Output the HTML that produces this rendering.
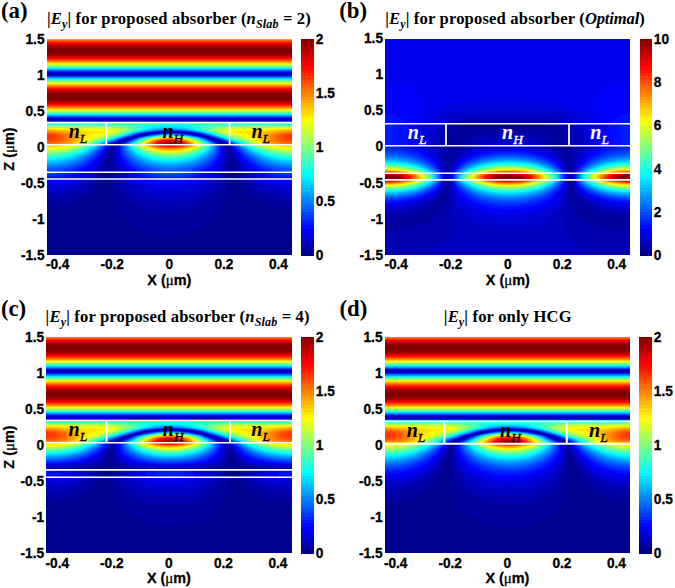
<!DOCTYPE html>
<html><head><meta charset="utf-8"><title>Ey field maps</title><style>

html,body{margin:0;padding:0;background:#fff}
body{width:675px;height:588px;position:relative;overflow:hidden;font-family:"Liberation Sans",sans-serif;color:#000}
.hm{position:absolute;overflow:hidden}
.hm i{display:block;height:1px;width:100%;background:linear-gradient(90deg,var(--g))}
.cb{position:absolute}
.ov{position:absolute;left:0;top:0;pointer-events:none}
.tk{position:absolute;font:bold 13.7px/16px "Liberation Sans",sans-serif;white-space:nowrap;-webkit-text-stroke:0.3px #000;transform:scaleY(1.04)}
.zr{width:40px;text-align:right}
.xc{width:40px;text-align:center}
.cl{text-align:left}
.ax{position:absolute;font:bold 14.4px/16px "Liberation Sans",sans-serif;white-space:nowrap;-webkit-text-stroke:0.3px #000}
.zl{width:80px;text-align:center;transform:rotate(-90deg);transform-origin:50% 50%}
.mu{font-family:"Liberation Serif",serif;font-weight:normal;font-size:15px}
.pl{position:absolute;font:bold 22.8px/24px "Liberation Serif",serif;white-space:nowrap}
.tt{position:absolute;font:bold 16.6px/18px "Liberation Serif",serif;white-space:nowrap;letter-spacing:0.16px}
.tt sub{font-size:12px;vertical-align:baseline;position:relative;top:3.5px}
.nl{position:absolute;width:60px;text-align:center;font:italic bold 20px/24px "Liberation Serif",serif;white-space:nowrap}
.nl sub{font-size:13.5px;font-weight:normal;-webkit-text-stroke:0.35px currentColor;vertical-align:baseline;position:relative;top:5px}

</style></head><body>
<div class="hm" style="left:47px;top:39px;width:245px;height:216px"><i style="--g:#ff9500,#ff9500"></i><i style="--g:#ff6600,#ff6600"></i><i style="--g:#ff3b00,#ff3b00"></i><i style="--g:#ff1400,#ff1400"></i><i style="--g:#f00000,#f00000"></i><i style="--g:#d20000,#d20000"></i><i style="--g:#b70000,#b70000"></i><i style="--g:#a10000,#a10000"></i><i style="--g:#900000,#900000"></i><i style="--g:#830000,#830000"></i><i style="--g:#800000,#800000;height:4px"></i><i style="--g:#8a0000,#8a0000"></i><i style="--g:#9a0000,#9a0000"></i><i style="--g:#ae0000,#ae0000"></i><i style="--g:#c70000,#c70000"></i><i style="--g:#e40000,#e40000"></i><i style="--g:#ff0600,#ff0600"></i><i style="--g:#ff2b00,#ff2b00"></i><i style="--g:#ff5500,#ff5500"></i><i style="--g:#ff8200,#ff8200"></i><i style="--g:#ffb200,#ffb200"></i><i style="--g:#ffe600,#ffe600"></i><i style="--g:#e1ff1e,#e1ff1e"></i><i style="--g:#a7ff58,#a7ff58"></i><i style="--g:#6bff94,#6bff94"></i><i style="--g:#2dffd2,#2dffd2"></i><i style="--g:#00ebff,#00ebff"></i><i style="--g:#00a9ff,#00a9ff"></i><i style="--g:#0066ff,#0066ff"></i><i style="--g:#0021ff,#0021ff"></i><i style="--g:#0000df,#0000df"></i><i style="--g:#00008f,#00008f"></i><i style="--g:#0000bf,#0000bf"></i><i style="--g:#0000ff,#0000ff"></i><i style="--g:#004aff,#004aff"></i><i style="--g:#008eff,#008eff"></i><i style="--g:#00d1ff,#00d1ff"></i><i style="--g:#13ffec,#13ffec"></i><i style="--g:#52ffad,#52ffad"></i><i style="--g:#8fff70,#8fff70"></i><i style="--g:#caff35,#caff35"></i><i style="--g:#fffc00,#fffc00"></i><i style="--g:#ffc700,#ffc700"></i><i style="--g:#ff9500,#ff9500"></i><i style="--g:#ff6600,#ff6600"></i><i style="--g:#ff3b00,#ff3b00"></i><i style="--g:#ff1400,#ff1400"></i><i style="--g:#f00000,#f00000"></i><i style="--g:#d20000,#d20000"></i><i style="--g:#b70000,#b70000"></i><i style="--g:#a10000,#a10000"></i><i style="--g:#900000,#900000"></i><i style="--g:#830000,#830000"></i><i style="--g:#800000,#800000;height:4px"></i><i style="--g:#8a0000,#8a0000"></i><i style="--g:#9a0000,#9a0000"></i><i style="--g:#ae0000,#ae0000"></i><i style="--g:#c70000,#c70000"></i><i style="--g:#e40000,#e40000"></i><i style="--g:#ff0600,#ff0600"></i><i style="--g:#ff2b00,#ff2b00"></i><i style="--g:#ff5500,#ff5500"></i><i style="--g:#ff8200,#ff8200"></i><i style="--g:#ffb200,#ffb200"></i><i style="--g:#ffe600,#ffe600"></i><i style="--g:#e1ff1e,#e1ff1e"></i><i style="--g:#a7ff58,#a7ff58"></i><i style="--g:#6bff94,#6bff94"></i><i style="--g:#2dffd2,#2dffd2"></i><i style="--g:#00ebff,#00ebff"></i><i style="--g:#00a9ff,#00a9ff"></i><i style="--g:#0066ff,#0066ff"></i><i style="--g:#0021ff,#0021ff"></i><i style="--g:#0000df,#0000df"></i><i style="--g:#00008f,#00008f"></i><i style="--g:#0000bf,#0000bf"></i><i style="--g:#0000ff,#0000ff"></i><i style="--g:#004aff,#004aff"></i><i style="--g:#00ecff,#00f0ff 57px,#00deff 106px,#00dbff 133px,#00f0ff 188px,#00edff 235px,#00ecff"></i><i style="--g:#29ffd6,#34ffcb 71px,#24ffdb 93px,#09fff6 119px,#0ffff0 136px,#31ffce 168px,#32ffcd 202px,#29ffd6"></i><i style="--g:#62ff9d,#65ff9a 37px,#68ff97 59px,#53ffac 75px,#19ffe6 103px,#0afff5 120px,#12ffed 138px,#33ffcc 157px,#61ff9e 180px,#6aff95 196px,#61ff9e 233px,#62ff9d"></i><i style="--g:#9cff63,#92ff6d 34px,#97ff68 56px,#84ff7b 68px,#4cffb3 84px,#14ffeb 100px,#00feff 111px,#00f6ff 126px,#02fffd 138px,#22ffdd 151px,#80ff7f 177px,#95ff6a 188px,#97ff68 203px,#93ff6c 224px,#9cff63"></i><i style="--g:#d4ff2b,#c7ff38 18px,#bcff43 35px,#beff41 56px,#acff53 66px,#7fff80 77px,#0dfff2 99px,#00fbff 103px,#00deff 114px,#00d6ff 125px,#00e5ff 136px,#03fffc 145px,#47ffb8 159px,#95ff6a 174px,#b5ff4a 184px,#c0ff3f 195px,#beff41 219px,#d4ff2b"></i><i style="--g:#fff700,#fcff03 13px,#dfff20 33px,#d9ff26 58px,#c4ff3b 67px,#9bff64 76px,#2fffd0 92px,#00ffff 99px,#00cbff 109px,#00b1ff 118px,#00aeff 126px,#00c2ff 135px,#00ebff 144px,#00fdff 147px,#5effa1 161px,#a9ff56 173px,#ccff33 182px,#dcff23 192px,#e1ff1e 216px,#fffd00 237px,#fff700"></i><i style="--g:#ffcd00,#ffd700 11px,#feff01 30px,#f2ff0d 44px,#e9ff16 60px,#d1ff2e 69px,#a0ff5f 78px,#4affb5 89px,#04fffb 97px,#00e2ff 101px,#00a4ff 110px,#0087ff 117px,#007fff 124px,#008cff 131px,#00b4ff 139px,#01fffe 149px,#88ff77 165px,#c1ff3e 174px,#e3ff1c 183px,#f0ff0f 194px,#f9ff06 213px,#fffc00 219px,#ffd000 240px,#ffcd00"></i><i style="--g:#ffaa00,#ffb500 10px,#fff000 33px,#fffa00 48px,#fbff04 59px,#e3ff1c 67px,#bbff44 74px,#78ff87 82px,#05fffa 93px,#00eeff 95px,#008bff 105px,#0058ff 112px,#003eff 118px,#0037ff 124px,#0043ff 130px,#0068ff 137px,#00acff 145px,#00ffff 153px,#87ff78 166px,#c6ff39 174px,#edff12 182px,#ffff00 190px,#fff200 212px,#ffd100 226px,#ffae00 240px,#ffaa00"></i><i style="--g:#ff8c00,#ff9600 9px,#ffdb00 31px,#ffe700 42px,#ffef00 56px,#ffff00 62px,#d8ff27 69px,#9bff64 76px,#3dffc2 84px,#08fff7 88px,#00faff 89px,#0060ff 101px,#0018ff 108px,#0010ff 109px,#0000ff 110px,#0000ff 112px,#0000ef 113px,#0000ef 115px,#0000df 116px,#0000df 119px,#0000cf 120px,#0000cf 126px,#0000df 127px,#0000df 131px,#0000ef 132px,#0000ef 134px,#0000ff 135px,#0000ff 136px,#0010ff 137px,#0010ff 138px,#007fff 148px,#03fffc 158px,#81ff7e 168px,#c6ff39 175px,#f4ff0b 182px,#fffd00 185px,#ffeb00 193px,#ffe100 212px,#ffc600 223px,#ff9500 238px,#ff8c00"></i><i style="--g:#ff6f00,#ff7900 8px,#ffac00 21px,#ffd300 32px,#ffe000 43px,#ffe800 55px,#ffff00 62px,#d8ff27 68px,#9cff63 74px,#3effc1 81px,#01fffe 85px,#0025ff 99px,#0010ff 100px,#0010ff 101px,#0000ff 102px,#0000cf 105px,#0000cf 106px,#0000af 108px,#0000af 109px,#00009f 110px,#00009f 111px,#00008f 112px,#00008f 115px,#00009f 116px,#00009f 120px,#0000af 121px,#0000af 126px,#00009f 127px,#00009f 130px,#00008f 131px,#00008f 135px,#00009f 136px,#00009f 137px,#0000bf 139px,#0000bf 140px,#0000ef 143px,#0000ef 144px,#0000ff 145px,#00daff 159px,#00faff 161px,#1affe5 163px,#7eff81 170px,#c2ff3d 176px,#f2ff0d 182px,#fffc00 185px,#ffe700 192px,#ffd800 212px,#ffba00 222px,#ff7a00 238px,#ff6f00"></i><i style="--g:#ff5400,#ff5d00 7px,#ff8200 16px,#ffc600 30px,#ffe100 40px,#fff700 55px,#fdff02 58px,#dcff23 64px,#a5ff5a 70px,#58ffa7 76px,#09fff6 81px,#00f7ff 82px,#001bff 94px,#0010ff 95px,#0000ef 96px,#00008f 102px,#00008f 103px,#0000bf 106px,#0000bf 107px,#0000ef 110px,#0000ef 111px,#0000ff 112px,#0010ff 113px,#0010ff 115px,#001eff 116px,#0032ff 121px,#0031ff 126px,#001aff 131px,#0010ff 132px,#0010ff 133px,#0000ff 134px,#0000ff 135px,#0000df 137px,#0000df 138px,#00008f 143px,#00008f 144px,#0000ff 151px,#00f0ff 164px,#03fffc 165px,#6fff90 172px,#b6ff49 178px,#e6ff19 184px,#ffff00 189px,#ffeb00 198px,#ffd700 211px,#ffb200 221px,#ff6800 236px,#ff5600 243px,#ff5400"></i><i style="--g:#ff4100,#ff4a00 7px,#ff7100 16px,#ffc400 31px,#ffe600 41px,#feff01 52px,#e0ff1f 59px,#b5ff4a 65px,#73ff8c 71px,#19ffe6 77px,#08fff7 78px,#00f6ff 79px,#005bff 87px,#001dff 90px,#0010ff 91px,#0000ef 92px,#0000cf 94px,#0000af 95px,#00008f 97px,#00008f 98px,#0000af 99px,#0000ff 104px,#0032ff 107px,#0071ff 112px,#009bff 117px,#00adff 122px,#00a7ff 127px,#0088ff 132px,#0053ff 137px,#0000ff 143px,#0000ef 144px,#0000cf 145px,#00008f 149px,#0000cf 153px,#0000ef 154px,#0000ff 155px,#0010ff 156px,#003eff 158px,#00ddff 166px,#01fffe 168px,#60ff9f 174px,#a7ff58 180px,#d8ff27 186px,#f9ff06 193px,#fff900 197px,#ffd200 212px,#ff9c00 223px,#ff5600 236px,#ff4200 243px,#ff4100"></i><i style="--g:#ff3200,#ff3c00 7px,#ff5f00 15px,#ffce00 34px,#fffe00 46px,#dbff24 55px,#abff54 62px,#6cff93 68px,#17ffe8 74px,#06fff9 75px,#00f4ff 76px,#0082ff 82px,#002dff 86px,#0010ff 87px,#0000ff 88px,#0000ef 89px,#0000cf 90px,#0000bf 91px,#00009f 92px,#00008f 93px,#00008f 94px,#0000af 95px,#0000cf 97px,#0000ef 98px,#0000ff 99px,#0010ff 100px,#002bff 101px,#0097ff 107px,#00dcff 112px,#00fbff 115px,#11ffee 118px,#1fffe0 122px,#1cffe3 126px,#00feff 131px,#00c8ff 136px,#007cff 141px,#001fff 146px,#0010ff 147px,#0000ef 148px,#0000cf 150px,#0000af 151px,#00008f 153px,#0000af 155px,#0000cf 156px,#0000df 157px,#0000ff 158px,#0024ff 160px,#00b6ff 167px,#00ffff 171px,#5bffa4 177px,#9eff61 183px,#cdff32 189px,#f8ff07 198px,#fffb00 201px,#ffc600 214px,#ff4d00 235px,#ff3600 242px,#ff3200"></i><i style="--g:#ff3000,#ff3a00 7px,#ff5c00 15px,#ffd900 36px,#fffe00 44px,#cbff34 54px,#92ff6d 61px,#4cffb3 67px,#00feff 72px,#008cff 78px,#001fff 83px,#0010ff 84px,#0000ef 85px,#0000df 86px,#0000bf 87px,#0000af 88px,#00008f 89px,#00008f 90px,#0000af 91px,#0000bf 92px,#0000df 93px,#0000ef 94px,#0010ff 95px,#00a9ff 102px,#00f5ff 106px,#07fff8 107px,#50ffaf 112px,#78ff87 116px,#90ff6f 120px,#95ff6a 124px,#88ff77 128px,#6aff95 132px,#2dffd2 137px,#00fcff 140px,#009dff 145px,#002fff 150px,#0010ff 151px,#0000ff 152px,#0000ef 153px,#0000cf 154px,#0000bf 155px,#00009f 156px,#00008f 157px,#0000af 159px,#0000cf 160px,#0000df 161px,#0000ff 162px,#0010ff 163px,#002dff 164px,#00c0ff 171px,#00f7ff 174px,#09fff6 175px,#54ffab 180px,#98ff67 186px,#cfff30 193px,#feff01 202px,#ffba00 216px,#ff4f00 234px,#ff3600 241px,#ff3000"></i><i style="--g:#ff3000,#ff3a00 7px,#ff5c00 15px,#ffdf00 37px,#fffe00 43px,#d0ff2f 51px,#9eff61 57px,#57ffa8 63px,#09fff6 68px,#00f6ff 69px,#007dff 75px,#0021ff 79px,#0010ff 80px,#0000ef 81px,#0000cf 82px,#0000bf 83px,#00009f 84px,#00008f 85px,#00009f 86px,#0000bf 87px,#0000cf 88px,#0000ef 89px,#0000ff 90px,#0020ff 91px,#00ccff 98px,#00faff 100px,#25ffda 102px,#83ff7c 107px,#cbff34 112px,#f3ff0c 116px,#fffe00 118px,#fff000 122px,#fff300 126px,#fdff02 129px,#dbff24 133px,#99ff66 138px,#41ffbe 143px,#03fffc 146px,#00beff 149px,#0010ff 156px,#0000ef 157px,#0000df 158px,#0000bf 159px,#0000af 160px,#00008f 161px,#0000af 163px,#0000cf 164px,#0000df 165px,#0000ff 166px,#0010ff 167px,#0030ff 168px,#00b4ff 174px,#02fffd 178px,#51ffae 183px,#9aff65 189px,#d5ff2a 196px,#feff01 203px,#ffa200 220px,#ff4f00 234px,#ff3600 241px,#ff3000"></i><i style="--g:#ff3100,#ff3a00 7px,#ff5b00 15px,#fcff03 42px,#b9ff46 51px,#7cff83 57px,#29ffd6 63px,#08fff7 65px,#00f6ff 66px,#0094ff 71px,#0022ff 76px,#0010ff 77px,#0000ef 78px,#0000cf 79px,#0000bf 80px,#00009f 81px,#00008f 82px,#00009f 83px,#0000bf 84px,#0000cf 85px,#0000ef 86px,#0010ff 87px,#00f8ff 96px,#12ffed 97px,#98ff67 103px,#f3ff0c 108px,#fffb00 109px,#ffc700 113px,#ffa300 117px,#ff9000 121px,#ff8f00 125px,#ffa000 129px,#ffc300 133px,#fff500 137px,#f9ff06 138px,#a0ff5f 143px,#33ffcc 148px,#03fffc 150px,#009cff 154px,#0032ff 158px,#0010ff 159px,#0000ff 160px,#0000bf 162px,#0000af 163px,#00008f 164px,#0000af 166px,#0000cf 167px,#0000df 168px,#0000ff 169px,#008bff 175px,#00eeff 180px,#01fffe 181px,#50ffaf 186px,#99ff66 192px,#d7ff28 199px,#fffe00 205px,#ff5800 232px,#ff3800 240px,#ff3100"></i><i style="--g:#ff3700,#ff3f00 7px,#ff5d00 15px,#ffa600 27px,#fffe00 39px,#b0ff4f 48px,#62ff9d 55px,#00fcff 62px,#0090ff 68px,#0010ff 74px,#0000ef 75px,#0000df 76px,#0000bf 77px,#0000af 78px,#00008f 79px,#00008f 80px,#0000cf 82px,#0000df 83px,#0000ff 84px,#00eeff 93px,#09fff6 94px,#b5ff4a 101px,#f5ff0a 104px,#fff500 105px,#ff9e00 110px,#ff6a00 114px,#ff4800 118px,#ff3800 122px,#ff3c00 126px,#ff5300 130px,#ff7d00 134px,#ffb700 138px,#fdff02 142px,#90ff6f 147px,#14ffeb 152px,#00f9ff 153px,#0023ff 161px,#0010ff 162px,#0000ef 163px,#0000cf 164px,#0000bf 165px,#00009f 166px,#00008f 167px,#00009f 168px,#0000bf 169px,#0000cf 170px,#0000ef 171px,#0000ff 172px,#001dff 173px,#009cff 179px,#00f6ff 184px,#07fff8 185px,#5dffa2 191px,#acff53 198px,#fdff02 207px,#ff8100 225px,#ff4d00 235px,#ff3800 243px,#ff3700"></i><i style="--g:#ff4200,#ff4b00 8px,#ff6c00 17px,#ffa200 26px,#fff500 36px,#fffe00 37px,#a1ff5e 46px,#3affc5 54px,#00feff 58px,#0086ff 65px,#0010ff 71px,#0000ff 72px,#0000df 73px,#0000cf 74px,#0000af 75px,#00008f 77px,#00009f 78px,#0000bf 79px,#0000cf 80px,#0000ef 81px,#0000ff 82px,#0039ff 84px,#00f1ff 91px,#0dfff2 92px,#d7ff28 100px,#efff10 101px,#fff900 102px,#ff9100 107px,#ff3f00 112px,#ff1100 116px,#ff0100 118px,#f00000 122px,#f40000 126px,#fe0000 128px,#ff1700 131px,#ff4800 135px,#ff9c00 140px,#fff000 144px,#f8ff07 145px,#4bffb4 152px,#00fcff 155px,#0010ff 164px,#0000ef 165px,#0000df 166px,#0000bf 167px,#0000af 168px,#00008f 169px,#00008f 170px,#0000af 171px,#0000bf 172px,#0000df 173px,#0000ff 175px,#001bff 176px,#00a3ff 183px,#00f7ff 188px,#08fff7 189px,#78ff87 197px,#deff21 206px,#fcff03 209px,#ff9e00 221px,#ff6900 230px,#ff4900 239px,#ff4200"></i><i style="--g:#ff4f00,#ff5800 9px,#ff7800 18px,#ffa900 26px,#fcff03 36px,#91ff6e 45px,#00fdff 55px,#0072ff 63px,#0010ff 68px,#0000ff 69px,#0000df 70px,#0000bf 72px,#00009f 73px,#00008f 74px,#00008f 75px,#0000af 76px,#0000bf 77px,#0000df 78px,#0000ef 79px,#0010ff 80px,#0056ff 83px,#00efff 89px,#0afff5 90px,#ecff13 99px,#fffb00 100px,#ff7900 106px,#ff2300 111px,#ff0700 113px,#fa0000 114px,#d50000 118px,#c50000 122px,#c90000 126px,#e20000 130px,#ff0200 133px,#ff3c00 137px,#ff9900 142px,#fff100 146px,#f5ff0a 147px,#14ffeb 156px,#00f9ff 157px,#002fff 165px,#0010ff 166px,#0000ff 167px,#0000df 168px,#0000cf 169px,#0000af 170px,#00008f 172px,#0000af 174px,#0000cf 175px,#0000ef 177px,#0010ff 178px,#001dff 179px,#00b3ff 187px,#00f6ff 191px,#08fff7 192px,#8bff74 201px,#f7ff08 210px,#fffc00 211px,#ffb300 219px,#ff7f00 227px,#ff5c00 236px,#ff4f00"></i><i style="--g:#ff6100,#ff6b00 10px,#ff8900 19px,#ffbb00 27px,#fffa00 34px,#eeff11 36px,#89ff76 44px,#0dfff2 52px,#00fbff 53px,#0058ff 62px,#001dff 65px,#0010ff 66px,#0000ef 67px,#0000cf 69px,#0000af 70px,#00008f 72px,#0000af 74px,#0000cf 75px,#0000df 76px,#0000ff 77px,#0010ff 78px,#00ebff 87px,#05fffa 88px,#faff05 98px,#ffd700 100px,#ff5a00 106px,#ff0800 111px,#f90000 112px,#cc0000 116px,#b30000 120px,#ad0000 124px,#bb0000 128px,#dc0000 132px,#ff0200 135px,#ff5300 140px,#ffce00 146px,#fffb00 148px,#d4ff2b 150px,#0ffff0 158px,#00f5ff 159px,#0000ff 169px,#0000ef 170px,#0000cf 171px,#0000bf 172px,#00009f 173px,#00008f 174px,#00008f 175px,#0000af 176px,#0000cf 178px,#0000ef 179px,#0000ff 180px,#0010ff 181px,#003dff 183px,#00e3ff 192px,#00f5ff 193px,#07fff8 194px,#83ff7c 202px,#eaff15 210px,#fffe00 212px,#ffbe00 219px,#ff8b00 227px,#ff6b00 236px,#ff6100"></i><i style="--g:#ff7900,#ff8300 11px,#ff9c00 19px,#ffc300 26px,#feff01 33px,#acff53 40px,#45ffba 47px,#02fffd 51px,#007fff 58px,#001cff 63px,#0000ff 64px,#0000df 66px,#0000bf 67px,#00008f 70px,#0000af 72px,#0000cf 73px,#0000df 74px,#0000ff 75px,#0010ff 76px,#00feff 86px,#eeff11 96px,#fffa00 97px,#ff7900 103px,#ff1e00 108px,#ff0000 110px,#cc0000 114px,#ab0000 118px,#9b0000 122px,#9f0000 126px,#b60000 130px,#df0000 134px,#f90000 136px,#ff0800 137px,#ff5e00 142px,#ffda00 148px,#fff100 149px,#f7ff08 150px,#09fff6 160px,#00f0ff 161px,#0000ff 171px,#0000ef 172px,#0000cf 173px,#0000af 175px,#00008f 176px,#00008f 177px,#0000af 178px,#0000cf 180px,#0000ef 181px,#0000ff 182px,#0010ff 183px,#0050ff 186px,#00faff 195px,#1dffe2 197px,#99ff66 205px,#f0ff0f 212px,#fffa00 214px,#ffbf00 221px,#ff9900 228px,#ff8000 237px,#ff7900"></i><i style="--g:#ff9700,#ffa000 12px,#ffb700 20px,#ffde00 27px,#fffe00 31px,#c0ff3f 37px,#5fffa0 44px,#0cfff3 49px,#00f9ff 50px,#004cff 59px,#0010ff 62px,#0000ff 63px,#0000df 64px,#0000bf 66px,#00009f 67px,#00008f 68px,#0000bf 71px,#0000df 72px,#0000ef 73px,#0010ff 74px,#0039ff 76px,#00f4ff 84px,#0dfff2 85px,#f4ff0b 95px,#fff400 96px,#ff6400 103px,#ff0e00 108px,#fe0000 109px,#c00000 114px,#a10000 118px,#920000 122px,#960000 126px,#ab0000 130px,#de0000 135px,#f80000 137px,#ff0800 138px,#ff5c00 143px,#fdff02 151px,#00fdff 162px,#002bff 171px,#0010ff 172px,#0000ff 173px,#0000df 174px,#0000bf 176px,#00009f 177px,#00008f 178px,#0000bf 181px,#0000df 182px,#0000ff 184px,#0030ff 186px,#00e0ff 195px,#05fffa 197px,#77ff88 204px,#d3ff2c 211px,#fcff03 215px,#ffc700 223px,#ffa700 231px,#ff9800 242px,#ff9700"></i><i style="--g:#ffba00,#ffc300 11px,#ffdf00 20px,#feff01 26px,#c2ff3d 33px,#70ff8f 40px,#08fff7 47px,#00f6ff 48px,#0066ff 56px,#002bff 59px,#0010ff 60px,#0000ff 61px,#0000df 63px,#0000bf 64px,#00008f 67px,#0000af 69px,#0000cf 70px,#0000ef 72px,#0010ff 73px,#03fffc 84px,#f0ff0f 95px,#fffa00 96px,#ff7700 103px,#ff1d00 109px,#ff0400 111px,#e50000 114px,#c40000 119px,#bc0000 124px,#cc0000 129px,#f40000 134px,#ff0000 135px,#ff4100 140px,#ffa500 146px,#fff200 150px,#f8ff07 151px,#0bfff4 162px,#00f4ff 163px,#002cff 172px,#0010ff 173px,#0000ff 174px,#0000ef 175px,#0000cf 176px,#0000af 178px,#00008f 179px,#00008f 180px,#00009f 181px,#0000bf 182px,#0000df 184px,#0000ff 185px,#00deff 197px,#01fffe 199px,#6bff94 206px,#beff41 213px,#fbff04 220px,#fff000 223px,#ffcd00 231px,#ffbc00 241px,#ffba00"></i><i style="--g:#ffd100,#ffdb00 10px,#fff800 19px,#f6ff09 22px,#c5ff3a 29px,#80ff7f 36px,#26ffd9 43px,#09fff6 45px,#00f9ff 46px,#0074ff 54px,#0018ff 59px,#0000ff 60px,#0000cf 63px,#0000af 64px,#00008f 66px,#00008f 67px,#0000af 68px,#0000df 71px,#0000ff 72px,#0026ff 74px,#00f6ff 84px,#0cfff3 85px,#d1ff2e 95px,#f5ff0a 97px,#fff700 98px,#ff8800 105px,#ff4000 111px,#ff1700 116px,#ff0300 121px,#ff0400 126px,#ff1b00 131px,#ff4600 136px,#ff9100 142px,#fdff02 149px,#51ffae 158px,#00ffff 162px,#0019ff 173px,#0000ff 174px,#0000df 176px,#0000bf 177px,#00008f 180px,#0000cf 184px,#0000ef 185px,#0000ff 186px,#00c3ff 197px,#03fffc 201px,#63ff9c 208px,#afff50 215px,#e7ff18 222px,#ffff00 226px,#ffde00 235px,#ffd100"></i><i style="--g:#ffeb00,#fff300 9px,#fdff02 14px,#d8ff27 22px,#9dff62 30px,#55ffaa 37px,#09fff6 43px,#00faff 44px,#006fff 53px,#0019ff 58px,#0000ff 59px,#0000af 64px,#00008f 65px,#00008f 66px,#0000bf 69px,#0000df 70px,#0000ff 72px,#0010ff 73px,#00d7ff 83px,#00fdff 85px,#c4ff3b 96px,#f4ff0b 99px,#fffb00 100px,#ffaa00 106px,#ff6d00 112px,#ff4c00 117px,#ff3e00 122px,#ff4300 127px,#ff5b00 132px,#ff8f00 138px,#ffd800 144px,#fff500 146px,#faff05 147px,#75ff8a 155px,#06fff9 161px,#00deff 163px,#001bff 173px,#0000ff 174px,#0000bf 178px,#00009f 179px,#00008f 180px,#00008f 181px,#0000af 183px,#0000cf 184px,#0000ff 187px,#00aaff 197px,#00f5ff 202px,#04fffb 203px,#67ff98 211px,#aaff55 218px,#e1ff1e 226px,#ffff00 233px,#ffec00 242px,#ffeb00"></i><i style="--g:#f9ff06,#f0ff0f 9px,#d1ff2e 18px,#a0ff5f 26px,#59ffa6 34px,#09fff6 41px,#00fbff 42px,#007bff 51px,#001aff 57px,#0000ff 59px,#0000df 60px,#00008f 65px,#00008f 66px,#0000af 68px,#0000cf 69px,#0000ff 72px,#01fffe 86px,#96ff69 95px,#f9ff06 102px,#ffec00 104px,#ffaf00 110px,#ff8600 116px,#ff7600 121px,#ff7700 126px,#ff8f00 132px,#ffbd00 138px,#feff01 144px,#9dff62 151px,#08fff7 160px,#00f6ff 161px,#001bff 173px,#0010ff 174px,#0000ef 175px,#00008f 181px,#0000ff 188px,#0075ff 195px,#00f6ff 204px,#04fffb 205px,#5fffa0 213px,#a4ff5b 221px,#d3ff2c 229px,#f1ff0e 238px,#f9ff06"></i><i style="--g:#dfff20,#d5ff2a 9px,#b5ff4a 18px,#83ff7c 26px,#3effc1 34px,#08fff7 39px,#00fbff 40px,#0085ff 49px,#0000ff 58px,#0000af 63px,#00008f 64px,#00008f 65px,#0000ff 72px,#00f0ff 86px,#01fffe 87px,#89ff76 96px,#e1ff1e 103px,#fffe00 106px,#ffcd00 112px,#ffaf00 118px,#ffa700 124px,#ffb500 130px,#ffd800 136px,#fffa00 140px,#f0ff0f 142px,#9cff63 149px,#18ffe7 158px,#08fff7 159px,#00f6ff 160px,#001aff 173px,#0010ff 174px,#0000ef 175px,#00008f 181px,#00008f 182px,#0000ff 189px,#0044ff 193px,#00c4ff 202px,#03fffc 207px,#57ffa8 215px,#96ff69 223px,#c1ff3e 231px,#daff25 240px,#dfff20"></i><i style="--g:#c5ff3a,#bbff44 9px,#9aff65 18px,#69ff96 26px,#1affe5 35px,#06fff9 37px,#00efff 39px,#0080ff 48px,#0000ff 57px,#00008f 64px,#00008f 65px,#0000ff 72px,#00e0ff 86px,#00feff 88px,#86ff79 98px,#d1ff2e 105px,#faff05 110px,#fff700 112px,#ffdc00 118px,#ffd500 124px,#ffe100 130px,#fdff02 136px,#c2ff3d 143px,#66ff99 151px,#05fffa 158px,#00e6ff 160px,#0018ff 173px,#0000ff 174px,#00008f 181px,#00008f 182px,#0000ff 189px,#0000ff 190px,#0034ff 193px,#00bbff 203px,#01fffe 209px,#56ffa9 218px,#8dff72 226px,#b4ff4b 235px,#c4ff3b 244px,#c5ff3a"></i><i style="--g:#abff54,#a1ff5e 9px,#80ff7f 18px,#48ffb7 27px,#03fffc 35px,#00ceff 40px,#0054ff 50px,#0000ff 56px,#0000bf 60px,#0000bf 61px,#00008f 64px,#00008f 65px,#0000ff 72px,#00deff 87px,#00faff 89px,#15ffea 91px,#80ff7f 100px,#bfff40 107px,#ebff14 114px,#ffff00 121px,#faff05 128px,#ddff22 135px,#aaff55 142px,#58ffa7 150px,#00ffff 157px,#0043ff 170px,#0025ff 172px,#0000ff 174px,#0000cf 177px,#0000cf 178px,#00008f 182px,#00008f 183px,#0000ff 190px,#0010ff 191px,#0010ff 192px,#0026ff 193px,#00a7ff 203px,#00feff 211px,#54ffab 221px,#87ff78 230px,#a4ff5b 239px,#abff54"></i><i style="--g:#91ff6e,#87ff78 9px,#67ff98 18px,#30ffcf 27px,#00feff 33px,#0099ff 43px,#001eff 53px,#0000ff 55px,#0000ef 56px,#0000ef 57px,#00008f 63px,#00008f 64px,#00009f 65px,#00009f 66px,#0000ff 72px,#00dbff 88px,#01fffe 91px,#64ff9b 100px,#a5ff5a 108px,#caff35 115px,#d9ff26 122px,#d2ff2d 129px,#b4ff4b 136px,#82ff7d 143px,#34ffcb 151px,#06fff9 155px,#00f9ff 156px,#0059ff 168px,#0000ff 174px,#0000cf 177px,#0000cf 178px,#00008f 182px,#00008f 183px,#0000bf 186px,#0000bf 187px,#0000ff 191px,#0010ff 192px,#00b6ff 206px,#00fbff 213px,#16ffe9 216px,#55ffaa 225px,#7eff81 234px,#90ff6f 243px,#91ff6e"></i><i style="--g:#78ff87,#6eff91 9px,#4fffb0 18px,#19ffe6 27px,#03fffc 30px,#00ceff 36px,#0066ff 46px,#0010ff 53px,#0000ff 54px,#0000ff 55px,#0000bf 59px,#0000bf 60px,#00008f 63px,#00008f 64px,#0000af 66px,#0000af 67px,#0000ff 72px,#0010ff 73px,#0010ff 74px,#0024ff 75px,#00caff 88px,#00f8ff 92px,#04fffb 93px,#5bffa4 102px,#92ff6d 110px,#aeff51 117px,#b6ff49 124px,#a9ff56 131px,#88ff77 138px,#4dffb2 146px,#00fdff 154px,#0078ff 165px,#0000ff 174px,#0000cf 177px,#0000cf 178px,#00008f 182px,#00008f 184px,#0000df 189px,#0000df 190px,#0000ff 192px,#001aff 194px,#0099ff 205px,#00f7ff 215px,#00ffff 216px,#3dffc2 225px,#65ff9a 234px,#77ff88 243px,#78ff87"></i><i style="--g:#60ff9f,#56ffa9 9px,#37ffc8 18px,#00fcff 28px,#00a9ff 38px,#0037ff 49px,#0010ff 52px,#0010ff 53px,#0000ff 54px,#0000cf 57px,#0000cf 58px,#00009f 61px,#00009f 62px,#00008f 63px,#00008f 64px,#0000af 66px,#0000af 67px,#0000ef 71px,#0000ef 72px,#0000ff 73px,#0037ff 77px,#00d0ff 90px,#00f9ff 94px,#0dfff2 96px,#56ffa9 105px,#81ff7e 113px,#93ff6c 120px,#92ff6d 127px,#7fff80 134px,#52ffad 142px,#00fdff 152px,#0086ff 163px,#0023ff 171px,#0010ff 172px,#0010ff 173px,#0000ff 174px,#0000cf 177px,#0000cf 178px,#00008f 182px,#00008f 184px,#0000bf 187px,#0000bf 188px,#0000ef 191px,#0000ef 192px,#0000ff 193px,#001bff 195px,#0092ff 206px,#00eaff 216px,#01fffe 219px,#36ffc9 228px,#55ffaa 237px,#60ff9f"></i><i style="--g:#48ffb7,#3fffc0 9px,#21ffde 18px,#02fffd 24px,#00caff 32px,#0069ff 43px,#0020ff 50px,#0010ff 51px,#0010ff 52px,#0000ff 53px,#0000df 55px,#0000df 56px,#0000bf 58px,#0000bf 59px,#00008f 62px,#00008f 64px,#0000af 66px,#0000af 67px,#0000ef 71px,#0000ef 72px,#0000ff 73px,#0010ff 74px,#00c0ff 90px,#01fffe 97px,#42ffbd 106px,#67ff98 114px,#76ff89 122px,#6eff91 130px,#50ffaf 138px,#15ffea 147px,#00fbff 150px,#009aff 160px,#0010ff 172px,#0000ff 173px,#0000ff 174px,#0000cf 177px,#0000cf 178px,#00009f 181px,#00009f 182px,#00008f 183px,#00008f 184px,#00009f 185px,#00009f 186px,#0000cf 189px,#0000cf 190px,#0000ff 193px,#0000ff 194px,#001bff 196px,#0094ff 208px,#00e5ff 218px,#00ffff 222px,#30ffcf 232px,#45ffba 241px,#48ffb7"></i><i style="--g:#32ffcd,#29ffd6 9px,#0cfff3 18px,#00fdff 21px,#00c0ff 31px,#0064ff 42px,#0020ff 49px,#0010ff 50px,#0010ff 51px,#0000ff 52px,#0000ef 53px,#0000ef 54px,#0000cf 56px,#0000cf 57px,#0000af 59px,#0000af 60px,#00008f 62px,#00008f 64px,#0000af 66px,#0000af 67px,#0000df 70px,#0000df 71px,#0000ff 73px,#0000ff 74px,#0029ff 77px,#00b0ff 90px,#00fbff 99px,#24ffdb 105px,#49ffb6 113px,#59ffa6 121px,#55ffaa 129px,#3bffc4 137px,#07fff8 146px,#00feff 147px,#00aaff 157px,#0023ff 170px,#0010ff 171px,#0010ff 172px,#0000ff 173px,#0000ef 174px,#0000ef 175px,#0000bf 178px,#0000bf 179px,#00009f 181px,#00009f 182px,#00008f 183px,#00008f 184px,#00009f 185px,#00009f 186px,#0000bf 188px,#0000bf 189px,#0000df 191px,#0000df 192px,#0000ff 194px,#0000ff 195px,#001cff 197px,#008dff 209px,#00d8ff 219px,#01fffe 226px,#23ffdc 235px,#31ffce 244px,#32ffcd"></i><i style="--g:#1cffe3,#13ffec 9px,#00feff 16px,#00ceff 26px,#0081ff 37px,#001fff 48px,#0010ff 49px,#0010ff 50px,#0000ff 51px,#0000ef 52px,#0000ef 53px,#0000df 54px,#0000df 55px,#0000bf 57px,#0000bf 58px,#00009f 60px,#00009f 61px,#00008f 62px,#00008f 64px,#0000af 66px,#0000af 67px,#0000df 70px,#0000df 71px,#0000ff 73px,#0000ff 74px,#0010ff 75px,#00a9ff 91px,#00f5ff 101px,#02fffd 103px,#2cffd3 112px,#3effc1 120px,#3cffc3 128px,#22ffdd 137px,#00fdff 144px,#00b5ff 154px,#0045ff 166px,#0010ff 171px,#0000ff 172px,#0000ff 173px,#0000df 175px,#0000df 176px,#0000bf 178px,#0000bf 179px,#00009f 181px,#00009f 182px,#00008f 183px,#00008f 185px,#0000af 187px,#0000af 188px,#0000cf 190px,#0000cf 191px,#0000ef 193px,#0000ef 194px,#0000ff 195px,#0000ff 196px,#001cff 198px,#0086ff 210px,#00d2ff 221px,#00fdff 230px,#19ffe6 241px,#1cffe3"></i><i style="--g:#07fff8,#00fcff 10px,#00dbff 20px,#00a4ff 30px,#0053ff 41px,#001fff 47px,#0010ff 48px,#0010ff 49px,#0000ff 50px,#0000ff 51px,#0000df 53px,#0000df 54px,#0000cf 55px,#0000cf 56px,#0000af 58px,#0000af 59px,#00008f 61px,#00008f 63px,#00009f 64px,#00009f 65px,#0000af 66px,#0000af 67px,#0000cf 69px,#0000cf 70px,#0000ef 72px,#0000ef 73px,#0000ff 74px,#0010ff 75px,#0010ff 76px,#0079ff 87px,#00ceff 98px,#00fcff 106px,#21ffde 117px,#26ffd9 126px,#13ffec 135px,#00feff 140px,#00c3ff 150px,#006bff 161px,#0020ff 169px,#0010ff 170px,#0010ff 171px,#0000ff 172px,#0000ff 173px,#0000df 175px,#0000df 176px,#0000bf 178px,#0000bf 179px,#00009f 181px,#00009f 182px,#00008f 183px,#00008f 185px,#00009f 186px,#00009f 187px,#0000bf 189px,#0000bf 190px,#0000df 192px,#0000df 193px,#0000ef 194px,#0000ef 195px,#0000ff 196px,#0010ff 197px,#0010ff 198px,#0068ff 208px,#00b4ff 219px,#00e5ff 229px,#00ffff 238px,#07fff8"></i><i style="--g:#00f2ff,#00e8ff 10px,#00c8ff 20px,#008eff 31px,#0037ff 43px,#001eff 46px,#0010ff 47px,#0010ff 48px,#0000ff 49px,#0000ff 50px,#0000ef 51px,#0000ef 52px,#0000cf 54px,#0000cf 55px,#0000bf 56px,#0000bf 57px,#00009f 59px,#00009f 60px,#00008f 61px,#00008f 63px,#00009f 64px,#00009f 65px,#0000af 66px,#0000af 67px,#0000cf 69px,#0000cf 70px,#0000df 71px,#0000df 72px,#0000ff 74px,#0000ff 75px,#0010ff 76px,#0010ff 77px,#0028ff 79px,#0094ff 92px,#00d4ff 102px,#00fbff 111px,#0cfff3 118px,#0efff1 127px,#00fcff 135px,#00d1ff 145px,#0088ff 156px,#0010ff 170px,#0000ff 171px,#0000ff 172px,#0000ef 173px,#0000ef 174px,#0000cf 176px,#0000cf 177px,#0000bf 178px,#0000bf 179px,#00009f 181px,#00009f 182px,#00008f 183px,#00008f 185px,#00009f 186px,#00009f 187px,#0000af 188px,#0000af 189px,#0000cf 191px,#0000cf 192px,#0000df 193px,#0000df 194px,#0000ef 195px,#0000ef 196px,#0000ff 197px,#0010ff 198px,#0010ff 199px,#0062ff 209px,#00a9ff 220px,#00d6ff 230px,#00eeff 240px,#00f2ff"></i><i style="--g:#00dfff,#00d5ff 10px,#00b7ff 20px,#007fff 31px,#0024ff 44px,#0010ff 46px,#0010ff 47px,#0000ff 48px,#0000ff 49px,#0000ef 50px,#0000ef 51px,#0000df 52px,#0000df 53px,#0000bf 55px,#0000bf 56px,#0000af 57px,#0000af 58px,#00009f 59px,#00009f 60px,#00008f 61px,#00008f 63px,#00009f 64px,#00009f 65px,#0000af 66px,#0000af 67px,#0000bf 68px,#0000bf 69px,#0000df 71px,#0000df 72px,#0000ef 73px,#0000ef 74px,#0000ff 75px,#0000ff 76px,#0010ff 77px,#0010ff 78px,#0020ff 79px,#0086ff 92px,#00c7ff 103px,#00ecff 113px,#00f9ff 122px,#00f2ff 131px,#00d2ff 141px,#009cff 151px,#0045ff 163px,#0010ff 169px,#0010ff 170px,#0000ff 171px,#0000ff 172px,#0000df 174px,#0000df 175px,#0000cf 176px,#0000cf 177px,#0000bf 178px,#0000bf 179px,#00009f 181px,#00009f 182px,#00008f 183px,#00008f 186px,#0000af 188px,#0000af 189px,#0000bf 190px,#0000bf 191px,#0000cf 192px,#0000cf 193px,#0000df 194px,#0000df 195px,#0000ff 197px,#0000ff 198px,#0010ff 199px,#0010ff 200px,#0063ff 211px,#00a3ff 222px,#00cdff 233px,#00deff 243px,#00dfff"></i><i style="--g:#00cdff,#00c4ff 10px,#00a3ff 21px,#006cff 32px,#001bff 44px,#0010ff 45px,#0010ff 46px,#0000ff 47px,#0000ff 48px,#0000ef 49px,#0000ef 50px,#0000df 51px,#0000df 52px,#0000cf 53px,#0000cf 54px,#0000bf 55px,#0000bf 56px,#0000af 57px,#0000af 58px,#00009f 59px,#00009f 60px,#00008f 61px,#00008f 63px,#00009f 64px,#00009f 65px,#0000af 66px,#0000af 67px,#0000bf 68px,#0000bf 69px,#0000cf 70px,#0000cf 71px,#0000df 72px,#0000df 73px,#0000ff 75px,#0000ff 76px,#0010ff 77px,#0010ff 78px,#0072ff 91px,#00b1ff 102px,#00d6ff 112px,#00e5ff 122px,#00dcff 132px,#00bcff 142px,#0082ff 153px,#0024ff 166px,#0010ff 168px,#0010ff 169px,#0000ff 170px,#0000ff 171px,#0000ef 172px,#0000ef 173px,#0000df 174px,#0000df 175px,#0000cf 176px,#0000cf 177px,#0000af 179px,#0000af 180px,#00009f 181px,#00009f 182px,#00008f 183px,#00008f 186px,#00009f 187px,#00009f 188px,#0000af 189px,#0000af 190px,#0000cf 192px,#0000cf 193px,#0000df 194px,#0000df 195px,#0000ef 196px,#0000ef 197px,#0000ff 198px,#0000ff 199px,#0010ff 200px,#0010ff 201px,#0069ff 214px,#00a1ff 225px,#00c3ff 236px,#00cdff"></i><i style="--g:#00bbff,#00b1ff 11px,#008fff 22px,#0053ff 34px,#0010ff 44px,#0010ff 45px,#0000ff 46px,#0000ff 47px,#0000ef 48px,#0000ef 49px,#0000df 50px,#0000df 51px,#0000cf 52px,#0000cf 53px,#0000bf 54px,#0000bf 55px,#0000af 56px,#0000af 57px,#00009f 58px,#00009f 59px,#00008f 60px,#00008f 63px,#00009f 64px,#00009f 65px,#0000af 66px,#0000af 67px,#0000bf 68px,#0000bf 69px,#0000cf 70px,#0000cf 71px,#0000df 72px,#0000df 73px,#0000ef 74px,#0000ef 75px,#0000ff 76px,#0000ff 77px,#0010ff 78px,#0010ff 79px,#0059ff 89px,#009dff 101px,#00c4ff 112px,#00d2ff 122px,#00c9ff 132px,#00acff 142px,#0075ff 153px,#001dff 166px,#0010ff 167px,#0010ff 168px,#0000ff 169px,#0000ff 170px,#0000ef 171px,#0000ef 172px,#0000df 173px,#0000df 174px,#0000cf 175px,#0000cf 176px,#0000bf 177px,#0000bf 178px,#0000af 179px,#0000af 180px,#00009f 181px,#00009f 182px,#00008f 183px,#00008f 186px,#00009f 187px,#00009f 188px,#0000af 189px,#0000af 190px,#0000bf 191px,#0000bf 192px,#0000cf 193px,#0000cf 194px,#0000df 195px,#0000df 196px,#0000ef 197px,#0000ef 198px,#0000ff 199px,#0000ff 200px,#0010ff 201px,#0010ff 203px,#001dff 204px,#006dff 217px,#009dff 228px,#00b7ff 239px,#00bbff"></i><i style="--g:#00abff,#00a1ff 11px,#0081ff 22px,#0048ff 34px,#001dff 41px,#0010ff 42px,#0010ff 44px,#0000ff 45px,#0000ff 46px,#0000ef 47px,#0000ef 48px,#0000df 49px,#0000df 51px,#0000cf 52px,#0000cf 53px,#0000bf 54px,#0000bf 55px,#0000af 56px,#0000af 57px,#00009f 58px,#00009f 59px,#00008f 60px,#00008f 63px,#00009f 64px,#00009f 65px,#0000af 66px,#0000af 67px,#0000bf 68px,#0000bf 69px,#0000cf 70px,#0000cf 71px,#0000df 72px,#0000df 74px,#0000ef 75px,#0000ef 76px,#0000ff 77px,#0000ff 78px,#0010ff 79px,#0010ff 80px,#0048ff 88px,#008aff 100px,#00b1ff 111px,#00c0ff 121px,#00baff 131px,#009cff 142px,#0063ff 154px,#001dff 165px,#0010ff 166px,#0010ff 167px,#0000ff 168px,#0000ff 170px,#0000ef 171px,#0000ef 172px,#0000df 173px,#0000df 174px,#0000cf 175px,#0000cf 176px,#0000bf 177px,#0000bf 178px,#0000af 179px,#0000af 180px,#00009f 181px,#00009f 182px,#00008f 183px,#00008f 186px,#00009f 187px,#00009f 188px,#0000af 189px,#0000af 191px,#0000bf 192px,#0000bf 193px,#0000cf 194px,#0000cf 195px,#0000df 196px,#0000df 197px,#0000ef 198px,#0000ef 199px,#0000ff 200px,#0000ff 202px,#0010ff 203px,#0010ff 204px,#0021ff 206px,#006aff 219px,#0096ff 231px,#00a9ff 242px,#00abff"></i><i style="--g:#009bff,#0091ff 11px,#006fff 23px,#0032ff 36px,#001bff 40px,#0010ff 41px,#0010ff 43px,#0000ff 44px,#0000ff 45px,#0000ef 46px,#0000ef 47px,#0000df 48px,#0000df 50px,#0000cf 51px,#0000cf 52px,#0000bf 53px,#0000bf 54px,#0000af 55px,#0000af 57px,#00009f 58px,#00009f 59px,#00008f 60px,#00008f 63px,#00009f 64px,#00009f 65px,#0000af 66px,#0000af 68px,#0000bf 69px,#0000bf 70px,#0000cf 71px,#0000cf 72px,#0000df 73px,#0000df 74px,#0000ef 75px,#0000ef 77px,#0000ff 78px,#0000ff 79px,#0010ff 80px,#0010ff 81px,#0045ff 89px,#0080ff 101px,#00a3ff 112px,#00afff 123px,#00a4ff 134px,#0082ff 145px,#0041ff 158px,#001cff 164px,#0010ff 165px,#0010ff 167px,#0000ff 168px,#0000ff 169px,#0000ef 170px,#0000ef 171px,#0000df 172px,#0000df 173px,#0000cf 174px,#0000cf 176px,#0000bf 177px,#0000bf 178px,#0000af 179px,#0000af 180px,#00009f 181px,#00009f 182px,#00008f 183px,#00008f 187px,#00009f 188px,#00009f 189px,#0000af 190px,#0000af 191px,#0000bf 192px,#0000bf 193px,#0000cf 194px,#0000cf 196px,#0000df 197px,#0000df 198px,#0000ef 199px,#0000ef 200px,#0000ff 201px,#0000ff 203px,#0010ff 204px,#0010ff 205px,#004aff 215px,#007cff 227px,#0095ff 238px,#009bff"></i><i style="--g:#008cff,#0083ff 11px,#0062ff 23px,#0028ff 36px,#001dff 38px,#0010ff 39px,#0010ff 41px,#0000ff 42px,#0000ff 44px,#0000ef 45px,#0000ef 46px,#0000df 47px,#0000df 49px,#0000cf 50px,#0000cf 51px,#0000bf 52px,#0000bf 54px,#0000af 55px,#0000af 56px,#00009f 57px,#00009f 59px,#00008f 60px,#00008f 63px,#00009f 64px,#00009f 65px,#0000af 66px,#0000af 68px,#0000bf 69px,#0000bf 70px,#0000cf 71px,#0000cf 72px,#0000df 73px,#0000df 75px,#0000ef 76px,#0000ef 77px,#0000ff 78px,#0000ff 80px,#0010ff 81px,#0010ff 82px,#004bff 92px,#007eff 104px,#0099ff 115px,#009fff 126px,#008eff 137px,#0065ff 149px,#001bff 163px,#0010ff 164px,#0010ff 166px,#0000ff 167px,#0000ff 168px,#0000ef 169px,#0000ef 171px,#0000df 172px,#0000df 173px,#0000cf 174px,#0000cf 175px,#0000bf 176px,#0000bf 178px,#0000af 179px,#0000af 180px,#00009f 181px,#00009f 182px,#00008f 183px,#00008f 187px,#00009f 188px,#00009f 189px,#0000af 190px,#0000af 192px,#0000bf 193px,#0000bf 194px,#0000cf 195px,#0000cf 196px,#0000df 197px,#0000df 199px,#0000ef 200px,#0000ef 201px,#0000ff 202px,#0000ff 204px,#0010ff 205px,#0010ff 207px,#0021ff 209px,#005dff 222px,#0080ff 234px,#008cff"></i><i style="--g:#007eff,#0073ff 12px,#0053ff 24px,#001aff 37px,#0010ff 38px,#0010ff 40px,#0000ff 41px,#0000ff 43px,#0000ef 44px,#0000ef 45px,#0000df 46px,#0000df 48px,#0000cf 49px,#0000cf 51px,#0000bf 52px,#0000bf 53px,#0000af 54px,#0000af 56px,#00009f 57px,#00009f 58px,#00008f 59px,#00008f 63px,#00009f 64px,#00009f 66px,#0000af 67px,#0000af 68px,#0000bf 69px,#0000bf 71px,#0000cf 72px,#0000cf 73px,#0000df 74px,#0000df 76px,#0000ef 77px,#0000ef 78px,#0000ff 79px,#0000ff 81px,#0010ff 82px,#0010ff 84px,#001dff 85px,#0060ff 99px,#0084ff 111px,#0090ff 122px,#0088ff 133px,#0069ff 145px,#002fff 158px,#0019ff 162px,#0010ff 163px,#0010ff 165px,#0000ff 166px,#0000ff 167px,#0000ef 168px,#0000ef 170px,#0000df 171px,#0000df 172px,#0000cf 173px,#0000cf 175px,#0000bf 176px,#0000bf 177px,#0000af 178px,#0000af 180px,#00009f 181px,#00009f 182px,#00008f 183px,#00008f 187px,#00009f 188px,#00009f 190px,#0000af 191px,#0000af 192px,#0000bf 193px,#0000bf 195px,#0000cf 196px,#0000cf 197px,#0000df 198px,#0000df 200px,#0000ef 201px,#0000ef 203px,#0000ff 204px,#0000ff 206px,#0010ff 207px,#0010ff 209px,#001dff 210px,#0055ff 223px,#0074ff 235px,#007eff"></i><i style="--g:#0070ff,#0066ff 12px,#0044ff 25px,#001bff 35px,#0010ff 36px,#0010ff 38px,#0000ff 39px,#0000ff 41px,#0000ef 42px,#0000ef 44px,#0000df 45px,#0000df 47px,#0000cf 48px,#0000cf 50px,#0000bf 51px,#0000bf 53px,#0000af 54px,#0000af 55px,#00009f 56px,#00009f 58px,#00008f 59px,#00008f 63px,#00009f 64px,#00009f 66px,#0000af 67px,#0000af 68px,#0000bf 69px,#0000bf 71px,#0000cf 72px,#0000cf 74px,#0000df 75px,#0000df 76px,#0000ef 77px,#0000ef 79px,#0000ff 80px,#0000ff 82px,#0010ff 83px,#0010ff 85px,#0020ff 87px,#005bff 101px,#007aff 113px,#0082ff 125px,#0073ff 137px,#004aff 150px,#001cff 160px,#0010ff 161px,#0010ff 163px,#0000ff 164px,#0000ff 166px,#0000ef 167px,#0000ef 169px,#0000df 170px,#0000df 172px,#0000cf 173px,#0000cf 174px,#0000bf 175px,#0000bf 177px,#0000af 178px,#0000af 180px,#00009f 181px,#00009f 182px,#00008f 183px,#00008f 187px,#00009f 188px,#00009f 190px,#0000af 191px,#0000af 193px,#0000bf 194px,#0000bf 195px,#0000cf 196px,#0000cf 198px,#0000df 199px,#0000df 201px,#0000ef 202px,#0000ef 204px,#0000ff 205px,#0000ff 207px,#0010ff 208px,#0010ff 210px,#0022ff 213px,#0053ff 226px,#006bff 238px,#0070ff"></i><i style="--g:#0063ff,#005aff 12px,#0039ff 25px,#001bff 33px,#0010ff 34px,#0010ff 37px,#0000ff 38px,#0000ff 40px,#0000ef 41px,#0000ef 43px,#0000df 44px,#0000df 46px,#0000cf 47px,#0000cf 49px,#0000bf 50px,#0000bf 52px,#0000af 53px,#0000af 55px,#00009f 56px,#00009f 58px,#00008f 59px,#00008f 63px,#00009f 64px,#00009f 66px,#0000af 67px,#0000af 69px,#0000bf 70px,#0000bf 71px,#0000cf 72px,#0000cf 74px,#0000df 75px,#0000df 77px,#0000ef 78px,#0000ef 80px,#0000ff 81px,#0000ff 83px,#0010ff 84px,#0010ff 86px,#002fff 92px,#005cff 105px,#0072ff 117px,#0073ff 129px,#005dff 141px,#002cff 155px,#001aff 159px,#0010ff 160px,#0010ff 162px,#0000ff 163px,#0000ff 165px,#0000ef 166px,#0000ef 168px,#0000df 169px,#0000df 171px,#0000cf 172px,#0000cf 174px,#0000bf 175px,#0000bf 177px,#0000af 178px,#0000af 180px,#00009f 181px,#00009f 182px,#00008f 183px,#00008f 188px,#00009f 189px,#00009f 190px,#0000af 191px,#0000af 193px,#0000bf 194px,#0000bf 196px,#0000cf 197px,#0000cf 199px,#0000df 200px,#0000df 202px,#0000ef 203px,#0000ef 205px,#0000ff 206px,#0000ff 209px,#0010ff 210px,#0010ff 212px,#001dff 214px,#004dff 228px,#0062ff 241px,#0063ff"></i><i style="--g:#0057ff,#004cff 13px,#0029ff 27px,#001aff 31px,#0010ff 32px,#0010ff 35px,#0000ff 36px,#0000ff 39px,#0000ef 40px,#0000ef 42px,#0000df 43px,#0000df 45px,#0000cf 46px,#0000cf 48px,#0000bf 49px,#0000bf 51px,#0000af 52px,#0000af 54px,#00009f 55px,#00009f 57px,#00008f 58px,#00008f 63px,#00009f 64px,#00009f 66px,#0000af 67px,#0000af 69px,#0000bf 70px,#0000bf 72px,#0000cf 73px,#0000cf 75px,#0000df 76px,#0000df 78px,#0000ef 79px,#0000ef 81px,#0000ff 82px,#0000ff 85px,#0010ff 86px,#0010ff 88px,#001eff 90px,#004fff 104px,#0066ff 117px,#0066ff 129px,#0050ff 142px,#0020ff 156px,#001bff 157px,#0010ff 158px,#0010ff 161px,#0000ff 162px,#0000ff 164px,#0000ef 165px,#0000ef 167px,#0000df 168px,#0000df 170px,#0000cf 171px,#0000cf 173px,#0000bf 174px,#0000bf 176px,#0000af 177px,#0000af 179px,#00009f 180px,#00009f 182px,#00008f 183px,#00008f 188px,#00009f 189px,#00009f 191px,#0000af 192px,#0000af 194px,#0000bf 195px,#0000bf 197px,#0000cf 198px,#0000cf 200px,#0000df 201px,#0000df 203px,#0000ef 204px,#0000ef 207px,#0000ff 208px,#0000ff 210px,#0010ff 211px,#0010ff 214px,#001cff 216px,#0046ff 230px,#0057ff 243px,#0057ff"></i><i style="--g:#004bff,#0041ff 13px,#001fff 27px,#0019ff 29px,#0010ff 30px,#0010ff 33px,#0000ff 34px,#0000ff 37px,#0000ef 38px,#0000ef 41px,#0000df 42px,#0000df 44px,#0000cf 45px,#0000cf 48px,#0000bf 49px,#0000bf 51px,#0000af 52px,#0000af 54px,#00009f 55px,#00009f 57px,#00008f 58px,#00008f 63px,#00009f 64px,#00009f 66px,#0000af 67px,#0000af 69px,#0000bf 70px,#0000bf 72px,#0000cf 73px,#0000cf 76px,#0000df 77px,#0000df 79px,#0000ef 80px,#0000ef 82px,#0000ff 83px,#0000ff 86px,#0010ff 87px,#0010ff 90px,#001aff 91px,#0047ff 105px,#005bff 118px,#0059ff 131px,#0040ff 144px,#0018ff 156px,#0010ff 157px,#0010ff 159px,#0000ff 160px,#0000ff 163px,#0000ef 164px,#0000ef 166px,#0000df 167px,#0000df 170px,#0000cf 171px,#0000cf 173px,#0000bf 174px,#0000bf 176px,#0000af 177px,#0000af 179px,#00009f 180px,#00009f 182px,#00008f 183px,#00008f 188px,#00009f 189px,#00009f 191px,#0000af 192px,#0000af 195px,#0000bf 196px,#0000bf 198px,#0000cf 199px,#0000cf 201px,#0000df 202px,#0000df 205px,#0000ef 206px,#0000ef 208px,#0000ff 209px,#0000ff 212px,#0010ff 213px,#0010ff 217px,#001bff 218px,#003fff 232px,#004bff"></i><i style="--g:#0041ff,#0035ff 14px,#001aff 26px,#0010ff 27px,#0010ff 31px,#0000ff 32px,#0000ff 35px,#0000ef 36px,#0000ef 39px,#0000df 40px,#0000df 43px,#0000cf 44px,#0000cf 47px,#0000bf 48px,#0000bf 50px,#0000af 51px,#0000af 53px,#00009f 54px,#00009f 57px,#00008f 58px,#00008f 63px,#00009f 64px,#00009f 66px,#0000af 67px,#0000af 70px,#0000bf 71px,#0000bf 73px,#0000cf 74px,#0000cf 76px,#0000df 77px,#0000df 80px,#0000ef 81px,#0000ef 84px,#0000ff 85px,#0000ff 88px,#0010ff 89px,#0010ff 92px,#001aff 93px,#0043ff 108px,#0052ff 121px,#004bff 134px,#002cff 148px,#0018ff 154px,#0010ff 155px,#0010ff 158px,#0000ff 159px,#0000ff 162px,#0000ef 163px,#0000ef 165px,#0000df 166px,#0000df 169px,#0000cf 170px,#0000cf 172px,#0000bf 173px,#0000bf 176px,#0000af 177px,#0000af 179px,#00009f 180px,#00009f 182px,#00008f 183px,#00008f 189px,#00009f 190px,#00009f 192px,#0000af 193px,#0000af 195px,#0000bf 196px,#0000bf 199px,#0000cf 200px,#0000cf 202px,#0000df 203px,#0000df 206px,#0000ef 207px,#0000ef 210px,#0000ff 211px,#0000ff 214px,#0010ff 215px,#0010ff 219px,#001bff 221px,#0039ff 235px,#0040ff"></i><i style="--g:#0048ff,#003eff 13px,#001dff 27px,#0019ff 28px,#0010ff 29px,#0010ff 32px,#0000ff 33px,#0000ff 37px,#0000ef 38px,#0000ef 40px,#0000df 41px,#0000df 44px,#0000cf 45px,#0000cf 47px,#0000bf 48px,#0000bf 51px,#0000af 52px,#0000af 54px,#00009f 55px,#00009f 57px,#00008f 58px,#00008f 63px,#00009f 64px,#00009f 66px,#0000af 67px,#0000af 69px,#0000bf 70px,#0000bf 73px,#0000cf 74px,#0000cf 76px,#0000df 77px,#0000df 79px,#0000ef 80px,#0000ef 83px,#0000ff 84px,#0000ff 86px,#0010ff 87px,#0010ff 90px,#001cff 92px,#0046ff 106px,#0059ff 119px,#0055ff 132px,#0038ff 146px,#001aff 155px,#0010ff 156px,#0010ff 159px,#0000ff 160px,#0000ff 163px,#0000ef 164px,#0000ef 166px,#0000df 167px,#0000df 170px,#0000cf 171px,#0000cf 173px,#0000bf 174px,#0000bf 176px,#0000af 177px,#0000af 179px,#00009f 180px,#00009f 182px,#00008f 183px,#00008f 189px,#00009f 190px,#00009f 192px,#0000af 193px,#0000af 195px,#0000bf 196px,#0000bf 198px,#0000cf 199px,#0000cf 202px,#0000df 203px,#0000df 205px,#0000ef 206px,#0000ef 209px,#0000ff 210px,#0000ff 213px,#0010ff 214px,#0010ff 217px,#001bff 219px,#003eff 233px,#0048ff"></i><i style="--g:#003eff,#0033ff 14px,#001aff 25px,#0010ff 26px,#0010ff 30px,#0000ff 31px,#0000ff 35px,#0000ef 36px,#0000ef 39px,#0000df 40px,#0000df 43px,#0000cf 44px,#0000cf 46px,#0000bf 47px,#0000bf 50px,#0000af 51px,#0000af 53px,#00009f 54px,#00009f 57px,#00008f 58px,#00008f 63px,#00009f 64px,#00009f 66px,#0000af 67px,#0000af 70px,#0000bf 71px,#0000bf 73px,#0000cf 74px,#0000cf 77px,#0000df 78px,#0000df 80px,#0000ef 81px,#0000ef 84px,#0000ff 85px,#0000ff 88px,#0010ff 89px,#0010ff 92px,#001cff 94px,#0042ff 109px,#004fff 122px,#0046ff 135px,#0026ff 149px,#001aff 153px,#0010ff 154px,#0010ff 157px,#0000ff 158px,#0000ff 161px,#0000ef 162px,#0000ef 165px,#0000df 166px,#0000df 169px,#0000cf 170px,#0000cf 172px,#0000bf 173px,#0000bf 176px,#0000af 177px,#0000af 179px,#00009f 180px,#00009f 182px,#00008f 183px,#00008f 189px,#00009f 190px,#00009f 192px,#0000af 193px,#0000af 196px,#0000bf 197px,#0000bf 199px,#0000cf 200px,#0000cf 203px,#0000df 204px,#0000df 207px,#0000ef 208px,#0000ef 211px,#0000ff 212px,#0000ff 215px,#0010ff 216px,#0010ff 220px,#0019ff 221px,#0036ff 235px,#003dff"></i><i style="--g:#0033ff,#0029ff 14px,#0019ff 22px,#0010ff 23px,#0010ff 28px,#0000ff 29px,#0000ff 33px,#0000ef 34px,#0000ef 37px,#0000df 38px,#0000df 41px,#0000cf 42px,#0000cf 45px,#0000bf 46px,#0000bf 49px,#0000af 50px,#0000af 53px,#00009f 54px,#00009f 56px,#00008f 57px,#00008f 63px,#00009f 64px,#00009f 67px,#0000af 68px,#0000af 70px,#0000bf 71px,#0000bf 74px,#0000cf 75px,#0000cf 77px,#0000df 78px,#0000df 81px,#0000ef 82px,#0000ef 85px,#0000ff 86px,#0000ff 90px,#0010ff 91px,#0010ff 95px,#001aff 96px,#003cff 111px,#0044ff 125px,#0036ff 139px,#0019ff 151px,#0010ff 152px,#0010ff 156px,#0000ff 157px,#0000ff 160px,#0000ef 161px,#0000ef 164px,#0000df 165px,#0000df 168px,#0000cf 169px,#0000cf 172px,#0000bf 173px,#0000bf 175px,#0000af 176px,#0000af 179px,#00009f 180px,#00009f 182px,#00008f 183px,#00008f 189px,#00009f 190px,#00009f 193px,#0000af 194px,#0000af 196px,#0000bf 197px,#0000bf 200px,#0000cf 201px,#0000cf 204px,#0000df 205px,#0000df 208px,#0000ef 209px,#0000ef 213px,#0000ff 214px,#0000ff 217px,#0010ff 218px,#0010ff 223px,#001bff 225px,#0031ff 239px,#0033ff"></i><i style="--g:#002aff,#0020ff 14px,#0019ff 18px,#0010ff 19px,#0010ff 25px,#0000ff 26px,#0000ff 31px,#0000ef 32px,#0000ef 36px,#0000df 37px,#0000df 40px,#0000cf 41px,#0000cf 44px,#0000bf 45px,#0000bf 48px,#0000af 49px,#0000af 52px,#00009f 53px,#00009f 56px,#00008f 57px,#00008f 63px,#00009f 64px,#00009f 67px,#0000af 68px,#0000af 71px,#0000bf 72px,#0000bf 74px,#0000cf 75px,#0000cf 78px,#0000df 79px,#0000df 83px,#0000ef 84px,#0000ef 87px,#0000ff 88px,#0000ff 92px,#0010ff 93px,#0010ff 97px,#001bff 99px,#0036ff 114px,#003aff 128px,#0025ff 143px,#001aff 148px,#0010ff 149px,#0010ff 154px,#0000ff 155px,#0000ff 158px,#0000ef 159px,#0000ef 163px,#0000df 164px,#0000df 167px,#0000cf 168px,#0000cf 171px,#0000bf 172px,#0000bf 175px,#0000af 176px,#0000af 178px,#00009f 179px,#00009f 182px,#00008f 183px,#00008f 189px,#00009f 190px,#00009f 193px,#0000af 194px,#0000af 197px,#0000bf 198px,#0000bf 201px,#0000cf 202px,#0000cf 205px,#0000df 206px,#0000df 210px,#0000ef 211px,#0000ef 215px,#0000ff 216px,#0000ff 220px,#0010ff 221px,#0010ff 227px,#0018ff 228px,#0029ff 243px,#0029ff"></i><i style="--g:#0020ff,#0018ff 13px,#0010ff 14px,#0010ff 22px,#0000ff 23px,#0000ff 28px,#0000ef 29px,#0000ef 34px,#0000df 35px,#0000df 39px,#0000cf 40px,#0000cf 43px,#0000bf 44px,#0000bf 48px,#0000af 49px,#0000af 52px,#00009f 53px,#00009f 56px,#00008f 57px,#00008f 63px,#00009f 64px,#00009f 67px,#0000af 68px,#0000af 71px,#0000bf 72px,#0000bf 75px,#0000cf 76px,#0000cf 79px,#0000df 80px,#0000df 84px,#0000ef 85px,#0000ef 89px,#0000ff 90px,#0000ff 94px,#0010ff 95px,#0010ff 100px,#0018ff 101px,#002fff 116px,#002fff 131px,#0019ff 145px,#0010ff 146px,#0010ff 151px,#0000ff 152px,#0000ff 157px,#0000ef 158px,#0000ef 162px,#0000df 163px,#0000df 166px,#0000cf 167px,#0000cf 170px,#0000bf 171px,#0000bf 174px,#0000af 175px,#0000af 178px,#00009f 179px,#00009f 182px,#00008f 183px,#00008f 190px,#00009f 191px,#00009f 194px,#0000af 195px,#0000af 198px,#0000bf 199px,#0000bf 202px,#0000cf 203px,#0000cf 207px,#0000df 208px,#0000df 211px,#0000ef 212px,#0000ef 217px,#0000ff 218px,#0000ff 223px,#0010ff 224px,#0010ff 233px,#0019ff 234px,#0020ff"></i><i style="--g:#0010ff,#0010ff 18px,#0000ff 19px,#0000ff 26px,#0000ef 27px,#0000ef 32px,#0000df 33px,#0000df 37px,#0000cf 38px,#0000cf 42px,#0000bf 43px,#0000bf 47px,#0000af 48px,#0000af 51px,#00009f 52px,#00009f 55px,#00008f 56px,#00008f 63px,#00009f 64px,#00009f 68px,#0000af 69px,#0000af 72px,#0000bf 73px,#0000bf 76px,#0000cf 77px,#0000cf 80px,#0000df 81px,#0000df 85px,#0000ef 86px,#0000ef 91px,#0000ff 92px,#0000ff 97px,#0010ff 98px,#0010ff 104px,#0019ff 105px,#0029ff 120px,#0022ff 135px,#001aff 141px,#0010ff 142px,#0010ff 149px,#0000ff 150px,#0000ff 155px,#0000ef 156px,#0000ef 160px,#0000df 161px,#0000df 165px,#0000cf 166px,#0000cf 169px,#0000bf 170px,#0000bf 174px,#0000af 175px,#0000af 178px,#00009f 179px,#00009f 182px,#00008f 183px,#00008f 190px,#00009f 191px,#00009f 194px,#0000af 195px,#0000af 199px,#0000bf 200px,#0000bf 203px,#0000cf 204px,#0000cf 208px,#0000df 209px,#0000df 213px,#0000ef 214px,#0000ef 220px,#0000ff 221px,#0000ff 227px,#0010ff 228px,#0010ff"></i><i style="--g:#0010ff,#0010ff 13px,#0000ff 14px,#0000ff 23px,#0000ef 24px,#0000ef 30px,#0000df 31px,#0000df 36px,#0000cf 37px,#0000cf 41px,#0000bf 42px,#0000bf 46px,#0000af 47px,#0000af 50px,#00009f 51px,#00009f 55px,#00008f 56px,#00008f 63px,#00009f 64px,#00009f 68px,#0000af 69px,#0000af 72px,#0000bf 73px,#0000bf 77px,#0000cf 78px,#0000cf 82px,#0000df 83px,#0000df 87px,#0000ef 88px,#0000ef 93px,#0000ff 94px,#0000ff 99px,#0010ff 100px,#0010ff 109px,#0019ff 110px,#0021ff 125px,#0018ff 137px,#0010ff 138px,#0010ff 146px,#0000ff 147px,#0000ff 153px,#0000ef 154px,#0000ef 159px,#0000df 160px,#0000df 164px,#0000cf 165px,#0000cf 169px,#0000bf 170px,#0000bf 173px,#0000af 174px,#0000af 178px,#00009f 179px,#00009f 182px,#00008f 183px,#00008f 191px,#00009f 192px,#00009f 195px,#0000af 196px,#0000af 200px,#0000bf 201px,#0000bf 205px,#0000cf 206px,#0000cf 210px,#0000df 211px,#0000df 216px,#0000ef 217px,#0000ef 223px,#0000ff 224px,#0000ff 233px,#0010ff 234px,#0010ff"></i><i style="--g:#0000ff,#0000ff 19px,#0000ef 20px,#0000ef 27px,#0000df 28px,#0000df 34px,#0000cf 35px,#0000cf 39px,#0000bf 40px,#0000bf 45px,#0000af 46px,#0000af 50px,#00009f 51px,#00009f 54px,#00008f 55px,#00008f 64px,#00009f 65px,#00009f 68px,#0000af 69px,#0000af 73px,#0000bf 74px,#0000bf 78px,#0000cf 79px,#0000cf 83px,#0000df 84px,#0000df 89px,#0000ef 90px,#0000ef 95px,#0000ff 96px,#0000ff 103px,#0010ff 104px,#0010ff 117px,#0018ff 118px,#0018ff 128px,#0010ff 129px,#0010ff 143px,#0000ff 144px,#0000ff 150px,#0000ef 151px,#0000ef 157px,#0000df 158px,#0000df 163px,#0000cf 164px,#0000cf 168px,#0000bf 169px,#0000bf 173px,#0000af 174px,#0000af 177px,#00009f 178px,#00009f 182px,#00008f 183px,#00008f 191px,#00009f 192px,#00009f 196px,#0000af 197px,#0000af 201px,#0000bf 202px,#0000bf 206px,#0000cf 207px,#0000cf 212px,#0000df 213px,#0000df 218px,#0000ef 219px,#0000ef 226px,#0000ff 227px,#0000ff"></i><i style="--g:#0000ff,#0000ff 14px,#0000ef 15px,#0000ef 24px,#0000df 25px,#0000df 32px,#0000cf 33px,#0000cf 38px,#0000bf 39px,#0000bf 44px,#0000af 45px,#0000af 49px,#00009f 50px,#00009f 54px,#00008f 55px,#00008f 64px,#00009f 65px,#00009f 69px,#0000af 70px,#0000af 73px,#0000bf 74px,#0000bf 79px,#0000cf 80px,#0000cf 84px,#0000df 85px,#0000df 90px,#0000ef 91px,#0000ef 98px,#0000ff 99px,#0000ff 107px,#0010ff 108px,#0010ff 138px,#0000ff 139px,#0000ff 148px,#0000ef 149px,#0000ef 155px,#0000df 156px,#0000df 161px,#0000cf 162px,#0000cf 167px,#0000bf 168px,#0000bf 172px,#0000af 173px,#0000af 177px,#00009f 178px,#00009f 182px,#00008f 183px,#00008f 192px,#00009f 193px,#00009f 197px,#0000af 198px,#0000af 202px,#0000bf 203px,#0000bf 207px,#0000cf 208px,#0000cf 214px,#0000df 215px,#0000df 221px,#0000ef 222px,#0000ef 231px,#0000ff 232px,#0000ff"></i><i style="--g:#0000ff,#0000ff 5px,#0000ef 6px,#0000ef 21px,#0000df 22px,#0000df 30px,#0000cf 31px,#0000cf 36px,#0000bf 37px,#0000bf 43px,#0000af 44px,#0000af 48px,#00009f 49px,#00009f 53px,#00008f 54px,#00008f 64px,#00009f 65px,#00009f 69px,#0000af 70px,#0000af 74px,#0000bf 75px,#0000bf 80px,#0000cf 81px,#0000cf 86px,#0000df 87px,#0000df 92px,#0000ef 93px,#0000ef 101px,#0000ff 102px,#0000ff 114px,#0010ff 115px,#0010ff 131px,#0000ff 132px,#0000ff 145px,#0000ef 146px,#0000ef 153px,#0000df 154px,#0000df 160px,#0000cf 161px,#0000cf 166px,#0000bf 167px,#0000bf 171px,#0000af 172px,#0000af 177px,#00009f 178px,#00009f 182px,#00008f 183px,#00008f 192px,#00009f 193px,#00009f 197px,#0000af 198px,#0000af 203px,#0000bf 204px,#0000bf 209px,#0000cf 210px,#0000cf 216px,#0000df 217px,#0000df 224px,#0000ef 225px,#0000ef 240px,#0000ff 241px,#0000ff"></i><i style="--g:#0000ef,#0000ef 17px,#0000df 18px,#0000df 27px,#0000cf 28px,#0000cf 35px,#0000bf 36px,#0000bf 41px,#0000af 42px,#0000af 47px,#00009f 48px,#00009f 53px,#00008f 54px,#00008f 64px,#00009f 65px,#00009f 69px,#0000af 70px,#0000af 75px,#0000bf 76px,#0000bf 81px,#0000cf 82px,#0000cf 87px,#0000df 88px,#0000df 95px,#0000ef 96px,#0000ef 104px,#0000ff 105px,#0000ff 141px,#0000ef 142px,#0000ef 151px,#0000df 152px,#0000df 158px,#0000cf 159px,#0000cf 165px,#0000bf 166px,#0000bf 171px,#0000af 172px,#0000af 176px,#00009f 177px,#00009f 182px,#00008f 183px,#00008f 192px,#00009f 193px,#00009f 198px,#0000af 199px,#0000af 204px,#0000bf 205px,#0000bf 211px,#0000cf 212px,#0000cf 218px,#0000df 219px,#0000df 229px,#0000ef 230px,#0000ef"></i><i style="--g:#0000ef,#0000ef 11px,#0000df 12px,#0000df 24px,#0000cf 25px,#0000cf 33px,#0000bf 34px,#0000bf 40px,#0000af 41px,#0000af 46px,#00009f 47px,#00009f 52px,#00008f 53px,#00008f 64px,#00009f 65px,#00009f 70px,#0000af 71px,#0000af 76px,#0000bf 77px,#0000bf 82px,#0000cf 83px,#0000cf 89px,#0000df 90px,#0000df 97px,#0000ef 98px,#0000ef 109px,#0000ff 110px,#0000ff 136px,#0000ef 137px,#0000ef 148px,#0000df 149px,#0000df 156px,#0000cf 157px,#0000cf 163px,#0000bf 164px,#0000bf 170px,#0000af 171px,#0000af 176px,#00009f 177px,#00009f 181px,#00008f 182px,#00008f 193px,#00009f 194px,#00009f 199px,#0000af 200px,#0000af 205px,#0000bf 206px,#0000bf 213px,#0000cf 214px,#0000cf 221px,#0000df 222px,#0000df 235px,#0000ef 236px,#0000ef"></i><i style="--g:#0000df,#0000df 21px,#0000cf 22px,#0000cf 31px,#0000bf 32px,#0000bf 39px,#0000af 40px,#0000af 45px,#00009f 46px,#00009f 52px,#00008f 53px,#00008f 64px,#00009f 65px,#00009f 70px,#0000af 71px,#0000af 76px,#0000bf 77px,#0000bf 83px,#0000cf 84px,#0000cf 91px,#0000df 92px,#0000df 100px,#0000ef 101px,#0000ef 119px,#0000ff 120px,#0000ff 126px,#0000ef 127px,#0000ef 145px,#0000df 146px,#0000df 154px,#0000cf 155px,#0000cf 162px,#0000bf 163px,#0000bf 169px,#0000af 170px,#0000af 175px,#00009f 176px,#00009f 181px,#00008f 182px,#00008f 194px,#00009f 195px,#00009f 200px,#0000af 201px,#0000af 207px,#0000bf 208px,#0000bf 215px,#0000cf 216px,#0000cf 225px,#0000df 226px,#0000df"></i><i style="--g:#0000df,#0000df 17px,#0000cf 18px,#0000cf 28px,#0000bf 29px,#0000bf 37px,#0000af 38px,#0000af 44px,#00009f 45px,#00009f 51px,#00008f 52px,#00008f 64px,#00009f 65px,#00009f 71px,#0000af 72px,#0000af 77px,#0000bf 78px,#0000bf 85px,#0000cf 86px,#0000cf 93px,#0000df 94px,#0000df 104px,#0000ef 105px,#0000ef 141px,#0000df 142px,#0000df 152px,#0000cf 153px,#0000cf 161px,#0000bf 162px,#0000bf 168px,#0000af 169px,#0000af 175px,#00009f 176px,#00009f 181px,#00008f 182px,#00008f 194px,#00009f 195px,#00009f 201px,#0000af 202px,#0000af 208px,#0000bf 209px,#0000bf 217px,#0000cf 218px,#0000cf 229px,#0000df 230px,#0000df"></i><i style="--g:#0000df,#0000df 10px,#0000cf 11px,#0000cf 26px,#0000bf 27px,#0000bf 35px,#0000af 36px,#0000af 43px,#00009f 44px,#00009f 51px,#00008f 52px,#00008f 64px,#00009f 65px,#00009f 71px,#0000af 72px,#0000af 78px,#0000bf 79px,#0000bf 86px,#0000cf 87px,#0000cf 95px,#0000df 96px,#0000df 109px,#0000ef 110px,#0000ef 136px,#0000df 137px,#0000df 150px,#0000cf 151px,#0000cf 159px,#0000bf 160px,#0000bf 167px,#0000af 168px,#0000af 174px,#00009f 175px,#00009f 181px,#00008f 182px,#00008f 195px,#00009f 196px,#00009f 202px,#0000af 203px,#0000af 210px,#0000bf 211px,#0000bf 220px,#0000cf 221px,#0000cf 235px,#0000df 236px,#0000df"></i><i style="--g:#0000cf,#0000cf 23px,#0000bf 24px,#0000bf 34px,#0000af 35px,#0000af 42px,#00009f 43px,#00009f 50px,#00008f 51px,#00008f 64px,#00009f 65px,#00009f 72px,#0000af 73px,#0000af 79px,#0000bf 80px,#0000bf 88px,#0000cf 89px,#0000cf 98px,#0000df 99px,#0000df 118px,#0000ef 119px,#0000ef 128px,#0000df 129px,#0000df 147px,#0000cf 148px,#0000cf 158px,#0000bf 159px,#0000bf 166px,#0000af 167px,#0000af 174px,#00009f 175px,#00009f 181px,#00008f 182px,#00008f 195px,#00009f 196px,#00009f 203px,#0000af 204px,#0000af 212px,#0000bf 213px,#0000bf 223px,#0000cf 224px,#0000cf"></i><i style="--g:#0000cf,#0000cf 19px,#0000bf 20px,#0000bf 32px,#0000af 33px,#0000af 41px,#00009f 42px,#00009f 49px,#00008f 50px,#00008f 65px,#00009f 66px,#00009f 72px,#0000af 73px,#0000af 80px,#0000bf 81px,#0000bf 90px,#0000cf 91px,#0000cf 101px,#0000df 102px,#0000df 144px,#0000cf 145px,#0000cf 156px,#0000bf 157px,#0000bf 165px,#0000af 166px,#0000af 173px,#00009f 174px,#00009f 181px,#00008f 182px,#00008f 196px,#00009f 197px,#00009f 204px,#0000af 205px,#0000af 214px,#0000bf 215px,#0000bf 227px,#0000cf 228px,#0000cf"></i><i style="--g:#0000cf,#0000cf 14px,#0000bf 15px,#0000bf 29px,#0000af 30px,#0000af 40px,#00009f 41px,#00009f 49px,#00008f 50px,#00008f 65px,#00009f 66px,#00009f 73px,#0000af 74px,#0000af 82px,#0000bf 83px,#0000bf 92px,#0000cf 93px,#0000cf 105px,#0000df 106px,#0000df 140px,#0000cf 141px,#0000cf 154px,#0000bf 155px,#0000bf 164px,#0000af 165px,#0000af 173px,#00009f 174px,#00009f 181px,#00008f 182px,#00008f 197px,#00009f 198px,#00009f 206px,#0000af 207px,#0000af 216px,#0000bf 217px,#0000bf 232px,#0000cf 233px,#0000cf"></i><i style="--g:#0000cf,#0000cf 5px,#0000bf 6px,#0000bf 27px,#0000af 28px,#0000af 38px,#00009f 39px,#00009f 48px,#00008f 49px,#00008f 65px,#00009f 66px,#00009f 74px,#0000af 75px,#0000af 83px,#0000bf 84px,#0000bf 94px,#0000cf 95px,#0000cf 111px,#0000df 112px,#0000df 135px,#0000cf 136px,#0000cf 152px,#0000bf 153px,#0000bf 163px,#0000af 164px,#0000af 172px,#00009f 173px,#00009f 181px,#00008f 182px,#00008f 198px,#00009f 199px,#00009f 207px,#0000af 208px,#0000af 219px,#0000bf 220px,#0000bf 240px,#0000cf 241px,#0000cf"></i><i style="--g:#0000bf,#0000bf 24px,#0000af 25px,#0000af 37px,#00009f 38px,#00009f 47px,#00008f 48px,#00008f 65px,#00009f 66px,#00009f 74px,#0000af 75px,#0000af 84px,#0000bf 85px,#0000bf 96px,#0000cf 97px,#0000cf 149px,#0000bf 150px,#0000bf 161px,#0000af 162px,#0000af 171px,#00009f 172px,#00009f 180px,#00008f 181px,#00008f 199px,#00009f 200px,#00009f 209px,#0000af 210px,#0000af 222px,#0000bf 223px,#0000bf"></i><i style="--g:#0000bf,#0000bf 20px,#0000af 21px,#0000af 35px,#00009f 36px,#00009f 46px,#00008f 47px,#00008f 65px,#00009f 66px,#00009f 75px,#0000af 76px,#0000af 86px,#0000bf 87px,#0000bf 99px,#0000cf 100px,#0000cf 146px,#0000bf 147px,#0000bf 160px,#0000af 161px,#0000af 170px,#00009f 171px,#00009f 180px,#00008f 181px,#00008f 199px,#00009f 200px,#00009f 210px,#0000af 211px,#0000af 225px,#0000bf 226px,#0000bf"></i><i style="--g:#0000bf,#0000bf 16px,#0000af 17px,#0000af 33px,#00009f 34px,#00009f 45px,#00008f 46px,#00008f 65px,#00009f 66px,#00009f 76px,#0000af 77px,#0000af 87px,#0000bf 88px,#0000bf 103px,#0000cf 104px,#0000cf 143px,#0000bf 144px,#0000bf 158px,#0000af 159px,#0000af 170px,#00009f 171px,#00009f 180px,#00008f 181px,#00008f 200px,#00009f 201px,#00009f 212px,#0000af 213px,#0000af 230px,#0000bf 231px,#0000bf"></i><i style="--g:#0000bf,#0000bf 9px,#0000af 10px,#0000af 31px,#00009f 32px,#00009f 44px,#00008f 45px,#00008f 66px,#00009f 67px,#00009f 77px,#0000af 78px,#0000af 89px,#0000bf 90px,#0000bf 107px,#0000cf 108px,#0000cf 139px,#0000bf 140px,#0000bf 156px,#0000af 157px,#0000af 169px,#00009f 170px,#00009f 180px,#00008f 181px,#00008f 201px,#00009f 202px,#00009f 214px,#0000af 215px,#0000af 236px,#0000bf 237px,#0000bf"></i><i style="--g:#0000af,#0000af 29px,#00009f 30px,#00009f 43px,#00008f 44px,#00008f 66px,#00009f 67px,#00009f 77px,#0000af 78px,#0000af 91px,#0000bf 92px,#0000bf 113px,#0000cf 114px,#0000cf 132px,#0000bf 133px,#0000bf 155px,#0000af 156px,#0000af 168px,#00009f 169px,#00009f 180px,#00008f 181px,#00008f 203px,#00009f 204px,#00009f 217px,#0000af 218px,#0000af"></i><i style="--g:#0000af,#0000af 26px,#00009f 27px,#00009f 42px,#00008f 43px,#00008f 66px,#00009f 67px,#00009f 78px,#0000af 79px,#0000af 93px,#0000bf 94px,#0000bf 152px,#0000af 153px,#0000af 167px,#00009f 168px,#00009f 179px,#00008f 180px,#00008f 204px,#00009f 205px,#00009f 219px,#0000af 220px,#0000af"></i><i style="--g:#0000af,#0000af 23px,#00009f 24px,#00009f 40px,#00008f 41px,#00008f 66px,#00009f 67px,#00009f 79px,#0000af 80px,#0000af 95px,#0000bf 96px,#0000bf 150px,#0000af 151px,#0000af 166px,#00009f 167px,#00009f 179px,#00008f 180px,#00008f 205px,#00009f 206px,#00009f 222px,#0000af 223px,#0000af"></i><i style="--g:#0000af,#0000af 19px,#00009f 20px,#00009f 39px,#00008f 40px,#00008f 67px,#00009f 68px,#00009f 81px,#0000af 82px,#0000af 98px,#0000bf 99px,#0000bf 147px,#0000af 148px,#0000af 165px,#00009f 166px,#00009f 179px,#00008f 180px,#00008f 206px,#00009f 207px,#00009f 226px,#0000af 227px,#0000af"></i><i style="--g:#0000af,#0000af 15px,#00009f 16px,#00009f 38px,#00008f 39px,#00008f 67px,#00009f 68px,#00009f 82px,#0000af 83px,#0000af 101px,#0000bf 102px,#0000bf 144px,#0000af 145px,#0000af 164px,#00009f 165px,#00009f 179px,#00008f 180px,#00008f 208px,#00009f 209px,#00009f 231px,#0000af 232px,#0000af"></i><i style="--g:#0000af,#0000af 7px,#00009f 8px,#00009f 36px,#00008f 37px,#00008f 67px,#00009f 68px,#00009f 83px,#0000af 84px,#0000af 105px,#0000bf 106px,#0000bf 140px,#0000af 141px,#0000af 162px,#00009f 163px,#00009f 178px,#00008f 179px,#00008f 209px,#00009f 210px,#00009f 238px,#0000af 239px,#0000af"></i><i style="--g:#00009f,#00009f 34px,#00008f 35px,#00008f 67px,#00009f 68px,#00009f 84px,#0000af 85px,#0000af 111px,#0000bf 112px,#0000bf 135px,#0000af 136px,#0000af 161px,#00009f 162px,#00009f 178px,#00008f 179px,#00008f 211px,#00009f 212px,#00009f"></i><i style="--g:#00009f,#00009f 32px,#00008f 33px,#00008f 68px,#00009f 69px,#00009f 86px,#0000af 87px,#0000af 160px,#00009f 161px,#00009f 178px,#00008f 179px,#00008f 213px,#00009f 214px,#00009f"></i><i style="--g:#00009f,#00009f 30px,#00008f 31px,#00008f 68px,#00009f 69px,#00009f 87px,#0000af 88px,#0000af 158px,#00009f 159px,#00009f 177px,#00008f 178px,#00008f 215px,#00009f 216px,#00009f"></i><i style="--g:#00009f,#00009f 28px,#00008f 29px,#00008f 68px,#00009f 69px,#00009f 89px,#0000af 90px,#0000af 156px,#00009f 157px,#00009f 177px,#00008f 178px,#00008f 218px,#00009f 219px,#00009f"></i><i style="--g:#00009f,#00009f 25px,#00008f 26px,#00008f 69px,#00009f 70px,#00009f 91px,#0000af 92px,#0000af 154px,#00009f 155px,#00009f 177px,#00008f 178px,#00008f 221px,#00009f 222px,#00009f"></i><i style="--g:#00009f,#00009f 22px,#00008f 23px,#00008f 69px,#00009f 70px,#00009f 93px,#0000af 94px,#0000af 152px,#00009f 153px,#00009f 176px,#00008f 177px,#00008f 224px,#00009f 225px,#00009f"></i><i style="--g:#00009f,#00009f 18px,#00008f 19px,#00008f 70px,#00009f 71px,#00009f 96px,#0000af 97px,#0000af 150px,#00009f 151px,#00009f 176px,#00008f 177px,#00008f 228px,#00009f 229px,#00009f"></i><i style="--g:#00009f,#00009f 12px,#00008f 13px,#00008f 70px,#00009f 71px,#00009f 98px,#0000af 99px,#0000af 147px,#00009f 148px,#00009f 175px,#00008f 176px,#00008f 233px,#00009f 234px,#00009f"></i><i style="--g:#00008f,#00008f 71px,#00009f 72px,#00009f 102px,#0000af 103px,#0000af 144px,#00009f 145px,#00009f 175px,#00008f 176px,#00008f"></i><i style="--g:#00008f,#00008f 71px,#00009f 72px,#00009f 106px,#0000af 107px,#0000af 140px,#00009f 141px,#00009f 174px,#00008f 175px,#00008f"></i><i style="--g:#00008f,#00008f 72px,#00009f 73px,#00009f 111px,#0000af 112px,#0000af 134px,#00009f 135px,#00009f 174px,#00008f 175px,#00008f"></i><i style="--g:#00008f,#00008f 72px,#00009f 73px,#00009f 173px,#00008f 174px,#00008f"></i><i style="--g:#00008f,#00008f 73px,#00009f 74px,#00009f 172px,#00008f 173px,#00008f"></i><i style="--g:#00008f,#00008f 74px,#00009f 75px,#00009f 172px,#00008f 173px,#00008f"></i><i style="--g:#00008f,#00008f 74px,#00009f 75px,#00009f 171px,#00008f 172px,#00008f"></i><i style="--g:#00008f,#00008f 75px,#00009f 76px,#00009f 170px,#00008f 171px,#00008f"></i><i style="--g:#00008f,#00008f 76px,#00009f 77px,#00009f 170px,#00008f 171px,#00008f"></i><i style="--g:#00008f,#00008f 77px,#00009f 78px,#00009f 169px,#00008f 170px,#00008f"></i><i style="--g:#00008f,#00008f 78px,#00009f 79px,#00009f 168px,#00008f 169px,#00008f"></i><i style="--g:#00008f,#00008f 78px,#00009f 79px,#00009f 167px,#00008f 168px,#00008f"></i><i style="--g:#00008f,#00008f 80px,#00009f 81px,#00009f 166px,#00008f 167px,#00008f"></i><i style="--g:#00008f,#00008f 81px,#00009f 82px,#00009f 165px,#00008f 166px,#00008f"></i><i style="--g:#00008f,#00008f 82px,#00009f 83px,#00009f 164px,#00008f 165px,#00008f"></i><i style="--g:#00008f,#00008f 83px,#00009f 84px,#00009f 162px,#00008f 163px,#00008f"></i><i style="--g:#00008f,#00008f 84px,#00009f 85px,#00009f 161px,#00008f 162px,#00008f"></i><i style="--g:#00008f,#00008f 86px,#00009f 87px,#00009f 159px,#00008f 160px,#00008f"></i><i style="--g:#00008f,#00008f 88px,#00009f 89px,#00009f 158px,#00008f 159px,#00008f"></i><i style="--g:#00008f,#00008f 89px,#00009f 90px,#00009f 156px,#00008f 157px,#00008f"></i><i style="--g:#00008f,#00008f 91px,#00009f 92px,#00009f 154px,#00008f 155px,#00008f"></i><i style="--g:#00008f,#00008f 93px,#00009f 94px,#00009f 152px,#00008f 153px,#00008f"></i><i style="--g:#00008f,#00008f 96px,#00009f 97px,#00009f 150px,#00008f 151px,#00008f"></i><i style="--g:#00008f,#00008f 99px,#00009f 100px,#00009f 147px,#00008f 148px,#00008f"></i><i style="--g:#00008f,#00008f 102px,#00009f 103px,#00009f 143px,#00008f 144px,#00008f"></i><i style="--g:#00008f,#00008f 106px,#00009f 107px,#00009f 139px,#00008f 140px,#00008f"></i><i style="--g:#00008f,#00008f 112px,#00009f 113px,#00009f 133px,#00008f 134px,#00008f"></i><i style="--g:#00008f,#00008f;height:19px"></i></div>
<svg class="ov" width="675" height="588" viewBox="0 0 675 588"><g stroke="#fff" fill="none"><line x1="47" y1="122.65" x2="292" y2="122.65" stroke-width="1.60"/><line x1="47" y1="144.70" x2="292" y2="144.70" stroke-width="1.60"/><line x1="47" y1="172.30" x2="292" y2="172.30" stroke-width="1.60"/><line x1="47" y1="179.00" x2="292" y2="179.00" stroke-width="1.60"/><line x1="106.30" y1="122.65" x2="106.30" y2="144.70" stroke-width="1.80"/><line x1="229.60" y1="122.65" x2="229.60" y2="144.70" stroke-width="1.80"/></g><g stroke="#000" stroke-opacity="0.3" stroke-width="0.5" fill="none"><rect x="301.2" y="39.5" width="12.6" height="216.1"/><path d="M301.0 201.1h2M314.0 201.1h-2"/><path d="M301.0 147.2h2M314.0 147.2h-2"/><path d="M301.0 93.2h2M314.0 93.2h-2"/></g></svg>
<div class="cb" style="left:301px;top:39px;width:13px;height:217px;background:linear-gradient(0deg,#000087 0.000%,#000087 1.562%,#000097 1.562%,#000097 3.125%,#0000a7 3.125%,#0000a7 4.688%,#0000b7 4.688%,#0000b7 6.250%,#0000c7 6.250%,#0000c7 7.812%,#0000d7 7.812%,#0000d7 9.375%,#0000e7 9.375%,#0000e7 10.938%,#0000f7 10.938%,#0000f7 12.500%,#0008ff 12.500%,#0008ff 14.062%,#0018ff 14.062%,#0018ff 15.625%,#0028ff 15.625%,#0028ff 17.188%,#0038ff 17.188%,#0038ff 18.750%,#0048ff 18.750%,#0048ff 20.312%,#0058ff 20.312%,#0058ff 21.875%,#0068ff 21.875%,#0068ff 23.438%,#0078ff 23.438%,#0078ff 25.000%,#0087ff 25.000%,#0087ff 26.562%,#0097ff 26.562%,#0097ff 28.125%,#00a7ff 28.125%,#00a7ff 29.688%,#00b7ff 29.688%,#00b7ff 31.250%,#00c7ff 31.250%,#00c7ff 32.812%,#00d7ff 32.812%,#00d7ff 34.375%,#00e7ff 34.375%,#00e7ff 35.938%,#00f7ff 35.938%,#00f7ff 37.500%,#08fff7 37.500%,#08fff7 39.062%,#18ffe7 39.062%,#18ffe7 40.625%,#28ffd7 40.625%,#28ffd7 42.188%,#38ffc7 42.188%,#38ffc7 43.750%,#48ffb7 43.750%,#48ffb7 45.312%,#58ffa7 45.312%,#58ffa7 46.875%,#68ff97 46.875%,#68ff97 48.438%,#78ff87 48.438%,#78ff87 50.000%,#87ff78 50.000%,#87ff78 51.562%,#97ff68 51.562%,#97ff68 53.125%,#a7ff58 53.125%,#a7ff58 54.688%,#b7ff48 54.688%,#b7ff48 56.250%,#c7ff38 56.250%,#c7ff38 57.812%,#d7ff28 57.812%,#d7ff28 59.375%,#e7ff18 59.375%,#e7ff18 60.938%,#f7ff08 60.938%,#f7ff08 62.500%,#fff700 62.500%,#fff700 64.062%,#ffe700 64.062%,#ffe700 65.625%,#ffd700 65.625%,#ffd700 67.188%,#ffc700 67.188%,#ffc700 68.750%,#ffb700 68.750%,#ffb700 70.312%,#ffa700 70.312%,#ffa700 71.875%,#ff9700 71.875%,#ff9700 73.438%,#ff8700 73.438%,#ff8700 75.000%,#ff7800 75.000%,#ff7800 76.562%,#ff6800 76.562%,#ff6800 78.125%,#ff5800 78.125%,#ff5800 79.688%,#ff4800 79.688%,#ff4800 81.250%,#ff3800 81.250%,#ff3800 82.812%,#ff2800 82.812%,#ff2800 84.375%,#ff1800 84.375%,#ff1800 85.938%,#ff0800 85.938%,#ff0800 87.500%,#f70000 87.500%,#f70000 89.062%,#e70000 89.062%,#e70000 90.625%,#d70000 90.625%,#d70000 92.188%,#c70000 92.188%,#c70000 93.750%,#b70000 93.750%,#b70000 95.312%,#a70000 95.312%,#a70000 96.875%,#970000 96.875%,#970000 98.438%,#870000 98.438%,#870000 100.000%)"></div>
<div class="tk zr" style="left:4.5px;top:31.8px">1.5</div><div class="tk zr" style="left:4.5px;top:67.8px">1</div><div class="tk zr" style="left:4.5px;top:103.7px">0.5</div><div class="tk zr" style="left:4.5px;top:139.6px">0</div><div class="tk zr" style="left:4.5px;top:175.6px">-0.5</div><div class="tk zr" style="left:4.5px;top:211.5px">-1</div><div class="tk zr" style="left:4.5px;top:247.5px">-1.5</div><div class="tk xc" style="left:37.7px;top:257.3px">-0.4</div><div class="tk xc" style="left:92.2px;top:257.3px">-0.2</div><div class="tk xc" style="left:149.3px;top:257.3px">0</div><div class="tk xc" style="left:203.9px;top:257.3px">0.2</div><div class="tk xc" style="left:258.4px;top:257.3px">0.4</div><div class="tk cl" style="left:315.8px;top:32.2px">2</div><div class="tk cl" style="left:315.8px;top:86.1px">1.5</div><div class="tk cl" style="left:315.8px;top:140.1px">1</div><div class="tk cl" style="left:315.8px;top:194.0px">0.5</div><div class="tk cl" style="left:315.8px;top:247.9px">0</div><div class="ax" style="left:129.3px;top:271.9px;width:80px;text-align:center">X (<span class="mu">&mu;</span>m)</div><div class="ax zl" style="left:-31.2px;top:140.7px">Z (<span class="mu">&mu;</span>m)</div>
<div class="nl" style="left:48.0px;top:119.1px;color:#000">n<sub>L</sub></div><div class="nl" style="left:142.9px;top:119.1px;color:#000">n<sub>H</sub></div><div class="nl" style="left:230.8px;top:119.1px;color:#000">n<sub>L</sub></div>
<div class="pl" style="left:1.0px;top:-0.9px">(a)</div><div class="tt" style="left:46.9px;top:10.4px">|<i>E<sub>y</sub></i>| for proposed absorber (<i>n<sub>Slab</sub></i> = 2)</div>
<div class="hm" style="left:385px;top:39px;width:245px;height:216px"><i style="--g:#0000ef,#0000ef;height:44px"></i><i style="--g:#0000ff,#0000ff 7px,#0000ef 8px,#0000ef 239px,#0000ff 240px,#0000ff"></i><i style="--g:#0000ff,#0000ff 14px,#0000ef 15px,#0000ef 232px,#0000ff 233px,#0000ff"></i><i style="--g:#0000ff,#0000ff 18px,#0000ef 19px,#0000ef 228px,#0000ff 229px,#0000ff"></i><i style="--g:#0000ff,#0000ff 21px,#0000ef 22px,#0000ef 225px,#0000ff 226px,#0000ff"></i><i style="--g:#0000ff,#0000ff 23px,#0000ef 24px,#0000ef 223px,#0000ff 224px,#0000ff"></i><i style="--g:#0000ff,#0000ff 25px,#0000ef 26px,#0000ef 221px,#0000ff 222px,#0000ff"></i><i style="--g:#0000ff,#0000ff 26px,#0000ef 27px,#0000ef 220px,#0000ff 221px,#0000ff"></i><i style="--g:#0000ff,#0000ff 27px,#0000ef 28px,#0000ef 219px,#0000ff 220px,#0000ff"></i><i style="--g:#0000ff,#0000ff 28px,#0000ef 29px,#0000ef 218px,#0000ff 219px,#0000ff"></i><i style="--g:#0000ff,#0000ff 29px,#0000ef 30px,#0000ef 217px,#0000ff 218px,#0000ff"></i><i style="--g:#0000ff,#0000ff 30px,#0000ef 31px,#0000ef 216px,#0000ff 217px,#0000ff"></i><i style="--g:#0000ff,#0000ff 31px,#0000ef 32px,#0000ef 216px,#0000ff 217px,#0000ff"></i><i style="--g:#0000ff,#0000ff 31px,#0000ef 32px,#0000ef 215px,#0000ff 216px,#0000ff"></i><i style="--g:#0000ff,#0000ff 32px,#0000ef 33px,#0000ef 215px,#0000ff 216px,#0000ff"></i><i style="--g:#0000ff,#0000ff 32px,#0000ef 33px,#0000ef 214px,#0000ff 215px,#0000ff"></i><i style="--g:#0000ff,#0000ff 33px,#0000ef 34px,#0000ef 214px,#0000ff 215px,#0000ff"></i><i style="--g:#0000ff,#0000ff 33px,#0000ef 34px,#0000ef 93px,#0000df 94px,#0000df 153px,#0000ef 154px,#0000ef 213px,#0000ff 214px,#0000ff"></i><i style="--g:#0000ff,#0000ff 34px,#0000ef 35px,#0000ef 84px,#0000df 85px,#0000df 162px,#0000ef 163px,#0000ef 213px,#0000ff 214px,#0000ff"></i><i style="--g:#0000ff,#0000ff 34px,#0000ef 35px,#0000ef 78px,#0000df 79px,#0000df 168px,#0000ef 169px,#0000ef 212px,#0000ff 213px,#0000ff"></i><i style="--g:#0000ff,#0000ff 35px,#0000ef 36px,#0000ef 74px,#0000df 75px,#0000df 172px,#0000ef 173px,#0000ef 212px,#0000ff 213px,#0000ff"></i><i style="--g:#0000ff,#0000ff 35px,#0000ef 36px,#0000ef 71px,#0000df 72px,#0000df 176px,#0000ef 177px,#0000ef 211px,#0000ff 212px,#0000ff"></i><i style="--g:#0000ff,#0000ff 35px,#0000ef 36px,#0000ef 68px,#0000df 69px,#0000df 179px,#0000ef 180px,#0000ef 211px,#0000ff 212px,#0000ff"></i><i style="--g:#0000ff,#0000ff 35px,#0000ef 36px,#0000ef 65px,#0000df 66px,#0000df 182px,#0000ef 183px,#0000ef 211px,#0000ff 212px,#0000ff"></i><i style="--g:#0000ff,#0000ff 35px,#0000ef 36px,#0000ef 62px,#0000df 63px,#0000df 185px,#0000ef 186px,#0000ef 212px,#0000ff 213px,#0000ff"></i><i style="--g:#0000ff,#0000ff 34px,#0000ef 35px,#0000ef 59px,#0000df 60px,#0000df 188px,#0000ef 189px,#0000ef 212px,#0000ff 213px,#0000ff"></i><i style="--g:#0000ff,#0000ff 33px,#0000ef 34px,#0000ef 56px,#0000df 57px,#0000df 190px,#0000ef 191px,#0000ef 213px,#0000ff 214px,#0000ff"></i><i style="--g:#0000ff,#0000ff 33px,#0000ef 34px,#0000ef 53px,#0000df 54px,#0000df 92px,#0000cf 93px,#0000cf 154px,#0000df 155px,#0000df 193px,#0000ef 194px,#0000ef 214px,#0000ff 215px,#0000ff"></i><i style="--g:#0000ff,#0000ff 32px,#0000ef 33px,#0000ef 51px,#0000df 52px,#0000df 79px,#0000cf 80px,#0000cf 167px,#0000df 168px,#0000df 195px,#0000ef 196px,#0000ef 215px,#0000ff 216px,#0000ff"></i><i style="--g:#0000ff,#0000ff 31px,#0000ef 32px,#0000ef 49px,#0000df 50px,#0000df 72px,#0000cf 73px,#0000cf 175px,#0000df 176px,#0000df 197px,#0000ef 198px,#0000ef 215px,#0000ff 216px,#0000ff"></i><i style="--g:#0000ff,#0000ff 30px,#0000ef 31px,#0000ef 47px,#0000df 48px,#0000df 67px,#0000cf 68px,#0000cf 180px,#0000df 181px,#0000df 199px,#0000ef 200px,#0000ef 216px,#0000ff 217px,#0000ff"></i><i style="--g:#0010ff,#0010ff 5px,#0000ff 6px,#0000ff 30px,#0000ef 31px,#0000ef 45px,#0000df 46px,#0000df 63px,#0000cf 64px,#0000cf 184px,#0000df 185px,#0000df 201px,#0000ef 202px,#0000ef 216px,#0000ff 217px,#0000ff 242px,#0010ff 243px,#0010ff"></i><i style="--g:#0010ff,#0010ff 8px,#0000ff 9px,#0000ff 30px,#0000ef 31px,#0000ef 44px,#0000df 45px,#0000df 59px,#0000cf 60px,#0000cf 92px,#0000bf 93px,#0000bf 154px,#0000cf 155px,#0000cf 187px,#0000df 188px,#0000df 203px,#0000ef 204px,#0000ef 217px,#0000ff 218px,#0000ff 238px,#0010ff 239px,#0010ff"></i><i style="--g:#0010ff,#0010ff 10px,#0000ff 11px,#0000ff 29px,#0000ef 30px,#0000ef 43px,#0000df 44px,#0000df 57px,#0000cf 58px,#0000cf 79px,#0000bf 80px,#0000bf 168px,#0000cf 169px,#0000cf 190px,#0000df 191px,#0000df 204px,#0000ef 205px,#0000ef 217px,#0000ff 218px,#0000ff 236px,#0010ff 237px,#0010ff"></i><i style="--g:#0010ff,#0010ff 12px,#0000ff 13px,#0000ff 29px,#0000ef 30px,#0000ef 41px,#0000df 42px,#0000df 54px,#0000cf 55px,#0000cf 72px,#0000bf 73px,#0000bf 174px,#0000cf 175px,#0000cf 192px,#0000df 193px,#0000df 205px,#0000ef 206px,#0000ef 217px,#0000ff 218px,#0000ff 234px,#0010ff 235px,#0010ff"></i><i style="--g:#0010ff,#0010ff 14px,#0000ff 15px,#0000ff 29px,#0000ef 30px,#0000ef 41px,#0000df 42px,#0000df 52px,#0000cf 53px,#0000cf 67px,#0000bf 68px,#0000bf 179px,#0000cf 180px,#0000cf 194px,#0000df 195px,#0000df 206px,#0000ef 207px,#0000ef 217px,#0000ff 218px,#0000ff 232px,#0010ff 233px,#0010ff"></i><i style="--g:#0010ff,#0010ff 16px,#0000ff 17px,#0000ff 29px,#0000ef 30px,#0000ef 40px,#0000df 41px,#0000df 51px,#0000cf 52px,#0000cf 64px,#0000bf 65px,#0000bf 183px,#0000cf 184px,#0000cf 196px,#0000df 197px,#0000df 207px,#0000ef 208px,#0000ef 217px,#0000ff 218px,#0000ff 231px,#0010ff 232px,#0010ff"></i><i style="--g:#0010ff,#0010ff 17px,#0000ff 18px,#0000ff 29px,#0000ef 30px,#0000ef 39px,#0000df 40px,#0000df 49px,#0000cf 50px,#0000cf 61px,#0000bf 62px,#0000bf 82px,#0000af 83px,#0000af 164px,#0000bf 165px,#0000bf 186px,#0000cf 187px,#0000cf 197px,#0000df 198px,#0000df 207px,#0000ef 208px,#0000ef 217px,#0000ff 218px,#0000ff 229px,#0010ff 230px,#0010ff"></i><i style="--g:#0010ff,#0010ff 19px,#0000ff 20px,#0000ff 30px,#0000ef 31px,#0000ef 39px,#0000df 40px,#0000df 48px,#0000cf 49px,#0000cf 58px,#0000bf 59px,#0000bf 75px,#0000af 76px,#0000af 172px,#0000bf 173px,#0000bf 188px,#0000cf 189px,#0000cf 198px,#0000df 199px,#0000df 208px,#0000ef 209px,#0000ef 217px,#0000ff 218px,#0000ff 228px,#0010ff 229px,#0010ff"></i><i style="--g:#0010ff,#0010ff 20px,#0000ff 21px,#0000ff 30px,#0000ef 31px,#0000ef 39px,#0000df 40px,#0000df 47px,#0000cf 48px,#0000cf 57px,#0000bf 58px,#0000bf 70px,#0000af 71px,#0000af 176px,#0000bf 177px,#0000bf 190px,#0000cf 191px,#0000cf 199px,#0000df 200px,#0000df 208px,#0000ef 209px,#0000ef 216px,#0000ff 217px,#0000ff 226px,#0010ff 227px,#0010ff"></i><i style="--g:#001aff,#0018ff 8px,#0010ff 9px,#0010ff 22px,#0000ff 23px,#0000ff 31px,#0000ef 32px,#0000ef 38px,#0000df 39px,#0000df 46px,#0000cf 47px,#0000cf 55px,#0000bf 56px,#0000bf 67px,#0000af 68px,#0000af 180px,#0000bf 181px,#0000bf 191px,#0000cf 192px,#0000cf 200px,#0000df 201px,#0000df 208px,#0000ef 209px,#0000ef 216px,#0000ff 217px,#0000ff 225px,#0010ff 226px,#0010ff 239px,#0018ff 240px,#001aff"></i><i style="--g:#001eff,#0019ff 12px,#0010ff 13px,#0010ff 23px,#0000ff 24px,#0000ff 31px,#0000ef 32px,#0000ef 38px,#0000df 39px,#0000df 46px,#0000cf 47px,#0000cf 54px,#0000bf 55px,#0000bf 64px,#0000af 65px,#0000af 183px,#0000bf 184px,#0000bf 193px,#0000cf 194px,#0000cf 201px,#0000df 202px,#0000df 208px,#0000ef 209px,#0000ef 215px,#0000ff 216px,#0000ff 223px,#0010ff 224px,#0010ff 234px,#0018ff 235px,#001eff"></i><i style="--g:#001fff,#0018ff 13px,#0010ff 14px,#0010ff 23px,#0000ff 24px,#0000ff 31px,#0000ef 32px,#0000ef 38px,#0000df 39px,#0000df 45px,#0000cf 46px,#0000cf 53px,#0000bf 54px,#0000bf 63px,#0000af 64px,#0000af 85px,#00009f 86px,#00009f 162px,#0000af 163px,#0000af 184px,#0000bf 185px,#0000bf 193px,#0000cf 194px,#0000cf 201px,#0000df 202px,#0000df 208px,#0000ef 209px,#0000ef 215px,#0000ff 216px,#0000ff 223px,#0010ff 224px,#0010ff 233px,#0018ff 234px,#001fff"></i><i style="--g:#001fff,#0018ff 13px,#0010ff 14px,#0010ff 23px,#0000ff 24px,#0000ff 31px,#0000ef 32px,#0000ef 38px,#0000df 39px,#0000df 45px,#0000cf 46px,#0000cf 53px,#0000bf 54px,#0000bf 62px,#0000af 63px,#0000af 80px,#00009f 81px,#00009f 166px,#0000af 167px,#0000af 185px,#0000bf 186px,#0000bf 194px,#0000cf 195px,#0000cf 201px,#0000df 202px,#0000df 208px,#0000ef 209px,#0000ef 215px,#0000ff 216px,#0000ff 223px,#0010ff 224px,#0010ff 234px,#0019ff 235px,#001fff"></i><i style="--g:#001fff,#0018ff 13px,#0010ff 14px,#0010ff 23px,#0000ff 24px,#0000ff 31px,#0000ef 32px,#0000ef 38px,#0000df 39px,#0000df 45px,#0000cf 46px,#0000cf 52px,#0000bf 53px,#0000bf 61px,#0000af 62px,#0000af 77px,#00009f 78px,#00009f 169px,#0000af 170px,#0000af 185px,#0000bf 186px,#0000bf 194px,#0000cf 195px,#0000cf 202px,#0000df 203px,#0000df 208px,#0000ef 209px,#0000ef 215px,#0000ff 216px,#0000ff 223px,#0010ff 224px,#0010ff 234px,#0019ff 235px,#001eff"></i><i style="--g:#001eff,#0019ff 12px,#0010ff 13px,#0010ff 23px,#0000ff 24px,#0000ff 31px,#0000ef 32px,#0000ef 38px,#0000df 39px,#0000df 45px,#0000cf 46px,#0000cf 52px,#0000bf 53px,#0000bf 60px,#0000af 61px,#0000af 75px,#00009f 76px,#00009f 172px,#0000af 173px,#0000af 186px,#0000bf 187px,#0000bf 195px,#0000cf 196px,#0000cf 202px,#0000df 203px,#0000df 209px,#0000ef 210px,#0000ef 216px,#0000ff 217px,#0000ff 223px,#0010ff 224px,#0010ff 234px,#0018ff 235px,#001eff"></i><i style="--g:#001eff,#0019ff 12px,#0010ff 13px,#0010ff 23px,#0000ff 24px,#0000ff 31px,#0000ef 32px,#0000ef 38px,#0000df 39px,#0000df 44px,#0000cf 45px,#0000cf 51px,#0000bf 52px,#0000bf 60px,#0000af 61px,#0000af 73px,#00009f 74px,#00009f 174px,#0000af 175px,#0000af 187px,#0000bf 188px,#0000bf 195px,#0000cf 196px,#0000cf 202px,#0000df 203px,#0000df 209px,#0000ef 210px,#0000ef 216px,#0000ff 217px,#0000ff 224px,#0010ff 225px,#0010ff 234px,#0018ff 235px,#001eff"></i><i style="--g:#001eff,#0018ff 12px,#0010ff 13px,#0010ff 23px,#0000ff 24px,#0000ff 30px,#0000ef 31px,#0000ef 37px,#0000df 38px,#0000df 44px,#0000cf 45px,#0000cf 51px,#0000bf 52px,#0000bf 59px,#0000af 60px,#0000af 71px,#00009f 72px,#00009f 175px,#0000af 176px,#0000af 187px,#0000bf 188px,#0000bf 195px,#0000cf 196px,#0000cf 202px,#0000df 203px,#0000df 209px,#0000ef 210px,#0000ef 216px,#0000ff 217px,#0000ff 224px,#0010ff 225px,#0010ff 235px,#0019ff 236px,#001eff"></i><i style="--g:#001eff,#0018ff 12px,#0010ff 13px,#0010ff 23px,#0000ff 24px,#0000ff 30px,#0000ef 31px,#0000ef 37px,#0000df 38px,#0000df 44px,#0000cf 45px,#0000cf 51px,#0000bf 52px,#0000bf 58px,#0000af 59px,#0000af 70px,#00009f 71px,#00009f 177px,#0000af 178px,#0000af 188px,#0000bf 189px,#0000bf 196px,#0000cf 197px,#0000cf 203px,#0000df 204px,#0000df 209px,#0000ef 210px,#0000ef 216px,#0000ff 217px,#0000ff 224px,#0010ff 225px,#0010ff 235px,#0019ff 236px,#001eff"></i><i style="--g:#001dff,#0019ff 11px,#0010ff 12px,#0010ff 22px,#0000ff 23px,#0000ff 30px,#0000ef 31px,#0000ef 37px,#0000df 38px,#0000df 43px,#0000cf 44px,#0000cf 50px,#0000bf 51px,#0000bf 58px,#0000af 59px,#0000af 69px,#00009f 70px,#00009f 116px,#0000af 117px,#0000af 131px,#00009f 132px,#00009f 178px,#0000af 179px,#0000af 189px,#0000bf 190px,#0000bf 196px,#0000cf 197px,#0000cf 203px,#0000df 204px,#0000df 209px,#0000ef 210px,#0000ef 216px,#0000ff 217px,#0000ff 224px,#0010ff 225px,#0010ff 235px,#0018ff 236px,#001dff"></i><i style="--g:#001dff,#0019ff 11px,#0010ff 12px,#0010ff 22px,#0000ff 23px,#0000ff 30px,#0000ef 31px,#0000ef 37px,#0000df 38px,#0000df 43px,#0000cf 44px,#0000cf 50px,#0000bf 51px,#0000bf 57px,#0000af 58px,#0000af 67px,#00009f 68px,#00009f 100px,#0000af 101px,#0000af 146px,#00009f 147px,#00009f 179px,#0000af 180px,#0000af 189px,#0000bf 190px,#0000bf 197px,#0000cf 198px,#0000cf 203px,#0000df 204px,#0000df 210px,#0000ef 211px,#0000ef 216px,#0000ff 217px,#0000ff 224px,#0010ff 225px,#0010ff 235px,#0018ff 236px,#001dff"></i><i style="--g:#001dff,#0018ff 11px,#0010ff 12px,#0010ff 22px,#0000ff 23px,#0000ff 30px,#0000ef 31px,#0000ef 37px,#0000df 38px,#0000df 43px,#0000cf 44px,#0000cf 50px,#0000bf 51px,#0000bf 57px,#0000af 58px,#0000af 66px,#00009f 67px,#00009f 95px,#0000af 96px,#0000af 152px,#00009f 153px,#00009f 180px,#0000af 181px,#0000af 190px,#0000bf 191px,#0000bf 197px,#0000cf 198px,#0000cf 203px,#0000df 204px,#0000df 210px,#0000ef 211px,#0000ef 217px,#0000ff 218px,#0000ff 224px,#0010ff 225px,#0010ff 235px,#0018ff 236px,#001dff"></i><i style="--g:#001dff,#0018ff 11px,#0010ff 12px,#0010ff 22px,#0000ff 23px,#0000ff 30px,#0000ef 31px,#0000ef 36px,#0000df 37px,#0000df 43px,#0000cf 44px,#0000cf 49px,#0000bf 50px,#0000bf 56px,#0000af 57px,#0000af 66px,#00009f 67px,#00009f 91px,#0000af 92px,#0000af 155px,#00009f 156px,#00009f 181px,#0000af 182px,#0000af 190px,#0000bf 191px,#0000bf 197px,#0000cf 198px,#0000cf 204px,#0000df 205px,#0000df 210px,#0000ef 211px,#0000ef 217px,#0000ff 218px,#0000ff 224px,#0010ff 225px,#0010ff 236px,#0019ff 237px,#001dff"></i><i style="--g:#001dff,#0018ff 11px,#0010ff 12px,#0010ff 22px,#0000ff 23px,#0000ff 30px,#0000ef 31px,#0000ef 36px,#0000df 37px,#0000df 43px,#0000cf 44px,#0000cf 49px,#0000bf 50px,#0000bf 56px,#0000af 57px,#0000af 65px,#00009f 66px,#00009f 88px,#0000af 89px,#0000af 158px,#00009f 159px,#00009f 182px,#0000af 183px,#0000af 191px,#0000bf 192px,#0000bf 197px,#0000cf 198px,#0000cf 204px,#0000df 205px,#0000df 210px,#0000ef 211px,#0000ef 217px,#0000ff 218px,#0000ff 225px,#0010ff 226px,#0010ff 236px,#0019ff 237px,#001dff"></i><i style="--g:#001cff,#0019ff 10px,#0010ff 11px,#0010ff 22px,#0000ff 23px,#0000ff 29px,#0000ef 30px,#0000ef 36px,#0000df 37px,#0000df 42px,#0000cf 43px,#0000cf 49px,#0000bf 50px,#0000bf 55px,#0000af 56px,#0000af 64px,#00009f 65px,#00009f 86px,#0000af 87px,#0000af 160px,#00009f 161px,#00009f 182px,#0000af 183px,#0000af 191px,#0000bf 192px,#0000bf 198px,#0000cf 199px,#0000cf 204px,#0000df 205px,#0000df 210px,#0000ef 211px,#0000ef 217px,#0000ff 218px,#0000ff 225px,#0010ff 226px,#0010ff 236px,#0018ff 237px,#001cff"></i><i style="--g:#001cff,#0019ff 10px,#0010ff 11px,#0010ff 22px,#0000ff 23px,#0000ff 29px,#0000ef 30px,#0000ef 36px,#0000df 37px,#0000df 42px,#0000cf 43px,#0000cf 48px,#0000bf 49px,#0000bf 55px,#0000af 56px,#0000af 63px,#00009f 64px,#00009f 84px,#0000af 85px,#0000af 110px,#0000bf 111px,#0000bf 137px,#0000af 138px,#0000af 162px,#00009f 163px,#00009f 183px,#0000af 184px,#0000af 191px,#0000bf 192px,#0000bf 198px,#0000cf 199px,#0000cf 204px,#0000df 205px,#0000df 210px,#0000ef 211px,#0000ef 217px,#0000ff 218px,#0000ff 225px,#0010ff 226px,#0010ff 236px,#0018ff 237px,#001cff"></i><i style="--g:#001cff,#0019ff 10px,#0010ff 11px,#0010ff 22px,#0000ff 23px,#0000ff 29px,#0000ef 30px,#0000ef 36px,#0000df 37px,#0000df 42px,#0000cf 43px,#0000cf 48px,#0000bf 49px,#0000bf 55px,#0000af 56px,#0000af 63px,#00009f 64px,#00009f 83px,#0000af 84px,#0000af 102px,#0000bf 103px,#0000bf 144px,#0000af 145px,#0000af 163px,#00009f 164px,#00009f 184px,#0000af 185px,#0000af 192px,#0000bf 193px,#0000bf 198px,#0000cf 199px,#0000cf 204px,#0000df 205px,#0000df 211px,#0000ef 212px,#0000ef 217px,#0000ff 218px,#0000ff 225px,#0010ff 226px,#0010ff 236px,#0018ff 237px,#001cff"></i><i style="--g:#001cff,#0018ff 10px,#0010ff 11px,#0010ff 22px,#0000ff 23px,#0000ff 29px,#0000ef 30px,#0000ef 36px,#0000df 37px,#0000df 42px,#0000cf 43px,#0000cf 48px,#0000bf 49px,#0000bf 54px,#0000af 55px,#0000af 62px,#00009f 63px,#00009f 82px,#0000af 83px,#0000af 98px,#0000bf 99px,#0000bf 148px,#0000af 149px,#0000af 165px,#00009f 166px,#00009f 184px,#0000af 185px,#0000af 192px,#0000bf 193px,#0000bf 199px,#0000cf 200px,#0000cf 205px,#0000df 206px,#0000df 211px,#0000ef 212px,#0000ef 217px,#0000ff 218px,#0000ff 225px,#0010ff 226px,#0010ff 236px,#0018ff 237px,#001cff"></i><i style="--g:#001cff,#0019ff 10px,#0010ff 11px,#0010ff 22px,#0000ff 23px,#0000ff 29px,#0000ef 30px,#0000ef 36px,#0000df 37px,#0000df 42px,#0000cf 43px,#0000cf 48px,#0000bf 49px,#0000bf 54px,#0000af 55px,#0000af 61px,#00009f 62px,#00009f 81px,#0000af 82px,#0000af 95px,#0000bf 96px,#0000bf 151px,#0000af 152px,#0000af 166px,#00009f 167px,#00009f 185px,#0000af 186px,#0000af 192px,#0000bf 193px,#0000bf 199px,#0000cf 200px,#0000cf 205px,#0000df 206px,#0000df 211px,#0000ef 212px,#0000ef 217px,#0000ff 218px,#0000ff 225px,#0010ff 226px,#0010ff 236px,#0018ff 237px,#001cff"></i><i style="--g:#001cff,#0019ff 10px,#0010ff 11px,#0010ff 22px,#0000ff 23px,#0000ff 29px,#0000ef 30px,#0000ef 36px,#0000df 37px,#0000df 42px,#0000cf 43px,#0000cf 48px,#0000bf 49px,#0000bf 54px,#0000af 55px,#0000af 61px,#00009f 62px,#00009f 80px,#0000af 81px,#0000af 93px,#0000bf 94px,#0000bf 119px,#0000cf 120px,#0000cf 128px,#0000bf 129px,#0000bf 154px,#0000af 155px,#0000af 167px,#00009f 168px,#00009f 185px,#0000af 186px,#0000af 193px,#0000bf 194px,#0000bf 199px,#0000cf 200px,#0000cf 205px,#0000df 206px,#0000df 211px,#0000ef 212px,#0000ef 217px,#0000ff 218px,#0000ff 225px,#0010ff 226px,#0010ff 236px,#0018ff 237px,#001cff"></i><i style="--g:#001cff,#0019ff 10px,#0010ff 11px,#0010ff 22px,#0000ff 23px,#0000ff 29px,#0000ef 30px,#0000ef 36px,#0000df 37px,#0000df 42px,#0000cf 43px,#0000cf 47px,#0000bf 48px,#0000bf 53px,#0000af 54px,#0000af 61px,#00009f 62px,#00009f 79px,#0000af 80px,#0000af 91px,#0000bf 92px,#0000bf 109px,#0000cf 110px,#0000cf 138px,#0000bf 139px,#0000bf 156px,#0000af 157px,#0000af 168px,#00009f 169px,#00009f 186px,#0000af 187px,#0000af 193px,#0000bf 194px,#0000bf 199px,#0000cf 200px,#0000cf 205px,#0000df 206px,#0000df 211px,#0000ef 212px,#0000ef 217px,#0000ff 218px,#0000ff 225px,#0010ff 226px,#0010ff 236px,#0018ff 237px,#001cff"></i><i style="--g:#001dff,#0018ff 11px,#0010ff 12px,#0010ff 22px,#0000ff 23px,#0000ff 29px,#0000ef 30px,#0000ef 36px,#0000df 37px,#0000df 41px,#0000cf 42px,#0000cf 47px,#0000bf 48px,#0000bf 53px,#0000af 54px,#0000af 60px,#00009f 61px,#00009f 78px,#0000af 79px,#0000af 89px,#0000bf 90px,#0000bf 104px,#0000cf 105px,#0000cf 143px,#0000bf 144px,#0000bf 158px,#0000af 159px,#0000af 168px,#00009f 169px,#00009f 186px,#0000af 187px,#0000af 193px,#0000bf 194px,#0000bf 199px,#0000cf 200px,#0000cf 205px,#0000df 206px,#0000df 211px,#0000ef 212px,#0000ef 217px,#0000ff 218px,#0000ff 225px,#0010ff 226px,#0010ff 236px,#0018ff 237px,#001dff"></i><i style="--g:#001dff,#0018ff 11px,#0010ff 12px,#0010ff 22px,#0000ff 23px,#0000ff 29px,#0000ef 30px,#0000ef 36px,#0000df 37px,#0000df 41px,#0000cf 42px,#0000cf 47px,#0000bf 48px,#0000bf 53px,#0000af 54px,#0000af 60px,#00009f 61px,#00009f 77px,#0000af 78px,#0000af 87px,#0000bf 88px,#0000bf 100px,#0000cf 101px,#0000cf 146px,#0000bf 147px,#0000bf 159px,#0000af 160px,#0000af 169px,#00009f 170px,#00009f 187px,#0000af 188px,#0000af 193px,#0000bf 194px,#0000bf 199px,#0000cf 200px,#0000cf 205px,#0000df 206px,#0000df 211px,#0000ef 212px,#0000ef 217px,#0000ff 218px,#0000ff 225px,#0010ff 226px,#0010ff 236px,#0019ff 237px,#001dff"></i><i style="--g:#001dff,#0018ff 11px,#0010ff 12px,#0010ff 22px,#0000ff 23px,#0000ff 29px,#0000ef 30px,#0000ef 36px,#0000df 37px,#0000df 41px,#0000cf 42px,#0000cf 47px,#0000bf 48px,#0000bf 53px,#0000af 54px,#0000af 59px,#00009f 60px,#00009f 77px,#0000af 78px,#0000af 86px,#0000bf 87px,#0000bf 98px,#0000cf 99px,#0000cf 149px,#0000bf 150px,#0000bf 160px,#0000af 161px,#0000af 170px,#00009f 171px,#00009f 187px,#0000af 188px,#0000af 194px,#0000bf 195px,#0000bf 199px,#0000cf 200px,#0000cf 205px,#0000df 206px,#0000df 211px,#0000ef 212px,#0000ef 217px,#0000ff 218px,#0000ff 225px,#0010ff 226px,#0010ff 235px,#0018ff 236px,#001dff"></i><i style="--g:#0020ff,#0019ff 13px,#0010ff 14px,#0010ff 23px,#0000ff 24px,#0000ff 30px,#0000ef 31px,#0000ef 36px,#0000df 37px,#0000df 42px,#0000cf 43px,#0000cf 48px,#0000bf 49px,#0000bf 53px,#0000af 54px,#0000af 60px,#00009f 61px,#00009f 76px,#0000af 77px,#0000af 84px,#0000bf 85px,#0000bf 94px,#0000cf 95px,#0000cf 107px,#0000df 108px,#0000df 139px,#0000cf 140px,#0000cf 153px,#0000bf 154px,#0000bf 162px,#0000af 163px,#0000af 171px,#00009f 172px,#00009f 187px,#0000af 188px,#0000af 193px,#0000bf 194px,#0000bf 199px,#0000cf 200px,#0000cf 204px,#0000df 205px,#0000df 210px,#0000ef 211px,#0000ef 216px,#0000ff 217px,#0000ff 223px,#0010ff 224px,#0010ff 233px,#0019ff 234px,#0020ff"></i><i style="--g:#0024ff,#001bff 15px,#0019ff 16px,#0010ff 17px,#0010ff 25px,#0000ff 26px,#0000ff 32px,#0000ef 33px,#0000ef 38px,#0000df 39px,#0000df 43px,#0000cf 44px,#0000cf 48px,#0000bf 49px,#0000bf 54px,#0000af 55px,#0000af 60px,#00009f 61px,#00009f 75px,#0000af 76px,#0000af 83px,#0000bf 84px,#0000bf 90px,#0000cf 91px,#0000cf 100px,#0000df 101px,#0000df 123px,#0000ef 124px,#0000df 125px,#0000df 146px,#0000cf 147px,#0000cf 156px,#0000bf 157px,#0000bf 164px,#0000af 165px,#0000af 171px,#00009f 172px,#00009f 187px,#0000af 188px,#0000af 193px,#0000bf 194px,#0000bf 198px,#0000cf 199px,#0000cf 203px,#0000df 204px,#0000df 209px,#0000ef 210px,#0000ef 215px,#0000ff 216px,#0000ff 221px,#0010ff 222px,#0010ff 230px,#0019ff 231px,#0024ff"></i><i style="--g:#0029ff,#001fff 15px,#0019ff 19px,#0010ff 20px,#0010ff 27px,#0000ff 28px,#0000ff 33px,#0000ef 34px,#0000ef 39px,#0000df 40px,#0000df 44px,#0000cf 45px,#0000cf 49px,#0000bf 50px,#0000bf 54px,#0000af 55px,#0000af 60px,#00009f 61px,#00009f 74px,#0000af 75px,#0000af 81px,#0000bf 82px,#0000bf 88px,#0000cf 89px,#0000cf 96px,#0000df 97px,#0000df 106px,#0000ef 107px,#0000ef 140px,#0000df 141px,#0000df 151px,#0000cf 152px,#0000cf 159px,#0000bf 160px,#0000bf 165px,#0000af 166px,#0000af 172px,#00009f 173px,#00009f 187px,#0000af 188px,#0000af 192px,#0000bf 193px,#0000bf 197px,#0000cf 198px,#0000cf 202px,#0000df 203px,#0000df 208px,#0000ef 209px,#0000ef 213px,#0000ff 214px,#0000ff 219px,#0010ff 220px,#0010ff 227px,#0019ff 228px,#0028ff 243px,#0029ff"></i><i style="--g:#002fff,#0025ff 15px,#0019ff 22px,#0010ff 23px,#0010ff 29px,#0000ff 30px,#0000ff 35px,#0000ef 36px,#0000ef 40px,#0000df 41px,#0000df 45px,#0000cf 46px,#0000cf 50px,#0000bf 51px,#0000bf 54px,#0000af 55px,#0000af 60px,#00009f 61px,#00009f 73px,#0000af 74px,#0000af 79px,#0000bf 80px,#0000bf 85px,#0000cf 86px,#0000cf 92px,#0000df 93px,#0000df 100px,#0000ef 101px,#0000ef 113px,#0000ff 114px,#0000ff 134px,#0000ef 135px,#0000ef 146px,#0000df 147px,#0000df 154px,#0000cf 155px,#0000cf 161px,#0000bf 162px,#0000bf 167px,#0000af 168px,#0000af 173px,#00009f 174px,#00009f 187px,#0000af 188px,#0000af 192px,#0000bf 193px,#0000bf 197px,#0000cf 198px,#0000cf 202px,#0000df 203px,#0000df 206px,#0000ef 207px,#0000ef 212px,#0000ff 213px,#0000ff 217px,#0010ff 218px,#0010ff 224px,#0018ff 225px,#002dff 240px,#002fff"></i><i style="--g:#0036ff,#002cff 15px,#0019ff 25px,#0010ff 26px,#0010ff 31px,#0000ff 32px,#0000ff 36px,#0000ef 37px,#0000ef 41px,#0000df 42px,#0000df 46px,#0000cf 47px,#0000cf 50px,#0000bf 51px,#0000bf 55px,#0000af 56px,#0000af 60px,#00009f 61px,#00009f 73px,#0000af 74px,#0000af 78px,#0000bf 79px,#0000bf 83px,#0000cf 84px,#0000cf 89px,#0000df 90px,#0000df 96px,#0000ef 97px,#0000ef 104px,#0000ff 105px,#0000ff 142px,#0000ef 143px,#0000ef 151px,#0000df 152px,#0000df 157px,#0000cf 158px,#0000cf 163px,#0000bf 164px,#0000bf 168px,#0000af 169px,#0000af 174px,#00009f 175px,#00009f 187px,#0000af 188px,#0000af 192px,#0000bf 193px,#0000bf 196px,#0000cf 197px,#0000cf 201px,#0000df 202px,#0000df 205px,#0000ef 206px,#0000ef 210px,#0000ff 211px,#0000ff 216px,#0010ff 217px,#0010ff 222px,#001aff 223px,#0032ff 238px,#0036ff"></i><i style="--g:#003eff,#0035ff 14px,#001aff 27px,#0010ff 28px,#0010ff 33px,#0000ff 34px,#0000ff 38px,#0000ef 39px,#0000ef 42px,#0000df 43px,#0000df 47px,#0000cf 48px,#0000cf 51px,#0000bf 52px,#0000bf 55px,#0000af 56px,#0000af 60px,#00009f 61px,#00009f 72px,#0000af 73px,#0000af 77px,#0000bf 78px,#0000bf 82px,#0000cf 83px,#0000cf 87px,#0000df 88px,#0000df 92px,#0000ef 93px,#0000ef 99px,#0000ff 100px,#0000ff 108px,#0010ff 109px,#0010ff 139px,#0000ff 140px,#0000ff 147px,#0000ef 148px,#0000ef 154px,#0000df 155px,#0000df 160px,#0000cf 161px,#0000cf 165px,#0000bf 166px,#0000bf 170px,#0000af 171px,#0000af 175px,#00009f 176px,#00009f 187px,#0000af 188px,#0000af 191px,#0000bf 192px,#0000bf 196px,#0000cf 197px,#0000cf 200px,#0000df 201px,#0000df 204px,#0000ef 205px,#0000ef 209px,#0000ff 210px,#0000ff 214px,#0010ff 215px,#0010ff 219px,#0019ff 220px,#0037ff 235px,#003eff"></i><i style="--g:#0047ff,#003dff 14px,#001bff 29px,#0010ff 31px,#0010ff 35px,#0000ff 36px,#0000ff 39px,#0000ef 40px,#0000ef 43px,#0000df 44px,#0000df 47px,#0000cf 48px,#0000cf 51px,#0000bf 52px,#0000bf 55px,#0000af 56px,#0000af 60px,#00009f 61px,#00009f 71px,#0000af 72px,#0000af 76px,#0000bf 77px,#0000bf 80px,#0000cf 81px,#0000cf 85px,#0000df 86px,#0000df 90px,#0000ef 91px,#0000ef 95px,#0000ff 96px,#0000ff 102px,#0010ff 103px,#0010ff 111px,#0019ff 112px,#001fff 127px,#0019ff 135px,#0010ff 136px,#0010ff 145px,#0000ff 146px,#0000ff 151px,#0000ef 152px,#0000ef 157px,#0000df 158px,#0000df 162px,#0000cf 163px,#0000cf 166px,#0000bf 167px,#0000bf 171px,#0000af 172px,#0000af 175px,#00009f 176px,#00009f 187px,#0000af 188px,#0000af 191px,#0000bf 192px,#0000bf 195px,#0000cf 196px,#0000cf 199px,#0000df 200px,#0000df 203px,#0000ef 204px,#0000ef 207px,#0000ff 208px,#0000ff 212px,#0010ff 213px,#0010ff 217px,#001aff 218px,#003cff 233px,#0047ff"></i><i style="--g:#0051ff,#0047ff 14px,#0023ff 29px,#0019ff 32px,#0010ff 33px,#0010ff 36px,#0000ff 37px,#0000ff 40px,#0000ef 41px,#0000ef 44px,#0000df 45px,#0000df 48px,#0000cf 49px,#0000cf 52px,#0000bf 53px,#0000bf 56px,#0000af 57px,#0000af 60px,#00009f 61px,#00009f 70px,#0000af 71px,#0000af 75px,#0000bf 76px,#0000bf 79px,#0000cf 80px,#0000cf 83px,#0000df 84px,#0000df 87px,#0000ef 88px,#0000ef 92px,#0000ff 93px,#0000ff 97px,#0010ff 98px,#0010ff 104px,#001aff 105px,#002cff 119px,#0028ff 133px,#0019ff 143px,#0010ff 144px,#0010ff 149px,#0000ff 150px,#0000ff 155px,#0000ef 156px,#0000ef 159px,#0000df 160px,#0000df 164px,#0000cf 165px,#0000cf 168px,#0000bf 169px,#0000bf 172px,#0000af 173px,#0000af 176px,#00009f 177px,#00009f 187px,#0000af 188px,#0000af 191px,#0000bf 192px,#0000bf 195px,#0000cf 196px,#0000cf 198px,#0000df 199px,#0000df 202px,#0000ef 203px,#0000ef 206px,#0000ff 207px,#0000ff 210px,#0010ff 211px,#0010ff 215px,#001bff 216px,#0042ff 231px,#0051ff"></i><i style="--g:#005cff,#0053ff 13px,#0032ff 27px,#001aff 34px,#0010ff 35px,#0010ff 38px,#0000ff 39px,#0000ff 42px,#0000ef 43px,#0000ef 45px,#0000df 46px,#0000df 49px,#0000cf 50px,#0000cf 52px,#0000bf 53px,#0000bf 56px,#0000af 57px,#0000af 59px,#00009f 60px,#00009f 70px,#0000af 71px,#0000af 73px,#0000bf 74px,#0000bf 77px,#0000cf 78px,#0000cf 81px,#0000df 82px,#0000df 85px,#0000ef 86px,#0000ef 89px,#0000ff 90px,#0000ff 93px,#0010ff 94px,#0010ff 99px,#001aff 100px,#0036ff 114px,#003bff 128px,#0028ff 142px,#0010ff 150px,#0010ff 153px,#0000ff 154px,#0000ff 157px,#0000ef 158px,#0000ef 162px,#0000df 163px,#0000df 166px,#0000cf 167px,#0000cf 169px,#0000bf 170px,#0000bf 173px,#0000af 174px,#0000af 177px,#00009f 178px,#00009f 187px,#0000af 188px,#0000af 191px,#0000bf 192px,#0000bf 194px,#0000cf 195px,#0000cf 198px,#0000df 199px,#0000df 201px,#0000ef 202px,#0000ef 205px,#0000ff 206px,#0000ff 208px,#0010ff 209px,#0010ff 212px,#0020ff 215px,#004bff 230px,#005bff 243px,#005cff"></i><i style="--g:#0069ff,#005fff 13px,#003cff 27px,#001aff 36px,#0010ff 37px,#0010ff 40px,#0000ff 41px,#0000ff 43px,#0000ef 44px,#0000ef 46px,#0000df 47px,#0000df 50px,#0000cf 51px,#0000cf 53px,#0000bf 54px,#0000bf 56px,#0000af 57px,#0000af 59px,#00009f 60px,#00009f 69px,#0000af 70px,#0000af 72px,#0000bf 73px,#0000bf 76px,#0000cf 77px,#0000cf 79px,#0000df 80px,#0000df 83px,#0000ef 84px,#0000ef 86px,#0000ff 87px,#0000ff 90px,#0010ff 91px,#0010ff 95px,#001bff 96px,#003fff 110px,#004bff 123px,#0041ff 136px,#001fff 150px,#0018ff 152px,#0010ff 153px,#0010ff 156px,#0000ff 157px,#0000ff 160px,#0000ef 161px,#0000ef 164px,#0000df 165px,#0000df 167px,#0000cf 168px,#0000cf 171px,#0000bf 172px,#0000bf 174px,#0000af 175px,#0000af 177px,#00009f 178px,#00009f 187px,#0000af 188px,#0000af 190px,#0000bf 191px,#0000bf 194px,#0000cf 195px,#0000cf 197px,#0000df 198px,#0000df 200px,#0000ef 201px,#0000ef 203px,#0000ff 204px,#0000ff 207px,#0010ff 208px,#0010ff 211px,#001cff 212px,#004fff 227px,#0066ff 240px,#0069ff"></i><i style="--g:#0077ff,#006eff 12px,#004eff 25px,#0019ff 38px,#0010ff 39px,#0010ff 41px,#0000ff 42px,#0000ff 44px,#0000ef 45px,#0000ef 47px,#0000df 48px,#0000df 50px,#0000cf 51px,#0000cf 53px,#0000bf 54px,#0000bf 56px,#0000af 57px,#0000af 59px,#00009f 60px,#00009f 68px,#0000af 69px,#0000af 72px,#0000bf 73px,#0000bf 75px,#0000cf 76px,#0000cf 78px,#0000df 79px,#0000df 81px,#0000ef 82px,#0000ef 84px,#0000ff 85px,#0000ff 88px,#0010ff 89px,#0010ff 91px,#0020ff 94px,#004bff 108px,#005cff 121px,#0056ff 133px,#003aff 146px,#001aff 155px,#0010ff 156px,#0010ff 159px,#0000ff 160px,#0000ff 162px,#0000ef 163px,#0000ef 165px,#0000df 166px,#0000df 169px,#0000cf 170px,#0000cf 172px,#0000bf 173px,#0000bf 175px,#0000af 176px,#0000af 178px,#00009f 179px,#00009f 187px,#0000af 188px,#0000af 190px,#0000bf 191px,#0000bf 193px,#0000cf 194px,#0000cf 196px,#0000df 197px,#0000df 199px,#0000ef 200px,#0000ef 202px,#0000ff 203px,#0000ff 205px,#0010ff 206px,#0010ff 209px,#001cff 210px,#0053ff 224px,#0071ff 237px,#0077ff"></i><i style="--g:#0087ff,#007dff 12px,#005eff 24px,#0022ff 38px,#001dff 39px,#0010ff 40px,#0010ff 42px,#0000ff 43px,#0000ff 45px,#0000ef 46px,#0000ef 48px,#0000df 49px,#0000df 51px,#0000cf 52px,#0000cf 54px,#0000bf 55px,#0000bf 56px,#0000af 57px,#0000af 59px,#00009f 60px,#00009f 68px,#0000af 69px,#0000af 71px,#0000bf 72px,#0000bf 74px,#0000cf 75px,#0000cf 76px,#0000df 77px,#0000df 79px,#0000ef 80px,#0000ef 82px,#0000ff 83px,#0000ff 85px,#0010ff 86px,#0010ff 89px,#001cff 90px,#0051ff 104px,#006aff 116px,#006eff 128px,#005bff 140px,#002fff 153px,#0019ff 158px,#0010ff 159px,#0010ff 161px,#0000ff 162px,#0000ff 164px,#0000ef 165px,#0000ef 167px,#0000df 168px,#0000df 170px,#0000cf 171px,#0000cf 173px,#0000bf 174px,#0000bf 176px,#0000af 177px,#0000af 179px,#00009f 180px,#00009f 187px,#0000af 188px,#0000af 190px,#0000bf 191px,#0000bf 193px,#0000cf 194px,#0000cf 195px,#0000df 196px,#0000df 198px,#0000ef 199px,#0000ef 201px,#0000ff 202px,#0000ff 204px,#0010ff 205px,#0010ff 207px,#0020ff 209px,#005dff 223px,#007dff 235px,#0087ff"></i><i style="--g:#0098ff,#0090ff 11px,#0070ff 23px,#0036ff 36px,#001bff 41px,#0010ff 42px,#0010ff 44px,#0000ff 45px,#0000ff 46px,#0000ef 47px,#0000ef 49px,#0000df 50px,#0000df 52px,#0000cf 53px,#0000cf 54px,#0000bf 55px,#0000bf 57px,#0000af 58px,#0000af 59px,#00009f 60px,#00009f 67px,#0000af 68px,#0000af 70px,#0000bf 71px,#0000bf 73px,#0000cf 74px,#0000cf 75px,#0000df 76px,#0000df 78px,#0000ef 79px,#0000ef 80px,#0000ff 81px,#0000ff 83px,#0010ff 84px,#0010ff 86px,#001fff 88px,#0059ff 101px,#007aff 113px,#0083ff 124px,#0077ff 136px,#0053ff 148px,#001cff 160px,#0010ff 161px,#0010ff 163px,#0000ff 164px,#0000ff 166px,#0000ef 167px,#0000ef 169px,#0000df 170px,#0000df 171px,#0000cf 172px,#0000cf 174px,#0000bf 175px,#0000bf 176px,#0000af 177px,#0000af 179px,#00009f 180px,#00009f 187px,#0000af 188px,#0000af 190px,#0000bf 191px,#0000bf 192px,#0000cf 193px,#0000cf 195px,#0000df 196px,#0000df 197px,#0000ef 198px,#0000ef 200px,#0000ff 201px,#0000ff 203px,#0010ff 204px,#0010ff 205px,#003aff 212px,#0072ff 225px,#0091ff 237px,#0098ff"></i><i style="--g:#00acff,#00a3ff 11px,#0084ff 22px,#0048ff 35px,#0010ff 44px,#0010ff 45px,#0000ff 46px,#0000ff 47px,#0000ef 48px,#0000ef 50px,#0000df 51px,#0000df 52px,#0000cf 53px,#0000cf 55px,#0000bf 56px,#0000bf 57px,#0000af 58px,#0000af 59px,#00009f 60px,#00009f 67px,#0000af 68px,#0000af 69px,#0000bf 70px,#0000bf 72px,#0000cf 73px,#0000cf 74px,#0000df 75px,#0000df 76px,#0000ef 77px,#0000ef 79px,#0000ff 80px,#0000ff 81px,#0010ff 82px,#0010ff 84px,#0021ff 86px,#0063ff 99px,#008bff 111px,#0099ff 122px,#0091ff 133px,#0074ff 144px,#003aff 157px,#001eff 162px,#0010ff 163px,#0010ff 165px,#0000ff 166px,#0000ff 168px,#0000ef 169px,#0000ef 170px,#0000df 171px,#0000df 172px,#0000cf 173px,#0000cf 175px,#0000bf 176px,#0000bf 177px,#0000af 178px,#0000af 180px,#00009f 181px,#00009f 187px,#0000af 188px,#0000af 190px,#0000bf 191px,#0000bf 192px,#0000cf 193px,#0000cf 194px,#0000df 195px,#0000df 197px,#0000ef 198px,#0000ef 199px,#0000ff 200px,#0000ff 201px,#0010ff 202px,#0010ff 204px,#0022ff 206px,#006eff 220px,#0099ff 232px,#00abff 243px,#00acff"></i><i style="--g:#00c1ff,#00b8ff 11px,#0097ff 22px,#005bff 34px,#001bff 44px,#0010ff 45px,#0010ff 46px,#0000ff 47px,#0000ff 48px,#0000ef 49px,#0000ef 51px,#0000df 52px,#0000df 53px,#0000cf 54px,#0000cf 55px,#0000bf 56px,#0000bf 57px,#0000af 58px,#0000af 59px,#00009f 60px,#00009f 66px,#0000af 67px,#0000af 69px,#0000bf 70px,#0000bf 71px,#0000cf 72px,#0000cf 73px,#0000df 74px,#0000df 75px,#0000ef 76px,#0000ef 77px,#0000ff 78px,#0000ff 80px,#0010ff 81px,#0010ff 82px,#0022ff 84px,#006dff 97px,#0099ff 108px,#00afff 119px,#00adff 130px,#0094ff 141px,#0060ff 153px,#001eff 164px,#0010ff 165px,#0010ff 167px,#0000ff 168px,#0000ff 169px,#0000ef 170px,#0000ef 171px,#0000df 172px,#0000df 173px,#0000cf 174px,#0000cf 176px,#0000bf 177px,#0000bf 178px,#0000af 179px,#0000af 180px,#00009f 181px,#00009f 187px,#0000af 188px,#0000af 189px,#0000bf 190px,#0000bf 191px,#0000cf 192px,#0000cf 194px,#0000df 195px,#0000df 196px,#0000ef 197px,#0000ef 198px,#0000ff 199px,#0000ff 200px,#0010ff 201px,#0010ff 202px,#005fff 214px,#0099ff 226px,#00b9ff 237px,#00c1ff"></i><i style="--g:#00d9ff,#00d1ff 10px,#00b3ff 20px,#007dff 31px,#0026ff 44px,#001eff 45px,#0010ff 46px,#0010ff 47px,#0000ff 48px,#0000ff 49px,#0000ef 50px,#0000ef 51px,#0000df 52px,#0000df 53px,#0000cf 54px,#0000cf 55px,#0000bf 56px,#0000bf 57px,#0000af 58px,#0000af 59px,#00009f 60px,#00009f 66px,#0000af 67px,#0000af 68px,#0000bf 69px,#0000bf 70px,#0000cf 71px,#0000cf 72px,#0000df 73px,#0000df 74px,#0000ef 75px,#0000ef 76px,#0000ff 77px,#0000ff 78px,#0010ff 79px,#0010ff 80px,#0052ff 89px,#0095ff 101px,#00bdff 112px,#00cbff 122px,#00c4ff 132px,#00a8ff 142px,#0073ff 153px,#001dff 166px,#0010ff 167px,#0010ff 168px,#0000ff 169px,#0000ff 170px,#0000ef 171px,#0000ef 172px,#0000df 173px,#0000df 174px,#0000cf 175px,#0000cf 176px,#0000bf 177px,#0000bf 178px,#0000af 179px,#0000af 181px,#00009f 182px,#00009f 187px,#0000af 188px,#0000af 189px,#0000bf 190px,#0000bf 191px,#0000cf 192px,#0000cf 193px,#0000df 194px,#0000df 195px,#0000ef 196px,#0000ef 197px,#0000ff 198px,#0000ff 199px,#0010ff 200px,#0010ff 201px,#0039ff 206px,#008cff 219px,#00bdff 230px,#00d5ff 240px,#00d9ff"></i><i style="--g:#00f4ff,#00ebff 10px,#00cbff 20px,#0090ff 31px,#0031ff 44px,#0010ff 48px,#0000ff 49px,#0000ff 50px,#0000ef 51px,#0000ef 52px,#0000df 53px,#0000df 54px,#0000cf 55px,#0000cf 56px,#0000bf 57px,#0000bf 58px,#0000af 59px,#0000af 60px,#00009f 61px,#00009f 65px,#0000af 66px,#0000af 67px,#0000bf 68px,#0000bf 69px,#0000cf 70px,#0000cf 71px,#0000df 72px,#0000df 73px,#0000ef 74px,#0000ef 75px,#0000ff 76px,#0000ff 77px,#0010ff 78px,#0010ff 79px,#001fff 80px,#007fff 93px,#00bcff 104px,#00ddff 114px,#00e8ff 124px,#00dcff 134px,#00b9ff 144px,#007cff 155px,#001bff 168px,#0010ff 169px,#0010ff 170px,#0000ff 171px,#0000ff 172px,#0000df 174px,#0000df 175px,#0000cf 176px,#0000cf 177px,#0000bf 178px,#0000bf 179px,#0000af 180px,#0000af 181px,#00009f 182px,#00009f 187px,#0000af 188px,#0000af 189px,#0000bf 190px,#0000bf 191px,#0000df 193px,#0000df 194px,#0000ef 195px,#0000ef 196px,#0000ff 197px,#0000ff 198px,#0010ff 199px,#0010ff 200px,#0026ff 202px,#0087ff 215px,#00c5ff 226px,#00e7ff 236px,#00f4ff"></i><i style="--g:#12ffed,#0afff5 9px,#00fcff 14px,#00d0ff 24px,#0088ff 35px,#001aff 48px,#0010ff 49px,#0000ff 50px,#0000ff 51px,#0000ef 52px,#0000ef 53px,#0000cf 55px,#0000cf 56px,#0000bf 57px,#0000bf 58px,#0000af 59px,#0000af 60px,#00009f 61px,#00009f 65px,#0000af 66px,#0000af 67px,#0000bf 68px,#0000bf 69px,#0000df 71px,#0000df 72px,#0000ef 73px,#0000ef 74px,#0000ff 75px,#0010ff 76px,#0010ff 77px,#0069ff 87px,#00b6ff 98px,#00e8ff 108px,#01fffe 116px,#08fff7 125px,#00fcff 133px,#00d9ff 143px,#009fff 153px,#0042ff 165px,#001fff 169px,#0010ff 170px,#0010ff 171px,#0000ff 172px,#0000ff 173px,#0000df 175px,#0000df 176px,#0000cf 177px,#0000cf 178px,#0000bf 179px,#0000bf 180px,#00009f 182px,#00009f 187px,#0000af 188px,#0000af 189px,#0000cf 191px,#0000cf 192px,#0000df 193px,#0000df 194px,#0000ff 196px,#0000ff 197px,#0010ff 198px,#0010ff 199px,#001fff 200px,#008dff 213px,#00d4ff 224px,#00feff 234px,#11ffee 244px,#12ffed"></i><i style="--g:#32ffcd,#2affd5 9px,#0cfff3 18px,#00fcff 21px,#00bcff 31px,#0056ff 43px,#0010ff 50px,#0000ff 51px,#0000ff 52px,#0000df 54px,#0000df 55px,#0000cf 56px,#0000cf 57px,#0000af 59px,#0000af 60px,#00009f 61px,#00009f 65px,#0000bf 67px,#0000bf 68px,#0000cf 69px,#0000cf 70px,#0000ef 72px,#0000ef 73px,#0000ff 74px,#0010ff 75px,#0010ff 76px,#0029ff 78px,#0096ff 90px,#00deff 100px,#00ffff 106px,#20ffdf 115px,#2affd5 124px,#1effe1 133px,#00fcff 142px,#00c0ff 152px,#0066ff 163px,#0010ff 172px,#0000ff 173px,#0000ff 174px,#0000df 176px,#0000df 177px,#0000bf 179px,#0000bf 180px,#0000af 181px,#0000af 182px,#00009f 183px,#00009f 187px,#0000bf 189px,#0000bf 190px,#0000df 192px,#0000df 193px,#0000ff 195px,#0000ff 196px,#0010ff 197px,#0010ff 198px,#0021ff 199px,#0099ff 212px,#00e3ff 222px,#00ffff 227px,#24ffdb 236px,#32ffcd"></i><i style="--g:#56ffa9,#4dffb2 9px,#2cffd3 18px,#03fffc 25px,#00e5ff 29px,#0084ff 40px,#0010ff 51px,#0000ff 52px,#0000ff 53px,#0000cf 56px,#0000cf 57px,#0000af 59px,#0000af 60px,#00009f 61px,#00009f 65px,#0000cf 68px,#0000cf 69px,#0000ef 71px,#0000ef 72px,#0000ff 73px,#0010ff 74px,#0010ff 75px,#0022ff 76px,#009dff 88px,#00efff 98px,#00fdff 100px,#34ffcb 110px,#4cffb3 119px,#4dffb2 128px,#35ffca 137px,#07fff8 146px,#01fffe 147px,#00bbff 156px,#0047ff 168px,#0010ff 173px,#0000ff 174px,#0000ff 175px,#0000df 177px,#0000df 178px,#0000af 181px,#0000af 182px,#00009f 183px,#00009f 187px,#0000bf 189px,#0000bf 190px,#0000ef 193px,#0000ef 194px,#0000ff 195px,#0010ff 196px,#0010ff 197px,#0022ff 198px,#00a7ff 211px,#00f9ff 221px,#00ffff 222px,#34ffcb 231px,#50ffaf 240px,#56ffa9"></i><i style="--g:#7dff82,#76ff89 8px,#5affa5 16px,#23ffdc 25px,#04fffb 29px,#00e9ff 32px,#0079ff 43px,#0010ff 52px,#0000ff 53px,#0000ef 54px,#0000ef 55px,#0000bf 58px,#0000bf 59px,#00009f 61px,#00009f 64px,#0000af 65px,#0000af 66px,#0000df 69px,#0000df 70px,#0000ff 72px,#0010ff 73px,#00b6ff 88px,#00ffff 96px,#41ffbe 105px,#66ff99 113px,#77ff88 121px,#74ff8b 129px,#5cffa3 137px,#2affd5 146px,#04fffb 151px,#00e9ff 154px,#007aff 165px,#0010ff 174px,#0000ff 175px,#0000ff 176px,#0000bf 180px,#0000bf 181px,#00009f 183px,#00009f 186px,#0000af 187px,#0000af 188px,#0000df 191px,#0000df 192px,#0000ff 194px,#0010ff 195px,#0010ff 196px,#0022ff 197px,#00abff 209px,#01fffe 218px,#42ffbd 227px,#69ff96 235px,#7cff83 243px,#7dff82"></i><i style="--g:#a9ff56,#a1ff5e 8px,#82ff7d 16px,#4fffb0 24px,#00fdff 33px,#008dff 43px,#0010ff 53px,#0000ff 54px,#0000cf 57px,#0000cf 58px,#00009f 61px,#00009f 64px,#0000bf 66px,#0000bf 67px,#0000ff 71px,#0010ff 72px,#0033ff 75px,#00c6ff 87px,#00fbff 92px,#34ffcb 98px,#6fff90 106px,#95ff6a 114px,#a5ff5a 122px,#9eff61 130px,#81ff7e 138px,#4fffb0 146px,#00ffff 155px,#0091ff 165px,#0010ff 175px,#0000ff 176px,#0000ef 177px,#0000ef 178px,#00009f 183px,#00009f 186px,#0000af 187px,#0000af 188px,#0000ff 193px,#0000ff 194px,#002fff 197px,#00c3ff 209px,#00f9ff 214px,#0efff1 216px,#5bffa4 225px,#8aff75 233px,#a4ff5b 241px,#a9ff56"></i><i style="--g:#d9ff26,#d3ff2c 7px,#b9ff46 14px,#87ff78 22px,#3fffc0 30px,#00fcff 36px,#006eff 47px,#0026ff 52px,#0010ff 53px,#0010ff 54px,#0000ff 55px,#00009f 61px,#00009f 64px,#0000ff 70px,#0010ff 71px,#0010ff 72px,#0026ff 73px,#00caff 85px,#00fbff 89px,#34ffcb 94px,#7eff81 102px,#b3ff4c 110px,#ceff31 117px,#d7ff28 124px,#ccff33 131px,#aaff55 139px,#70ff8f 147px,#18ffe7 156px,#01fffe 158px,#008eff 167px,#0000ff 177px,#0000af 182px,#0000af 183px,#00008f 185px,#0000cf 189px,#0000cf 190px,#0000ff 193px,#0076ff 201px,#00f7ff 211px,#04fffb 212px,#62ff9d 221px,#a0ff5f 229px,#c9ff36 237px,#d8ff27 244px,#d9ff26"></i><i style="--g:#fff000,#fff700 7px,#faff05 11px,#d3ff2c 18px,#90ff6f 26px,#37ffc8 34px,#04fffb 38px,#00daff 41px,#0024ff 53px,#0000ff 55px,#00009f 61px,#00009f 64px,#0000ff 70px,#0045ff 74px,#00e8ff 85px,#04fffb 87px,#71ff8e 96px,#bcff43 104px,#ebff14 111px,#fffe00 116px,#fff200 123px,#fffa00 130px,#faff05 133px,#d5ff2a 140px,#94ff6b 148px,#3cffc3 156px,#00fbff 161px,#005bff 172px,#0000ff 178px,#00008f 185px,#0000ff 192px,#00d4ff 206px,#00fdff 209px,#77ff88 219px,#c1ff3e 227px,#efff10 234px,#fffe00 238px,#fff000"></i><i style="--g:#ffb500,#ffbd00 7px,#ffdb00 14px,#fffd00 19px,#caff35 25px,#6bff94 33px,#08fff7 40px,#00f8ff 41px,#0043ff 52px,#0000ff 56px,#0000cf 59px,#0000af 60px,#00009f 61px,#00009f 63px,#0000ff 69px,#00daff 82px,#00faff 84px,#19ffe6 86px,#86ff79 94px,#deff21 102px,#fffd00 106px,#ffd000 113px,#ffb900 120px,#ffb900 127px,#ffcf00 134px,#fcff03 142px,#b9ff46 149px,#57ffa8 157px,#01fffe 163px,#005dff 173px,#0029ff 176px,#0010ff 177px,#0000ff 178px,#00008f 185px,#0000ff 192px,#0019ff 193px,#00e2ff 205px,#02fffd 207px,#80ff7f 216px,#daff25 224px,#fdff02 228px,#ffcd00 236px,#ffb800 243px,#ffb600"></i><i style="--g:#ff7500,#ff7b00 6px,#ff9800 13px,#ffcd00 20px,#feff01 25px,#a6ff59 32px,#2bffd4 40px,#0afff5 42px,#00f8ff 43px,#001bff 55px,#0000ff 56px,#00009f 62px,#00009f 63px,#0000ef 68px,#0010ff 69px,#0030ff 71px,#00faff 82px,#1dffe2 84px,#99ff66 92px,#f4ff0b 99px,#fffe00 100px,#ffba00 107px,#ff8d00 114px,#ff7700 121px,#ff7800 127px,#ff9000 134px,#ffbf00 141px,#fffa00 147px,#edff12 149px,#82ff7d 157px,#02fffd 165px,#005eff 174px,#0000ff 179px,#0000ef 180px,#0000cf 181px,#00008f 185px,#0000bf 188px,#0000df 189px,#0000ff 191px,#0010ff 192px,#0097ff 199px,#03fffc 205px,#92ff6d 214px,#eeff11 221px,#faff05 222px,#ffee00 224px,#ffaf00 231px,#ff8600 238px,#ff7600 244px,#ff7500"></i><i style="--g:#ff2e00,#ff3400 6px,#ff4e00 12px,#ff7a00 18px,#ffc500 25px,#fffa00 29px,#e7ff18 31px,#64ff9b 39px,#07fff8 44px,#00f3ff 45px,#0028ff 55px,#0010ff 56px,#0000ff 57px,#0000ef 58px,#0000cf 59px,#00009f 62px,#00009f 63px,#0000cf 66px,#0000ef 67px,#0000ff 68px,#0010ff 69px,#002bff 70px,#00f6ff 80px,#0afff5 81px,#9aff65 89px,#f8ff07 95px,#fff800 96px,#ffa100 103px,#ff6100 110px,#ff3e00 116px,#ff2e00 122px,#ff3300 128px,#ff4b00 134px,#ff7600 140px,#ffbf00 147px,#fdff02 152px,#7fff80 160px,#00feff 167px,#001eff 178px,#0010ff 179px,#0000ef 180px,#0000cf 182px,#0000af 183px,#00008f 185px,#0000af 187px,#0000cf 188px,#0000ef 190px,#0010ff 191px,#0035ff 193px,#00ffff 203px,#a1ff5e 212px,#feff01 218px,#ffa700 225px,#ff6500 232px,#ff4000 238px,#ff2f00 244px,#ff2e00"></i><i style="--g:#e00000,#e70000 6px,#fd0000 11px,#ff2300 16px,#ff6100 22px,#ffc100 29px,#fcff03 33px,#68ff97 41px,#00ffff 46px,#001fff 56px,#0010ff 57px,#0000ef 58px,#0000df 59px,#0000bf 60px,#00009f 62px,#00009f 63px,#0000bf 65px,#0000df 66px,#0000ef 67px,#0010ff 68px,#0067ff 72px,#00edff 78px,#03fffc 79px,#a5ff5a 87px,#ffff00 92px,#ff9200 99px,#ff4800 105px,#ff1100 111px,#fc0000 114px,#e40000 120px,#e20000 126px,#f50000 132px,#ff0100 134px,#ff3000 140px,#ff7300 146px,#ffd700 153px,#fff800 155px,#f5ff0a 156px,#5fffa0 164px,#0cfff3 168px,#00f5ff 169px,#002cff 178px,#0010ff 179px,#0000ff 180px,#0000df 181px,#0000bf 183px,#00009f 184px,#00008f 185px,#00009f 186px,#0000bf 187px,#0000df 189px,#0000ff 190px,#0010ff 191px,#002dff 192px,#00f6ff 201px,#0dfff2 202px,#adff52 210px,#f6ff09 214px,#fff700 215px,#ff8c00 222px,#ff4300 228px,#ff0e00 234px,#ff0000 236px,#e50000 242px,#e00000"></i><i style="--g:#a30000,#aa0000 6px,#c80000 12px,#fd0000 18px,#ff2c00 22px,#ff8200 28px,#fffd00 35px,#87ff78 41px,#02fffd 47px,#0029ff 56px,#0010ff 57px,#0000ef 58px,#0000df 59px,#0000bf 60px,#00009f 62px,#00009f 63px,#0000af 64px,#0000cf 65px,#0000df 66px,#0000ff 67px,#0010ff 68px,#0046ff 70px,#00edff 77px,#05fffa 78px,#b5ff4a 86px,#f1ff0e 89px,#fffa00 90px,#ff8000 97px,#ff2a00 103px,#ff0700 106px,#fb0000 107px,#c80000 113px,#aa0000 119px,#a40000 125px,#b40000 131px,#db0000 137px,#ff0200 141px,#ff4d00 147px,#ffbc00 154px,#fff300 157px,#f8ff07 158px,#52ffad 166px,#0ffff0 169px,#00f7ff 170px,#001eff 179px,#0000ff 180px,#0000ef 181px,#0000cf 182px,#0000bf 183px,#00009f 184px,#00008f 185px,#00009f 186px,#0000bf 187px,#0000cf 188px,#0000ef 189px,#0000ff 190px,#001fff 191px,#00f8ff 200px,#10ffef 201px,#beff41 209px,#f9ff06 212px,#ffdf00 214px,#ff6900 221px,#ff1800 227px,#ff0200 229px,#c40000 236px,#a90000 242px,#a30000"></i><i style="--g:#800000,#800000 6px,#9f0000 12px,#d50000 18px,#f90000 21px,#ff0700 22px,#ff6100 28px,#ffe100 35px,#fff500 36px,#f4ff0b 37px,#42ffbd 45px,#13ffec 47px,#00f9ff 48px,#0030ff 56px,#0010ff 57px,#0000ff 58px,#0000df 59px,#0000cf 60px,#0000af 61px,#00009f 62px,#00009f 63px,#0000af 64px,#0000cf 65px,#0000df 66px,#0000ff 67px,#00fdff 77px,#cdff32 86px,#f7ff08 88px,#fff200 89px,#ff6f00 96px,#ff1200 102px,#ff0500 103px,#eb0000 105px,#ad0000 111px,#870000 117px,#800000 120px,#810000 129px,#a20000 135px,#da0000 141px,#ff0000 144px,#ff5800 150px,#ffd600 157px,#fffe00 159px,#66ff99 166px,#08fff7 170px,#00eeff 171px,#0025ff 179px,#0010ff 180px,#0000ef 181px,#0000cf 182px,#0000bf 183px,#00009f 184px,#00008f 185px,#00009f 186px,#0000df 188px,#0000ef 189px,#0010ff 190px,#00f0ff 199px,#09fff6 200px,#c1ff3e 208px,#fffd00 211px,#ff7900 218px,#ff1a00 224px,#fe0000 226px,#bb0000 232px,#8e0000 238px,#800000 242px,#800000"></i><i style="--g:#800000,#800000 11px,#b40000 17px,#ff0000 23px,#ff5f00 29px,#ffe600 36px,#fffb00 37px,#d8ff27 39px,#1cffe3 47px,#03fffc 48px,#009dff 52px,#0000ff 58px,#0000df 59px,#0000cf 60px,#0000af 61px,#00009f 62px,#00009f 63px,#0000af 64px,#0000ef 66px,#0000ff 67px,#006dff 71px,#00edff 76px,#07fff8 77px,#c5ff3a 85px,#f1ff0e 87px,#fff800 88px,#ff6e00 95px,#ff0c00 101px,#fc0000 102px,#b20000 108px,#860000 113px,#800000 114px,#800000 133px,#920000 136px,#d00000 142px,#f70000 145px,#ff0600 146px,#ff6700 152px,#ffef00 159px,#faff05 160px,#42ffbd 168px,#11ffee 170px,#00f7ff 171px,#0010ff 180px,#0000ef 181px,#0000df 182px,#00009f 184px,#00008f 185px,#00009f 186px,#0000df 188px,#0000ef 189px,#0010ff 190px,#00f8ff 199px,#12ffed 200px,#cfff30 208px,#fbff04 210px,#ffc500 213px,#ff4400 220px,#ff0500 224px,#e90000 226px,#a40000 232px,#830000 236px,#800000"></i><i style="--g:#800000,#820000 12px,#ba0000 18px,#fa0000 23px,#ff1800 25px,#ff7f00 31px,#fff700 37px,#f1ff0e 38px,#37ffc8 46px,#05fffa 48px,#00d2ff 50px,#0000ff 58px,#0000df 59px,#0000cf 60px,#0000af 61px,#00009f 62px,#00009f 63px,#0000af 64px,#0000ef 66px,#0000ff 67px,#0054ff 70px,#00efff 76px,#09fff6 77px,#c8ff37 85px,#f4ff0b 87px,#fff400 88px,#ff6a00 95px,#ff0700 101px,#f80000 102px,#ad0000 108px,#800000 113px,#800000 134px,#9f0000 138px,#e40000 144px,#ff0100 146px,#ff6300 152px,#fdff02 160px,#44ffbb 168px,#13ffec 170px,#00f9ff 171px,#0010ff 180px,#0000ef 181px,#0000df 182px,#00009f 184px,#00008f 185px,#00009f 186px,#0000df 188px,#0000ef 189px,#0010ff 190px,#00faff 199px,#2dffd2 201px,#e8ff17 209px,#feff01 210px,#ff7400 217px,#ff0f00 223px,#ff0000 224px,#b30000 230px,#850000 235px,#800000 237px,#800000"></i><i style="--g:#800000,#810000 10px,#b10000 16px,#f70000 22px,#ff0600 23px,#ff6500 29px,#ffea00 36px,#ffff00 37px,#4affb5 45px,#01fffe 48px,#0000ff 58px,#0000df 59px,#0000cf 60px,#0000af 61px,#00009f 62px,#00009f 63px,#0000af 64px,#0000ef 66px,#0000ff 67px,#00d1ff 75px,#04fffb 77px,#c1ff3e 85px,#fffc00 88px,#ff7400 95px,#ff1200 101px,#ff0400 102px,#cf0000 106px,#950000 112px,#800000 115px,#800000 132px,#a20000 137px,#e30000 143px,#fd0000 145px,#ff4a00 150px,#ffcb00 157px,#fff400 159px,#f5ff0a 160px,#3fffc0 168px,#0efff1 170px,#00f4ff 171px,#0010ff 180px,#0000ef 181px,#0000df 182px,#00009f 184px,#00008f 185px,#00009f 186px,#0000df 188px,#0000ef 189px,#0010ff 190px,#00f6ff 199px,#0ffff0 200px,#cbff34 208px,#f6ff09 210px,#fff300 211px,#ff6c00 218px,#ff0c00 224px,#fd0000 225px,#b50000 231px,#840000 237px,#800000 240px,#800000"></i><i style="--g:#870000,#8f0000 6px,#ad0000 12px,#e30000 18px,#fa0000 20px,#ff1400 22px,#ff6c00 28px,#ffeb00 35px,#ffff00 36px,#6aff95 43px,#0dfff2 47px,#00f4ff 48px,#002eff 56px,#0010ff 57px,#0000ff 58px,#0000df 59px,#0000cf 60px,#0000af 61px,#00009f 62px,#00009f 63px,#0000af 64px,#0000cf 65px,#0000df 66px,#0000ff 67px,#00f7ff 77px,#10ffef 78px,#c5ff3a 86px,#fffc00 89px,#ff7b00 96px,#ff1f00 102px,#ff0500 104px,#ec0000 106px,#b40000 112px,#920000 118px,#870000 124px,#940000 130px,#b80000 136px,#f30000 142px,#ff0000 143px,#ff5400 149px,#ffcd00 156px,#fff400 158px,#f6ff09 159px,#48ffb7 167px,#02fffd 170px,#0023ff 179px,#0010ff 180px,#0000ef 181px,#0000cf 182px,#0000bf 183px,#00009f 184px,#00008f 185px,#00009f 186px,#0000bf 187px,#0000cf 188px,#0000ef 189px,#0010ff 190px,#003dff 192px,#00eaff 199px,#03fffc 200px,#b9ff46 208px,#f7ff08 211px,#fff300 212px,#ff7300 219px,#ff1900 225px,#ff0000 227px,#c00000 233px,#980000 239px,#870000"></i><i style="--g:#b20000,#b90000 6px,#d60000 12px,#ff0100 17px,#ff4500 23px,#ff9d00 29px,#fff400 34px,#f8ff07 35px,#55ffaa 43px,#00fbff 47px,#0010ff 57px,#0000ef 58px,#0000df 59px,#0000bf 60px,#00009f 62px,#00009f 63px,#0000af 64px,#0000cf 65px,#0000df 66px,#0000ff 67px,#0010ff 68px,#00e8ff 77px,#00ffff 78px,#acff53 86px,#fbff04 90px,#ffcd00 93px,#ff5e00 100px,#ff1400 106px,#fe0000 108px,#cf0000 114px,#b60000 120px,#b30000 126px,#c70000 132px,#f10000 138px,#ff0500 140px,#ff4b00 146px,#ffa500 152px,#fffc00 157px,#b4ff4b 161px,#09fff6 169px,#00f1ff 170px,#001cff 179px,#0000ff 180px,#0000ef 181px,#0000cf 182px,#0000bf 183px,#00009f 184px,#00008f 185px,#00009f 186px,#0000bf 187px,#0000cf 188px,#0000ef 189px,#0000ff 190px,#0035ff 192px,#00f2ff 200px,#0afff5 201px,#b5ff4a 209px,#f0ff0f 212px,#fffb00 213px,#ff8400 220px,#ff3100 226px,#ff0500 230px,#f10000 232px,#c70000 238px,#b30000 244px,#b20000"></i><i style="--g:#ff0100,#ff0700 6px,#ff2200 12px,#ff5200 18px,#ff9400 24px,#fff700 31px,#f7ff08 32px,#6aff95 40px,#07fff8 45px,#00f2ff 46px,#001aff 56px,#0000ff 57px,#0000ef 58px,#0000cf 59px,#00009f 62px,#00009f 63px,#0000bf 65px,#0000df 66px,#0000ff 68px,#001eff 69px,#00f6ff 79px,#0bfff4 80px,#a5ff5a 88px,#faff05 93px,#ffe400 95px,#ff8500 102px,#ff4600 108px,#ff1b00 114px,#ff0400 120px,#ff0100 126px,#ff1400 132px,#ff3b00 138px,#ff7500 144px,#ffd000 151px,#fffd00 154px,#9aff65 160px,#00feff 168px,#0010ff 179px,#0000ff 180px,#0000df 181px,#0000cf 182px,#0000af 183px,#00008f 185px,#00009f 186px,#0000bf 187px,#0000df 189px,#0000ff 190px,#0010ff 191px,#00feff 202px,#acff53 211px,#fffd00 216px,#ff9900 223px,#ff5500 229px,#ff2500 235px,#ff0800 241px,#ff0100"></i><i style="--g:#ff4900,#ff4f00 6px,#ff6800 12px,#ff9c00 19px,#ffe800 26px,#fdff02 28px,#86ff79 36px,#0dfff2 43px,#00faff 44px,#0010ff 56px,#0000ff 57px,#0000df 58px,#00009f 62px,#00009f 63px,#0000cf 66px,#0000ef 67px,#0000ff 68px,#0010ff 69px,#00c6ff 78px,#00feff 81px,#9bff64 90px,#f3ff0c 96px,#fffe00 97px,#ffac00 104px,#ff7100 111px,#ff5300 117px,#ff4700 123px,#ff4e00 129px,#ff6800 135px,#ff9e00 142px,#ffec00 149px,#fff800 150px,#f8ff07 151px,#81ff7e 159px,#07fff8 166px,#00f3ff 167px,#001bff 178px,#0000ff 179px,#0000cf 182px,#0000af 183px,#00008f 185px,#0000af 187px,#0000cf 188px,#0000ff 191px,#002eff 193px,#00f2ff 203px,#06fff9 204px,#90ff6f 212px,#f7ff08 219px,#fffa00 220px,#ffa900 227px,#ff7000 234px,#ff5300 240px,#ff4900"></i><i style="--g:#ff8b00,#ff9300 7px,#ffb300 14px,#ffe900 21px,#fffd00 23px,#c9ff36 28px,#5dffa2 36px,#00fdff 42px,#003aff 53px,#0010ff 55px,#0000ff 56px,#0000cf 59px,#0000af 60px,#00009f 61px,#00009f 63px,#0000ef 68px,#0010ff 69px,#001bff 70px,#00f2ff 82px,#04fffb 83px,#8dff72 92px,#f1ff0e 100px,#fcff03 101px,#ffb500 110px,#ff9200 117px,#ff8700 124px,#ff9400 131px,#ffb900 138px,#fff400 145px,#fffe00 146px,#aeff51 153px,#3affc5 161px,#0afff5 164px,#00f9ff 165px,#0000ff 179px,#0000ef 180px,#0000cf 181px,#00008f 185px,#0000cf 189px,#0000ef 190px,#0000ff 191px,#0058ff 196px,#00f6ff 205px,#08fff7 206px,#90ff6f 215px,#e8ff17 222px,#fdff02 224px,#ffbc00 232px,#ff9800 239px,#ff8b00"></i><i style="--g:#ffc800,#ffcf00 7px,#ffed00 14px,#feff01 17px,#c4ff3b 24px,#6aff95 32px,#00fcff 40px,#004dff 51px,#001aff 54px,#0010ff 55px,#0000ef 56px,#00009f 61px,#00009f 63px,#0000ff 69px,#00d6ff 82px,#00f4ff 84px,#04fffb 85px,#7eff81 94px,#d4ff2b 102px,#fdff02 107px,#ffd400 115px,#ffc300 122px,#ffc900 129px,#ffe400 136px,#fffe00 140px,#ceff31 146px,#76ff89 154px,#0afff5 162px,#00faff 163px,#004aff 174px,#0029ff 176px,#0010ff 177px,#0000ff 178px,#00008f 185px,#0000ff 192px,#00a9ff 202px,#00f6ff 207px,#06fff9 208px,#7eff81 217px,#d3ff2c 225px,#fbff04 230px,#ffdf00 236px,#ffca00 243px,#ffc800"></i><i style="--g:#feff01,#f7ff08 7px,#dcff23 14px,#aeff51 21px,#64ff9b 29px,#05fffa 37px,#00eaff 39px,#004bff 50px,#0000ff 55px,#00009f 61px,#00009f 63px,#0000bf 65px,#0000bf 66px,#0000ff 70px,#0036ff 73px,#00d9ff 84px,#02fffd 87px,#6dff92 96px,#b6ff49 104px,#e4ff1b 111px,#ffff00 118px,#fff900 125px,#fdff02 130px,#e1ff1e 137px,#a9ff56 145px,#5bffa4 153px,#07fff8 160px,#00f9ff 161px,#005bff 172px,#0000ff 178px,#00009f 184px,#00009f 186px,#0000bf 188px,#0000bf 189px,#0000ff 193px,#0036ff 196px,#00d7ff 207px,#00ffff 210px,#6aff95 219px,#b3ff4c 227px,#dfff20 234px,#f8ff07 241px,#feff01"></i><i style="--g:#caff35,#c3ff3c 7px,#a6ff59 15px,#71ff8e 23px,#1effe1 32px,#00fcff 35px,#007fff 45px,#0000ff 54px,#0000bf 58px,#0000bf 59px,#00009f 61px,#00009f 63px,#0000af 64px,#0000af 65px,#0000ff 70px,#00bfff 84px,#00fcff 89px,#6cff93 100px,#a5ff5a 108px,#c9ff36 116px,#d4ff2b 123px,#ccff33 130px,#adff52 138px,#78ff87 146px,#23ffdc 155px,#01fffe 158px,#0090ff 167px,#0021ff 175px,#0000ff 177px,#0000df 179px,#0000df 180px,#00009f 184px,#00009f 187px,#0000ff 193px,#00d4ff 209px,#03fffc 213px,#5dffa2 222px,#98ff67 230px,#bdff42 238px,#caff35"></i><i style="--g:#9aff65,#92ff6d 8px,#74ff8b 16px,#41ffbe 24px,#05fffa 31px,#00f1ff 33px,#0082ff 43px,#0010ff 52px,#0000ff 53px,#0000ef 54px,#0000ef 55px,#00009f 60px,#00009f 63px,#0000af 64px,#0000af 65px,#0000ef 69px,#0000ef 70px,#0000ff 71px,#0046ff 76px,#00d5ff 88px,#00ffff 92px,#4fffb0 101px,#81ff7e 109px,#9fff60 117px,#a7ff58 125px,#98ff67 133px,#73ff8c 141px,#32ffcd 150px,#04fffb 155px,#00e4ff 158px,#0064ff 169px,#0024ff 174px,#0010ff 175px,#0010ff 176px,#0000ff 177px,#0000bf 181px,#0000bf 182px,#00009f 184px,#00009f 187px,#0000cf 190px,#0000cf 191px,#0000ff 194px,#0010ff 195px,#0025ff 197px,#00b7ff 209px,#01fffe 216px,#4dffb2 225px,#7bff84 233px,#95ff6a 241px,#9aff65"></i><i style="--g:#6dff92,#66ff99 8px,#4bffb4 16px,#15ffea 25px,#00fdff 28px,#00a1ff 38px,#0010ff 51px,#0000ff 52px,#0000ef 53px,#0000ef 54px,#0000bf 57px,#0000bf 58px,#00009f 60px,#00009f 63px,#0000af 64px,#0000af 65px,#0000df 68px,#0000df 69px,#0000ff 71px,#0010ff 72px,#0010ff 73px,#002dff 75px,#00b3ff 87px,#00fdff 95px,#46ffb9 105px,#6bff94 113px,#7cff83 121px,#79ff86 129px,#61ff9e 137px,#2fffd0 146px,#02fffd 152px,#00b7ff 160px,#0010ff 175px,#0000ff 176px,#0000ef 177px,#0000ef 178px,#0000bf 181px,#0000bf 182px,#00009f 184px,#00009f 187px,#0000af 188px,#0000af 189px,#0000df 192px,#0000df 193px,#0000ff 195px,#0010ff 196px,#0010ff 197px,#0023ff 198px,#00a7ff 210px,#00faff 219px,#0afff5 221px,#44ffbb 230px,#63ff9c 238px,#6dff92"></i><i style="--g:#45ffba,#3cffc3 9px,#1bffe4 18px,#00ffff 23px,#00b5ff 33px,#0043ff 45px,#0010ff 50px,#0000ff 51px,#0000ef 52px,#0000ef 53px,#0000cf 55px,#0000cf 56px,#0000af 58px,#0000af 59px,#00009f 60px,#00009f 63px,#0000af 64px,#0000af 65px,#0000cf 67px,#0000cf 68px,#0000ef 70px,#0000ef 71px,#0000ff 72px,#0010ff 73px,#0010ff 74px,#0022ff 75px,#00a7ff 88px,#00f8ff 98px,#00ffff 99px,#34ffcb 108px,#51ffae 117px,#57ffa8 126px,#45ffba 135px,#1cffe3 144px,#03fffc 148px,#00ddff 153px,#007bff 164px,#0010ff 174px,#0000ff 175px,#0000ff 176px,#0000df 178px,#0000df 179px,#0000af 182px,#0000af 183px,#00009f 184px,#00009f 188px,#0000bf 190px,#0000bf 191px,#0000ef 194px,#0000ef 195px,#0000ff 196px,#0010ff 197px,#0010ff 198px,#0034ff 201px,#00a9ff 213px,#00f6ff 223px,#03fffc 225px,#2fffd0 234px,#43ffbc 243px,#45ffba"></i><i style="--g:#1fffe0,#17ffe8 9px,#00fcff 17px,#00c6ff 27px,#0072ff 38px,#001fff 47px,#0010ff 48px,#0010ff 49px,#0000ff 50px,#0000ef 51px,#0000ef 52px,#0000df 53px,#0000df 54px,#0000bf 56px,#0000bf 57px,#00009f 59px,#00009f 63px,#0000af 64px,#0000af 65px,#0000bf 66px,#0000bf 67px,#0000df 69px,#0000df 70px,#0000ff 72px,#0000ff 73px,#0010ff 74px,#009bff 89px,#00e4ff 99px,#02fffd 104px,#26ffd9 113px,#35ffca 122px,#2effd1 131px,#12ffed 140px,#00feff 144px,#00bdff 154px,#0057ff 166px,#0010ff 173px,#0010ff 174px,#0000ff 175px,#0000ef 176px,#0000ef 177px,#0000cf 179px,#0000cf 180px,#0000af 182px,#0000af 183px,#00009f 184px,#00009f 188px,#0000af 189px,#0000af 190px,#0000cf 192px,#0000cf 193px,#0000ef 195px,#0000ef 196px,#0000ff 197px,#0000ff 198px,#001bff 200px,#0090ff 213px,#00d6ff 223px,#00ffff 231px,#1affe5 240px,#1fffe0"></i><i style="--g:#00fbff,#00f4ff 9px,#00d4ff 19px,#009eff 29px,#0044ff 41px,#0010ff 47px,#0000ff 48px,#0000ff 49px,#0000ef 50px,#0000ef 51px,#0000df 52px,#0000df 53px,#0000bf 55px,#0000bf 56px,#0000af 57px,#0000af 58px,#00009f 59px,#00009f 63px,#0000af 64px,#0000af 65px,#0000bf 66px,#0000bf 67px,#0000cf 68px,#0000cf 69px,#0000ef 71px,#0000ef 72px,#0000ff 73px,#0000ff 74px,#0010ff 75px,#0088ff 89px,#00d1ff 100px,#00feff 110px,#15ffea 120px,#13ffec 129px,#00fcff 138px,#00ceff 148px,#0083ff 159px,#001dff 171px,#0010ff 172px,#0010ff 173px,#0000ff 174px,#0000ef 175px,#0000ef 176px,#0000df 177px,#0000df 178px,#0000cf 179px,#0000cf 180px,#0000af 182px,#0000af 183px,#00009f 184px,#00009f 189px,#0000bf 191px,#0000bf 192px,#0000cf 193px,#0000cf 194px,#0000df 195px,#0000df 196px,#0000ff 198px,#0000ff 199px,#0010ff 200px,#0010ff 201px,#0027ff 203px,#0087ff 215px,#00c9ff 226px,#00eeff 236px,#00fbff"></i><i style="--g:#00dbff,#00d2ff 10px,#00b3ff 20px,#0079ff 31px,#001bff 44px,#0010ff 45px,#0010ff 46px,#0000ff 47px,#0000ff 48px,#0000ef 49px,#0000ef 50px,#0000df 51px,#0000df 52px,#0000bf 54px,#0000bf 55px,#0000af 56px,#0000af 57px,#00009f 58px,#00009f 63px,#0000af 64px,#0000af 65px,#0000bf 66px,#0000bf 67px,#0000cf 68px,#0000cf 69px,#0000df 70px,#0000df 71px,#0000ef 72px,#0000ef 73px,#0000ff 74px,#0010ff 75px,#0010ff 76px,#0076ff 89px,#00baff 100px,#00e3ff 110px,#00f7ff 120px,#00f4ff 130px,#00dbff 140px,#00a6ff 151px,#0055ff 163px,#001dff 170px,#0010ff 171px,#0010ff 172px,#0000ff 173px,#0000ff 174px,#0000ef 175px,#0000ef 176px,#0000df 177px,#0000df 178px,#0000bf 180px,#0000bf 181px,#0000af 182px,#0000af 183px,#00009f 184px,#00009f 189px,#0000af 190px,#0000af 191px,#0000bf 192px,#0000bf 193px,#0000cf 194px,#0000cf 195px,#0000df 196px,#0000df 197px,#0000ef 198px,#0000ef 199px,#0000ff 200px,#0000ff 201px,#0010ff 202px,#0070ff 215px,#00adff 226px,#00cfff 236px,#00dbff"></i><i style="--g:#00bdff,#00b5ff 10px,#0094ff 21px,#005dff 32px,#001cff 42px,#0010ff 43px,#0010ff 44px,#0000ff 45px,#0000ff 46px,#0000ef 47px,#0000ef 48px,#0000df 49px,#0000df 50px,#0000cf 51px,#0000cf 53px,#0000bf 54px,#0000bf 55px,#0000af 56px,#0000af 57px,#00009f 58px,#00009f 63px,#0000af 64px,#0000af 65px,#0000bf 66px,#0000bf 67px,#0000cf 68px,#0000cf 69px,#0000df 70px,#0000df 71px,#0000ef 72px,#0000ef 73px,#0000ff 74px,#0000ff 75px,#0010ff 76px,#0010ff 77px,#006dff 90px,#00aeff 102px,#00d3ff 113px,#00dfff 123px,#00d6ff 133px,#00b4ff 144px,#0076ff 156px,#001cff 169px,#0010ff 170px,#0010ff 171px,#0000ff 172px,#0000ff 173px,#0000ef 174px,#0000ef 175px,#0000df 176px,#0000df 177px,#0000cf 178px,#0000cf 179px,#0000bf 180px,#0000bf 181px,#0000af 182px,#0000af 183px,#00009f 184px,#00009f 190px,#0000af 191px,#0000af 192px,#0000bf 193px,#0000bf 194px,#0000cf 195px,#0000cf 196px,#0000df 197px,#0000df 198px,#0000ef 199px,#0000ef 200px,#0000ff 201px,#0000ff 202px,#0010ff 203px,#0010ff 204px,#005bff 215px,#0093ff 226px,#00b5ff 237px,#00bdff"></i><i style="--g:#00a2ff,#0099ff 11px,#0079ff 22px,#003fff 34px,#001aff 40px,#0010ff 41px,#0010ff 42px,#0000ff 43px,#0000ff 45px,#0000ef 46px,#0000ef 47px,#0000df 48px,#0000df 49px,#0000cf 50px,#0000cf 51px,#0000bf 52px,#0000bf 54px,#0000af 55px,#0000af 56px,#00009f 57px,#00009f 63px,#0000af 64px,#0000af 65px,#0000bf 66px,#0000bf 67px,#0000cf 68px,#0000cf 70px,#0000df 71px,#0000df 72px,#0000ef 73px,#0000ef 74px,#0000ff 75px,#0000ff 76px,#0010ff 77px,#0010ff 79px,#001eff 80px,#0074ff 94px,#00a9ff 106px,#00c3ff 117px,#00c5ff 128px,#00b0ff 139px,#0086ff 150px,#003cff 163px,#001aff 168px,#0010ff 169px,#0010ff 170px,#0000ff 171px,#0000ff 172px,#0000ef 173px,#0000ef 175px,#0000df 176px,#0000df 177px,#0000cf 178px,#0000cf 179px,#0000bf 180px,#0000bf 181px,#0000af 182px,#0000af 184px,#00009f 185px,#00009f 190px,#0000af 191px,#0000af 193px,#0000bf 194px,#0000bf 195px,#0000cf 196px,#0000cf 197px,#0000df 198px,#0000df 199px,#0000ef 200px,#0000ef 202px,#0000ff 203px,#0000ff 204px,#0010ff 205px,#0010ff 207px,#001eff 208px,#0066ff 221px,#008fff 232px,#00a1ff 243px,#00a2ff"></i><i style="--g:#0089ff,#0080ff 11px,#005fff 23px,#0023ff 36px,#001dff 37px,#0010ff 38px,#0010ff 40px,#0000ff 41px,#0000ff 43px,#0000ef 44px,#0000ef 45px,#0000df 46px,#0000df 48px,#0000cf 49px,#0000cf 50px,#0000bf 51px,#0000bf 53px,#0000af 54px,#0000af 55px,#00009f 56px,#00009f 63px,#0000af 64px,#0000af 65px,#0000bf 66px,#0000bf 68px,#0000cf 69px,#0000cf 70px,#0000df 71px,#0000df 72px,#0000ef 73px,#0000ef 75px,#0000ff 76px,#0000ff 77px,#0010ff 78px,#0010ff 80px,#001cff 81px,#006aff 95px,#0098ff 107px,#00aeff 118px,#00afff 129px,#009aff 140px,#006cff 152px,#001fff 166px,#0010ff 168px,#0010ff 169px,#0000ff 170px,#0000ff 172px,#0000ef 173px,#0000ef 174px,#0000df 175px,#0000df 176px,#0000cf 177px,#0000cf 179px,#0000bf 180px,#0000bf 181px,#0000af 182px,#0000af 184px,#00009f 185px,#00009f 191px,#0000af 192px,#0000af 194px,#0000bf 195px,#0000bf 196px,#0000cf 197px,#0000cf 199px,#0000df 200px,#0000df 201px,#0000ef 202px,#0000ef 204px,#0000ff 205px,#0000ff 206px,#0010ff 207px,#0010ff 209px,#0020ff 211px,#005eff 224px,#0080ff 236px,#0089ff"></i><i style="--g:#0072ff,#0068ff 12px,#0048ff 24px,#0018ff 35px,#0010ff 36px,#0010ff 38px,#0000ff 39px,#0000ff 41px,#0000ef 42px,#0000ef 44px,#0000df 45px,#0000df 46px,#0000cf 47px,#0000cf 49px,#0000bf 50px,#0000bf 52px,#0000af 53px,#0000af 55px,#00009f 56px,#00009f 62px,#0000af 63px,#0000af 65px,#0000bf 66px,#0000bf 68px,#0000cf 69px,#0000cf 70px,#0000df 71px,#0000df 73px,#0000ef 74px,#0000ef 76px,#0000ff 77px,#0000ff 78px,#0010ff 79px,#0010ff 81px,#0025ff 84px,#0068ff 98px,#008eff 110px,#009dff 122px,#0095ff 134px,#0075ff 146px,#0037ff 160px,#001cff 165px,#0010ff 166px,#0010ff 168px,#0000ff 169px,#0000ff 171px,#0000ef 172px,#0000ef 173px,#0000df 174px,#0000df 176px,#0000cf 177px,#0000cf 178px,#0000bf 179px,#0000bf 181px,#0000af 182px,#0000af 184px,#00009f 185px,#00009f 192px,#0000af 193px,#0000af 195px,#0000bf 196px,#0000bf 197px,#0000cf 198px,#0000cf 200px,#0000df 201px,#0000df 203px,#0000ef 204px,#0000ef 206px,#0000ff 207px,#0000ff 209px,#0010ff 210px,#0010ff 212px,#001bff 213px,#0051ff 226px,#006cff 238px,#0072ff"></i><i style="--g:#005cff,#0054ff 12px,#0032ff 25px,#001cff 31px,#0010ff 32px,#0010ff 35px,#0000ff 36px,#0000ff 38px,#0000ef 39px,#0000ef 42px,#0000df 43px,#0000df 45px,#0000cf 46px,#0000cf 48px,#0000bf 49px,#0000bf 51px,#0000af 52px,#0000af 54px,#00009f 55px,#00009f 62px,#0000af 63px,#0000af 65px,#0000bf 66px,#0000bf 68px,#0000cf 69px,#0000cf 71px,#0000df 72px,#0000df 74px,#0000ef 75px,#0000ef 77px,#0000ff 78px,#0000ff 80px,#0010ff 81px,#0010ff 83px,#001cff 84px,#005eff 99px,#0081ff 112px,#008bff 124px,#0080ff 136px,#005cff 149px,#0019ff 164px,#0010ff 165px,#0010ff 167px,#0000ff 168px,#0000ff 170px,#0000ef 171px,#0000ef 173px,#0000df 174px,#0000df 175px,#0000cf 176px,#0000cf 178px,#0000bf 179px,#0000bf 181px,#0000af 182px,#0000af 184px,#00009f 185px,#00009f 193px,#0000af 194px,#0000af 196px,#0000bf 197px,#0000bf 199px,#0000cf 200px,#0000cf 202px,#0000df 203px,#0000df 205px,#0000ef 206px,#0000ef 208px,#0000ff 209px,#0000ff 211px,#0010ff 212px,#0010ff 215px,#001eff 217px,#0049ff 230px,#005bff 242px,#005cff"></i><i style="--g:#0049ff,#003fff 13px,#001fff 26px,#0018ff 28px,#0010ff 29px,#0010ff 32px,#0000ff 33px,#0000ff 36px,#0000ef 37px,#0000ef 39px,#0000df 40px,#0000df 43px,#0000cf 44px,#0000cf 46px,#0000bf 47px,#0000bf 49px,#0000af 50px,#0000af 53px,#00009f 54px,#00009f 62px,#0000af 63px,#0000af 65px,#0000bf 66px,#0000bf 68px,#0000cf 69px,#0000cf 71px,#0000df 72px,#0000df 75px,#0000ef 76px,#0000ef 78px,#0000ff 79px,#0000ff 81px,#0010ff 82px,#0010ff 84px,#001eff 86px,#0057ff 101px,#0074ff 114px,#007aff 127px,#0068ff 140px,#003dff 154px,#001bff 162px,#0010ff 163px,#0010ff 166px,#0000ff 167px,#0000ff 169px,#0000ef 170px,#0000ef 172px,#0000df 173px,#0000df 175px,#0000cf 176px,#0000cf 178px,#0000bf 179px,#0000bf 181px,#0000af 182px,#0000af 185px,#00009f 186px,#00009f 193px,#0000af 194px,#0000af 197px,#0000bf 198px,#0000bf 200px,#0000cf 201px,#0000cf 204px,#0000df 205px,#0000df 207px,#0000ef 208px,#0000ef 211px,#0000ff 212px,#0000ff 215px,#0010ff 216px,#0010ff 219px,#001aff 220px,#003dff 233px,#0049ff"></i><i style="--g:#0037ff,#002eff 13px,#0019ff 23px,#0010ff 24px,#0010ff 28px,#0000ff 29px,#0000ff 33px,#0000ef 34px,#0000ef 37px,#0000df 38px,#0000df 41px,#0000cf 42px,#0000cf 44px,#0000bf 45px,#0000bf 48px,#0000af 49px,#0000af 52px,#00009f 53px,#00009f 62px,#0000af 63px,#0000af 65px,#0000bf 66px,#0000bf 69px,#0000cf 70px,#0000cf 72px,#0000df 73px,#0000df 75px,#0000ef 76px,#0000ef 79px,#0000ff 80px,#0000ff 82px,#0010ff 83px,#0010ff 86px,#001eff 88px,#0050ff 103px,#0068ff 117px,#0069ff 130px,#0053ff 143px,#0023ff 158px,#001bff 160px,#0010ff 161px,#0010ff 164px,#0000ff 165px,#0000ff 168px,#0000ef 169px,#0000ef 171px,#0000df 172px,#0000df 174px,#0000cf 175px,#0000cf 178px,#0000bf 179px,#0000bf 181px,#0000af 182px,#0000af 185px,#00009f 186px,#00009f 194px,#0000af 195px,#0000af 198px,#0000bf 199px,#0000bf 202px,#0000cf 203px,#0000cf 206px,#0000df 207px,#0000df 210px,#0000ef 211px,#0000ef 214px,#0000ff 215px,#0000ff 218px,#0010ff 219px,#0010ff 224px,#001aff 225px,#0034ff 239px,#0037ff"></i><i style="--g:#0026ff,#001dff 14px,#0019ff 16px,#0010ff 17px,#0010ff 24px,#0000ff 25px,#0000ff 29px,#0000ef 30px,#0000ef 34px,#0000df 35px,#0000df 38px,#0000cf 39px,#0000cf 43px,#0000bf 44px,#0000bf 47px,#0000af 48px,#0000af 51px,#00009f 52px,#00009f 61px,#0000af 62px,#0000af 65px,#0000bf 66px,#0000bf 69px,#0000cf 70px,#0000cf 73px,#0000df 74px,#0000df 76px,#0000ef 77px,#0000ef 80px,#0000ff 81px,#0000ff 84px,#0010ff 85px,#0010ff 88px,#001dff 90px,#0048ff 105px,#005cff 119px,#0058ff 133px,#003dff 147px,#001bff 158px,#0010ff 159px,#0010ff 163px,#0000ff 164px,#0000ff 166px,#0000ef 167px,#0000ef 170px,#0000df 171px,#0000df 174px,#0000cf 175px,#0000cf 178px,#0000bf 179px,#0000bf 181px,#0000af 182px,#0000af 185px,#00009f 186px,#00009f 196px,#0000af 197px,#0000af 200px,#0000bf 201px,#0000bf 204px,#0000cf 205px,#0000cf 208px,#0000df 209px,#0000df 212px,#0000ef 213px,#0000ef 217px,#0000ff 218px,#0000ff 223px,#0010ff 224px,#0010ff 230px,#0019ff 231px,#0026ff"></i><i style="--g:#0010ff,#0010ff 18px,#0000ff 19px,#0000ff 25px,#0000ef 26px,#0000ef 31px,#0000df 32px,#0000df 36px,#0000cf 37px,#0000cf 41px,#0000bf 42px,#0000bf 45px,#0000af 46px,#0000af 50px,#00009f 51px,#00009f 61px,#0000af 62px,#0000af 65px,#0000bf 66px,#0000bf 69px,#0000cf 70px,#0000cf 73px,#0000df 74px,#0000df 77px,#0000ef 78px,#0000ef 81px,#0000ff 82px,#0000ff 86px,#0010ff 87px,#0010ff 90px,#001bff 92px,#0043ff 108px,#0050ff 122px,#0048ff 136px,#0028ff 151px,#001aff 156px,#0010ff 157px,#0010ff 161px,#0000ff 162px,#0000ff 165px,#0000ef 166px,#0000ef 169px,#0000df 170px,#0000df 173px,#0000cf 174px,#0000cf 177px,#0000bf 178px,#0000bf 181px,#0000af 182px,#0000af 186px,#00009f 187px,#00009f 197px,#0000af 198px,#0000af 201px,#0000bf 202px,#0000bf 206px,#0000cf 207px,#0000cf 211px,#0000df 212px,#0000df 216px,#0000ef 217px,#0000ef 221px,#0000ff 222px,#0000ff 229px,#0010ff 230px,#0010ff"></i><i style="--g:#0010ff,#0010ff 7px,#0000ff 8px,#0000ff 20px,#0000ef 21px,#0000ef 27px,#0000df 28px,#0000df 33px,#0000cf 34px,#0000cf 38px,#0000bf 39px,#0000bf 43px,#0000af 44px,#0000af 49px,#00009f 50px,#00009f 60px,#0000af 61px,#0000af 65px,#0000bf 66px,#0000bf 70px,#0000cf 71px,#0000cf 74px,#0000df 75px,#0000df 78px,#0000ef 79px,#0000ef 83px,#0000ff 84px,#0000ff 88px,#0010ff 89px,#0010ff 93px,#0019ff 94px,#003bff 110px,#0044ff 125px,#0037ff 140px,#001aff 153px,#0010ff 154px,#0010ff 159px,#0000ff 160px,#0000ff 164px,#0000ef 165px,#0000ef 168px,#0000df 169px,#0000df 173px,#0000cf 174px,#0000cf 177px,#0000bf 178px,#0000bf 181px,#0000af 182px,#0000af 186px,#00009f 187px,#00009f 198px,#0000af 199px,#0000af 203px,#0000bf 204px,#0000bf 208px,#0000cf 209px,#0000cf 213px,#0000df 214px,#0000df 219px,#0000ef 220px,#0000ef 227px,#0000ff 228px,#0000ff 240px,#0010ff 241px,#0010ff"></i><i style="--g:#0000ff,#0000ff 11px,#0000ef 12px,#0000ef 22px,#0000df 23px,#0000df 30px,#0000cf 31px,#0000cf 36px,#0000bf 37px,#0000bf 41px,#0000af 42px,#0000af 47px,#00009f 48px,#00009f 60px,#0000af 61px,#0000af 65px,#0000bf 66px,#0000bf 70px,#0000cf 71px,#0000cf 75px,#0000df 76px,#0000df 79px,#0000ef 80px,#0000ef 84px,#0000ff 85px,#0000ff 90px,#0010ff 91px,#0010ff 96px,#0019ff 97px,#0034ff 113px,#0038ff 128px,#0026ff 144px,#0019ff 150px,#0010ff 151px,#0010ff 156px,#0000ff 157px,#0000ff 162px,#0000ef 163px,#0000ef 167px,#0000df 168px,#0000df 172px,#0000cf 173px,#0000cf 176px,#0000bf 177px,#0000bf 181px,#0000af 182px,#0000af 186px,#00009f 187px,#00009f 199px,#0000af 200px,#0000af 205px,#0000bf 206px,#0000bf 211px,#0000cf 212px,#0000cf 217px,#0000df 218px,#0000df 224px,#0000ef 225px,#0000ef 235px,#0000ff 236px,#0000ff"></i><i style="--g:#0000ef,#0000ef 16px,#0000df 17px,#0000df 26px,#0000cf 27px,#0000cf 33px,#0000bf 34px,#0000bf 40px,#0000af 41px,#0000af 46px,#00009f 47px,#00009f 60px,#0000af 61px,#0000af 65px,#0000bf 66px,#0000bf 70px,#0000cf 71px,#0000cf 76px,#0000df 77px,#0000df 81px,#0000ef 82px,#0000ef 86px,#0000ff 87px,#0000ff 93px,#0010ff 94px,#0010ff 100px,#0019ff 101px,#002dff 118px,#002aff 134px,#0019ff 146px,#0010ff 147px,#0010ff 154px,#0000ff 155px,#0000ff 160px,#0000ef 161px,#0000ef 166px,#0000df 167px,#0000df 171px,#0000cf 172px,#0000cf 176px,#0000bf 177px,#0000bf 181px,#0000af 182px,#0000af 187px,#00009f 188px,#00009f 200px,#0000af 201px,#0000af 207px,#0000bf 208px,#0000bf 213px,#0000cf 214px,#0000cf 221px,#0000df 222px,#0000df 230px,#0000ef 231px,#0000ef"></i><i style="--g:#0000ef,#0000ef 3px,#0000df 4px,#0000df 21px,#0000cf 22px,#0000cf 30px,#0000bf 31px,#0000bf 37px,#0000af 38px,#0000af 45px,#00009f 46px,#00009f 59px,#0000af 60px,#0000af 66px,#0000bf 67px,#0000bf 71px,#0000cf 72px,#0000cf 77px,#0000df 78px,#0000df 82px,#0000ef 83px,#0000ef 89px,#0000ff 90px,#0000ff 96px,#0010ff 97px,#0010ff 105px,#0018ff 106px,#0025ff 123px,#001aff 140px,#0019ff 141px,#0010ff 142px,#0010ff 151px,#0000ff 152px,#0000ff 158px,#0000ef 159px,#0000ef 164px,#0000df 165px,#0000df 170px,#0000cf 171px,#0000cf 175px,#0000bf 176px,#0000bf 181px,#0000af 182px,#0000af 187px,#00009f 188px,#00009f 202px,#0000af 203px,#0000af 209px,#0000bf 210px,#0000bf 216px,#0000cf 217px,#0000cf 225px,#0000df 226px,#0000df 243px,#0000ef 244px,#0000ef"></i><i style="--g:#0000df,#0000df 15px,#0000cf 16px,#0000cf 26px,#0000bf 27px,#0000bf 35px,#0000af 36px,#0000af 43px,#00009f 44px,#00009f 59px,#0000af 60px,#0000af 66px,#0000bf 67px,#0000bf 72px,#0000cf 73px,#0000cf 78px,#0000df 79px,#0000df 84px,#0000ef 85px,#0000ef 91px,#0000ff 92px,#0000ff 100px,#0010ff 101px,#0010ff 113px,#0018ff 114px,#0019ff 132px,#0019ff 133px,#0010ff 134px,#0010ff 147px,#0000ff 148px,#0000ff 155px,#0000ef 156px,#0000ef 162px,#0000df 163px,#0000df 169px,#0000cf 170px,#0000cf 175px,#0000bf 176px,#0000bf 181px,#0000af 182px,#0000af 187px,#00009f 188px,#00009f 203px,#0000af 204px,#0000af 211px,#0000bf 212px,#0000bf 220px,#0000cf 221px,#0000cf 232px,#0000df 233px,#0000df"></i><i style="--g:#0000cf,#0000cf 22px,#0000bf 23px,#0000bf 32px,#0000af 33px,#0000af 42px,#00009f 43px,#00009f 59px,#0000af 60px,#0000af 66px,#0000bf 67px,#0000bf 72px,#0000cf 73px,#0000cf 79px,#0000df 80px,#0000df 86px,#0000ef 87px,#0000ef 94px,#0000ff 95px,#0000ff 105px,#0010ff 106px,#0010ff 142px,#0000ff 143px,#0000ff 152px,#0000ef 153px,#0000ef 160px,#0000df 161px,#0000df 167px,#0000cf 168px,#0000cf 174px,#0000bf 175px,#0000bf 181px,#0000af 182px,#0000af 188px,#00009f 189px,#00009f 205px,#0000af 206px,#0000af 214px,#0000bf 215px,#0000bf 224px,#0000cf 225px,#0000cf"></i><i style="--g:#0000cf,#0000cf 16px,#0000bf 17px,#0000bf 29px,#0000af 30px,#0000af 40px,#00009f 41px,#00009f 58px,#0000af 59px,#0000af 66px,#0000bf 67px,#0000bf 73px,#0000cf 74px,#0000cf 80px,#0000df 81px,#0000df 88px,#0000ef 89px,#0000ef 98px,#0000ff 99px,#0000ff 112px,#0010ff 113px,#0010ff 135px,#0000ff 136px,#0000ff 149px,#0000ef 150px,#0000ef 158px,#0000df 159px,#0000df 166px,#0000cf 167px,#0000cf 173px,#0000bf 174px,#0000bf 180px,#0000af 181px,#0000af 188px,#00009f 189px,#00009f 207px,#0000af 208px,#0000af 217px,#0000bf 218px,#0000bf 230px,#0000cf 231px,#0000cf"></i><i style="--g:#0000cf,#0000cf 4px,#0000bf 5px,#0000bf 26px,#0000af 27px,#0000af 38px,#00009f 39px,#00009f 58px,#0000af 59px,#0000af 66px,#0000bf 67px,#0000bf 74px,#0000cf 75px,#0000cf 82px,#0000df 83px,#0000df 91px,#0000ef 92px,#0000ef 102px,#0000ff 103px,#0000ff 145px,#0000ef 146px,#0000ef 156px,#0000df 157px,#0000df 165px,#0000cf 166px,#0000cf 172px,#0000bf 173px,#0000bf 180px,#0000af 181px,#0000af 189px,#00009f 190px,#00009f 209px,#0000af 210px,#0000af 221px,#0000bf 222px,#0000bf 243px,#0000cf 244px,#0000cf"></i><i style="--g:#0000bf,#0000bf 21px,#0000af 22px,#0000af 36px,#00009f 37px,#00009f 57px,#0000af 58px,#0000af 66px,#0000bf 67px,#0000bf 75px,#0000cf 76px,#0000cf 84px,#0000df 85px,#0000df 93px,#0000ef 94px,#0000ef 107px,#0000ff 108px,#0000ff 139px,#0000ef 140px,#0000ef 153px,#0000df 154px,#0000df 163px,#0000cf 164px,#0000cf 172px,#0000bf 173px,#0000bf 180px,#0000af 181px,#0000af 189px,#00009f 190px,#00009f 211px,#0000af 212px,#0000af 225px,#0000bf 226px,#0000bf"></i><i style="--g:#0000bf,#0000bf 15px,#0000af 16px,#0000af 33px,#00009f 34px,#00009f 56px,#0000af 57px,#0000af 67px,#0000bf 68px,#0000bf 76px,#0000cf 77px,#0000cf 85px,#0000df 86px,#0000df 97px,#0000ef 98px,#0000ef 116px,#0000ff 117px,#0000ff 130px,#0000ef 131px,#0000ef 150px,#0000df 151px,#0000df 161px,#0000cf 162px,#0000cf 171px,#0000bf 172px,#0000bf 180px,#0000af 181px,#0000af 190px,#00009f 191px,#00009f 213px,#0000af 214px,#0000af 231px,#0000bf 232px,#0000bf"></i><i style="--g:#0000af,#0000af 31px,#00009f 32px,#00009f 56px,#0000af 57px,#0000af 67px,#0000bf 68px,#0000bf 77px,#0000cf 78px,#0000cf 87px,#0000df 88px,#0000df 100px,#0000ef 101px,#0000ef 146px,#0000df 147px,#0000df 159px,#0000cf 160px,#0000cf 170px,#0000bf 171px,#0000bf 180px,#0000af 181px,#0000af 191px,#00009f 192px,#00009f 216px,#0000af 217px,#0000af"></i><i style="--g:#0000af,#0000af 27px,#00009f 28px,#00009f 55px,#0000af 56px,#0000af 67px,#0000bf 68px,#0000bf 78px,#0000cf 79px,#0000cf 89px,#0000df 90px,#0000df 105px,#0000ef 106px,#0000ef 141px,#0000df 142px,#0000df 157px,#0000cf 158px,#0000cf 169px,#0000bf 170px,#0000bf 179px,#0000af 180px,#0000af 192px,#00009f 193px,#00009f 219px,#0000af 220px,#0000af"></i><i style="--g:#0000af,#0000af 24px,#00009f 25px,#00009f 54px,#0000af 55px,#0000af 67px,#0000bf 68px,#0000bf 79px,#0000cf 80px,#0000cf 92px,#0000df 93px,#0000df 112px,#0000ef 113px,#0000ef 135px,#0000df 136px,#0000df 155px,#0000cf 156px,#0000cf 168px,#0000bf 169px,#0000bf 179px,#0000af 180px,#0000af 192px,#00009f 193px,#00009f 223px,#0000af 224px,#0000af"></i><i style="--g:#0000af,#0000af 19px,#00009f 20px,#00009f 53px,#0000af 54px,#0000af 67px,#0000bf 68px,#0000bf 80px,#0000cf 81px,#0000cf 94px,#0000df 95px,#0000df 152px,#0000cf 153px,#0000cf 166px,#0000bf 167px,#0000bf 179px,#0000af 180px,#0000af 193px,#00009f 194px,#00009f 227px,#0000af 228px,#0000af"></i><i style="--g:#0000af,#0000af 13px,#00009f 14px,#00009f 52px,#0000af 53px,#0000af 67px,#0000bf 68px,#0000bf 81px,#0000cf 82px,#0000cf 97px,#0000df 98px,#0000df 149px,#0000cf 150px,#0000cf 165px,#0000bf 166px,#0000bf 179px,#0000af 180px,#0000af 195px,#00009f 196px,#00009f 234px,#0000af 235px,#0000af"></i><i style="--g:#00009f,#00009f 51px,#0000af 52px,#0000af 68px,#0000bf 69px,#0000bf 82px,#0000cf 83px,#0000cf 101px,#0000df 102px,#0000df 145px,#0000cf 146px,#0000cf 164px,#0000bf 165px,#0000bf 179px,#0000af 180px,#0000af 196px,#00009f 197px,#00009f"></i><i style="--g:#00009f,#00009f 49px,#0000af 50px,#0000af 68px,#0000bf 69px,#0000bf 84px,#0000cf 85px,#0000cf 106px,#0000df 107px,#0000df 141px,#0000cf 142px,#0000cf 163px,#0000bf 164px,#0000bf 179px,#0000af 180px,#0000af 197px,#00009f 198px,#00009f"></i><i style="--g:#00009f,#00009f 48px,#0000af 49px,#0000af 68px,#0000bf 69px,#0000bf 85px,#0000cf 86px,#0000cf 112px,#0000df 113px,#0000df 135px,#0000cf 136px,#0000cf 161px,#0000bf 162px,#0000bf 179px,#0000af 180px,#0000af 199px,#00009f 200px,#00009f"></i><i style="--g:#00009f,#00009f 46px,#0000af 47px,#0000af 68px,#0000bf 69px,#0000bf 87px,#0000cf 88px,#0000cf 159px,#0000bf 160px,#0000bf 178px,#0000af 179px,#0000af 200px,#00009f 201px,#00009f"></i><i style="--g:#00009f,#00009f 44px,#0000af 45px,#0000af 68px,#0000bf 69px,#0000bf 89px,#0000cf 90px,#0000cf 158px,#0000bf 159px,#0000bf 178px,#0000af 179px,#0000af 202px,#00009f 203px,#00009f"></i><i style="--g:#00009f,#00009f 42px,#0000af 43px,#0000af 68px,#0000bf 69px,#0000bf 91px,#0000cf 92px,#0000cf 156px,#0000bf 157px,#0000bf 178px,#0000af 179px,#0000af 204px,#00009f 205px,#00009f"></i><i style="--g:#00009f,#00009f 40px,#0000af 41px,#0000af 68px,#0000bf 69px,#0000bf 93px,#0000cf 94px,#0000cf 154px,#0000bf 155px,#0000bf 178px,#0000af 179px,#0000af 206px,#00009f 207px,#00009f"></i><i style="--g:#00009f,#00009f 37px,#0000af 38px,#0000af 68px,#0000bf 69px,#0000bf 95px,#0000cf 96px,#0000cf 151px,#0000bf 152px,#0000bf 178px,#0000af 179px,#0000af 209px,#00009f 210px,#00009f"></i><i style="--g:#00009f,#00009f 34px,#0000af 35px,#0000af 68px,#0000bf 69px,#0000bf 98px,#0000cf 99px,#0000cf 149px,#0000bf 150px,#0000bf 178px,#0000af 179px,#0000af 212px,#00009f 213px,#00009f"></i><i style="--g:#00009f,#00009f 31px,#0000af 32px,#0000af 68px,#0000bf 69px,#0000bf 100px,#0000cf 101px,#0000cf 146px,#0000bf 147px,#0000bf 178px,#0000af 179px,#0000af 216px,#00009f 217px,#00009f"></i><i style="--g:#00009f,#00009f 26px,#0000af 27px,#0000af 68px,#0000bf 69px,#0000bf 104px,#0000cf 105px,#0000cf 143px,#0000bf 144px,#0000bf 178px,#0000af 179px,#0000af 220px,#00009f 221px,#00009f"></i><i style="--g:#00009f,#00009f 21px,#0000af 22px,#0000af 68px,#0000bf 69px,#0000bf 108px,#0000cf 109px,#0000cf 138px,#0000bf 139px,#0000bf 179px,#0000af 180px,#0000af 226px,#00009f 227px,#00009f"></i><i style="--g:#00009f,#00009f 12px,#0000af 13px,#0000af 68px,#0000bf 69px,#0000bf 114px,#0000cf 115px,#0000cf 133px,#0000bf 134px,#0000bf 179px,#0000af 180px,#0000af 235px,#00009f 236px,#00009f"></i><i style="--g:#0000af,#0000af 67px,#0000bf 68px,#0000bf 179px,#0000af 180px,#0000af;height:2px"></i><i style="--g:#0000af,#0000af 67px,#0000bf 68px,#0000bf 180px,#0000af 181px,#0000af"></i><i style="--g:#0000af,#0000af 66px,#0000bf 67px,#0000bf 180px,#0000af 181px,#0000af;height:2px"></i><i style="--g:#0000af,#0000af 65px,#0000bf 66px,#0000bf 181px,#0000af 182px,#0000af"></i><i style="--g:#0000af,#0000af 65px,#0000bf 66px,#0000bf 182px,#0000af 183px,#0000af"></i><i style="--g:#0000af,#0000af 64px,#0000bf 65px,#0000bf 182px,#0000af 183px,#0000af"></i><i style="--g:#0000af,#0000af 63px,#0000bf 64px,#0000bf 183px,#0000af 184px,#0000af"></i><i style="--g:#0000af,#0000af 63px,#0000bf 64px,#0000bf 184px,#0000af 185px,#0000af"></i><i style="--g:#0000af,#0000af 62px,#0000bf 63px,#0000bf 185px,#0000af 186px,#0000af"></i><i style="--g:#0000af,#0000af 61px,#0000bf 62px,#0000bf 186px,#0000af 187px,#0000af"></i><i style="--g:#0000af,#0000af 59px,#0000bf 60px,#0000bf 187px,#0000af 188px,#0000af"></i><i style="--g:#0000af,#0000af 58px,#0000bf 59px,#0000bf 188px,#0000af 189px,#0000af"></i><i style="--g:#0000af,#0000af 57px,#0000bf 58px,#0000bf 190px,#0000af 191px,#0000af"></i><i style="--g:#0000af,#0000af 55px,#0000bf 56px,#0000bf 191px,#0000af 192px,#0000af"></i><i style="--g:#0000af,#0000af 54px,#0000bf 55px,#0000bf 193px,#0000af 194px,#0000af"></i><i style="--g:#0000af,#0000af 52px,#0000bf 53px,#0000bf 194px,#0000af 195px,#0000af"></i><i style="--g:#0000af,#0000af 50px,#0000bf 51px,#0000bf 196px,#0000af 197px,#0000af"></i><i style="--g:#0000af,#0000af 48px,#0000bf 49px,#0000bf 198px,#0000af 199px,#0000af"></i><i style="--g:#0000af,#0000af 46px,#0000bf 47px,#0000bf 201px,#0000af 202px,#0000af"></i><i style="--g:#0000af,#0000af 43px,#0000bf 44px,#0000bf 203px,#0000af 204px,#0000af"></i><i style="--g:#0000af,#0000af 40px,#0000bf 41px,#0000bf 206px,#0000af 207px,#0000af"></i><i style="--g:#0000af,#0000af 37px,#0000bf 38px,#0000bf 209px,#0000af 210px,#0000af"></i><i style="--g:#0000af,#0000af 34px,#0000bf 35px,#0000bf 212px,#0000af 213px,#0000af"></i></div>
<svg class="ov" width="675" height="588" viewBox="0 0 675 588"><g stroke="#fff" fill="none"><line x1="385" y1="123.70" x2="630" y2="123.70" stroke-width="1.60"/><line x1="385" y1="145.70" x2="630" y2="145.70" stroke-width="1.60"/><line x1="385" y1="173.30" x2="630" y2="173.30" stroke-width="1.60"/><line x1="385" y1="179.90" x2="630" y2="179.90" stroke-width="1.60"/><line x1="446.00" y1="123.70" x2="446.00" y2="145.70" stroke-width="1.80"/><line x1="569.00" y1="123.70" x2="569.00" y2="145.70" stroke-width="1.80"/></g><g stroke="#000" stroke-opacity="0.3" stroke-width="0.5" fill="none"><rect x="640.2" y="39.1" width="11.6" height="216.5"/><path d="M640.0 211.8h2M652.0 211.8h-2"/><path d="M640.0 168.6h2M652.0 168.6h-2"/><path d="M640.0 125.3h2M652.0 125.3h-2"/><path d="M640.0 82.1h2M652.0 82.1h-2"/></g></svg>
<div class="cb" style="left:640px;top:39px;width:12px;height:217px;background:linear-gradient(0deg,#000087 0.000%,#000087 1.562%,#000097 1.562%,#000097 3.125%,#0000a7 3.125%,#0000a7 4.688%,#0000b7 4.688%,#0000b7 6.250%,#0000c7 6.250%,#0000c7 7.812%,#0000d7 7.812%,#0000d7 9.375%,#0000e7 9.375%,#0000e7 10.938%,#0000f7 10.938%,#0000f7 12.500%,#0008ff 12.500%,#0008ff 14.062%,#0018ff 14.062%,#0018ff 15.625%,#0028ff 15.625%,#0028ff 17.188%,#0038ff 17.188%,#0038ff 18.750%,#0048ff 18.750%,#0048ff 20.312%,#0058ff 20.312%,#0058ff 21.875%,#0068ff 21.875%,#0068ff 23.438%,#0078ff 23.438%,#0078ff 25.000%,#0087ff 25.000%,#0087ff 26.562%,#0097ff 26.562%,#0097ff 28.125%,#00a7ff 28.125%,#00a7ff 29.688%,#00b7ff 29.688%,#00b7ff 31.250%,#00c7ff 31.250%,#00c7ff 32.812%,#00d7ff 32.812%,#00d7ff 34.375%,#00e7ff 34.375%,#00e7ff 35.938%,#00f7ff 35.938%,#00f7ff 37.500%,#08fff7 37.500%,#08fff7 39.062%,#18ffe7 39.062%,#18ffe7 40.625%,#28ffd7 40.625%,#28ffd7 42.188%,#38ffc7 42.188%,#38ffc7 43.750%,#48ffb7 43.750%,#48ffb7 45.312%,#58ffa7 45.312%,#58ffa7 46.875%,#68ff97 46.875%,#68ff97 48.438%,#78ff87 48.438%,#78ff87 50.000%,#87ff78 50.000%,#87ff78 51.562%,#97ff68 51.562%,#97ff68 53.125%,#a7ff58 53.125%,#a7ff58 54.688%,#b7ff48 54.688%,#b7ff48 56.250%,#c7ff38 56.250%,#c7ff38 57.812%,#d7ff28 57.812%,#d7ff28 59.375%,#e7ff18 59.375%,#e7ff18 60.938%,#f7ff08 60.938%,#f7ff08 62.500%,#fff700 62.500%,#fff700 64.062%,#ffe700 64.062%,#ffe700 65.625%,#ffd700 65.625%,#ffd700 67.188%,#ffc700 67.188%,#ffc700 68.750%,#ffb700 68.750%,#ffb700 70.312%,#ffa700 70.312%,#ffa700 71.875%,#ff9700 71.875%,#ff9700 73.438%,#ff8700 73.438%,#ff8700 75.000%,#ff7800 75.000%,#ff7800 76.562%,#ff6800 76.562%,#ff6800 78.125%,#ff5800 78.125%,#ff5800 79.688%,#ff4800 79.688%,#ff4800 81.250%,#ff3800 81.250%,#ff3800 82.812%,#ff2800 82.812%,#ff2800 84.375%,#ff1800 84.375%,#ff1800 85.938%,#ff0800 85.938%,#ff0800 87.500%,#f70000 87.500%,#f70000 89.062%,#e70000 89.062%,#e70000 90.625%,#d70000 90.625%,#d70000 92.188%,#c70000 92.188%,#c70000 93.750%,#b70000 93.750%,#b70000 95.312%,#a70000 95.312%,#a70000 96.875%,#970000 96.875%,#970000 98.438%,#870000 98.438%,#870000 100.000%)"></div>
<div class="tk zr" style="left:343.0px;top:31.4px">1.5</div><div class="tk zr" style="left:343.0px;top:67.4px">1</div><div class="tk zr" style="left:343.0px;top:103.4px">0.5</div><div class="tk zr" style="left:343.0px;top:139.4px">0</div><div class="tk zr" style="left:343.0px;top:175.5px">-0.5</div><div class="tk zr" style="left:343.0px;top:211.5px">-1</div><div class="tk zr" style="left:343.0px;top:247.5px">-1.5</div><div class="tk xc" style="left:376.2px;top:257.3px">-0.4</div><div class="tk xc" style="left:430.7px;top:257.3px">-0.2</div><div class="tk xc" style="left:487.8px;top:257.3px">0</div><div class="tk xc" style="left:542.2px;top:257.3px">0.2</div><div class="tk xc" style="left:596.7px;top:257.3px">0.4</div><div class="tk cl" style="left:653.8px;top:31.8px">10</div><div class="tk cl" style="left:653.8px;top:75.0px">8</div><div class="tk cl" style="left:653.8px;top:118.2px">6</div><div class="tk cl" style="left:653.8px;top:161.5px">4</div><div class="tk cl" style="left:653.8px;top:204.7px">2</div><div class="tk cl" style="left:653.8px;top:247.9px">0</div><div class="ax" style="left:467.8px;top:271.9px;width:80px;text-align:center">X (<span class="mu">&mu;</span>m)</div>
<div class="nl" style="left:387.1px;top:120.1px;color:#fff">n<sub>L</sub></div><div class="nl" style="left:482.5px;top:120.1px;color:#fff">n<sub>H</sub></div><div class="nl" style="left:569.6px;top:120.1px;color:#fff">n<sub>L</sub></div>
<div class="pl" style="left:339.2px;top:-0.9px">(b)</div><div class="tt" style="left:385.2px;top:10.4px">|<i>E<sub>y</sub></i>| for proposed absorber (<i style="letter-spacing:-0.15px">Optimal</i>)</div>
<div class="hm" style="left:46px;top:337px;width:246px;height:216px"><i style="--g:#ff7e00,#ff7e00"></i><i style="--g:#ff5100,#ff5100"></i><i style="--g:#ff2800,#ff2800"></i><i style="--g:#ff0300,#ff0300"></i><i style="--g:#e10000,#e10000"></i><i style="--g:#c50000,#c50000"></i><i style="--g:#ac0000,#ac0000"></i><i style="--g:#980000,#980000"></i><i style="--g:#890000,#890000"></i><i style="--g:#800000,#800000;height:4px"></i><i style="--g:#840000,#840000"></i><i style="--g:#910000,#910000"></i><i style="--g:#a20000,#a20000"></i><i style="--g:#b80000,#b80000"></i><i style="--g:#d30000,#d30000"></i><i style="--g:#f20000,#f20000"></i><i style="--g:#ff1600,#ff1600"></i><i style="--g:#ff3d00,#ff3d00"></i><i style="--g:#ff6800,#ff6800"></i><i style="--g:#ff9600,#ff9600"></i><i style="--g:#ffc800,#ffc800"></i><i style="--g:#fffd00,#fffd00"></i><i style="--g:#c9ff36,#c9ff36"></i><i style="--g:#8eff71,#8eff71"></i><i style="--g:#51ffae,#51ffae"></i><i style="--g:#12ffed,#12ffed"></i><i style="--g:#00d0ff,#00d0ff"></i><i style="--g:#008dff,#008dff"></i><i style="--g:#0049ff,#0049ff"></i><i style="--g:#0000ff,#0000ff"></i><i style="--g:#0000bf,#0000bf"></i><i style="--g:#00008f,#00008f"></i><i style="--g:#0000df,#0000df"></i><i style="--g:#0021ff,#0021ff"></i><i style="--g:#0066ff,#0066ff"></i><i style="--g:#00a9ff,#00a9ff"></i><i style="--g:#00ebff,#00ebff"></i><i style="--g:#2cffd3,#2cffd3"></i><i style="--g:#6aff95,#6aff95"></i><i style="--g:#a7ff58,#a7ff58"></i><i style="--g:#e0ff1f,#e0ff1f"></i><i style="--g:#ffe700,#ffe700"></i><i style="--g:#ffb300,#ffb300"></i><i style="--g:#ff8300,#ff8300"></i><i style="--g:#ff5600,#ff5600"></i><i style="--g:#ff2c00,#ff2c00"></i><i style="--g:#ff0700,#ff0700"></i><i style="--g:#e50000,#e50000"></i><i style="--g:#c70000,#c70000"></i><i style="--g:#af0000,#af0000"></i><i style="--g:#9a0000,#9a0000"></i><i style="--g:#8b0000,#8b0000"></i><i style="--g:#800000,#800000;height:4px"></i><i style="--g:#820000,#820000"></i><i style="--g:#8f0000,#8f0000"></i><i style="--g:#a00000,#a00000"></i><i style="--g:#b60000,#b60000"></i><i style="--g:#d00000,#d00000"></i><i style="--g:#ee0000,#ee0000"></i><i style="--g:#ff1200,#ff1200"></i><i style="--g:#ff3900,#ff3900"></i><i style="--g:#ff6300,#ff6300"></i><i style="--g:#ff9100,#ff9100"></i><i style="--g:#ffc300,#ffc300"></i><i style="--g:#fff700,#fff700"></i><i style="--g:#cfff30,#cfff30"></i><i style="--g:#94ff6b,#94ff6b"></i><i style="--g:#58ffa7,#58ffa7"></i><i style="--g:#19ffe6,#19ffe6"></i><i style="--g:#00d7ff,#00d7ff"></i><i style="--g:#0094ff,#0094ff"></i><i style="--g:#0051ff,#0051ff"></i><i style="--g:#0010ff,#0010ff"></i><i style="--g:#0000bf,#0000bf"></i><i style="--g:#00008f,#00008f"></i><i style="--g:#0000cf,#0000cf"></i><i style="--g:#001aff,#001aff"></i><i style="--g:#00c1ff,#00bdff 53px,#00a8ff 100px,#00acff 163px,#00c1ff 210px,#00c1ff"></i><i style="--g:#00feff,#06fff9 69px,#00fbff 95px,#00ebff 124px,#00fcff 154px,#07fff8 206px,#00feff"></i><i style="--g:#3affc5,#44ffbb 66px,#32ffcd 88px,#0ffff0 117px,#10ffef 133px,#40ffbf 174px,#44ffbb 200px,#3affc5"></i><i style="--g:#73ff8c,#73ff8c 36px,#77ff88 58px,#64ff9b 72px,#19ffe6 102px,#07fff8 118px,#0afff5 135px,#23ffdc 151px,#6cff93 180px,#79ff86 194px,#71ff8e 230px,#73ff8c"></i><i style="--g:#adff52,#a0ff5f 35px,#a4ff5b 56px,#93ff6c 67px,#65ff9a 80px,#17ffe8 99px,#00fdff 108px,#00eeff 121px,#00f5ff 135px,#03fffc 142px,#2dffd2 155px,#88ff77 177px,#a1ff5e 188px,#a4ff5b 202px,#a1ff5e 223px,#adff52"></i><i style="--g:#e4ff1b,#daff25 15px,#c7ff38 34px,#c8ff37 57px,#b4ff4b 67px,#8aff75 77px,#03fffc 101px,#00d5ff 114px,#00cbff 124px,#00d5ff 134px,#00f5ff 144px,#04fffb 147px,#9aff65 174px,#bdff42 184px,#caff35 195px,#caff35 219px,#e4ff1b 245px,#e4ff1b"></i><i style="--g:#ffea00,#fff300 12px,#fbff04 21px,#e6ff19 36px,#e0ff1f 59px,#caff35 68px,#9fff60 77px,#44ffbb 90px,#02fffd 99px,#00c0ff 110px,#00a6ff 118px,#00a1ff 126px,#00b1ff 134px,#00dbff 143px,#03fffc 149px,#94ff6b 169px,#c3ff3c 178px,#ddff22 187px,#e5ff1a 200px,#ebff14 217px,#fffd00 230px,#ffea00 244px,#ffea00"></i><i style="--g:#ffc200,#ffcb00 11px,#ffff00 34px,#eeff11 61px,#d3ff2c 70px,#a7ff58 78px,#56ffa9 88px,#02fffd 97px,#00a7ff 108px,#0080ff 115px,#006eff 122px,#0073ff 129px,#008fff 136px,#00c6ff 144px,#00faff 150px,#0efff1 152px,#8bff74 166px,#c6ff39 175px,#e5ff1a 183px,#f4ff0b 193px,#fffd00 215px,#ffc500 241px,#ffc200"></i><i style="--g:#ffa100,#ffa800 9px,#ffe900 33px,#fff400 46px,#fffd00 59px,#f0ff0f 65px,#ccff33 72px,#8aff75 80px,#13ffec 91px,#00fbff 93px,#0083ff 104px,#0049ff 111px,#0028ff 117px,#001bff 123px,#0022ff 129px,#003dff 135px,#0072ff 142px,#00cfff 151px,#00fdff 155px,#8cff73 168px,#cdff32 176px,#f1ff0e 183px,#fffe00 188px,#fff400 200px,#ffea00 214px,#ffc200 229px,#ffa500 241px,#ffa100"></i><i style="--g:#ff8300,#ff8a00 8px,#ffb500 21px,#ffda00 33px,#ffe400 45px,#ffec00 57px,#ffff00 63px,#dcff23 69px,#9cff63 76px,#39ffc6 84px,#02fffd 88px,#004eff 101px,#0020ff 105px,#0010ff 106px,#0010ff 107px,#0000ff 108px,#0000ff 109px,#0000df 111px,#0000df 113px,#0000cf 114px,#0000cf 115px,#0000bf 116px,#0000bf 120px,#0000af 121px,#0000af 127px,#0000bf 128px,#0000bf 131px,#0000cf 132px,#0000cf 134px,#0000df 135px,#0000df 136px,#0000ef 137px,#0000ef 138px,#0000ff 139px,#0000ff 140px,#0010ff 141px,#0010ff 142px,#0022ff 143px,#0085ff 151px,#00f5ff 159px,#05fffa 160px,#7cff83 169px,#c5ff3a 176px,#f1ff0e 182px,#fffe00 185px,#ffea00 192px,#ffdd00 213px,#ffc000 224px,#ff8c00 239px,#ff8300"></i><i style="--g:#ff6700,#ff6d00 7px,#ff9100 17px,#ffcc00 31px,#ffdf00 41px,#ffeb00 56px,#feff01 62px,#d7ff28 68px,#9aff65 74px,#3bffc4 81px,#0cfff3 84px,#00fbff 85px,#0000ff 100px,#0000df 102px,#0000df 103px,#00009f 107px,#00009f 108px,#00008f 109px,#00008f 111px,#00009f 112px,#00009f 113px,#0000af 114px,#0000af 115px,#0000bf 116px,#0000bf 118px,#0000cf 119px,#0000cf 129px,#0000bf 130px,#0000bf 132px,#0000af 133px,#0000af 134px,#00009f 135px,#00009f 136px,#00008f 137px,#00008f 139px,#00009f 140px,#00009f 141px,#0000ef 146px,#0000ef 147px,#0000ff 148px,#0046ff 152px,#00feff 163px,#77ff88 171px,#bdff42 177px,#eeff11 183px,#ffff00 186px,#ffe900 193px,#ffd800 212px,#ffb900 222px,#ff7400 238px,#ff6600"></i><i style="--g:#ff4e00,#ff5500 7px,#ff7900 16px,#ffc500 31px,#ffe200 41px,#fdff02 57px,#dfff20 63px,#adff52 69px,#64ff9b 75px,#05fffa 81px,#00e1ff 83px,#0010ff 94px,#0000ff 95px,#0000ef 96px,#0000cf 97px,#00008f 101px,#00008f 102px,#0000ff 109px,#0000ff 110px,#001cff 112px,#0045ff 117px,#0059ff 122px,#0056ff 127px,#003dff 132px,#0010ff 137px,#0000ff 138px,#0000ef 139px,#0000ef 140px,#00008f 146px,#00008f 147px,#0000bf 150px,#0000df 151px,#0000ff 153px,#0010ff 154px,#00d2ff 164px,#00f6ff 166px,#09fff6 167px,#66ff99 173px,#afff50 179px,#e1ff1e 185px,#feff01 191px,#ffe600 204px,#ffd000 214px,#ff9d00 225px,#ff6100 237px,#ff4f00 244px,#ff4e00"></i><i style="--g:#ff3c00,#ff4300 7px,#ff6300 15px,#ffc800 33px,#ffee00 44px,#fdff02 51px,#dcff23 59px,#b0ff4f 65px,#6fff90 71px,#16ffe9 77px,#05fffa 78px,#00e1ff 80px,#0042ff 88px,#002dff 89px,#0010ff 90px,#0000ff 91px,#0000ef 92px,#0000cf 93px,#0000af 95px,#00008f 96px,#00008f 97px,#0000af 99px,#0000cf 100px,#0000ff 103px,#0045ff 107px,#0089ff 112px,#00b8ff 117px,#00ccff 121px,#00cfff 125px,#00c3ff 129px,#009dff 134px,#0060ff 139px,#0000ff 145px,#0000df 147px,#0000bf 148px,#00008f 151px,#0000bf 154px,#0000df 155px,#0000ff 157px,#001cff 158px,#00d2ff 167px,#00f6ff 169px,#09fff6 170px,#64ff9b 176px,#a9ff56 182px,#d7ff28 188px,#fbff04 196px,#fff200 202px,#ffcb00 214px,#ff8400 227px,#ff5000 237px,#ff3d00 244px,#ff3b00"></i><i style="--g:#ff3100,#ff3800 7px,#ff5900 15px,#ffcf00 35px,#fffe00 46px,#d2ff2d 56px,#9eff61 63px,#5bffa4 69px,#02fffd 75px,#00a5ff 80px,#0010ff 87px,#0000ff 88px,#0000df 89px,#0000cf 90px,#0000af 91px,#00008f 93px,#0000af 95px,#0000cf 96px,#0000df 97px,#0000ff 98px,#0024ff 100px,#0099ff 106px,#00e7ff 111px,#01fffe 113px,#28ffd7 117px,#3dffc2 121px,#41ffbe 125px,#34ffcb 129px,#15ffea 133px,#00feff 135px,#00b7ff 140px,#0049ff 146px,#0020ff 148px,#0010ff 149px,#0000ef 150px,#0000cf 152px,#0000af 153px,#00008f 155px,#00009f 156px,#0000bf 157px,#0000df 159px,#0000ff 160px,#0010ff 161px,#0041ff 163px,#00cfff 170px,#00f3ff 172px,#05fffa 173px,#5effa1 179px,#a0ff5f 185px,#d3ff2c 192px,#fdff02 201px,#ffce00 213px,#ff4e00 235px,#ff3500 242px,#ff3000"></i><i style="--g:#ff3100,#ff3800 7px,#ff5800 15px,#ffda00 37px,#fdff02 45px,#c4ff3b 55px,#90ff6f 61px,#48ffb7 67px,#0afff5 71px,#00f7ff 72px,#0083ff 78px,#002bff 82px,#0010ff 83px,#0000ff 84px,#0000df 85px,#0000cf 86px,#0000af 87px,#00008f 89px,#00009f 90px,#0000bf 91px,#0000cf 92px,#0000ef 93px,#0010ff 94px,#0021ff 95px,#00c0ff 102px,#00fbff 105px,#51ffae 110px,#8fff70 115px,#adff52 119px,#baff45 123px,#b5ff4a 127px,#9eff61 131px,#76ff89 135px,#2effd1 140px,#0bfff4 142px,#00f8ff 143px,#007aff 149px,#001cff 153px,#0000ff 154px,#0000ef 155px,#0000cf 156px,#0000bf 157px,#00009f 158px,#00008f 159px,#00009f 160px,#0000bf 161px,#0000cf 162px,#0000ef 163px,#0000ff 164px,#0087ff 170px,#00fbff 176px,#2dffd2 179px,#71ff8e 184px,#aeff51 190px,#e5ff1a 198px,#feff01 203px,#ffb200 218px,#ff4d00 235px,#ff3500 242px,#ff3000"></i><i style="--g:#ff3100,#ff3800 7px,#ff5800 15px,#ffeb00 40px,#fdff02 44px,#c1ff3e 53px,#87ff78 59px,#46ffb9 64px,#05fffa 68px,#00dfff 70px,#0061ff 76px,#0000ff 80px,#0000ef 81px,#0000af 83px,#00008f 85px,#0000af 86px,#0000bf 87px,#0000ff 89px,#0010ff 90px,#00acff 96px,#00f4ff 99px,#0bfff4 100px,#74ff8b 105px,#c8ff37 110px,#faff05 114px,#fff000 116px,#ffd700 120px,#ffce00 124px,#ffd700 128px,#fff200 132px,#fffb00 133px,#edff12 135px,#a6ff59 140px,#48ffb7 145px,#07fff8 148px,#00efff 149px,#0010ff 158px,#0000ef 159px,#0000df 160px,#00009f 162px,#00008f 163px,#00009f 164px,#0000bf 165px,#0000cf 166px,#0000ef 167px,#0000ff 168px,#001fff 169px,#00a7ff 175px,#00f6ff 179px,#09fff6 180px,#57ffa8 185px,#9fff60 191px,#d9ff26 198px,#feff01 204px,#ff9900 222px,#ff4d00 235px,#ff3500 242px,#ff3000"></i><i style="--g:#ff3200,#ff3900 7px,#ff5700 15px,#ffba00 31px,#fcff03 42px,#b6ff49 51px,#6aff95 58px,#14ffeb 64px,#03fffc 65px,#00ccff 68px,#004eff 74px,#0020ff 76px,#0000ff 77px,#0000ef 78px,#0000cf 79px,#0000bf 80px,#00009f 81px,#00008f 82px,#00009f 83px,#0000bf 84px,#0000cf 85px,#0000ef 86px,#0010ff 87px,#00fcff 96px,#a0ff5f 103px,#fffe00 108px,#ffb600 113px,#ff8e00 117px,#ff7800 121px,#ff7400 125px,#ff8200 129px,#ffa200 133px,#ffd300 137px,#fcff03 140px,#9cff63 145px,#11ffee 151px,#00f7ff 152px,#0024ff 160px,#0010ff 161px,#0000ef 162px,#0000af 164px,#00008f 166px,#00009f 167px,#0000df 169px,#0000ef 170px,#0010ff 171px,#00a9ff 178px,#00f4ff 182px,#06fff9 183px,#60ff9f 189px,#a4ff5b 195px,#e8ff17 203px,#fdff02 206px,#ff5c00 232px,#ff3b00 240px,#ff3200"></i><i style="--g:#ff3a00,#ff4200 8px,#ff6400 17px,#ffa800 28px,#fffe00 39px,#acff53 48px,#4effb1 56px,#06fff9 61px,#00f5ff 62px,#008aff 68px,#0010ff 74px,#0000ef 75px,#0000df 76px,#0000bf 77px,#0000af 78px,#00008f 79px,#00008f 80px,#0000cf 82px,#0000df 83px,#0000ff 84px,#0010ff 85px,#0032ff 86px,#00edff 93px,#09fff6 94px,#b7ff48 101px,#faff05 104px,#ffdb00 106px,#ff8400 111px,#ff5000 115px,#ff2f00 119px,#ff2000 123px,#ff2600 127px,#ff3f00 131px,#ff6b00 135px,#ffb900 140px,#fff300 143px,#f6ff09 144px,#6aff95 150px,#03fffc 154px,#007dff 159px,#0010ff 163px,#0000ef 164px,#0000df 165px,#0000bf 166px,#0000af 167px,#00008f 168px,#0000af 170px,#0000cf 171px,#0000df 172px,#0000ff 173px,#0010ff 174px,#008eff 180px,#00f8ff 186px,#09fff6 187px,#6aff95 194px,#c3ff3c 202px,#f9ff06 208px,#fff400 210px,#ff9200 223px,#ff5a00 233px,#ff3f00 241px,#ff3a00"></i><i style="--g:#ff4600,#ff4e00 9px,#ff6f00 18px,#ffa600 27px,#fff200 36px,#fffc00 37px,#d9ff26 41px,#6dff92 50px,#09fff6 57px,#00f8ff 58px,#0081ff 65px,#001fff 70px,#0010ff 71px,#0000ef 72px,#0000cf 74px,#0000af 75px,#00008f 77px,#00009f 78px,#0000bf 79px,#0000cf 80px,#0000ef 81px,#0000ff 82px,#0051ff 85px,#00eeff 91px,#09fff6 92px,#d5ff2a 100px,#fffa00 102px,#ff8f00 107px,#ff3a00 112px,#ff0800 116px,#fd0000 117px,#e40000 121px,#df0000 125px,#ef0000 129px,#ff0000 131px,#ff2e00 135px,#ff6e00 139px,#ffd200 144px,#ffff00 146px,#52ffad 153px,#04fffb 156px,#009aff 160px,#0000ff 166px,#0000df 167px,#0000cf 168px,#0000af 169px,#00008f 171px,#0000af 173px,#0000cf 174px,#0000df 175px,#0000ff 176px,#00baff 186px,#00fcff 190px,#70ff8f 198px,#dbff24 207px,#faff05 210px,#fff000 212px,#ffa400 221px,#ff6e00 230px,#ff4e00 239px,#ff4600"></i><i style="--g:#ff5400,#ff5b00 9px,#ff7800 18px,#ffa600 26px,#ffea00 34px,#fffe00 36px,#a1ff5e 44px,#1fffe0 53px,#00feff 55px,#005fff 64px,#0000ff 69px,#0000df 70px,#0000bf 72px,#00009f 73px,#00008f 74px,#00008f 75px,#0000af 76px,#0000bf 77px,#0000df 78px,#0000ef 79px,#0010ff 80px,#003cff 82px,#00ebff 89px,#06fff9 90px,#feff01 100px,#ff7d00 106px,#ff2500 111px,#ff0800 113px,#fa0000 114px,#d30000 118px,#bf0000 122px,#bf0000 126px,#d40000 130px,#fd0000 134px,#ff2800 137px,#ff8100 142px,#ffed00 147px,#f9ff06 148px,#01fffe 158px,#001eff 167px,#0000ff 168px,#0000ef 169px,#0000cf 170px,#0000af 172px,#00008f 173px,#00008f 174px,#0000af 175px,#0000cf 177px,#0000ef 178px,#0000ff 179px,#0010ff 180px,#003cff 182px,#00cfff 190px,#02fffd 193px,#89ff76 202px,#ecff13 210px,#fffc00 212px,#ffb300 220px,#ff8000 228px,#ff5f00 237px,#ff5300"></i><i style="--g:#ff6700,#ff6f00 10px,#ff8b00 19px,#ffba00 27px,#fdff02 35px,#a8ff57 42px,#31ffce 50px,#00ffff 53px,#005aff 62px,#001eff 65px,#0010ff 66px,#0000ef 67px,#0000cf 69px,#0000af 70px,#00008f 72px,#0000af 74px,#0000cf 75px,#0000ef 77px,#0010ff 78px,#01fffe 88px,#f4ff0b 98px,#fff300 99px,#ff7200 105px,#ff1a00 110px,#fb0000 112px,#cc0000 116px,#b00000 120px,#a60000 124px,#b10000 128px,#ce0000 132px,#fe0000 136px,#ff3e00 140px,#ff9f00 145px,#fff800 149px,#efff10 150px,#15ffea 159px,#00fbff 160px,#0021ff 169px,#0010ff 170px,#0000ef 171px,#0000df 172px,#0000bf 173px,#0000af 174px,#00008f 175px,#00008f 176px,#00009f 177px,#0000bf 178px,#0000df 180px,#0000ff 181px,#004aff 185px,#00f1ff 194px,#03fffc 195px,#81ff7e 203px,#ddff22 210px,#ffff00 213px,#ffc000 220px,#ff9300 227px,#ff7500 235px,#ff6800 245px,#ff6700"></i><i style="--g:#ff8200,#ff8900 11px,#ffa300 20px,#ffcb00 27px,#fffd00 33px,#bdff42 39px,#59ffa6 46px,#06fff9 51px,#00f4ff 52px,#0048ff 61px,#0020ff 63px,#0010ff 64px,#0000ef 65px,#0000cf 67px,#0000af 68px,#00008f 70px,#0000af 72px,#0000cf 73px,#0000ef 75px,#0010ff 76px,#00c9ff 84px,#00f9ff 86px,#12ffed 87px,#fdff02 97px,#ff6c00 104px,#ff1400 109px,#ff0500 110px,#e80000 112px,#bb0000 116px,#a00000 120px,#970000 124px,#a10000 128px,#bd0000 132px,#f80000 137px,#ff0800 138px,#ff5d00 143px,#ffd800 149px,#ffef00 150px,#f9ff06 151px,#0dfff2 161px,#00f4ff 162px,#001fff 171px,#0010ff 172px,#0000ef 173px,#0000df 174px,#0000bf 175px,#0000af 176px,#00008f 177px,#00008f 178px,#00009f 179px,#0000bf 180px,#0000df 182px,#0000ff 183px,#0038ff 186px,#00e5ff 195px,#00f7ff 196px,#0afff5 197px,#7bff84 204px,#d8ff27 211px,#f9ff06 214px,#fffb00 215px,#ffc200 222px,#ff9e00 229px,#ff8700 238px,#ff8200"></i><i style="--g:#ffa000,#ffa900 13px,#ffbf00 21px,#ffe600 28px,#fffe00 31px,#c3ff3c 37px,#64ff9b 44px,#01fffe 50px,#0067ff 58px,#002aff 61px,#0010ff 62px,#0000ff 63px,#0000ef 64px,#0000cf 65px,#0000af 67px,#00008f 68px,#00008f 69px,#0000af 70px,#0000cf 72px,#0000ef 73px,#0000ff 74px,#0033ff 76px,#00edff 84px,#06fff9 85px,#ecff13 95px,#fffc00 96px,#ff6c00 103px,#ff1600 108px,#ff0600 109px,#f70000 110px,#bc0000 115px,#9e0000 119px,#910000 123px,#960000 127px,#ad0000 131px,#df0000 136px,#fa0000 138px,#ff0900 139px,#ff5d00 144px,#fdff02 152px,#01fffe 163px,#002eff 172px,#0010ff 173px,#0000ff 174px,#0000ef 175px,#0000cf 176px,#0000bf 177px,#00009f 178px,#00008f 179px,#00008f 180px,#0000af 181px,#0000bf 182px,#0000df 183px,#0000ff 185px,#0043ff 188px,#00f2ff 197px,#05fffa 198px,#76ff89 205px,#c5ff3a 211px,#f9ff06 216px,#fff400 218px,#ffc700 225px,#ffac00 233px,#ffa000 245px,#ffa000"></i><i style="--g:#ffc800,#ffd100 11px,#ffeb00 20px,#ffff00 24px,#ccff33 31px,#84ff7b 38px,#26ffd9 45px,#07fff8 47px,#00f6ff 48px,#006bff 56px,#0010ff 61px,#0000ef 62px,#0000bf 65px,#00009f 66px,#00008f 67px,#00008f 68px,#00009f 69px,#0000bf 70px,#0000df 72px,#0000ff 73px,#0010ff 74px,#01fffe 85px,#e6ff19 96px,#faff05 97px,#ffde00 99px,#ff7700 105px,#ff3200 110px,#ff0700 114px,#fd0000 115px,#e00000 120px,#d90000 125px,#ea0000 130px,#ff0000 133px,#ff3400 138px,#ff8a00 144px,#fff500 150px,#f6ff09 151px,#00fcff 163px,#0010ff 174px,#0000ff 175px,#0000df 176px,#0000bf 178px,#00009f 179px,#00008f 180px,#00008f 181px,#0000af 182px,#0000df 185px,#0000ff 186px,#00c8ff 197px,#00faff 200px,#1affe5 202px,#7aff85 209px,#c5ff3a 216px,#faff05 223px,#fff900 225px,#ffd900 233px,#ffc900 243px,#ffc800"></i><i style="--g:#ffe800,#fff000 10px,#feff01 16px,#d9ff26 24px,#a5ff5a 31px,#5fffa0 38px,#04fffb 45px,#00e6ff 47px,#0054ff 56px,#0000ff 61px,#0000df 62px,#00008f 67px,#0000cf 71px,#0000ef 72px,#0000ff 73px,#0010ff 74px,#00f0ff 85px,#05fffa 86px,#c2ff3d 96px,#f5ff0a 99px,#fff800 100px,#ffa000 106px,#ff5c00 112px,#ff3600 117px,#ff2400 122px,#ff2600 127px,#ff3d00 132px,#ff6700 137px,#ffb000 143px,#fffb00 148px,#d0ff2f 151px,#15ffea 161px,#01fffe 162px,#0010ff 174px,#0000ff 175px,#0000df 176px,#0000af 179px,#00008f 180px,#00008f 181px,#0000bf 184px,#0000df 185px,#0000ff 187px,#00bcff 198px,#00f8ff 202px,#07fff8 203px,#61ff9e 210px,#a7ff58 217px,#daff25 224px,#ffff00 232px,#ffeb00 241px,#ffe800"></i><i style="--g:#f6ff09,#edff12 10px,#d0ff2f 19px,#a1ff5e 27px,#5cffa3 35px,#00ffff 43px,#008fff 51px,#0000ff 60px,#0000df 62px,#0000bf 63px,#00008f 66px,#00008f 67px,#0000bf 70px,#0000df 71px,#0000ff 73px,#00f2ff 86px,#05fffa 87px,#afff50 97px,#f8ff07 102px,#fff900 103px,#ffb200 109px,#ff8100 115px,#ff6a00 120px,#ff6500 125px,#ff7200 130px,#ff9000 135px,#ffca00 141px,#fffb00 145px,#d9ff26 148px,#59ffa6 156px,#01fffe 161px,#0000ff 175px,#0000ef 176px,#0000cf 177px,#00008f 181px,#00008f 182px,#00009f 183px,#0000bf 184px,#0000ff 188px,#00a1ff 198px,#00f5ff 204px,#03fffc 205px,#5effa1 213px,#a2ff5d 221px,#d1ff2e 229px,#eeff11 238px,#f6ff09"></i><i style="--g:#d5ff2a,#ceff31 9px,#b2ff4d 18px,#86ff79 26px,#45ffba 34px,#07fff8 40px,#00faff 41px,#0086ff 50px,#0000ff 59px,#00008f 66px,#00008f 67px,#0000af 68px,#0000ff 73px,#01fffe 88px,#8bff74 97px,#e5ff1a 104px,#fbff04 106px,#ffdd00 110px,#ffb400 116px,#ffa100 122px,#ffa600 128px,#ffc100 134px,#fff100 140px,#f9ff06 142px,#a4ff5b 149px,#00fdff 160px,#0010ff 174px,#0000ff 175px,#0000df 177px,#0000bf 178px,#00008f 181px,#00008f 182px,#0000ff 189px,#0089ff 198px,#00fdff 207px,#61ff9e 217px,#9aff65 225px,#c2ff3d 234px,#d4ff2b 243px,#d5ff2a"></i><i style="--g:#b5ff4a,#adff52 9px,#91ff6e 18px,#5effa1 27px,#13ffec 36px,#00ffff 38px,#0097ff 47px,#0000ff 58px,#00008f 65px,#00008f 66px,#0000ff 73px,#00faff 89px,#18ffe7 91px,#8fff70 100px,#d8ff27 107px,#ffff00 112px,#ffe100 118px,#ffd700 124px,#ffe200 130px,#feff01 136px,#c3ff3c 143px,#67ff98 151px,#06fff9 158px,#00f7ff 159px,#001bff 173px,#0000ff 175px,#00008f 182px,#00008f 183px,#0000ff 190px,#0073ff 198px,#00e1ff 207px,#02fffd 210px,#51ffae 219px,#89ff76 228px,#a9ff56 237px,#b5ff4a"></i><i style="--g:#95ff6a,#8dff72 9px,#71ff8e 18px,#3fffc0 27px,#00ffff 35px,#00a4ff 44px,#0010ff 56px,#0000ff 57px,#0000bf 61px,#0000bf 62px,#00008f 65px,#00008f 66px,#0000ff 73px,#0037ff 77px,#00f1ff 90px,#00feff 91px,#6cff93 100px,#aeff51 107px,#dcff23 114px,#f3ff0c 121px,#f2ff0d 127px,#dbff24 134px,#acff53 141px,#5fffa0 149px,#00fcff 157px,#0043ff 170px,#0025ff 172px,#0000ff 174px,#0000ef 175px,#0000ef 176px,#00008f 182px,#00008f 183px,#0000df 188px,#0000df 189px,#0000ff 191px,#005fff 198px,#00d1ff 208px,#02fffd 213px,#47ffb8 222px,#76ff89 231px,#8fff70 240px,#95ff6a"></i><i style="--g:#75ff8a,#6eff91 9px,#52ffad 18px,#22ffdd 27px,#00fdff 32px,#00adff 41px,#003fff 51px,#0010ff 55px,#0000ff 56px,#0000df 58px,#0000df 59px,#00008f 64px,#00008f 66px,#0000ef 72px,#0000ef 73px,#0000ff 74px,#003dff 78px,#00e7ff 91px,#00feff 93px,#5dffa2 102px,#9bff64 110px,#bcff43 117px,#c7ff38 124px,#bbff44 131px,#9aff65 138px,#5cffa3 146px,#00fcff 155px,#0063ff 167px,#0000ff 174px,#0000df 176px,#0000df 177px,#00008f 182px,#00008f 183px,#00009f 184px,#00009f 185px,#0000ef 190px,#0000ef 191px,#0000ff 192px,#0041ff 197px,#00afff 207px,#00ffff 216px,#3bffc4 225px,#62ff9d 234px,#74ff8b 243px,#75ff8a"></i><i style="--g:#56ffa9,#4fffb0 9px,#35ffca 18px,#00ffff 28px,#00b2ff 38px,#0045ff 49px,#0023ff 52px,#0010ff 53px,#0010ff 54px,#0000ff 55px,#0000ef 56px,#0000ef 57px,#0000af 61px,#0000af 62px,#00008f 64px,#00008f 65px,#00009f 66px,#00009f 67px,#0000df 71px,#0000df 72px,#0000ff 74px,#001aff 76px,#00c5ff 90px,#00faff 95px,#0ffff0 97px,#54ffab 105px,#83ff7c 113px,#98ff67 120px,#9aff65 127px,#87ff78 134px,#5affa5 142px,#0dfff2 151px,#04fffb 152px,#00d9ff 156px,#003eff 169px,#0024ff 171px,#0010ff 172px,#0010ff 173px,#0000ff 174px,#0000cf 177px,#0000cf 178px,#00008f 182px,#00008f 184px,#0000bf 187px,#0000bf 188px,#0000ef 191px,#0000ef 192px,#0000ff 193px,#001aff 195px,#008fff 206px,#00e4ff 216px,#01fffe 220px,#31ffce 229px,#4effb1 238px,#56ffa9"></i><i style="--g:#38ffc7,#30ffcf 10px,#10ffef 20px,#00fbff 24px,#00bbff 34px,#005dff 45px,#0020ff 51px,#0010ff 52px,#0010ff 53px,#0000ff 54px,#0000ef 55px,#0000ef 56px,#0000bf 59px,#0000bf 60px,#00009f 62px,#00009f 63px,#00008f 64px,#00008f 65px,#00009f 66px,#00009f 67px,#0000cf 70px,#0000cf 71px,#0000ff 74px,#0000ff 75px,#002aff 78px,#00baff 91px,#00fcff 98px,#45ffba 108px,#68ff97 116px,#74ff8b 124px,#67ff98 132px,#44ffbb 140px,#04fffb 149px,#00e8ff 152px,#0078ff 163px,#0010ff 172px,#0000ff 173px,#0000ff 174px,#0000cf 177px,#0000cf 178px,#00009f 181px,#00009f 182px,#00008f 183px,#00008f 184px,#00009f 185px,#00009f 186px,#0000cf 189px,#0000cf 190px,#0000ef 192px,#0000ef 193px,#0000ff 194px,#0010ff 195px,#0010ff 196px,#0022ff 197px,#008cff 208px,#00d9ff 218px,#02fffd 225px,#29ffd6 235px,#38ffc7 245px,#38ffc7"></i><i style="--g:#1bffe4,#13ffec 10px,#00ffff 17px,#00d1ff 27px,#0086ff 38px,#001dff 50px,#0010ff 51px,#0010ff 52px,#0000ff 53px,#0000ef 54px,#0000ef 55px,#0000cf 57px,#0000cf 58px,#0000af 60px,#0000af 61px,#00008f 63px,#00008f 65px,#00009f 66px,#00009f 67px,#0000cf 70px,#0000cf 71px,#0000ef 73px,#0000ef 74px,#0000ff 75px,#0010ff 76px,#0010ff 77px,#0021ff 78px,#00a5ff 91px,#00f8ff 101px,#00ffff 102px,#32ffcd 111px,#4affb5 119px,#4dffb2 127px,#3affc5 135px,#0cfff3 144px,#00feff 146px,#00adff 156px,#002aff 169px,#0010ff 171px,#0010ff 172px,#0000ff 173px,#0000ef 174px,#0000ef 175px,#0000bf 178px,#0000bf 179px,#00009f 181px,#00009f 182px,#00008f 183px,#00008f 185px,#0000af 187px,#0000af 188px,#0000cf 190px,#0000cf 191px,#0000ef 193px,#0000ef 194px,#0000ff 195px,#0010ff 196px,#0010ff 197px,#0028ff 199px,#0090ff 211px,#00d2ff 221px,#00ffff 231px,#18ffe7 241px,#1bffe4"></i><i style="--g:#00feff,#00f6ff 10px,#00d9ff 20px,#00a2ff 31px,#0054ff 42px,#0010ff 50px,#0000ff 51px,#0000ff 52px,#0000ef 53px,#0000ef 54px,#0000cf 56px,#0000cf 57px,#0000bf 58px,#0000bf 59px,#00009f 61px,#00009f 62px,#00008f 63px,#00008f 65px,#00009f 66px,#00009f 67px,#0000bf 69px,#0000bf 70px,#0000df 72px,#0000df 73px,#0000ff 75px,#0000ff 76px,#0010ff 77px,#00a2ff 93px,#00e9ff 103px,#00ffff 107px,#22ffdd 116px,#2cffd3 124px,#21ffde 132px,#00feff 141px,#00c0ff 151px,#005aff 163px,#0020ff 169px,#0010ff 170px,#0010ff 171px,#0000ff 172px,#0000ef 173px,#0000ef 174px,#0000df 175px,#0000df 176px,#0000bf 178px,#0000bf 179px,#00009f 181px,#00009f 182px,#00008f 183px,#00008f 185px,#00009f 186px,#00009f 187px,#0000bf 189px,#0000bf 190px,#0000df 192px,#0000df 193px,#0000ef 194px,#0000ef 195px,#0000ff 196px,#0010ff 197px,#0010ff 198px,#006dff 209px,#00b4ff 220px,#00e1ff 230px,#00f9ff 240px,#00feff"></i><i style="--g:#00e2ff,#00dbff 10px,#00bcff 21px,#0086ff 32px,#0034ff 44px,#001cff 47px,#0010ff 48px,#0010ff 49px,#0000ff 50px,#0000ff 51px,#0000ef 52px,#0000ef 53px,#0000cf 55px,#0000cf 56px,#0000bf 57px,#0000bf 58px,#0000af 59px,#0000af 60px,#00008f 62px,#00008f 65px,#00009f 66px,#00009f 67px,#0000bf 69px,#0000bf 70px,#0000cf 71px,#0000cf 72px,#0000ef 74px,#0000ef 75px,#0000ff 76px,#0000ff 77px,#0010ff 78px,#008dff 93px,#00d4ff 104px,#00f9ff 113px,#04fffb 117px,#0afff5 126px,#00fcff 134px,#00d8ff 143px,#009aff 153px,#0031ff 166px,#001fff 168px,#0010ff 169px,#0010ff 170px,#0000ff 171px,#0000ff 172px,#0000df 174px,#0000df 175px,#0000cf 176px,#0000cf 177px,#0000bf 178px,#0000bf 179px,#00009f 181px,#00009f 182px,#00008f 183px,#00008f 185px,#00009f 186px,#00009f 187px,#0000af 188px,#0000af 189px,#0000bf 190px,#0000bf 191px,#0000df 193px,#0000df 194px,#0000ef 195px,#0000ef 196px,#0000ff 197px,#0000ff 198px,#0010ff 199px,#0010ff 200px,#0026ff 202px,#007bff 214px,#00b5ff 225px,#00d8ff 236px,#00e3ff"></i><i style="--g:#00c8ff,#00bfff 11px,#00a0ff 22px,#0066ff 34px,#001eff 45px,#0010ff 46px,#0010ff 47px,#0000ff 48px,#0000ff 50px,#0000ef 51px,#0000ef 52px,#0000df 53px,#0000df 54px,#0000bf 56px,#0000bf 57px,#0000af 58px,#0000af 59px,#00009f 60px,#00009f 61px,#00008f 62px,#00008f 65px,#00009f 66px,#00009f 67px,#0000bf 69px,#0000bf 70px,#0000cf 71px,#0000cf 72px,#0000df 73px,#0000df 74px,#0000ef 75px,#0000ef 76px,#0000ff 77px,#0000ff 78px,#0010ff 79px,#0010ff 80px,#001fff 81px,#0080ff 94px,#00bfff 105px,#00e1ff 115px,#00ebff 124px,#00e0ff 133px,#00beff 143px,#007fff 154px,#001dff 167px,#0010ff 168px,#0010ff 169px,#0000ff 170px,#0000ff 171px,#0000ef 172px,#0000ef 173px,#0000df 174px,#0000df 175px,#0000cf 176px,#0000cf 177px,#0000af 179px,#0000af 180px,#00009f 181px,#00009f 182px,#00008f 183px,#00008f 186px,#00009f 187px,#00009f 188px,#0000bf 190px,#0000bf 191px,#0000cf 192px,#0000cf 193px,#0000df 194px,#0000df 195px,#0000ef 196px,#0000ef 197px,#0000ff 198px,#0000ff 199px,#0010ff 200px,#0010ff 201px,#0061ff 213px,#009dff 225px,#00beff 236px,#00c8ff"></i><i style="--g:#00aeff,#00a6ff 11px,#0089ff 22px,#0053ff 34px,#001eff 43px,#0010ff 44px,#0010ff 46px,#0000ff 47px,#0000ff 48px,#0000ef 49px,#0000ef 50px,#0000df 51px,#0000df 52px,#0000cf 53px,#0000cf 55px,#0000bf 56px,#0000bf 57px,#0000af 58px,#0000af 59px,#00009f 60px,#00009f 61px,#00008f 62px,#00008f 65px,#00009f 66px,#00009f 67px,#0000af 68px,#0000af 69px,#0000bf 70px,#0000bf 71px,#0000cf 72px,#0000cf 73px,#0000df 74px,#0000df 75px,#0000ef 76px,#0000ef 77px,#0000ff 78px,#0000ff 79px,#0010ff 80px,#0010ff 81px,#002aff 84px,#007eff 97px,#00b1ff 108px,#00caff 118px,#00ccff 128px,#00b7ff 138px,#0088ff 149px,#0037ff 162px,#0010ff 167px,#0010ff 168px,#0000ff 169px,#0000ff 170px,#0000ef 171px,#0000ef 172px,#0000df 173px,#0000df 174px,#0000cf 175px,#0000cf 176px,#0000bf 177px,#0000bf 178px,#0000af 179px,#0000af 180px,#00009f 181px,#00009f 182px,#00008f 183px,#00008f 186px,#00009f 187px,#00009f 188px,#0000af 189px,#0000af 190px,#0000bf 191px,#0000bf 192px,#0000cf 193px,#0000cf 194px,#0000df 195px,#0000df 197px,#0000ef 198px,#0000ef 199px,#0000ff 200px,#0000ff 201px,#0010ff 202px,#0010ff 203px,#0054ff 214px,#008aff 226px,#00a7ff 237px,#00afff"></i><i style="--g:#0096ff,#008cff 12px,#006cff 24px,#0032ff 37px,#001cff 41px,#0010ff 42px,#0010ff 44px,#0000ff 45px,#0000ff 46px,#0000ef 47px,#0000ef 49px,#0000df 50px,#0000df 51px,#0000cf 52px,#0000cf 54px,#0000bf 55px,#0000bf 56px,#0000af 57px,#0000af 58px,#00009f 59px,#00009f 60px,#00008f 61px,#00008f 65px,#00009f 66px,#00009f 67px,#0000af 68px,#0000af 69px,#0000bf 70px,#0000bf 71px,#0000cf 72px,#0000cf 73px,#0000df 74px,#0000df 76px,#0000ef 77px,#0000ef 78px,#0000ff 79px,#0000ff 80px,#0010ff 81px,#0010ff 83px,#001eff 84px,#006fff 98px,#009bff 109px,#00b0ff 119px,#00afff 129px,#0097ff 140px,#0064ff 152px,#001cff 164px,#0010ff 165px,#0010ff 167px,#0000ff 168px,#0000ff 169px,#0000ef 170px,#0000ef 171px,#0000df 172px,#0000df 173px,#0000cf 174px,#0000cf 176px,#0000bf 177px,#0000bf 178px,#0000af 179px,#0000af 180px,#00009f 181px,#00009f 182px,#00008f 183px,#00008f 186px,#00009f 187px,#00009f 189px,#0000af 190px,#0000af 191px,#0000bf 192px,#0000bf 193px,#0000cf 194px,#0000cf 196px,#0000df 197px,#0000df 198px,#0000ef 199px,#0000ef 200px,#0000ff 201px,#0000ff 203px,#0010ff 204px,#0010ff 206px,#001dff 207px,#005eff 220px,#0085ff 232px,#0095ff 244px,#0096ff"></i><i style="--g:#007eff,#0075ff 12px,#0054ff 25px,#0018ff 39px,#0010ff 40px,#0010ff 42px,#0000ff 43px,#0000ff 44px,#0000ef 45px,#0000ef 47px,#0000df 48px,#0000df 50px,#0000cf 51px,#0000cf 52px,#0000bf 53px,#0000bf 55px,#0000af 56px,#0000af 57px,#00009f 58px,#00009f 60px,#00008f 61px,#00008f 65px,#00009f 66px,#00009f 67px,#0000af 68px,#0000af 70px,#0000bf 71px,#0000bf 72px,#0000cf 73px,#0000cf 74px,#0000df 75px,#0000df 77px,#0000ef 78px,#0000ef 79px,#0000ff 80px,#0000ff 82px,#0010ff 83px,#0010ff 85px,#001dff 86px,#0064ff 100px,#008aff 112px,#0098ff 123px,#008eff 134px,#006fff 145px,#0033ff 158px,#001cff 162px,#0010ff 163px,#0010ff 165px,#0000ff 166px,#0000ff 167px,#0000ef 168px,#0000ef 170px,#0000df 171px,#0000df 172px,#0000cf 173px,#0000cf 175px,#0000bf 176px,#0000bf 177px,#0000af 178px,#0000af 180px,#00009f 181px,#00009f 182px,#00008f 183px,#00008f 187px,#00009f 188px,#00009f 189px,#0000af 190px,#0000af 192px,#0000bf 193px,#0000bf 194px,#0000cf 195px,#0000cf 197px,#0000df 198px,#0000df 200px,#0000ef 201px,#0000ef 202px,#0000ff 203px,#0000ff 205px,#0010ff 206px,#0010ff 208px,#0023ff 211px,#0058ff 224px,#0077ff 237px,#007eff"></i><i style="--g:#0066ff,#005dff 13px,#003dff 26px,#001bff 35px,#0010ff 36px,#0010ff 39px,#0000ff 40px,#0000ff 42px,#0000ef 43px,#0000ef 45px,#0000df 46px,#0000df 48px,#0000cf 49px,#0000cf 51px,#0000bf 52px,#0000bf 54px,#0000af 55px,#0000af 57px,#00009f 58px,#00009f 59px,#00008f 60px,#00008f 65px,#00009f 66px,#00009f 67px,#0000af 68px,#0000af 70px,#0000bf 71px,#0000bf 73px,#0000cf 74px,#0000cf 75px,#0000df 76px,#0000df 78px,#0000ef 79px,#0000ef 81px,#0000ff 82px,#0000ff 84px,#0010ff 85px,#0010ff 87px,#0020ff 89px,#005bff 103px,#0078ff 115px,#007eff 126px,#006eff 138px,#0043ff 151px,#001aff 160px,#0010ff 161px,#0010ff 163px,#0000ff 164px,#0000ff 166px,#0000ef 167px,#0000ef 169px,#0000df 170px,#0000df 171px,#0000cf 172px,#0000cf 174px,#0000bf 175px,#0000bf 177px,#0000af 178px,#0000af 179px,#00009f 180px,#00009f 182px,#00008f 183px,#00008f 187px,#00009f 188px,#00009f 190px,#0000af 191px,#0000af 193px,#0000bf 194px,#0000bf 196px,#0000cf 197px,#0000cf 199px,#0000df 200px,#0000df 202px,#0000ef 203px,#0000ef 205px,#0000ff 206px,#0000ff 208px,#0010ff 209px,#0010ff 211px,#0025ff 215px,#0052ff 229px,#0065ff 242px,#0067ff"></i><i style="--g:#0050ff,#0048ff 13px,#0028ff 27px,#001bff 31px,#0010ff 32px,#0010ff 36px,#0000ff 37px,#0000ff 39px,#0000ef 40px,#0000ef 43px,#0000df 44px,#0000df 46px,#0000cf 47px,#0000cf 50px,#0000bf 51px,#0000bf 53px,#0000af 54px,#0000af 56px,#00009f 57px,#00009f 59px,#00008f 60px,#00008f 65px,#00009f 66px,#00009f 68px,#0000af 69px,#0000af 71px,#0000bf 72px,#0000bf 74px,#0000cf 75px,#0000cf 77px,#0000df 78px,#0000df 80px,#0000ef 81px,#0000ef 83px,#0000ff 84px,#0000ff 86px,#0010ff 87px,#0010ff 90px,#001aff 91px,#004cff 105px,#0064ff 118px,#0064ff 130px,#004bff 143px,#0019ff 157px,#0010ff 158px,#0010ff 160px,#0000ff 161px,#0000ff 164px,#0000ef 165px,#0000ef 167px,#0000df 168px,#0000df 170px,#0000cf 171px,#0000cf 173px,#0000bf 174px,#0000bf 176px,#0000af 177px,#0000af 179px,#00009f 180px,#00009f 182px,#00008f 183px,#00008f 188px,#00009f 189px,#00009f 191px,#0000af 192px,#0000af 194px,#0000bf 195px,#0000bf 197px,#0000cf 198px,#0000cf 200px,#0000df 201px,#0000df 204px,#0000ef 205px,#0000ef 207px,#0000ff 208px,#0000ff 211px,#0010ff 212px,#0010ff 216px,#001bff 217px,#0041ff 231px,#0050ff 244px,#0050ff"></i><i style="--g:#003aff,#0031ff 14px,#0019ff 26px,#0010ff 27px,#0010ff 31px,#0000ff 32px,#0000ff 36px,#0000ef 37px,#0000ef 40px,#0000df 41px,#0000df 44px,#0000cf 45px,#0000cf 48px,#0000bf 49px,#0000bf 51px,#0000af 52px,#0000af 55px,#00009f 56px,#00009f 58px,#00008f 59px,#00008f 65px,#00009f 66px,#00009f 68px,#0000af 69px,#0000af 72px,#0000bf 73px,#0000bf 75px,#0000cf 76px,#0000cf 78px,#0000df 79px,#0000df 82px,#0000ef 83px,#0000ef 86px,#0000ff 87px,#0000ff 90px,#0010ff 91px,#0010ff 94px,#001aff 95px,#0041ff 109px,#004fff 122px,#0047ff 135px,#0027ff 149px,#0019ff 153px,#0010ff 154px,#0010ff 157px,#0000ff 158px,#0000ff 161px,#0000ef 162px,#0000ef 165px,#0000df 166px,#0000df 168px,#0000cf 169px,#0000cf 172px,#0000bf 173px,#0000bf 175px,#0000af 176px,#0000af 179px,#00009f 180px,#00009f 182px,#00008f 183px,#00008f 189px,#00009f 190px,#00009f 192px,#0000af 193px,#0000af 195px,#0000bf 196px,#0000bf 199px,#0000cf 200px,#0000cf 203px,#0000df 204px,#0000df 207px,#0000ef 208px,#0000ef 211px,#0000ff 212px,#0000ff 216px,#0010ff 217px,#0010ff 221px,#0019ff 222px,#0035ff 237px,#003aff"></i><i style="--g:#0025ff,#001bff 15px,#0010ff 19px,#0010ff 25px,#0000ff 26px,#0000ff 31px,#0000ef 32px,#0000ef 37px,#0000df 38px,#0000df 41px,#0000cf 42px,#0000cf 46px,#0000bf 47px,#0000bf 50px,#0000af 51px,#0000af 54px,#00009f 55px,#00009f 58px,#00008f 59px,#00008f 65px,#00009f 66px,#00009f 69px,#0000af 70px,#0000af 73px,#0000bf 74px,#0000bf 76px,#0000cf 77px,#0000cf 80px,#0000df 81px,#0000df 85px,#0000ef 86px,#0000ef 89px,#0000ff 90px,#0000ff 94px,#0010ff 95px,#0010ff 99px,#001bff 101px,#0034ff 115px,#0037ff 129px,#0024ff 143px,#001aff 147px,#0010ff 148px,#0010ff 153px,#0000ff 154px,#0000ff 158px,#0000ef 159px,#0000ef 162px,#0000df 163px,#0000df 166px,#0000cf 167px,#0000cf 170px,#0000bf 171px,#0000bf 174px,#0000af 175px,#0000af 178px,#00009f 179px,#00009f 182px,#00008f 183px,#00008f 189px,#00009f 190px,#00009f 193px,#0000af 194px,#0000af 197px,#0000bf 198px,#0000bf 201px,#0000cf 202px,#0000cf 206px,#0000df 207px,#0000df 210px,#0000ef 211px,#0000ef 216px,#0000ff 217px,#0000ff 222px,#0010ff 223px,#0010ff 230px,#0019ff 231px,#0025ff"></i><i style="--g:#0010ff,#0010ff 14px,#0000ff 15px,#0000ff 24px,#0000ef 25px,#0000ef 32px,#0000df 33px,#0000df 37px,#0000cf 38px,#0000cf 43px,#0000bf 44px,#0000bf 48px,#0000af 49px,#0000af 52px,#00009f 53px,#00009f 57px,#00008f 58px,#00008f 65px,#00009f 66px,#00009f 70px,#0000af 71px,#0000af 74px,#0000bf 75px,#0000bf 78px,#0000cf 79px,#0000cf 83px,#0000df 84px,#0000df 88px,#0000ef 89px,#0000ef 94px,#0000ff 95px,#0000ff 100px,#0010ff 101px,#0010ff 108px,#0018ff 109px,#0023ff 124px,#0019ff 138px,#0010ff 139px,#0010ff 147px,#0000ff 148px,#0000ff 153px,#0000ef 154px,#0000ef 159px,#0000df 160px,#0000df 164px,#0000cf 165px,#0000cf 168px,#0000bf 169px,#0000bf 173px,#0000af 174px,#0000af 177px,#00009f 178px,#00009f 181px,#00008f 182px,#00008f 190px,#00009f 191px,#00009f 195px,#0000af 196px,#0000af 199px,#0000bf 200px,#0000bf 204px,#0000cf 205px,#0000cf 209px,#0000df 210px,#0000df 215px,#0000ef 216px,#0000ef 222px,#0000ff 223px,#0000ff 232px,#0010ff 233px,#0010ff"></i><i style="--g:#0000ff,#0000ff 11px,#0000ef 12px,#0000ef 24px,#0000df 25px,#0000df 32px,#0000cf 33px,#0000cf 39px,#0000bf 40px,#0000bf 45px,#0000af 46px,#0000af 50px,#00009f 51px,#00009f 56px,#00008f 57px,#00008f 66px,#00009f 67px,#00009f 71px,#0000af 72px,#0000af 76px,#0000bf 77px,#0000bf 81px,#0000cf 82px,#0000cf 87px,#0000df 88px,#0000df 93px,#0000ef 94px,#0000ef 100px,#0000ff 101px,#0000ff 111px,#0010ff 112px,#0010ff 136px,#0000ff 137px,#0000ff 146px,#0000ef 147px,#0000ef 154px,#0000df 155px,#0000df 160px,#0000cf 161px,#0000cf 166px,#0000bf 167px,#0000bf 171px,#0000af 172px,#0000af 176px,#00009f 177px,#00009f 181px,#00008f 182px,#00008f 191px,#00009f 192px,#00009f 196px,#0000af 197px,#0000af 202px,#0000bf 203px,#0000bf 208px,#0000cf 209px,#0000cf 215px,#0000df 216px,#0000df 223px,#0000ef 224px,#0000ef 236px,#0000ff 237px,#0000ff"></i><i style="--g:#0000df,#0000df 23px,#0000cf 24px,#0000cf 33px,#0000bf 34px,#0000bf 41px,#0000af 42px,#0000af 48px,#00009f 49px,#00009f 54px,#00008f 55px,#00008f 66px,#00009f 67px,#00009f 72px,#0000af 73px,#0000af 78px,#0000bf 79px,#0000bf 85px,#0000cf 86px,#0000cf 92px,#0000df 93px,#0000df 101px,#0000ef 102px,#0000ef 116px,#0000ff 117px,#0000ff 131px,#0000ef 132px,#0000ef 146px,#0000df 147px,#0000df 155px,#0000cf 156px,#0000cf 162px,#0000bf 163px,#0000bf 169px,#0000af 170px,#0000af 175px,#00009f 176px,#00009f 181px,#00008f 182px,#00008f 193px,#00009f 194px,#00009f 199px,#0000af 200px,#0000af 206px,#0000bf 207px,#0000bf 214px,#0000cf 215px,#0000cf 224px,#0000df 225px,#0000df"></i><i style="--g:#0000cf,#0000cf 23px,#0000bf 24px,#0000bf 35px,#0000af 36px,#0000af 44px,#00009f 45px,#00009f 52px,#00008f 53px,#00008f 67px,#00009f 68px,#00009f 74px,#0000af 75px,#0000af 82px,#0000bf 83px,#0000bf 91px,#0000cf 92px,#0000cf 102px,#0000df 103px,#0000df 145px,#0000cf 146px,#0000cf 156px,#0000bf 157px,#0000bf 165px,#0000af 166px,#0000af 173px,#00009f 174px,#00009f 180px,#00008f 181px,#00008f 195px,#00009f 196px,#00009f 203px,#0000af 204px,#0000af 212px,#0000bf 213px,#0000bf 224px,#0000cf 225px,#0000cf"></i><i style="--g:#0000bf,#0000bf 22px,#0000af 23px,#0000af 37px,#00009f 38px,#00009f 48px,#00008f 49px,#00008f 68px,#00009f 69px,#00009f 78px,#0000af 79px,#0000af 88px,#0000bf 89px,#0000bf 102px,#0000cf 103px,#0000cf 145px,#0000bf 146px,#0000bf 158px,#0000af 159px,#0000af 169px,#00009f 170px,#00009f 179px,#00008f 180px,#00008f 198px,#00009f 199px,#00009f 210px,#0000af 211px,#0000af 225px,#0000bf 226px,#0000bf"></i><i style="--g:#0000af,#0000af 20px,#00009f 21px,#00009f 42px,#00008f 43px,#00008f 70px,#00009f 71px,#00009f 84px,#0000af 85px,#0000af 103px,#0000bf 104px,#0000bf 144px,#0000af 145px,#0000af 162px,#00009f 163px,#00009f 177px,#00008f 178px,#00008f 205px,#00009f 206px,#00009f 226px,#0000af 227px,#0000af"></i><i style="--g:#00009f,#00009f 18px,#00008f 19px,#00008f 75px,#00009f 76px,#00009f 104px,#0000af 105px,#0000af 143px,#00009f 144px,#00009f 171px,#00008f 172px,#00008f 229px,#00009f 230px,#00009f"></i><i style="--g:#0010ff,#0010ff 14px,#0000ff 15px,#0000ff 24px,#0000ef 25px,#0000ef 31px,#0000df 32px,#0000df 37px,#0000cf 38px,#0000cf 42px,#0000bf 43px,#0000bf 47px,#0000af 48px,#0000af 51px,#00009f 52px,#00009f 56px,#00008f 57px,#00008f 64px,#00009f 65px,#00009f 69px,#0000af 70px,#0000af 73px,#0000bf 74px,#0000bf 78px,#0000cf 79px,#0000cf 82px,#0000df 83px,#0000df 88px,#0000ef 89px,#0000ef 93px,#0000ff 94px,#0000ff 100px,#0010ff 101px,#0010ff 109px,#0019ff 110px,#0022ff 125px,#0018ff 138px,#0010ff 139px,#0010ff 147px,#0000ff 148px,#0000ff 154px,#0000ef 155px,#0000ef 159px,#0000df 160px,#0000df 164px,#0000cf 165px,#0000cf 169px,#0000bf 170px,#0000bf 174px,#0000af 175px,#0000af 178px,#00009f 179px,#00009f 182px,#00008f 183px,#00008f 191px,#00009f 192px,#00009f 195px,#0000af 196px,#0000af 200px,#0000bf 201px,#0000bf 205px,#0000cf 206px,#0000cf 210px,#0000df 211px,#0000df 216px,#0000ef 217px,#0000ef 223px,#0000ff 224px,#0000ff 232px,#0010ff 233px,#0010ff;height:2px"></i><i style="--g:#0010ff,#0010ff 14px,#0000ff 15px,#0000ff 24px,#0000ef 25px,#0000ef 31px,#0000df 32px,#0000df 37px,#0000cf 38px,#0000cf 42px,#0000bf 43px,#0000bf 47px,#0000af 48px,#0000af 51px,#00009f 52px,#00009f 56px,#00008f 57px,#00008f 64px,#00009f 65px,#00009f 69px,#0000af 70px,#0000af 73px,#0000bf 74px,#0000bf 78px,#0000cf 79px,#0000cf 82px,#0000df 83px,#0000df 87px,#0000ef 88px,#0000ef 93px,#0000ff 94px,#0000ff 100px,#0010ff 101px,#0010ff 109px,#0019ff 110px,#0022ff 125px,#0018ff 138px,#0010ff 139px,#0010ff 147px,#0000ff 148px,#0000ff 154px,#0000ef 155px,#0000ef 159px,#0000df 160px,#0000df 164px,#0000cf 165px,#0000cf 169px,#0000bf 170px,#0000bf 174px,#0000af 175px,#0000af 178px,#00009f 179px,#00009f 182px,#00008f 183px,#00008f 191px,#00009f 192px,#00009f 195px,#0000af 196px,#0000af 200px,#0000bf 201px,#0000bf 205px,#0000cf 206px,#0000cf 210px,#0000df 211px,#0000df 216px,#0000ef 217px,#0000ef 223px,#0000ff 224px,#0000ff 232px,#0010ff 233px,#0010ff"></i><i style="--g:#0010ff,#0010ff 14px,#0000ff 15px,#0000ff 24px,#0000ef 25px,#0000ef 31px,#0000df 32px,#0000df 37px,#0000cf 38px,#0000cf 42px,#0000bf 43px,#0000bf 47px,#0000af 48px,#0000af 51px,#00009f 52px,#00009f 56px,#00008f 57px,#00008f 64px,#00009f 65px,#00009f 69px,#0000af 70px,#0000af 73px,#0000bf 74px,#0000bf 78px,#0000cf 79px,#0000cf 82px,#0000df 83px,#0000df 87px,#0000ef 88px,#0000ef 93px,#0000ff 94px,#0000ff 100px,#0010ff 101px,#0010ff 109px,#0019ff 110px,#0022ff 125px,#0019ff 138px,#0010ff 139px,#0010ff 147px,#0000ff 148px,#0000ff 154px,#0000ef 155px,#0000ef 159px,#0000df 160px,#0000df 164px,#0000cf 165px,#0000cf 169px,#0000bf 170px,#0000bf 174px,#0000af 175px,#0000af 178px,#00009f 179px,#00009f 183px,#00008f 184px,#00008f 191px,#00009f 192px,#00009f 196px,#0000af 197px,#0000af 200px,#0000bf 201px,#0000bf 205px,#0000cf 206px,#0000cf 210px,#0000df 211px,#0000df 216px,#0000ef 217px,#0000ef 223px,#0000ff 224px,#0000ff 232px,#0010ff 233px,#0010ff"></i><i style="--g:#0010ff,#0010ff 14px,#0000ff 15px,#0000ff 24px,#0000ef 25px,#0000ef 31px,#0000df 32px,#0000df 37px,#0000cf 38px,#0000cf 42px,#0000bf 43px,#0000bf 47px,#0000af 48px,#0000af 51px,#00009f 52px,#00009f 56px,#00008f 57px,#00008f 64px,#00009f 65px,#00009f 69px,#0000af 70px,#0000af 73px,#0000bf 74px,#0000bf 78px,#0000cf 79px,#0000cf 82px,#0000df 83px,#0000df 87px,#0000ef 88px,#0000ef 93px,#0000ff 94px,#0000ff 100px,#0010ff 101px,#0010ff 109px,#0019ff 110px,#0022ff 125px,#0019ff 138px,#0010ff 139px,#0010ff 147px,#0000ff 148px,#0000ff 154px,#0000ef 155px,#0000ef 159px,#0000df 160px,#0000df 165px,#0000cf 166px,#0000cf 169px,#0000bf 170px,#0000bf 174px,#0000af 175px,#0000af 178px,#00009f 179px,#00009f 183px,#00008f 184px,#00008f 191px,#00009f 192px,#00009f 196px,#0000af 197px,#0000af 200px,#0000bf 201px,#0000bf 205px,#0000cf 206px,#0000cf 210px,#0000df 211px,#0000df 216px,#0000ef 217px,#0000ef 223px,#0000ff 224px,#0000ff 232px,#0010ff 233px,#0010ff"></i><i style="--g:#0010ff,#0010ff 14px,#0000ff 15px,#0000ff 24px,#0000ef 25px,#0000ef 31px,#0000df 32px,#0000df 37px,#0000cf 38px,#0000cf 42px,#0000bf 43px,#0000bf 47px,#0000af 48px,#0000af 51px,#00009f 52px,#00009f 56px,#00008f 57px,#00008f 64px,#00009f 65px,#00009f 69px,#0000af 70px,#0000af 73px,#0000bf 74px,#0000bf 77px,#0000cf 78px,#0000cf 82px,#0000df 83px,#0000df 87px,#0000ef 88px,#0000ef 93px,#0000ff 94px,#0000ff 100px,#0010ff 101px,#0010ff 109px,#0019ff 110px,#0022ff 125px,#0019ff 138px,#0010ff 139px,#0010ff 147px,#0000ff 148px,#0000ff 154px,#0000ef 155px,#0000ef 159px,#0000df 160px,#0000df 165px,#0000cf 166px,#0000cf 169px,#0000bf 170px,#0000bf 174px,#0000af 175px,#0000af 178px,#00009f 179px,#00009f 183px,#00008f 184px,#00008f 191px,#00009f 192px,#00009f 196px,#0000af 197px,#0000af 200px,#0000bf 201px,#0000bf 205px,#0000cf 206px,#0000cf 210px,#0000df 211px,#0000df 216px,#0000ef 217px,#0000ef 223px,#0000ff 224px,#0000ff 233px,#0010ff 234px,#0010ff"></i><i style="--g:#0010ff,#0010ff 14px,#0000ff 15px,#0000ff 24px,#0000ef 25px,#0000ef 31px,#0000df 32px,#0000df 37px,#0000cf 38px,#0000cf 42px,#0000bf 43px,#0000bf 47px,#0000af 48px,#0000af 51px,#00009f 52px,#00009f 56px,#00008f 57px,#00008f 64px,#00009f 65px,#00009f 68px,#0000af 69px,#0000af 73px,#0000bf 74px,#0000bf 77px,#0000cf 78px,#0000cf 82px,#0000df 83px,#0000df 87px,#0000ef 88px,#0000ef 93px,#0000ff 94px,#0000ff 100px,#0010ff 101px,#0010ff 109px,#0019ff 110px,#0022ff 125px,#0019ff 138px,#0010ff 139px,#0010ff 147px,#0000ff 148px,#0000ff 154px,#0000ef 155px,#0000ef 159px,#0000df 160px,#0000df 165px,#0000cf 166px,#0000cf 169px,#0000bf 170px,#0000bf 174px,#0000af 175px,#0000af 178px,#00009f 179px,#00009f 183px,#00008f 184px,#00008f 191px,#00009f 192px,#00009f 196px,#0000af 197px,#0000af 200px,#0000bf 201px,#0000bf 205px,#0000cf 206px,#0000cf 210px,#0000df 211px,#0000df 216px,#0000ef 217px,#0000ef 223px,#0000ff 224px,#0000ff 233px,#0010ff 234px,#0010ff"></i><i style="--g:#0000ff,#0000ff 12px,#0000ef 13px,#0000ef 24px,#0000df 25px,#0000df 32px,#0000cf 33px,#0000cf 38px,#0000bf 39px,#0000bf 44px,#0000af 45px,#0000af 49px,#00009f 50px,#00009f 54px,#00008f 55px,#00008f 64px,#00009f 65px,#00009f 69px,#0000af 70px,#0000af 75px,#0000bf 76px,#0000bf 80px,#0000cf 81px,#0000cf 86px,#0000df 87px,#0000df 92px,#0000ef 93px,#0000ef 100px,#0000ff 101px,#0000ff 111px,#0010ff 112px,#0010ff 136px,#0000ff 137px,#0000ff 147px,#0000ef 148px,#0000ef 155px,#0000df 156px,#0000df 161px,#0000cf 162px,#0000cf 167px,#0000bf 168px,#0000bf 172px,#0000af 173px,#0000af 177px,#00009f 178px,#00009f 182px,#00008f 183px,#00008f 192px,#00009f 193px,#00009f 197px,#0000af 198px,#0000af 203px,#0000bf 204px,#0000bf 209px,#0000cf 210px,#0000cf 215px,#0000df 216px,#0000df 223px,#0000ef 224px,#0000ef 235px,#0000ff 236px,#0000ff"></i><i style="--g:#0000ef,#0000ef 20px,#0000df 21px,#0000df 29px,#0000cf 30px,#0000cf 36px,#0000bf 37px,#0000bf 43px,#0000af 44px,#0000af 48px,#00009f 49px,#00009f 54px,#00008f 55px,#00008f 65px,#00009f 66px,#00009f 70px,#0000af 71px,#0000af 75px,#0000bf 76px,#0000bf 81px,#0000cf 82px,#0000cf 87px,#0000df 88px,#0000df 94px,#0000ef 95px,#0000ef 103px,#0000ff 104px,#0000ff 143px,#0000ef 144px,#0000ef 152px,#0000df 153px,#0000df 159px,#0000cf 160px,#0000cf 166px,#0000bf 167px,#0000bf 171px,#0000af 172px,#0000af 177px,#00009f 178px,#00009f 182px,#00008f 183px,#00008f 193px,#00009f 194px,#00009f 198px,#0000af 199px,#0000af 204px,#0000bf 205px,#0000bf 211px,#0000cf 212px,#0000cf 218px,#0000df 219px,#0000df 227px,#0000ef 228px,#0000ef"></i><i style="--g:#0000ef,#0000ef 14px,#0000df 15px,#0000df 26px,#0000cf 27px,#0000cf 34px,#0000bf 35px,#0000bf 41px,#0000af 42px,#0000af 47px,#00009f 48px,#00009f 53px,#00008f 54px,#00008f 65px,#00009f 66px,#00009f 70px,#0000af 71px,#0000af 76px,#0000bf 77px,#0000bf 82px,#0000cf 83px,#0000cf 89px,#0000df 90px,#0000df 97px,#0000ef 98px,#0000ef 108px,#0000ff 109px,#0000ff 138px,#0000ef 139px,#0000ef 150px,#0000df 151px,#0000df 158px,#0000cf 159px,#0000cf 164px,#0000bf 165px,#0000bf 171px,#0000af 172px,#0000af 176px,#00009f 177px,#00009f 182px,#00008f 183px,#00008f 193px,#00009f 194px,#00009f 199px,#0000af 200px,#0000af 206px,#0000bf 207px,#0000bf 213px,#0000cf 214px,#0000cf 221px,#0000df 222px,#0000df 233px,#0000ef 234px,#0000ef"></i><i style="--g:#0000df,#0000df 22px,#0000cf 23px,#0000cf 32px,#0000bf 33px,#0000bf 40px,#0000af 41px,#0000af 46px,#00009f 47px,#00009f 53px,#00008f 54px,#00008f 65px,#00009f 66px,#00009f 71px,#0000af 72px,#0000af 77px,#0000bf 78px,#0000bf 84px,#0000cf 85px,#0000cf 91px,#0000df 92px,#0000df 101px,#0000ef 102px,#0000ef 117px,#0000ff 118px,#0000ff 130px,#0000ef 131px,#0000ef 146px,#0000df 147px,#0000df 155px,#0000cf 156px,#0000cf 163px,#0000bf 164px,#0000bf 170px,#0000af 171px,#0000af 176px,#00009f 177px,#00009f 182px,#00008f 183px,#00008f 194px,#00009f 195px,#00009f 200px,#0000af 201px,#0000af 207px,#0000bf 208px,#0000bf 215px,#0000cf 216px,#0000cf 225px,#0000df 226px,#0000df"></i><i style="--g:#0000df,#0000df 18px,#0000cf 19px,#0000cf 29px,#0000bf 30px,#0000bf 38px,#0000af 39px,#0000af 45px,#00009f 46px,#00009f 52px,#00008f 53px,#00008f 65px,#00009f 66px,#00009f 71px,#0000af 72px,#0000af 78px,#0000bf 79px,#0000bf 85px,#0000cf 86px,#0000cf 94px,#0000df 95px,#0000df 105px,#0000ef 106px,#0000ef 142px,#0000df 143px,#0000df 153px,#0000cf 154px,#0000cf 161px,#0000bf 162px,#0000bf 169px,#0000af 170px,#0000af 175px,#00009f 176px,#00009f 182px,#00008f 183px,#00008f 195px,#00009f 196px,#00009f 202px,#0000af 203px,#0000af 209px,#0000bf 210px,#0000bf 217px,#0000cf 218px,#0000cf 229px,#0000df 230px,#0000df"></i><i style="--g:#0000df,#0000df 11px,#0000cf 12px,#0000cf 26px,#0000bf 27px,#0000bf 36px,#0000af 37px,#0000af 44px,#00009f 45px,#00009f 51px,#00008f 52px,#00008f 65px,#00009f 66px,#00009f 72px,#0000af 73px,#0000af 79px,#0000bf 80px,#0000bf 87px,#0000cf 88px,#0000cf 96px,#0000df 97px,#0000df 110px,#0000ef 111px,#0000ef 137px,#0000df 138px,#0000df 150px,#0000cf 151px,#0000cf 160px,#0000bf 161px,#0000bf 168px,#0000af 169px,#0000af 175px,#00009f 176px,#00009f 182px,#00008f 183px,#00008f 195px,#00009f 196px,#00009f 203px,#0000af 204px,#0000af 211px,#0000bf 212px,#0000bf 220px,#0000cf 221px,#0000cf 236px,#0000df 237px,#0000df"></i><i style="--g:#0000cf,#0000cf 23px,#0000bf 24px,#0000bf 34px,#0000af 35px,#0000af 43px,#00009f 44px,#00009f 51px,#00008f 52px,#00008f 65px,#00009f 66px,#00009f 73px,#0000af 74px,#0000af 80px,#0000bf 81px,#0000bf 89px,#0000cf 90px,#0000cf 100px,#0000df 101px,#0000df 147px,#0000cf 148px,#0000cf 158px,#0000bf 159px,#0000bf 166px,#0000af 167px,#0000af 174px,#00009f 175px,#00009f 182px,#00008f 183px,#00008f 196px,#00009f 197px,#00009f 204px,#0000af 205px,#0000af 213px,#0000bf 214px,#0000bf 224px,#0000cf 225px,#0000cf"></i><i style="--g:#0000cf,#0000cf 18px,#0000bf 19px,#0000bf 32px,#0000af 33px,#0000af 41px,#00009f 42px,#00009f 50px,#00008f 51px,#00008f 65px,#00009f 66px,#00009f 73px,#0000af 74px,#0000af 82px,#0000bf 83px,#0000bf 91px,#0000cf 92px,#0000cf 103px,#0000df 104px,#0000df 143px,#0000cf 144px,#0000cf 156px,#0000bf 157px,#0000bf 165px,#0000af 166px,#0000af 174px,#00009f 175px,#00009f 181px,#00008f 182px,#00008f 197px,#00009f 198px,#00009f 205px,#0000af 206px,#0000af 215px,#0000bf 216px,#0000bf 228px,#0000cf 229px,#0000cf"></i><i style="--g:#0000cf,#0000cf 12px,#0000bf 13px,#0000bf 29px,#0000af 30px,#0000af 40px,#00009f 41px,#00009f 49px,#00008f 50px,#00008f 66px,#00009f 67px,#00009f 74px,#0000af 75px,#0000af 83px,#0000bf 84px,#0000bf 93px,#0000cf 94px,#0000cf 108px,#0000df 109px,#0000df 139px,#0000cf 140px,#0000cf 154px,#0000bf 155px,#0000bf 164px,#0000af 165px,#0000af 173px,#00009f 174px,#00009f 181px,#00008f 182px,#00008f 198px,#00009f 199px,#00009f 207px,#0000af 208px,#0000af 218px,#0000bf 219px,#0000bf 235px,#0000cf 236px,#0000cf"></i><i style="--g:#0000bf,#0000bf 26px,#0000af 27px,#0000af 38px,#00009f 39px,#00009f 48px,#00008f 49px,#00008f 66px,#00009f 67px,#00009f 75px,#0000af 76px,#0000af 84px,#0000bf 85px,#0000bf 96px,#0000cf 97px,#0000cf 117px,#0000df 118px,#0000df 130px,#0000cf 131px,#0000cf 151px,#0000bf 152px,#0000bf 162px,#0000af 163px,#0000af 172px,#00009f 173px,#00009f 181px,#00008f 182px,#00008f 199px,#00009f 200px,#00009f 209px,#0000af 210px,#0000af 221px,#0000bf 222px,#0000bf"></i><i style="--g:#0000bf,#0000bf 22px,#0000af 23px,#0000af 36px,#00009f 37px,#00009f 47px,#00008f 48px,#00008f 66px,#00009f 67px,#00009f 75px,#0000af 76px,#0000af 86px,#0000bf 87px,#0000bf 99px,#0000cf 100px,#0000cf 148px,#0000bf 149px,#0000bf 161px,#0000af 162px,#0000af 171px,#00009f 172px,#00009f 181px,#00008f 182px,#00008f 200px,#00009f 201px,#00009f 210px,#0000af 211px,#0000af 224px,#0000bf 225px,#0000bf"></i><i style="--g:#0000bf,#0000bf 18px,#0000af 19px,#0000af 34px,#00009f 35px,#00009f 46px,#00008f 47px,#00008f 66px,#00009f 67px,#00009f 76px,#0000af 77px,#0000af 88px,#0000bf 89px,#0000bf 103px,#0000cf 104px,#0000cf 144px,#0000bf 145px,#0000bf 159px,#0000af 160px,#0000af 170px,#00009f 171px,#00009f 181px,#00008f 182px,#00008f 201px,#00009f 202px,#00009f 212px,#0000af 213px,#0000af 229px,#0000bf 230px,#0000bf"></i><i style="--g:#0000bf,#0000bf 11px,#0000af 12px,#0000af 32px,#00009f 33px,#00009f 45px,#00008f 46px,#00008f 66px,#00009f 67px,#00009f 77px,#0000af 78px,#0000af 90px,#0000bf 91px,#0000bf 107px,#0000cf 108px,#0000cf 139px,#0000bf 140px,#0000bf 157px,#0000af 158px,#0000af 170px,#00009f 171px,#00009f 180px,#00008f 181px,#00008f 202px,#00009f 203px,#00009f 215px,#0000af 216px,#0000af 236px,#0000bf 237px,#0000bf"></i><i style="--g:#0000af,#0000af 29px,#00009f 30px,#00009f 44px,#00008f 45px,#00008f 67px,#00009f 68px,#00009f 78px,#0000af 79px,#0000af 92px,#0000bf 93px,#0000bf 115px,#0000cf 116px,#0000cf 132px,#0000bf 133px,#0000bf 155px,#0000af 156px,#0000af 169px,#00009f 170px,#00009f 180px,#00008f 181px,#00008f 203px,#00009f 204px,#00009f 217px,#0000af 218px,#0000af"></i><i style="--g:#0000af,#0000af 27px,#00009f 28px,#00009f 42px,#00008f 43px,#00008f 67px,#00009f 68px,#00009f 79px,#0000af 80px,#0000af 94px,#0000bf 95px,#0000bf 153px,#0000af 154px,#0000af 167px,#00009f 168px,#00009f 180px,#00008f 181px,#00008f 205px,#00009f 206px,#00009f 220px,#0000af 221px,#0000af"></i><i style="--g:#0000af,#0000af 23px,#00009f 24px,#00009f 41px,#00008f 42px,#00008f 67px,#00009f 68px,#00009f 81px,#0000af 82px,#0000af 97px,#0000bf 98px,#0000bf 150px,#0000af 151px,#0000af 166px,#00009f 167px,#00009f 180px,#00008f 181px,#00008f 206px,#00009f 207px,#00009f 224px,#0000af 225px,#0000af"></i><i style="--g:#0000af,#0000af 19px,#00009f 20px,#00009f 39px,#00008f 40px,#00008f 68px,#00009f 69px,#00009f 82px,#0000af 83px,#0000af 100px,#0000bf 101px,#0000bf 147px,#0000af 148px,#0000af 165px,#00009f 166px,#00009f 179px,#00008f 180px,#00008f 208px,#00009f 209px,#00009f 228px,#0000af 229px,#0000af"></i><i style="--g:#0000af,#0000af 12px,#00009f 13px,#00009f 38px,#00008f 39px,#00008f 68px,#00009f 69px,#00009f 83px,#0000af 84px,#0000af 104px,#0000bf 105px,#0000bf 143px,#0000af 144px,#0000af 164px,#00009f 165px,#00009f 179px,#00008f 180px,#00008f 209px,#00009f 210px,#00009f 234px,#0000af 235px,#0000af"></i><i style="--g:#00009f,#00009f 36px,#00008f 37px,#00008f 68px,#00009f 69px,#00009f 85px,#0000af 86px,#0000af 109px,#0000bf 110px,#0000bf 137px,#0000af 138px,#0000af 162px,#00009f 163px,#00009f 179px,#00008f 180px,#00008f 211px,#00009f 212px,#00009f"></i><i style="--g:#00009f,#00009f 34px,#00008f 35px,#00008f 69px,#00009f 70px,#00009f 86px,#0000af 87px,#0000af 120px,#0000bf 121px,#0000bf 127px,#0000af 128px,#0000af 161px,#00009f 162px,#00009f 178px,#00008f 179px,#00008f 213px,#00009f 214px,#00009f"></i><i style="--g:#00009f,#00009f 31px,#00008f 32px,#00008f 69px,#00009f 70px,#00009f 88px,#0000af 89px,#0000af 159px,#00009f 160px,#00009f 178px,#00008f 179px,#00008f 216px,#00009f 217px,#00009f"></i><i style="--g:#00009f,#00009f 28px,#00008f 29px,#00008f 69px,#00009f 70px,#00009f 90px,#0000af 91px,#0000af 157px,#00009f 158px,#00009f 177px,#00008f 178px,#00008f 218px,#00009f 219px,#00009f"></i><i style="--g:#00009f,#00009f 25px,#00008f 26px,#00008f 70px,#00009f 71px,#00009f 92px,#0000af 93px,#0000af 155px,#00009f 156px,#00009f 177px,#00008f 178px,#00008f 221px,#00009f 222px,#00009f"></i><i style="--g:#00009f,#00009f 22px,#00008f 23px,#00008f 70px,#00009f 71px,#00009f 95px,#0000af 96px,#0000af 152px,#00009f 153px,#00009f 177px,#00008f 178px,#00008f 225px,#00009f 226px,#00009f"></i><i style="--g:#00009f,#00009f 17px,#00008f 18px,#00008f 71px,#00009f 72px,#00009f 98px,#0000af 99px,#0000af 149px,#00009f 150px,#00009f 176px,#00008f 177px,#00008f 230px,#00009f 231px,#00009f"></i><i style="--g:#00009f,#00009f 9px,#00008f 10px,#00008f 71px,#00009f 72px,#00009f 101px,#0000af 102px,#0000af 146px,#00009f 147px,#00009f 176px,#00008f 177px,#00008f 238px,#00009f 239px,#00009f"></i><i style="--g:#00008f,#00008f 72px,#00009f 73px,#00009f 105px,#0000af 106px,#0000af 142px,#00009f 143px,#00009f 175px,#00008f 176px,#00008f"></i><i style="--g:#00008f,#00008f 72px,#00009f 73px,#00009f 111px,#0000af 112px,#0000af 136px,#00009f 137px,#00009f 174px,#00008f 175px,#00008f"></i><i style="--g:#00008f,#00008f 73px,#00009f 74px,#00009f 174px,#00008f 175px,#00008f"></i><i style="--g:#00008f,#00008f 74px,#00009f 75px,#00009f 173px,#00008f 174px,#00008f"></i><i style="--g:#00008f,#00008f 75px,#00009f 76px,#00009f 172px,#00008f 173px,#00008f"></i><i style="--g:#00008f,#00008f 75px,#00009f 76px,#00009f 171px,#00008f 172px,#00008f"></i><i style="--g:#00008f,#00008f 76px,#00009f 77px,#00009f 171px,#00008f 172px,#00008f"></i><i style="--g:#00008f,#00008f 77px,#00009f 78px,#00009f 170px,#00008f 171px,#00008f"></i><i style="--g:#00008f,#00008f 78px,#00009f 79px,#00009f 169px,#00008f 170px,#00008f"></i><i style="--g:#00008f,#00008f 79px,#00009f 80px,#00009f 168px,#00008f 169px,#00008f"></i><i style="--g:#00008f,#00008f 80px,#00009f 81px,#00009f 167px,#00008f 168px,#00008f"></i><i style="--g:#00008f,#00008f 82px,#00009f 83px,#00009f 165px,#00008f 166px,#00008f"></i><i style="--g:#00008f,#00008f 83px,#00009f 84px,#00009f 164px,#00008f 165px,#00008f"></i><i style="--g:#00008f,#00008f 84px,#00009f 85px,#00009f 162px,#00008f 163px,#00008f"></i><i style="--g:#00008f,#00008f 86px,#00009f 87px,#00009f 161px,#00008f 162px,#00008f"></i><i style="--g:#00008f,#00008f 88px,#00009f 89px,#00009f 159px,#00008f 160px,#00008f"></i><i style="--g:#00008f,#00008f 90px,#00009f 91px,#00009f 157px,#00008f 158px,#00008f"></i><i style="--g:#00008f,#00008f 92px,#00009f 93px,#00009f 155px,#00008f 156px,#00008f"></i><i style="--g:#00008f,#00008f 94px,#00009f 95px,#00009f 153px,#00008f 154px,#00008f"></i><i style="--g:#00008f,#00008f 97px,#00009f 98px,#00009f 150px,#00008f 151px,#00008f"></i><i style="--g:#00008f,#00008f 100px,#00009f 101px,#00009f 147px,#00008f 148px,#00008f"></i><i style="--g:#00008f,#00008f 104px,#00009f 105px,#00009f 143px,#00008f 144px,#00008f"></i><i style="--g:#00008f,#00008f 109px,#00009f 110px,#00009f 138px,#00008f 139px,#00008f"></i><i style="--g:#00008f,#00008f 119px,#00009f 120px,#00009f 128px,#00008f 129px,#00008f"></i><i style="--g:#00008f,#00008f;height:26px"></i></div>
<svg class="ov" width="675" height="588" viewBox="0 0 675 588"><g stroke="#fff" fill="none"><line x1="46" y1="420.45" x2="292" y2="420.45" stroke-width="1.60"/><line x1="46" y1="442.70" x2="292" y2="442.70" stroke-width="1.60"/><line x1="46" y1="469.90" x2="292" y2="469.90" stroke-width="1.60"/><line x1="46" y1="477.20" x2="292" y2="477.20" stroke-width="1.60"/><line x1="106.60" y1="420.45" x2="106.60" y2="442.70" stroke-width="1.80"/><line x1="229.90" y1="420.45" x2="229.90" y2="442.70" stroke-width="1.80"/></g><g stroke="#000" stroke-opacity="0.3" stroke-width="0.5" fill="none"><rect x="301.2" y="337.2" width="12.6" height="216.6"/><path d="M301.0 499.2h2M314.0 499.2h-2"/><path d="M301.0 445.1h2M314.0 445.1h-2"/><path d="M301.0 391.1h2M314.0 391.1h-2"/></g></svg>
<div class="cb" style="left:301px;top:337px;width:13px;height:217px;background:linear-gradient(0deg,#000087 0.000%,#000087 1.562%,#000097 1.562%,#000097 3.125%,#0000a7 3.125%,#0000a7 4.688%,#0000b7 4.688%,#0000b7 6.250%,#0000c7 6.250%,#0000c7 7.812%,#0000d7 7.812%,#0000d7 9.375%,#0000e7 9.375%,#0000e7 10.938%,#0000f7 10.938%,#0000f7 12.500%,#0008ff 12.500%,#0008ff 14.062%,#0018ff 14.062%,#0018ff 15.625%,#0028ff 15.625%,#0028ff 17.188%,#0038ff 17.188%,#0038ff 18.750%,#0048ff 18.750%,#0048ff 20.312%,#0058ff 20.312%,#0058ff 21.875%,#0068ff 21.875%,#0068ff 23.438%,#0078ff 23.438%,#0078ff 25.000%,#0087ff 25.000%,#0087ff 26.562%,#0097ff 26.562%,#0097ff 28.125%,#00a7ff 28.125%,#00a7ff 29.688%,#00b7ff 29.688%,#00b7ff 31.250%,#00c7ff 31.250%,#00c7ff 32.812%,#00d7ff 32.812%,#00d7ff 34.375%,#00e7ff 34.375%,#00e7ff 35.938%,#00f7ff 35.938%,#00f7ff 37.500%,#08fff7 37.500%,#08fff7 39.062%,#18ffe7 39.062%,#18ffe7 40.625%,#28ffd7 40.625%,#28ffd7 42.188%,#38ffc7 42.188%,#38ffc7 43.750%,#48ffb7 43.750%,#48ffb7 45.312%,#58ffa7 45.312%,#58ffa7 46.875%,#68ff97 46.875%,#68ff97 48.438%,#78ff87 48.438%,#78ff87 50.000%,#87ff78 50.000%,#87ff78 51.562%,#97ff68 51.562%,#97ff68 53.125%,#a7ff58 53.125%,#a7ff58 54.688%,#b7ff48 54.688%,#b7ff48 56.250%,#c7ff38 56.250%,#c7ff38 57.812%,#d7ff28 57.812%,#d7ff28 59.375%,#e7ff18 59.375%,#e7ff18 60.938%,#f7ff08 60.938%,#f7ff08 62.500%,#fff700 62.500%,#fff700 64.062%,#ffe700 64.062%,#ffe700 65.625%,#ffd700 65.625%,#ffd700 67.188%,#ffc700 67.188%,#ffc700 68.750%,#ffb700 68.750%,#ffb700 70.312%,#ffa700 70.312%,#ffa700 71.875%,#ff9700 71.875%,#ff9700 73.438%,#ff8700 73.438%,#ff8700 75.000%,#ff7800 75.000%,#ff7800 76.562%,#ff6800 76.562%,#ff6800 78.125%,#ff5800 78.125%,#ff5800 79.688%,#ff4800 79.688%,#ff4800 81.250%,#ff3800 81.250%,#ff3800 82.812%,#ff2800 82.812%,#ff2800 84.375%,#ff1800 84.375%,#ff1800 85.938%,#ff0800 85.938%,#ff0800 87.500%,#f70000 87.500%,#f70000 89.062%,#e70000 89.062%,#e70000 90.625%,#d70000 90.625%,#d70000 92.188%,#c70000 92.188%,#c70000 93.750%,#b70000 93.750%,#b70000 95.312%,#a70000 95.312%,#a70000 96.875%,#970000 96.875%,#970000 98.438%,#870000 98.438%,#870000 100.000%)"></div>
<div class="tk zr" style="left:4.1px;top:329.5px">1.5</div><div class="tk zr" style="left:4.1px;top:365.5px">1</div><div class="tk zr" style="left:4.1px;top:401.6px">0.5</div><div class="tk zr" style="left:4.1px;top:437.6px">0</div><div class="tk zr" style="left:4.1px;top:473.6px">-0.5</div><div class="tk zr" style="left:4.1px;top:509.7px">-1</div><div class="tk zr" style="left:4.1px;top:545.7px">-1.5</div><div class="tk xc" style="left:37.3px;top:555.5px">-0.4</div><div class="tk xc" style="left:91.8px;top:555.5px">-0.2</div><div class="tk xc" style="left:148.9px;top:555.5px">0</div><div class="tk xc" style="left:203.4px;top:555.5px">0.2</div><div class="tk xc" style="left:257.9px;top:555.5px">0.4</div><div class="tk cl" style="left:315.8px;top:329.9px">2</div><div class="tk cl" style="left:315.8px;top:383.9px">1.5</div><div class="tk cl" style="left:315.8px;top:438.0px">1</div><div class="tk cl" style="left:315.8px;top:492.1px">0.5</div><div class="tk cl" style="left:315.8px;top:546.1px">0</div><div class="ax" style="left:128.9px;top:570.1px;width:80px;text-align:center">X (<span class="mu">&mu;</span>m)</div><div class="ax zl" style="left:-31.2px;top:438.6px">Z (<span class="mu">&mu;</span>m)</div>
<div class="nl" style="left:47.9px;top:417.0px;color:#000">n<sub>L</sub></div><div class="nl" style="left:143.2px;top:417.0px;color:#000">n<sub>H</sub></div><div class="nl" style="left:230.7px;top:417.0px;color:#000">n<sub>L</sub></div>
<div class="pl" style="left:0.9px;top:296.8px">(c)</div><div class="tt" style="left:45.6px;top:308.1px">|<i>E<sub>y</sub></i>| for proposed absorber (<i>n<sub>Slab</sub></i> = 4)</div>
<div class="hm" style="left:385px;top:337px;width:245px;height:216px"><i style="--g:#ff7e00,#ff7e00"></i><i style="--g:#ff5100,#ff5100"></i><i style="--g:#ff2800,#ff2800"></i><i style="--g:#ff0300,#ff0300"></i><i style="--g:#e10000,#e10000"></i><i style="--g:#c50000,#c50000"></i><i style="--g:#ac0000,#ac0000"></i><i style="--g:#980000,#980000"></i><i style="--g:#890000,#890000"></i><i style="--g:#800000,#800000;height:4px"></i><i style="--g:#840000,#840000"></i><i style="--g:#910000,#910000"></i><i style="--g:#a20000,#a20000"></i><i style="--g:#b80000,#b80000"></i><i style="--g:#d30000,#d30000"></i><i style="--g:#f20000,#f20000"></i><i style="--g:#ff1600,#ff1600"></i><i style="--g:#ff3d00,#ff3d00"></i><i style="--g:#ff6800,#ff6800"></i><i style="--g:#ff9600,#ff9600"></i><i style="--g:#ffc800,#ffc800"></i><i style="--g:#fffd00,#fffd00"></i><i style="--g:#c9ff36,#c9ff36"></i><i style="--g:#8eff71,#8eff71"></i><i style="--g:#51ffae,#51ffae"></i><i style="--g:#12ffed,#12ffed"></i><i style="--g:#00d0ff,#00d0ff"></i><i style="--g:#008dff,#008dff"></i><i style="--g:#0049ff,#0049ff"></i><i style="--g:#0000ff,#0000ff"></i><i style="--g:#0000bf,#0000bf"></i><i style="--g:#00008f,#00008f"></i><i style="--g:#0000df,#0000df"></i><i style="--g:#0021ff,#0021ff"></i><i style="--g:#0066ff,#0066ff"></i><i style="--g:#00a9ff,#00a9ff"></i><i style="--g:#00ebff,#00ebff"></i><i style="--g:#2cffd3,#2cffd3"></i><i style="--g:#6aff95,#6aff95"></i><i style="--g:#a7ff58,#a7ff58"></i><i style="--g:#e0ff1f,#e0ff1f"></i><i style="--g:#ffe700,#ffe700"></i><i style="--g:#ffb300,#ffb300"></i><i style="--g:#ff8300,#ff8300"></i><i style="--g:#ff5600,#ff5600"></i><i style="--g:#ff2c00,#ff2c00"></i><i style="--g:#ff0700,#ff0700"></i><i style="--g:#e50000,#e50000"></i><i style="--g:#c70000,#c70000"></i><i style="--g:#af0000,#af0000"></i><i style="--g:#9a0000,#9a0000"></i><i style="--g:#8b0000,#8b0000"></i><i style="--g:#800000,#800000;height:4px"></i><i style="--g:#820000,#820000"></i><i style="--g:#8f0000,#8f0000"></i><i style="--g:#a00000,#a00000"></i><i style="--g:#b60000,#b60000"></i><i style="--g:#d00000,#d00000"></i><i style="--g:#ee0000,#ee0000"></i><i style="--g:#ff1200,#ff1200"></i><i style="--g:#ff3900,#ff3900"></i><i style="--g:#ff6300,#ff6300"></i><i style="--g:#ff9100,#ff9100"></i><i style="--g:#ffc300,#ffc300"></i><i style="--g:#fff700,#fff700"></i><i style="--g:#cfff30,#cfff30"></i><i style="--g:#94ff6b,#94ff6b"></i><i style="--g:#58ffa7,#58ffa7"></i><i style="--g:#19ffe6,#19ffe6"></i><i style="--g:#00d7ff,#00d7ff"></i><i style="--g:#0094ff,#0094ff"></i><i style="--g:#0051ff,#0051ff"></i><i style="--g:#0010ff,#0010ff"></i><i style="--g:#0000bf,#0000bf"></i><i style="--g:#00008f,#00008f"></i><i style="--g:#0000cf,#0000cf"></i><i style="--g:#001aff,#001aff"></i><i style="--g:#00c1ff,#00bdff 53px,#00a8ff 100px,#00acff 163px,#00c1ff 211px,#00c1ff"></i><i style="--g:#00feff,#06fff9 69px,#00fbff 95px,#00ebff 124px,#00faff 152px,#05fffa 171px,#03fffc 225px,#00feff"></i><i style="--g:#3affc5,#44ffbb 66px,#33ffcc 88px,#0ffff0 117px,#10ffef 133px,#41ffbe 175px,#44ffbb 202px,#3affc5"></i><i style="--g:#73ff8c,#72ff8d 36px,#77ff88 58px,#64ff9b 72px,#19ffe6 102px,#07fff8 118px,#0afff5 135px,#23ffdc 151px,#6bff94 180px,#79ff86 194px,#71ff8e 231px,#73ff8c"></i><i style="--g:#adff52,#a0ff5f 35px,#a4ff5b 57px,#91ff6e 68px,#62ff9d 81px,#14ffeb 100px,#00feff 108px,#00eeff 121px,#00f5ff 135px,#02fffd 142px,#2cffd3 155px,#87ff78 177px,#a0ff5f 188px,#a5ff5a 201px,#a0ff5f 223px,#adff52"></i><i style="--g:#e4ff1b,#daff25 15px,#c7ff38 34px,#c8ff37 57px,#b5ff4a 67px,#8bff74 77px,#04fffb 101px,#00f6ff 104px,#00d6ff 114px,#00cbff 124px,#00d5ff 134px,#00f4ff 144px,#02fffd 147px,#62ff9d 164px,#a1ff5e 176px,#c0ff3f 186px,#caff35 197px,#caff35 219px,#e4ff1b"></i><i style="--g:#ffea00,#fff200 12px,#fbff04 21px,#e6ff19 36px,#e0ff1f 59px,#cbff34 68px,#a1ff5e 77px,#47ffb8 90px,#04fffb 99px,#00e2ff 104px,#00b5ff 113px,#00a2ff 121px,#00a4ff 129px,#00bbff 137px,#00ecff 146px,#01fffe 149px,#92ff6d 169px,#c2ff3d 178px,#dcff23 187px,#e5ff1a 200px,#eaff15 217px,#fffc00 231px,#ffea00"></i><i style="--g:#ffc200,#ffcb00 11px,#fffe00 34px,#eeff11 61px,#d4ff2b 70px,#a9ff56 78px,#59ffa6 88px,#05fffa 97px,#00f2ff 99px,#00a9ff 108px,#0081ff 115px,#006eff 122px,#0072ff 129px,#008dff 136px,#00c4ff 144px,#01fffe 151px,#88ff77 166px,#c4ff3b 175px,#e4ff1b 183px,#f4ff0b 193px,#fffc00 216px,#ffc500 241px,#ffc200"></i><i style="--g:#ffa100,#ffa800 9px,#ffea00 34px,#fff400 48px,#feff01 61px,#dfff20 69px,#b0ff4f 76px,#65ff9a 84px,#00feff 93px,#0086ff 104px,#004bff 111px,#0029ff 117px,#001bff 123px,#0021ff 129px,#003bff 135px,#006fff 142px,#00cbff 151px,#00f9ff 155px,#12ffed 157px,#89ff76 168px,#cbff34 176px,#f0ff0f 183px,#fffd00 189px,#fff400 202px,#ffe900 215px,#ffbd00 231px,#ffa400 242px,#ffa100"></i><i style="--g:#ff8300,#ff8a00 8px,#ffb000 20px,#ffd700 32px,#ffe400 43px,#ffec00 57px,#fcff03 64px,#d7ff28 70px,#94ff6b 77px,#30ffcf 85px,#06fff9 88px,#00e8ff 90px,#0052ff 101px,#0010ff 107px,#0000ff 108px,#0000ff 109px,#0000ef 110px,#0000ef 111px,#0000df 112px,#0000df 113px,#0000cf 114px,#0000cf 116px,#0000bf 117px,#0000bf 120px,#0000af 121px,#0000af 127px,#0000bf 128px,#0000bf 132px,#0000cf 133px,#0000cf 134px,#0000df 135px,#0000df 137px,#0000ef 138px,#0000ef 139px,#0000ff 140px,#0010ff 141px,#0010ff 142px,#009cff 153px,#00ffff 160px,#78ff87 169px,#c2ff3d 176px,#efff10 182px,#ffff00 185px,#ffe900 193px,#ffdc00 214px,#ffbd00 225px,#ff8d00 239px,#ff8400"></i><i style="--g:#ff6700,#ff6c00 7px,#ff8b00 16px,#ffcb00 31px,#ffde00 41px,#ffeb00 56px,#ffff00 62px,#d9ff26 68px,#9eff61 74px,#3fffc0 81px,#01fffe 85px,#0027ff 98px,#0010ff 99px,#0010ff 100px,#0000ff 101px,#0000af 106px,#0000af 107px,#00008f 109px,#00008f 111px,#00009f 112px,#00009f 113px,#0000af 114px,#0000af 115px,#0000bf 116px,#0000bf 118px,#0000cf 119px,#0000cf 129px,#0000bf 130px,#0000bf 132px,#0000af 133px,#0000af 134px,#00009f 135px,#00009f 136px,#00008f 137px,#00008f 139px,#00009f 140px,#00009f 141px,#0000cf 144px,#0000cf 145px,#0000ff 148px,#00f9ff 163px,#1affe5 165px,#80ff7f 172px,#c4ff3b 178px,#f3ff0c 184px,#fffc00 187px,#ffe800 194px,#ffd600 213px,#ffb600 223px,#ff7500 238px,#ff6700"></i><i style="--g:#ff4e00,#ff5400 7px,#ff7300 15px,#ffc800 32px,#ffe300 42px,#fffc00 56px,#edff12 61px,#c3ff3c 67px,#82ff7d 73px,#2bffd4 79px,#0afff5 81px,#00f8ff 82px,#0028ff 93px,#0010ff 94px,#0000ff 95px,#0000cf 98px,#0000af 99px,#00008f 101px,#00008f 102px,#0000ef 108px,#0000ef 109px,#0000ff 110px,#0010ff 111px,#0044ff 117px,#0058ff 122px,#0057ff 127px,#0040ff 132px,#001dff 136px,#0000ff 138px,#0000ff 139px,#00008f 146px,#00008f 147px,#0000df 152px,#0000ff 153px,#0034ff 156px,#00f1ff 166px,#03fffc 167px,#62ff9d 173px,#acff53 179px,#dfff20 185px,#fdff02 191px,#ffd400 213px,#ffaa00 223px,#ff6300 237px,#ff5000 244px,#ff4f00"></i><i style="--g:#ff3c00,#ff4200 7px,#ff6200 15px,#ffc600 33px,#ffed00 44px,#feff01 51px,#ddff22 59px,#b3ff4c 65px,#72ff8d 71px,#1bffe4 77px,#0afff5 78px,#00f8ff 79px,#0071ff 86px,#001dff 90px,#0010ff 91px,#0000ef 92px,#0000cf 94px,#0000af 95px,#00008f 97px,#0000cf 101px,#0000ef 102px,#0000ff 103px,#006dff 110px,#00a5ff 115px,#00c7ff 120px,#00d0ff 124px,#00c9ff 128px,#00a9ff 133px,#0072ff 138px,#0027ff 143px,#0010ff 144px,#0000ff 145px,#0000cf 148px,#0000af 149px,#00008f 151px,#00008f 152px,#0000af 153px,#0000cf 155px,#0000ef 156px,#0000ff 157px,#0010ff 158px,#003fff 160px,#00deff 168px,#03fffc 170px,#60ff9f 176px,#a6ff59 182px,#d5ff2a 188px,#faff05 196px,#fff900 200px,#ffd100 213px,#ff9800 224px,#ff5100 237px,#ff3d00 244px,#ff3c00"></i><i style="--g:#ff3100,#ff3700 7px,#ff5800 15px,#ffd300 36px,#fdff02 47px,#cdff32 57px,#a0ff5f 63px,#5fffa0 69px,#06fff9 75px,#00f4ff 76px,#0082ff 82px,#002dff 86px,#0010ff 87px,#0000ff 88px,#0000ef 89px,#0000cf 90px,#0000bf 91px,#00009f 92px,#00008f 93px,#0000bf 96px,#0000df 97px,#0000ef 98px,#0010ff 99px,#001eff 100px,#0094ff 106px,#00e3ff 111px,#00fdff 113px,#2dffd2 118px,#3fffc0 122px,#40ffbf 126px,#2fffd0 130px,#0dfff2 134px,#02fffd 135px,#00dbff 138px,#0089ff 143px,#0027ff 148px,#0010ff 149px,#0000ff 150px,#0000df 151px,#0000bf 153px,#00009f 154px,#00008f 155px,#0000af 157px,#0000cf 158px,#0000ef 160px,#0010ff 161px,#00b6ff 169px,#00ffff 173px,#5affa5 179px,#9dff62 185px,#d1ff2e 192px,#ffff00 202px,#ffc500 215px,#ff4b00 236px,#ff3400 243px,#ff3100"></i><i style="--g:#ff3100,#ff3700 7px,#ff5700 15px,#ffd900 37px,#ffff00 45px,#c6ff39 55px,#93ff6c 61px,#4bffb4 67px,#00fcff 72px,#0089ff 78px,#001aff 83px,#0000ff 84px,#0000ef 85px,#0000cf 86px,#0000bf 87px,#00009f 88px,#00008f 89px,#00009f 90px,#0000bf 91px,#0000cf 92px,#0000ef 93px,#0000ff 94px,#008eff 100px,#00f6ff 105px,#0afff5 106px,#5bffa4 111px,#8cff73 115px,#acff53 119px,#baff45 123px,#b6ff49 127px,#a1ff5e 131px,#7aff85 135px,#33ffcc 140px,#00fdff 143px,#0081ff 149px,#0010ff 154px,#0000ef 155px,#0000df 156px,#0000bf 157px,#0000af 158px,#00008f 159px,#00008f 160px,#0000cf 162px,#0000df 163px,#0000ff 164px,#0010ff 165px,#0096ff 171px,#00f5ff 176px,#08fff7 177px,#54ffab 182px,#99ff66 188px,#d1ff2e 195px,#fdff02 203px,#ffc000 216px,#ff4f00 235px,#ff3600 242px,#ff3100"></i><i style="--g:#ff3100,#ff3700 7px,#ff5700 15px,#ffea00 40px,#feff01 44px,#c3ff3c 53px,#8aff75 59px,#4affb5 64px,#0afff5 68px,#00f7ff 69px,#007eff 75px,#0021ff 79px,#0010ff 80px,#0000ef 81px,#0000cf 82px,#0000bf 83px,#00009f 84px,#00008f 85px,#00009f 86px,#0000bf 87px,#0000cf 88px,#0000ef 89px,#0010ff 90px,#003fff 92px,#00edff 99px,#05fffa 100px,#6eff91 105px,#c4ff3b 110px,#f7ff08 114px,#fffc00 115px,#ffdd00 119px,#ffcf00 123px,#ffd300 127px,#ffe800 131px,#fcff03 134px,#baff45 139px,#62ff9d 144px,#0efff1 148px,#00f6ff 149px,#004aff 156px,#0010ff 158px,#0000ff 159px,#0000bf 161px,#0000af 162px,#00008f 163px,#0000af 165px,#0000cf 166px,#0000df 167px,#0000ff 168px,#0010ff 169px,#0030ff 170px,#00b6ff 176px,#00f0ff 179px,#03fffc 180px,#53ffac 185px,#9cff63 191px,#d7ff28 198px,#fffc00 205px,#ff8f00 224px,#ff4a00 236px,#ff3400 243px,#ff3100"></i><i style="--g:#ff3200,#ff3800 7px,#ff5600 15px,#ffb200 30px,#feff01 42px,#b8ff47 51px,#6eff91 58px,#18ffe7 64px,#08fff7 65px,#00f6ff 66px,#0081ff 72px,#0010ff 77px,#0000ef 78px,#0000df 79px,#0000bf 80px,#0000af 81px,#00008f 82px,#0000af 84px,#0000ef 86px,#0000ff 87px,#0021ff 88px,#00f5ff 96px,#0ffff0 97px,#9aff65 103px,#fbff04 108px,#ffd400 111px,#ffa300 115px,#ff8200 119px,#ff7400 123px,#ff7700 127px,#ff8d00 131px,#ffb400 135px,#fffd00 140px,#cbff34 143px,#60ff9f 148px,#00ffff 152px,#0010ff 161px,#0000ef 162px,#0000df 163px,#00009f 165px,#00008f 166px,#00009f 167px,#0000bf 168px,#0000cf 169px,#0000ef 170px,#0000ff 171px,#0034ff 173px,#00b6ff 179px,#01fffe 183px,#5cffa3 189px,#a1ff5e 195px,#e6ff19 203px,#fffc00 207px,#ff5d00 232px,#ff3c00 240px,#ff3200"></i><i style="--g:#ff3a00,#ff4100 8px,#ff5e00 16px,#ffa000 27px,#fffb00 39px,#e0ff1f 43px,#83ff7c 52px,#28ffd7 59px,#0afff5 61px,#00f9ff 62px,#008fff 68px,#0028ff 73px,#0010ff 74px,#0000ff 75px,#0000df 76px,#0000cf 77px,#0000af 78px,#00008f 80px,#00009f 81px,#0000df 83px,#0000ef 84px,#0010ff 85px,#01fffe 94px,#b0ff4f 101px,#f4ff0b 104px,#fff500 105px,#ff9800 110px,#ff5f00 114px,#ff3800 118px,#ff2300 122px,#ff2200 126px,#ff3500 130px,#ff5a00 134px,#ff9200 138px,#fcff03 144px,#72ff8d 150px,#0cfff3 154px,#00f0ff 155px,#0000ff 164px,#0000df 165px,#0000cf 166px,#0000af 167px,#00008f 169px,#0000af 170px,#0000bf 171px,#0000df 172px,#0000ef 173px,#0010ff 174px,#001fff 175px,#009bff 181px,#00f3ff 186px,#04fffb 187px,#66ff99 194px,#bfff40 202px,#ffff00 209px,#ff9b00 222px,#ff6000 232px,#ff4200 240px,#ff3a00"></i><i style="--g:#ff4600,#ff4e00 9px,#ff6e00 18px,#ffa400 27px,#fff000 36px,#fbff04 38px,#97ff68 47px,#2bffd4 55px,#00fdff 58px,#0086ff 65px,#0010ff 71px,#0000ff 72px,#0000df 73px,#0000bf 75px,#00009f 76px,#00008f 77px,#0000af 79px,#0000cf 80px,#0000df 81px,#0000ff 82px,#0010ff 83px,#0030ff 84px,#02fffd 92px,#e6ff19 101px,#fdff02 102px,#ff8200 108px,#ff2f00 113px,#ff0100 117px,#e50000 121px,#df0000 125px,#ed0000 129px,#fc0000 131px,#ff1d00 134px,#ff5700 138px,#ffb600 143px,#fff800 146px,#efff10 147px,#26ffd9 155px,#0cfff3 156px,#00f1ff 157px,#0021ff 165px,#0000ff 166px,#0000ef 167px,#0000cf 168px,#0000bf 169px,#00009f 170px,#00008f 171px,#0000bf 174px,#0000df 175px,#0000ff 177px,#001dff 178px,#00a3ff 185px,#00f6ff 190px,#07fff8 191px,#79ff86 199px,#e2ff1d 208px,#fffd00 211px,#ffae00 220px,#ff7500 229px,#ff5100 238px,#ff4600"></i><i style="--g:#ff5400,#ff5a00 9px,#ff7600 18px,#ffa400 26px,#ffe700 34px,#fffb00 36px,#e2ff1d 39px,#7cff83 47px,#03fffc 55px,#00bfff 59px,#002aff 67px,#0010ff 68px,#0000ff 69px,#0000ef 70px,#0000cf 71px,#0000af 73px,#00008f 74px,#00008f 75px,#00009f 76px,#0000bf 77px,#0000cf 78px,#0000ef 79px,#0000ff 80px,#0066ff 84px,#00fdff 90px,#f7ff08 100px,#ffef00 101px,#ff6f00 107px,#ff1a00 112px,#fe0000 114px,#d50000 118px,#bf0000 122px,#be0000 126px,#d20000 130px,#f90000 134px,#ff0700 135px,#ff5500 140px,#ffb900 145px,#fffd00 148px,#55ffaa 155px,#09fff6 158px,#00eeff 159px,#0010ff 168px,#0000ef 169px,#0000df 170px,#0000bf 171px,#00008f 174px,#00009f 175px,#0000bf 176px,#0000df 178px,#0000ff 179px,#0049ff 183px,#00ebff 192px,#00fcff 193px,#9fff60 204px,#feff01 212px,#ffb600 220px,#ff8200 228px,#ff6000 237px,#ff5400"></i><i style="--g:#ff6800,#ff6f00 10px,#ff8a00 19px,#ffb800 27px,#fff400 34px,#ffff00 35px,#acff53 42px,#36ffc9 50px,#04fffb 53px,#00e1ff 55px,#0000ff 67px,#0000df 68px,#0000bf 70px,#00009f 71px,#00008f 72px,#00008f 73px,#0000af 74px,#0000bf 75px,#0000df 76px,#0000ff 78px,#001fff 79px,#00f9ff 88px,#13ffec 89px,#edff12 98px,#fffa00 99px,#ff7800 105px,#ff1e00 110px,#ff0000 112px,#cf0000 116px,#b10000 120px,#a60000 124px,#af0000 128px,#cb0000 132px,#fa0000 136px,#ff0900 137px,#ff5d00 142px,#ffda00 148px,#fff100 149px,#f6ff09 150px,#04fffb 160px,#0088ff 165px,#0010ff 170px,#0000ff 171px,#0000df 172px,#0000cf 173px,#0000af 174px,#00008f 176px,#0000af 178px,#0000cf 179px,#0000ff 182px,#001cff 183px,#00c8ff 192px,#00fcff 195px,#99ff66 205px,#f0ff0f 212px,#fbff04 213px,#ffdb00 217px,#ffa600 224px,#ff8000 232px,#ff6b00 241px,#ff6800"></i><i style="--g:#ff8200,#ff8900 11px,#ffa200 20px,#ffc900 27px,#fffb00 33px,#efff10 35px,#99ff66 42px,#2dffd2 49px,#0bfff4 51px,#00f9ff 52px,#004eff 61px,#0010ff 64px,#0000ff 65px,#0000df 66px,#0000bf 68px,#00009f 69px,#00008f 70px,#00008f 71px,#0000af 72px,#0000bf 73px,#0000df 74px,#0000ff 76px,#001eff 77px,#00f2ff 86px,#0bfff4 87px,#f7ff08 97px,#fff100 98px,#ff5f00 105px,#ff0900 110px,#f90000 111px,#be0000 116px,#a10000 120px,#970000 124px,#9f0000 128px,#ba0000 132px,#ff0300 138px,#ff5700 143px,#ffd200 149px,#fffe00 151px,#14ffeb 161px,#00fbff 162px,#0010ff 172px,#0000ff 173px,#0000df 174px,#0000cf 175px,#0000af 176px,#00008f 178px,#0000af 180px,#0000cf 181px,#0000ef 183px,#0010ff 184px,#001dff 185px,#00cdff 194px,#00f2ff 196px,#04fffb 197px,#85ff7a 205px,#dfff20 212px,#ffff00 215px,#ffc500 222px,#ffa000 229px,#ff8800 238px,#ff8200"></i><i style="--g:#ffa000,#ffa900 13px,#ffbe00 21px,#ffe400 28px,#fffc00 31px,#e7ff18 34px,#a1ff5e 40px,#39ffc6 47px,#06fff9 50px,#00f3ff 51px,#0044ff 60px,#001aff 62px,#0000ff 63px,#0000df 65px,#0000bf 66px,#00008f 69px,#00009f 70px,#0000bf 71px,#0000df 73px,#0000ff 74px,#0010ff 75px,#0044ff 77px,#00feff 85px,#fcff03 96px,#ff7200 103px,#ff1a00 108px,#fb0000 110px,#bf0000 115px,#a00000 119px,#920000 123px,#950000 127px,#aa0000 131px,#db0000 136px,#f50000 138px,#ff0500 139px,#ff5800 144px,#ffe400 151px,#fffa00 152px,#d8ff27 154px,#08fff7 163px,#00f0ff 164px,#001fff 173px,#0000ff 174px,#0000df 176px,#0000bf 177px,#0000af 178px,#00008f 179px,#00008f 180px,#00009f 181px,#0000bf 182px,#0000df 184px,#0000ff 185px,#0010ff 186px,#00a0ff 193px,#00feff 198px,#80ff7f 206px,#cdff32 212px,#ffff00 217px,#ffce00 224px,#ffb000 232px,#ffa100 243px,#ffa100"></i><i style="--g:#ffc300,#ffcb00 11px,#ffe500 20px,#ffff00 25px,#c9ff36 32px,#7eff81 39px,#1dffe2 46px,#00fdff 48px,#0071ff 56px,#0000ff 62px,#0000ef 63px,#0000cf 64px,#0000af 66px,#00008f 67px,#00008f 68px,#00009f 69px,#0000bf 70px,#0000df 72px,#0000ff 73px,#0023ff 75px,#00fdff 85px,#f9ff06 97px,#fff200 98px,#ff7700 105px,#ff3000 110px,#ff0400 114px,#eb0000 117px,#d50000 122px,#d70000 127px,#f00000 132px,#ff0100 134px,#ff3800 139px,#ff9100 145px,#fffe00 151px,#5dffa2 159px,#07fff8 163px,#00f0ff 164px,#002cff 173px,#0010ff 174px,#0000ff 175px,#0000ef 176px,#0000cf 177px,#0000af 179px,#00008f 180px,#00008f 181px,#00009f 182px,#0000bf 183px,#0000ef 186px,#0010ff 187px,#001dff 188px,#00c4ff 197px,#00f6ff 200px,#07fff8 201px,#6cff93 208px,#bcff43 215px,#f6ff09 222px,#fffc00 224px,#ffd800 232px,#ffc500 242px,#ffc300"></i><i style="--g:#ffdd00,#ffe500 10px,#feff01 19px,#d0ff2f 27px,#93ff6c 34px,#43ffbc 41px,#00feff 46px,#007eff 54px,#0000ff 61px,#0000df 63px,#0000bf 64px,#00008f 67px,#00008f 68px,#0000af 69px,#0000cf 71px,#0000ef 72px,#0000ff 73px,#0025ff 75px,#00f0ff 85px,#06fff9 86px,#c5ff3a 96px,#f9ff06 99px,#ffe400 101px,#ff8d00 107px,#ff4b00 113px,#ff2800 118px,#ff1800 123px,#ff1e00 128px,#ff3700 133px,#ff6400 138px,#ffb000 144px,#fffe00 149px,#70ff8f 157px,#0efff1 162px,#00f8ff 163px,#0019ff 174px,#0000ff 175px,#0000df 177px,#0000bf 178px,#00008f 181px,#00008f 182px,#0000af 183px,#0000df 186px,#0000ff 187px,#0030ff 190px,#00caff 199px,#00f8ff 202px,#07fff8 203px,#63ff9c 210px,#acff53 217px,#e1ff1e 224px,#fffe00 230px,#ffe400 239px,#ffdd00"></i><i style="--g:#fff800,#fdff02 10px,#dfff20 19px,#b0ff4f 27px,#69ff96 35px,#00fdff 44px,#0078ff 53px,#0000ff 60px,#0000bf 64px,#00009f 65px,#00008f 66px,#00008f 67px,#0000bf 70px,#0000df 71px,#0000ff 73px,#00f5ff 86px,#09fff6 87px,#b6ff49 97px,#fffd00 102px,#ffb100 108px,#ff7a00 114px,#ff5e00 119px,#ff5400 124px,#ff5d00 129px,#ff7700 134px,#ffad00 140px,#fff700 146px,#f9ff06 147px,#7bff84 155px,#00fdff 162px,#0019ff 174px,#0000ff 175px,#0000bf 179px,#00009f 180px,#00008f 181px,#00008f 182px,#0000cf 186px,#0000ef 187px,#0000ff 188px,#00bfff 200px,#00f8ff 204px,#06fff9 205px,#65ff9a 213px,#adff52 221px,#ddff22 229px,#fcff03 238px,#fff800"></i><i style="--g:#eaff15,#e3ff1c 9px,#c6ff39 18px,#98ff67 26px,#56ffa9 34px,#00fcff 42px,#0082ff 51px,#0025ff 57px,#0000ff 59px,#00008f 66px,#00008f 67px,#00009f 68px,#0000bf 69px,#0000ff 73px,#00f7ff 87px,#09fff6 88px,#97ff68 97px,#f4ff0b 104px,#fffe00 105px,#ffc300 111px,#ff9c00 117px,#ff8c00 123px,#ff9300 129px,#ffb100 135px,#ffe400 141px,#fffa00 143px,#edff12 145px,#80ff7f 153px,#00feff 161px,#0019ff 174px,#0000ff 175px,#00008f 182px,#00008f 183px,#0000af 184px,#0000ff 189px,#00a8ff 200px,#00f7ff 206px,#05fffa 207px,#5bffa4 215px,#9dff62 223px,#c9ff36 231px,#e4ff1b 240px,#eaff15"></i><i style="--g:#ceff31,#c7ff38 9px,#aaff55 18px,#7cff83 26px,#3affc5 34px,#07fff8 39px,#00fbff 40px,#008aff 49px,#0025ff 56px,#0000ff 58px,#00008f 65px,#00008f 66px,#0000ff 73px,#00f6ff 88px,#06fff9 89px,#87ff78 98px,#d9ff26 105px,#ffff00 109px,#ffd600 115px,#ffc000 121px,#ffc000 127px,#ffd400 133px,#fffc00 139px,#ddff22 143px,#8cff73 150px,#00fcff 160px,#0028ff 173px,#0010ff 174px,#0000ff 175px,#00008f 182px,#00008f 183px,#0000ff 190px,#0092ff 200px,#00f6ff 208px,#02fffd 209px,#51ffae 217px,#8dff72 225px,#b8ff47 234px,#cdff32 243px,#ceff31"></i><i style="--g:#b3ff4c,#acff53 9px,#8eff71 18px,#59ffa6 27px,#0dfff2 36px,#03fffc 37px,#00d8ff 41px,#005cff 51px,#0025ff 55px,#0010ff 56px,#0010ff 57px,#0000ff 58px,#00008f 65px,#00008f 66px,#0000ff 73px,#00f3ff 89px,#02fffd 90px,#76ff89 99px,#beff41 106px,#f2ff0d 113px,#fffd00 116px,#ffec00 122px,#ffef00 128px,#ffff00 133px,#d3ff2c 140px,#91ff6e 147px,#30ffcf 155px,#07fff8 158px,#00f8ff 159px,#0024ff 173px,#0000ff 175px,#00008f 182px,#00008f 183px,#0000af 185px,#0000af 186px,#0000ff 191px,#0072ff 199px,#00deff 208px,#00feff 211px,#4fffb0 220px,#87ff78 229px,#a9ff56 238px,#b3ff4c"></i><i style="--g:#98ff67,#91ff6e 9px,#73ff8c 18px,#40ffbf 27px,#00feff 35px,#00a1ff 44px,#0025ff 54px,#0010ff 55px,#0010ff 56px,#0000ff 57px,#00009f 63px,#00009f 64px,#00008f 65px,#00008f 66px,#0000ff 73px,#00edff 90px,#00faff 91px,#14ffeb 93px,#78ff87 102px,#b3ff4c 109px,#d9ff26 116px,#e9ff16 123px,#e1ff1e 130px,#c2ff3d 137px,#8eff71 144px,#3dffc2 152px,#00ffff 157px,#005aff 169px,#0000ff 175px,#0000bf 179px,#0000bf 180px,#00008f 183px,#00008f 184px,#0000ef 190px,#0000ef 191px,#0000ff 192px,#003aff 196px,#00b3ff 206px,#00faff 213px,#0dfff2 215px,#51ffae 224px,#7eff81 233px,#95ff6a 242px,#98ff67"></i><i style="--g:#7eff81,#76ff89 9px,#5affa5 18px,#27ffd8 27px,#02fffd 32px,#00b8ff 40px,#003eff 51px,#0018ff 54px,#0010ff 55px,#0000ff 56px,#0000cf 59px,#0000cf 60px,#00008f 64px,#00008f 65px,#00009f 66px,#00009f 67px,#0000ff 73px,#0000ff 74px,#0031ff 77px,#00dbff 90px,#00feff 93px,#5bffa4 102px,#97ff68 110px,#b8ff47 117px,#c3ff3c 124px,#b9ff46 131px,#9aff65 138px,#5fffa0 146px,#04fffb 155px,#00e0ff 158px,#0010ff 174px,#0000ff 175px,#0000bf 179px,#0000bf 180px,#00008f 183px,#00008f 184px,#0000af 186px,#0000af 187px,#0000ff 192px,#0000ff 193px,#002cff 196px,#00aaff 207px,#00feff 216px,#44ffbb 226px,#6bff94 235px,#7dff82 244px,#7dff82"></i><i style="--g:#64ff9b,#5dffa2 9px,#41ffbe 18px,#10ffef 27px,#02fffd 29px,#00caff 36px,#0068ff 46px,#0010ff 54px,#0000ff 55px,#0000ef 56px,#0000ef 57px,#0000af 61px,#0000af 62px,#00008f 64px,#00008f 65px,#0000af 67px,#0000af 68px,#0000ef 72px,#0000ef 73px,#0000ff 74px,#0051ff 80px,#00dfff 92px,#00ffff 95px,#50ffaf 104px,#82ff7d 112px,#9aff65 119px,#9fff60 126px,#90ff6f 133px,#68ff97 141px,#2affd5 149px,#04fffb 153px,#00e4ff 156px,#0056ff 168px,#0023ff 172px,#0010ff 173px,#0010ff 174px,#0000ff 175px,#0000bf 179px,#0000bf 180px,#00008f 183px,#00008f 185px,#0000cf 189px,#0000cf 190px,#0000ff 193px,#0000ff 194px,#002bff 197px,#00a1ff 208px,#00f7ff 218px,#00feff 219px,#3bffc4 229px,#5affa5 238px,#64ff9b"></i><i style="--g:#4bffb4,#45ffba 9px,#29ffd6 18px,#00ffff 26px,#00b7ff 36px,#004fff 47px,#0010ff 53px,#0000ff 54px,#0000ef 55px,#0000ef 56px,#0000bf 59px,#0000bf 60px,#00008f 63px,#00008f 65px,#0000af 67px,#0000af 68px,#0000df 71px,#0000df 72px,#0000ff 74px,#0010ff 75px,#0054ff 81px,#00d7ff 93px,#00fcff 97px,#49ffb6 107px,#6fff90 115px,#7fff80 123px,#76ff89 131px,#57ffa8 139px,#22ffdd 147px,#01fffe 151px,#00a7ff 160px,#0010ff 173px,#0000ff 174px,#0000ff 175px,#0000bf 179px,#0000bf 180px,#00008f 183px,#00008f 185px,#0000af 187px,#0000af 188px,#0000df 191px,#0000df 192px,#0000ff 194px,#0010ff 195px,#0010ff 196px,#002bff 198px,#0099ff 209px,#00e9ff 219px,#00fdff 222px,#33ffcc 233px,#49ffb6 242px,#4bffb4"></i><i style="--g:#34ffcb,#2dffd2 9px,#13ffec 18px,#01fffe 22px,#00caff 31px,#0071ff 42px,#0010ff 52px,#0000ff 53px,#0000ff 54px,#0000cf 57px,#0000cf 58px,#0000af 60px,#0000af 61px,#00008f 63px,#00008f 65px,#0000af 67px,#0000af 68px,#0000df 71px,#0000df 72px,#0000ff 74px,#0000ff 75px,#0029ff 78px,#00b2ff 91px,#00ffff 100px,#3affc5 109px,#58ffa7 117px,#61ff9e 125px,#53ffac 133px,#31ffce 141px,#03fffc 148px,#00e3ff 152px,#007aff 163px,#0022ff 171px,#0010ff 172px,#0010ff 173px,#0000ff 174px,#0000ef 175px,#0000ef 176px,#0000bf 179px,#0000bf 180px,#00008f 183px,#00008f 185px,#00009f 186px,#00009f 187px,#0000cf 190px,#0000cf 191px,#0000ef 193px,#0000ef 194px,#0000ff 195px,#0010ff 196px,#0010ff 197px,#0029ff 199px,#0099ff 211px,#00e2ff 221px,#00feff 226px,#26ffd9 236px,#34ffcb"></i><i style="--g:#1dffe2,#15ffea 10px,#00fcff 18px,#00caff 28px,#007cff 39px,#0010ff 51px,#0000ff 52px,#0000ff 53px,#0000df 55px,#0000df 56px,#0000bf 58px,#0000bf 59px,#00009f 61px,#00009f 62px,#00008f 63px,#00008f 65px,#0000af 67px,#0000af 68px,#0000cf 70px,#0000cf 71px,#0000ef 73px,#0000ef 74px,#0000ff 75px,#0010ff 76px,#0010ff 77px,#0022ff 78px,#00a2ff 91px,#00f1ff 101px,#00feff 103px,#2dffd2 112px,#42ffbd 120px,#42ffbd 128px,#2effd1 136px,#02fffd 145px,#00c7ff 153px,#005aff 165px,#0010ff 172px,#0000ff 173px,#0000ff 174px,#0000df 176px,#0000df 177px,#0000bf 179px,#0000bf 180px,#00009f 182px,#00009f 183px,#00008f 184px,#00008f 186px,#0000af 188px,#0000af 189px,#0000cf 191px,#0000cf 192px,#0000ef 194px,#0000ef 195px,#0000ff 196px,#0010ff 197px,#0010ff 198px,#0028ff 200px,#0090ff 212px,#00d4ff 222px,#00ffff 231px,#19ffe6 241px,#1dffe2"></i><i style="--g:#07fff8,#00fcff 11px,#00dcff 21px,#00a6ff 31px,#0055ff 42px,#0021ff 48px,#0010ff 49px,#0010ff 50px,#0000ff 51px,#0000ff 52px,#0000ef 53px,#0000ef 54px,#0000cf 56px,#0000cf 57px,#0000af 59px,#0000af 60px,#00009f 61px,#00009f 62px,#00008f 63px,#00008f 65px,#0000af 67px,#0000af 68px,#0000cf 70px,#0000cf 71px,#0000ef 73px,#0000ef 74px,#0000ff 75px,#0000ff 76px,#001bff 78px,#0093ff 91px,#00ddff 101px,#00feff 107px,#20ffdf 116px,#2affd5 125px,#1cffe3 134px,#01fffe 141px,#00d2ff 149px,#007dff 160px,#001fff 170px,#0010ff 171px,#0010ff 172px,#0000ff 173px,#0000ef 174px,#0000ef 175px,#0000df 176px,#0000df 177px,#0000bf 179px,#0000bf 180px,#00009f 182px,#00009f 183px,#00008f 184px,#00008f 186px,#0000af 188px,#0000af 189px,#0000bf 190px,#0000bf 191px,#0000df 193px,#0000df 194px,#0000ef 195px,#0000ef 196px,#0000ff 197px,#0010ff 198px,#0010ff 199px,#002fff 202px,#008fff 214px,#00d0ff 225px,#00f6ff 235px,#04fffb 241px,#07fff8"></i><i style="--g:#00f1ff,#00eaff 10px,#00cdff 20px,#0095ff 31px,#0040ff 43px,#001fff 47px,#0010ff 48px,#0010ff 49px,#0000ff 50px,#0000ff 51px,#0000ef 52px,#0000ef 53px,#0000cf 55px,#0000cf 56px,#0000bf 57px,#0000bf 58px,#0000af 59px,#0000af 60px,#00008f 62px,#00008f 65px,#0000af 67px,#0000af 68px,#0000cf 70px,#0000cf 71px,#0000df 72px,#0000df 73px,#0000ff 75px,#0000ff 76px,#0010ff 77px,#0010ff 78px,#0027ff 80px,#0094ff 93px,#00d5ff 103px,#00fdff 112px,#12ffed 123px,#09fff6 132px,#00fbff 137px,#00ccff 147px,#0080ff 158px,#0010ff 171px,#0000ff 172px,#0000ff 173px,#0000ef 174px,#0000ef 175px,#0000cf 177px,#0000cf 178px,#0000bf 179px,#0000bf 180px,#00009f 182px,#00009f 183px,#00008f 184px,#00008f 186px,#00009f 187px,#00009f 188px,#0000af 189px,#0000af 190px,#0000cf 192px,#0000cf 193px,#0000df 194px,#0000df 195px,#0000ff 197px,#0000ff 198px,#0010ff 199px,#0010ff 200px,#0045ff 206px,#0099ff 218px,#00cfff 229px,#00ebff 239px,#00f1ff"></i><i style="--g:#00ddff,#00d6ff 10px,#00baff 20px,#0085ff 31px,#0035ff 43px,#001dff 46px,#0010ff 47px,#0010ff 48px,#0000ff 49px,#0000ff 50px,#0000ef 51px,#0000ef 52px,#0000df 53px,#0000df 54px,#0000cf 55px,#0000cf 56px,#0000af 58px,#0000af 59px,#00009f 60px,#00009f 61px,#00008f 62px,#00008f 64px,#00009f 65px,#00009f 66px,#0000af 67px,#0000af 68px,#0000bf 69px,#0000bf 70px,#0000df 72px,#0000df 73px,#0000ef 74px,#0000ef 75px,#0000ff 76px,#0000ff 77px,#0010ff 78px,#0010ff 79px,#001fff 80px,#0085ff 93px,#00c7ff 104px,#00edff 114px,#00faff 123px,#00f2ff 132px,#00d2ff 142px,#009cff 152px,#0044ff 164px,#0010ff 170px,#0010ff 171px,#0000ff 172px,#0000ef 173px,#0000ef 174px,#0000df 175px,#0000df 176px,#0000cf 177px,#0000cf 178px,#0000af 180px,#0000af 181px,#00009f 182px,#00009f 183px,#00008f 184px,#00008f 186px,#00009f 187px,#00009f 188px,#0000af 189px,#0000af 190px,#0000bf 191px,#0000bf 192px,#0000cf 193px,#0000cf 194px,#0000ef 196px,#0000ef 197px,#0000ff 198px,#0000ff 199px,#0010ff 200px,#0010ff 201px,#005dff 211px,#009eff 222px,#00caff 233px,#00dcff 243px,#00ddff"></i><i style="--g:#00cbff,#00c4ff 10px,#00a5ff 21px,#0071ff 32px,#001bff 45px,#0010ff 46px,#0010ff 47px,#0000ff 48px,#0000ff 49px,#0000ef 50px,#0000ef 51px,#0000df 52px,#0000df 53px,#0000cf 54px,#0000cf 55px,#0000bf 56px,#0000bf 57px,#0000af 58px,#0000af 59px,#00009f 60px,#00009f 61px,#00008f 62px,#00008f 64px,#00009f 65px,#00009f 66px,#0000af 67px,#0000af 68px,#0000bf 69px,#0000bf 70px,#0000cf 71px,#0000cf 72px,#0000df 73px,#0000df 74px,#0000ef 75px,#0000ef 76px,#0000ff 77px,#0000ff 78px,#0010ff 79px,#0010ff 80px,#0020ff 81px,#007eff 94px,#00baff 105px,#00dbff 115px,#00e5ff 125px,#00d7ff 135px,#00b2ff 145px,#0074ff 156px,#001bff 168px,#0010ff 169px,#0010ff 170px,#0000ff 171px,#0000ff 172px,#0000ef 173px,#0000ef 174px,#0000df 175px,#0000df 176px,#0000bf 178px,#0000bf 179px,#0000af 180px,#0000af 181px,#00009f 182px,#00009f 183px,#00008f 184px,#00008f 187px,#00009f 188px,#00009f 189px,#0000bf 191px,#0000bf 192px,#0000cf 193px,#0000cf 194px,#0000df 195px,#0000df 196px,#0000ef 197px,#0000ef 198px,#0000ff 199px,#0000ff 200px,#0010ff 201px,#0010ff 202px,#0063ff 214px,#00a0ff 226px,#00c1ff 237px,#00caff"></i><i style="--g:#00b9ff,#00b0ff 11px,#0091ff 22px,#0058ff 34px,#0010ff 45px,#0010ff 46px,#0000ff 47px,#0000ff 48px,#0000ef 49px,#0000ef 50px,#0000df 51px,#0000df 52px,#0000cf 53px,#0000cf 54px,#0000bf 55px,#0000bf 56px,#0000af 57px,#0000af 58px,#00009f 59px,#00009f 60px,#00008f 61px,#00008f 64px,#00009f 65px,#00009f 66px,#0000af 67px,#0000af 68px,#0000bf 69px,#0000bf 70px,#0000cf 71px,#0000cf 72px,#0000df 73px,#0000df 74px,#0000ef 75px,#0000ef 76px,#0000ff 77px,#0000ff 78px,#0010ff 79px,#0010ff 80px,#006bff 93px,#00a4ff 104px,#00c5ff 114px,#00d1ff 124px,#00c6ff 134px,#00a6ff 144px,#006dff 155px,#001bff 167px,#0010ff 168px,#0010ff 169px,#0000ff 170px,#0000ff 171px,#0000ef 172px,#0000ef 173px,#0000df 174px,#0000df 175px,#0000cf 176px,#0000cf 177px,#0000bf 178px,#0000bf 179px,#0000af 180px,#0000af 181px,#00009f 182px,#00009f 183px,#00008f 184px,#00008f 187px,#00009f 188px,#00009f 189px,#0000af 190px,#0000af 191px,#0000bf 192px,#0000bf 193px,#0000cf 194px,#0000cf 195px,#0000df 196px,#0000df 197px,#0000ef 198px,#0000ef 199px,#0000ff 200px,#0000ff 202px,#0010ff 203px,#0010ff 204px,#001dff 205px,#006cff 218px,#009eff 230px,#00b5ff 241px,#00b8ff"></i><i style="--g:#00a7ff,#009fff 11px,#0082ff 22px,#004cff 34px,#001dff 42px,#0010ff 43px,#0010ff 45px,#0000ff 46px,#0000ff 47px,#0000ef 48px,#0000ef 49px,#0000df 50px,#0000df 52px,#0000cf 53px,#0000cf 54px,#0000bf 55px,#0000bf 56px,#0000af 57px,#0000af 58px,#00009f 59px,#00009f 60px,#00008f 61px,#00008f 64px,#00009f 65px,#00009f 66px,#0000af 67px,#0000af 68px,#0000bf 69px,#0000bf 71px,#0000cf 72px,#0000cf 73px,#0000df 74px,#0000df 75px,#0000ef 76px,#0000ef 77px,#0000ff 78px,#0000ff 79px,#0010ff 80px,#0010ff 81px,#0064ff 94px,#009cff 106px,#00b9ff 117px,#00bdff 127px,#00adff 137px,#0085ff 148px,#003cff 161px,#001bff 166px,#0010ff 167px,#0010ff 168px,#0000ff 169px,#0000ff 170px,#0000ef 171px,#0000ef 173px,#0000df 174px,#0000df 175px,#0000cf 176px,#0000cf 177px,#0000bf 178px,#0000bf 179px,#0000af 180px,#0000af 181px,#00009f 182px,#00009f 183px,#00008f 184px,#00008f 187px,#00009f 188px,#00009f 189px,#0000af 190px,#0000af 192px,#0000bf 193px,#0000bf 194px,#0000cf 195px,#0000cf 196px,#0000df 197px,#0000df 198px,#0000ef 199px,#0000ef 200px,#0000ff 201px,#0000ff 203px,#0010ff 204px,#0010ff 205px,#002dff 209px,#0071ff 222px,#0099ff 234px,#00a7ff"></i><i style="--g:#0097ff,#0090ff 11px,#0070ff 23px,#0036ff 36px,#0019ff 41px,#0010ff 42px,#0010ff 43px,#0000ff 44px,#0000ff 46px,#0000ef 47px,#0000ef 48px,#0000df 49px,#0000df 51px,#0000cf 52px,#0000cf 53px,#0000bf 54px,#0000bf 55px,#0000af 56px,#0000af 58px,#00009f 59px,#00009f 60px,#00008f 61px,#00008f 64px,#00009f 65px,#00009f 66px,#0000af 67px,#0000af 69px,#0000bf 70px,#0000bf 71px,#0000cf 72px,#0000cf 73px,#0000df 74px,#0000df 75px,#0000ef 76px,#0000ef 78px,#0000ff 79px,#0000ff 80px,#0010ff 81px,#0010ff 83px,#001eff 84px,#006cff 98px,#0099ff 110px,#00acff 121px,#00a7ff 132px,#008bff 143px,#0055ff 155px,#001aff 165px,#0010ff 166px,#0010ff 167px,#0000ff 168px,#0000ff 170px,#0000ef 171px,#0000ef 172px,#0000df 173px,#0000df 174px,#0000cf 175px,#0000cf 176px,#0000bf 177px,#0000bf 179px,#0000af 180px,#0000af 181px,#00009f 182px,#00009f 183px,#00008f 184px,#00008f 188px,#00009f 189px,#00009f 190px,#0000af 191px,#0000af 192px,#0000bf 193px,#0000bf 194px,#0000cf 195px,#0000cf 197px,#0000df 198px,#0000df 199px,#0000ef 200px,#0000ef 201px,#0000ff 202px,#0000ff 204px,#0010ff 205px,#0010ff 207px,#001dff 208px,#005fff 221px,#0087ff 233px,#0097ff 244px,#0097ff"></i><i style="--g:#0088ff,#007fff 12px,#005fff 24px,#0026ff 37px,#001bff 39px,#0010ff 40px,#0010ff 42px,#0000ff 43px,#0000ff 45px,#0000ef 46px,#0000ef 47px,#0000df 48px,#0000df 50px,#0000cf 51px,#0000cf 52px,#0000bf 53px,#0000bf 55px,#0000af 56px,#0000af 57px,#00009f 58px,#00009f 60px,#00008f 61px,#00008f 64px,#00009f 65px,#00009f 67px,#0000af 68px,#0000af 69px,#0000bf 70px,#0000bf 71px,#0000cf 72px,#0000cf 74px,#0000df 75px,#0000df 76px,#0000ef 77px,#0000ef 79px,#0000ff 80px,#0000ff 81px,#0010ff 82px,#0010ff 84px,#001cff 85px,#0064ff 99px,#008cff 111px,#009cff 122px,#0095ff 133px,#0079ff 144px,#0040ff 157px,#0010ff 165px,#0010ff 166px,#0000ff 167px,#0000ff 169px,#0000ef 170px,#0000ef 171px,#0000df 172px,#0000df 174px,#0000cf 175px,#0000cf 176px,#0000bf 177px,#0000bf 178px,#0000af 179px,#0000af 181px,#00009f 182px,#00009f 183px,#00008f 184px,#00008f 188px,#00009f 189px,#00009f 190px,#0000af 191px,#0000af 193px,#0000bf 194px,#0000bf 195px,#0000cf 196px,#0000cf 198px,#0000df 199px,#0000df 200px,#0000ef 201px,#0000ef 203px,#0000ff 204px,#0000ff 205px,#0010ff 206px,#0010ff 208px,#0024ff 211px,#005eff 224px,#007eff 236px,#0088ff"></i><i style="--g:#0079ff,#0071ff 12px,#0053ff 24px,#001cff 37px,#0010ff 38px,#0010ff 41px,#0000ff 42px,#0000ff 43px,#0000ef 44px,#0000ef 46px,#0000df 47px,#0000df 49px,#0000cf 50px,#0000cf 52px,#0000bf 53px,#0000bf 54px,#0000af 55px,#0000af 57px,#00009f 58px,#00009f 59px,#00008f 60px,#00008f 64px,#00009f 65px,#00009f 67px,#0000af 68px,#0000af 69px,#0000bf 70px,#0000bf 72px,#0000cf 73px,#0000cf 74px,#0000df 75px,#0000df 77px,#0000ef 78px,#0000ef 80px,#0000ff 81px,#0000ff 82px,#0010ff 83px,#0010ff 85px,#001fff 87px,#0060ff 101px,#0082ff 113px,#008dff 124px,#0083ff 135px,#0061ff 147px,#0022ff 161px,#001cff 162px,#0010ff 163px,#0010ff 165px,#0000ff 166px,#0000ff 168px,#0000ef 169px,#0000ef 171px,#0000df 172px,#0000df 173px,#0000cf 174px,#0000cf 176px,#0000bf 177px,#0000bf 178px,#0000af 179px,#0000af 181px,#00009f 182px,#00009f 183px,#00008f 184px,#00008f 188px,#00009f 189px,#00009f 191px,#0000af 192px,#0000af 193px,#0000bf 194px,#0000bf 196px,#0000cf 197px,#0000cf 198px,#0000df 199px,#0000df 201px,#0000ef 202px,#0000ef 204px,#0000ff 205px,#0000ff 207px,#0010ff 208px,#0010ff 210px,#001fff 212px,#0055ff 225px,#0072ff 237px,#0079ff"></i><i style="--g:#006bff,#0063ff 12px,#0044ff 25px,#0018ff 36px,#0010ff 37px,#0010ff 39px,#0000ff 40px,#0000ff 42px,#0000ef 43px,#0000ef 45px,#0000df 46px,#0000df 48px,#0000cf 49px,#0000cf 51px,#0000bf 52px,#0000bf 54px,#0000af 55px,#0000af 56px,#00009f 57px,#00009f 59px,#00008f 60px,#00008f 64px,#00009f 65px,#00009f 67px,#0000af 68px,#0000af 70px,#0000bf 71px,#0000bf 72px,#0000cf 73px,#0000cf 75px,#0000df 76px,#0000df 78px,#0000ef 79px,#0000ef 81px,#0000ff 82px,#0000ff 83px,#0010ff 84px,#0010ff 87px,#001dff 88px,#0058ff 102px,#0076ff 114px,#007eff 126px,#006fff 138px,#0047ff 151px,#001aff 161px,#0010ff 162px,#0010ff 164px,#0000ff 165px,#0000ff 167px,#0000ef 168px,#0000ef 170px,#0000df 171px,#0000df 172px,#0000cf 173px,#0000cf 175px,#0000bf 176px,#0000bf 178px,#0000af 179px,#0000af 181px,#00009f 182px,#00009f 183px,#00008f 184px,#00008f 188px,#00009f 189px,#00009f 191px,#0000af 192px,#0000af 194px,#0000bf 195px,#0000bf 197px,#0000cf 198px,#0000cf 199px,#0000df 200px,#0000df 202px,#0000ef 203px,#0000ef 205px,#0000ff 206px,#0000ff 208px,#0010ff 209px,#0010ff 212px,#001bff 213px,#004fff 227px,#0068ff 240px,#006bff"></i><i style="--g:#005eff,#0055ff 13px,#0035ff 26px,#001cff 33px,#0010ff 34px,#0010ff 37px,#0000ff 38px,#0000ff 41px,#0000ef 42px,#0000ef 44px,#0000df 45px,#0000df 47px,#0000cf 48px,#0000cf 50px,#0000bf 51px,#0000bf 53px,#0000af 54px,#0000af 56px,#00009f 57px,#00009f 59px,#00008f 60px,#00008f 64px,#00009f 65px,#00009f 67px,#0000af 68px,#0000af 70px,#0000bf 71px,#0000bf 73px,#0000cf 74px,#0000cf 76px,#0000df 77px,#0000df 79px,#0000ef 80px,#0000ef 82px,#0000ff 83px,#0000ff 85px,#0010ff 86px,#0010ff 88px,#001eff 90px,#0052ff 104px,#006dff 117px,#006fff 129px,#005cff 141px,#002dff 155px,#001bff 159px,#0010ff 160px,#0010ff 163px,#0000ff 164px,#0000ff 166px,#0000ef 167px,#0000ef 169px,#0000df 170px,#0000df 172px,#0000cf 173px,#0000cf 175px,#0000bf 176px,#0000bf 178px,#0000af 179px,#0000af 180px,#00009f 181px,#00009f 183px,#00008f 184px,#00008f 189px,#00009f 190px,#00009f 192px,#0000af 193px,#0000af 194px,#0000bf 195px,#0000bf 197px,#0000cf 198px,#0000cf 200px,#0000df 201px,#0000df 204px,#0000ef 205px,#0000ef 207px,#0000ff 208px,#0000ff 210px,#0010ff 211px,#0010ff 214px,#001aff 215px,#0048ff 229px,#005dff 242px,#005eff"></i><i style="--g:#0052ff,#0049ff 13px,#0028ff 27px,#001aff 31px,#0010ff 32px,#0010ff 35px,#0000ff 36px,#0000ff 39px,#0000ef 40px,#0000ef 43px,#0000df 44px,#0000df 46px,#0000cf 47px,#0000cf 49px,#0000bf 50px,#0000bf 52px,#0000af 53px,#0000af 55px,#00009f 56px,#00009f 58px,#00008f 59px,#00008f 64px,#00009f 65px,#00009f 67px,#0000af 68px,#0000af 70px,#0000bf 71px,#0000bf 73px,#0000cf 74px,#0000cf 76px,#0000df 77px,#0000df 80px,#0000ef 81px,#0000ef 83px,#0000ff 84px,#0000ff 86px,#0010ff 87px,#0010ff 90px,#001aff 91px,#004aff 105px,#0061ff 118px,#0060ff 131px,#0048ff 144px,#001cff 157px,#0010ff 158px,#0010ff 161px,#0000ff 162px,#0000ff 165px,#0000ef 166px,#0000ef 168px,#0000df 169px,#0000df 171px,#0000cf 172px,#0000cf 174px,#0000bf 175px,#0000bf 177px,#0000af 178px,#0000af 180px,#00009f 181px,#00009f 183px,#00008f 184px,#00008f 189px,#00009f 190px,#00009f 192px,#0000af 193px,#0000af 195px,#0000bf 196px,#0000bf 198px,#0000cf 199px,#0000cf 201px,#0000df 202px,#0000df 205px,#0000ef 206px,#0000ef 208px,#0000ff 209px,#0000ff 212px,#0010ff 213px,#0010ff 216px,#001cff 218px,#0043ff 232px,#0052ff"></i><i style="--g:#0046ff,#003eff 13px,#001eff 27px,#0018ff 29px,#0010ff 30px,#0010ff 33px,#0000ff 34px,#0000ff 37px,#0000ef 38px,#0000ef 41px,#0000df 42px,#0000df 45px,#0000cf 46px,#0000cf 48px,#0000bf 49px,#0000bf 52px,#0000af 53px,#0000af 55px,#00009f 56px,#00009f 58px,#00008f 59px,#00008f 64px,#00009f 65px,#00009f 67px,#0000af 68px,#0000af 71px,#0000bf 72px,#0000bf 74px,#0000cf 75px,#0000cf 77px,#0000df 78px,#0000df 81px,#0000ef 82px,#0000ef 84px,#0000ff 85px,#0000ff 88px,#0010ff 89px,#0010ff 92px,#001aff 93px,#0044ff 107px,#0057ff 120px,#0053ff 133px,#0036ff 147px,#0018ff 156px,#0010ff 157px,#0010ff 160px,#0000ff 161px,#0000ff 163px,#0000ef 164px,#0000ef 167px,#0000df 168px,#0000df 170px,#0000cf 171px,#0000cf 174px,#0000bf 175px,#0000bf 177px,#0000af 178px,#0000af 180px,#00009f 181px,#00009f 183px,#00008f 184px,#00008f 189px,#00009f 190px,#00009f 193px,#0000af 194px,#0000af 196px,#0000bf 197px,#0000bf 199px,#0000cf 200px,#0000cf 203px,#0000df 204px,#0000df 206px,#0000ef 207px,#0000ef 210px,#0000ff 211px,#0000ff 214px,#0010ff 215px,#0010ff 219px,#001aff 220px,#003cff 234px,#0046ff"></i><i style="--g:#003bff,#0032ff 14px,#0018ff 26px,#0010ff 27px,#0010ff 31px,#0000ff 32px,#0000ff 35px,#0000ef 36px,#0000ef 40px,#0000df 41px,#0000df 44px,#0000cf 45px,#0000cf 47px,#0000bf 48px,#0000bf 51px,#0000af 52px,#0000af 54px,#00009f 55px,#00009f 58px,#00008f 59px,#00008f 64px,#00009f 65px,#00009f 68px,#0000af 69px,#0000af 71px,#0000bf 72px,#0000bf 74px,#0000cf 75px,#0000cf 78px,#0000df 79px,#0000df 82px,#0000ef 83px,#0000ef 85px,#0000ff 86px,#0000ff 90px,#0010ff 91px,#0010ff 94px,#0019ff 95px,#0040ff 110px,#004cff 123px,#0044ff 136px,#0024ff 150px,#001bff 153px,#0010ff 154px,#0010ff 158px,#0000ff 159px,#0000ff 162px,#0000ef 163px,#0000ef 166px,#0000df 167px,#0000df 169px,#0000cf 170px,#0000cf 173px,#0000bf 174px,#0000bf 176px,#0000af 177px,#0000af 180px,#00009f 181px,#00009f 183px,#00008f 184px,#00008f 190px,#00009f 191px,#00009f 193px,#0000af 194px,#0000af 197px,#0000bf 198px,#0000bf 200px,#0000cf 201px,#0000cf 204px,#0000df 205px,#0000df 208px,#0000ef 209px,#0000ef 212px,#0000ff 213px,#0000ff 217px,#0010ff 218px,#0010ff 222px,#001aff 223px,#0035ff 237px,#003bff"></i><i style="--g:#0030ff,#0028ff 14px,#0019ff 22px,#0010ff 23px,#0010ff 28px,#0000ff 29px,#0000ff 33px,#0000ef 34px,#0000ef 38px,#0000df 39px,#0000df 42px,#0000cf 43px,#0000cf 46px,#0000bf 47px,#0000bf 50px,#0000af 51px,#0000af 54px,#00009f 55px,#00009f 57px,#00008f 58px,#00008f 64px,#00009f 65px,#00009f 68px,#0000af 69px,#0000af 72px,#0000bf 73px,#0000bf 75px,#0000cf 76px,#0000cf 79px,#0000df 80px,#0000df 83px,#0000ef 84px,#0000ef 87px,#0000ff 88px,#0000ff 91px,#0010ff 92px,#0010ff 97px,#001bff 98px,#003aff 113px,#0041ff 127px,#0031ff 141px,#0019ff 151px,#0010ff 152px,#0010ff 156px,#0000ff 157px,#0000ff 160px,#0000ef 161px,#0000ef 165px,#0000df 166px,#0000df 168px,#0000cf 169px,#0000cf 172px,#0000bf 173px,#0000bf 176px,#0000af 177px,#0000af 179px,#00009f 180px,#00009f 183px,#00008f 184px,#00008f 190px,#00009f 191px,#00009f 194px,#0000af 195px,#0000af 197px,#0000bf 198px,#0000bf 201px,#0000cf 202px,#0000cf 205px,#0000df 206px,#0000df 209px,#0000ef 210px,#0000ef 214px,#0000ff 215px,#0000ff 219px,#0010ff 220px,#0010ff 225px,#0018ff 226px,#002eff 241px,#0030ff"></i><i style="--g:#0026ff,#001dff 15px,#0010ff 20px,#0010ff 25px,#0000ff 26px,#0000ff 31px,#0000ef 32px,#0000ef 36px,#0000df 37px,#0000df 41px,#0000cf 42px,#0000cf 45px,#0000bf 46px,#0000bf 49px,#0000af 50px,#0000af 53px,#00009f 54px,#00009f 57px,#00008f 58px,#00008f 64px,#00009f 65px,#00009f 68px,#0000af 69px,#0000af 72px,#0000bf 73px,#0000bf 76px,#0000cf 77px,#0000cf 80px,#0000df 81px,#0000df 84px,#0000ef 85px,#0000ef 89px,#0000ff 90px,#0000ff 94px,#0010ff 95px,#0010ff 99px,#001bff 101px,#0034ff 116px,#0036ff 130px,#0020ff 145px,#0019ff 148px,#0010ff 149px,#0010ff 154px,#0000ff 155px,#0000ff 159px,#0000ef 160px,#0000ef 163px,#0000df 164px,#0000df 167px,#0000cf 168px,#0000cf 172px,#0000bf 173px,#0000bf 175px,#0000af 176px,#0000af 179px,#00009f 180px,#00009f 183px,#00008f 184px,#00008f 190px,#00009f 191px,#00009f 194px,#0000af 195px,#0000af 198px,#0000bf 199px,#0000bf 202px,#0000cf 203px,#0000cf 207px,#0000df 208px,#0000df 211px,#0000ef 212px,#0000ef 216px,#0000ff 217px,#0000ff 222px,#0010ff 223px,#0010ff 230px,#0019ff 231px,#0026ff"></i><i style="--g:#001dff,#0018ff 11px,#0010ff 12px,#0010ff 22px,#0000ff 23px,#0000ff 29px,#0000ef 30px,#0000ef 34px,#0000df 35px,#0000df 39px,#0000cf 40px,#0000cf 44px,#0000bf 45px,#0000bf 48px,#0000af 49px,#0000af 53px,#00009f 54px,#00009f 57px,#00008f 58px,#00008f 65px,#00009f 66px,#00009f 68px,#0000af 69px,#0000af 73px,#0000bf 74px,#0000bf 77px,#0000cf 78px,#0000cf 81px,#0000df 82px,#0000df 86px,#0000ef 87px,#0000ef 90px,#0000ff 91px,#0000ff 96px,#0010ff 97px,#0010ff 103px,#0019ff 104px,#002dff 119px,#0029ff 134px,#0018ff 145px,#0010ff 146px,#0010ff 151px,#0000ff 152px,#0000ff 157px,#0000ef 158px,#0000ef 162px,#0000df 163px,#0000df 166px,#0000cf 167px,#0000cf 171px,#0000bf 172px,#0000bf 175px,#0000af 176px,#0000af 179px,#00009f 180px,#00009f 183px,#00008f 184px,#00008f 191px,#00009f 192px,#00009f 195px,#0000af 196px,#0000af 199px,#0000bf 200px,#0000bf 203px,#0000cf 204px,#0000cf 208px,#0000df 209px,#0000df 213px,#0000ef 214px,#0000ef 219px,#0000ff 220px,#0000ff 226px,#0010ff 227px,#0010ff 236px,#0018ff 237px,#001dff"></i><i style="--g:#0010ff,#0010ff 17px,#0000ff 18px,#0000ff 26px,#0000ef 27px,#0000ef 32px,#0000df 33px,#0000df 38px,#0000cf 39px,#0000cf 43px,#0000bf 44px,#0000bf 47px,#0000af 48px,#0000af 52px,#00009f 53px,#00009f 56px,#00008f 57px,#00008f 65px,#00009f 66px,#00009f 69px,#0000af 70px,#0000af 73px,#0000bf 74px,#0000bf 78px,#0000cf 79px,#0000cf 82px,#0000df 83px,#0000df 87px,#0000ef 88px,#0000ef 93px,#0000ff 94px,#0000ff 99px,#0010ff 100px,#0010ff 107px,#0019ff 108px,#0025ff 123px,#001cff 138px,#0019ff 140px,#0010ff 141px,#0010ff 149px,#0000ff 150px,#0000ff 155px,#0000ef 156px,#0000ef 160px,#0000df 161px,#0000df 165px,#0000cf 166px,#0000cf 170px,#0000bf 171px,#0000bf 174px,#0000af 175px,#0000af 179px,#00009f 180px,#00009f 183px,#00008f 184px,#00008f 191px,#00009f 192px,#00009f 196px,#0000af 197px,#0000af 200px,#0000bf 201px,#0000bf 205px,#0000cf 206px,#0000cf 210px,#0000df 211px,#0000df 215px,#0000ef 216px,#0000ef 222px,#0000ff 223px,#0000ff 230px,#0010ff 231px,#0010ff"></i><i style="--g:#0010ff,#0010ff 10px,#0000ff 11px,#0000ff 22px,#0000ef 23px,#0000ef 30px,#0000df 31px,#0000df 36px,#0000cf 37px,#0000cf 41px,#0000bf 42px,#0000bf 46px,#0000af 47px,#0000af 51px,#00009f 52px,#00009f 56px,#00008f 57px,#00008f 65px,#00009f 66px,#00009f 69px,#0000af 70px,#0000af 74px,#0000bf 75px,#0000bf 78px,#0000cf 79px,#0000cf 83px,#0000df 84px,#0000df 89px,#0000ef 90px,#0000ef 95px,#0000ff 96px,#0000ff 102px,#0010ff 103px,#0010ff 113px,#0018ff 114px,#001bff 130px,#0019ff 134px,#0010ff 135px,#0010ff 145px,#0000ff 146px,#0000ff 153px,#0000ef 154px,#0000ef 159px,#0000df 160px,#0000df 164px,#0000cf 165px,#0000cf 169px,#0000bf 170px,#0000bf 174px,#0000af 175px,#0000af 178px,#00009f 179px,#00009f 183px,#00008f 184px,#00008f 192px,#00009f 193px,#00009f 196px,#0000af 197px,#0000af 201px,#0000bf 202px,#0000bf 206px,#0000cf 207px,#0000cf 212px,#0000df 213px,#0000df 218px,#0000ef 219px,#0000ef 225px,#0000ff 226px,#0000ff 237px,#0010ff 238px,#0010ff"></i><i style="--g:#0000ff,#0000ff 18px,#0000ef 19px,#0000ef 27px,#0000df 28px,#0000df 34px,#0000cf 35px,#0000cf 40px,#0000bf 41px,#0000bf 45px,#0000af 46px,#0000af 50px,#00009f 51px,#00009f 55px,#00008f 56px,#00008f 65px,#00009f 66px,#00009f 69px,#0000af 70px,#0000af 74px,#0000bf 75px,#0000bf 79px,#0000cf 80px,#0000cf 85px,#0000df 86px,#0000df 91px,#0000ef 92px,#0000ef 97px,#0000ff 98px,#0000ff 106px,#0010ff 107px,#0010ff 141px,#0000ff 142px,#0000ff 150px,#0000ef 151px,#0000ef 157px,#0000df 158px,#0000df 163px,#0000cf 164px,#0000cf 168px,#0000bf 169px,#0000bf 173px,#0000af 174px,#0000af 178px,#00009f 179px,#00009f 183px,#00008f 184px,#00008f 192px,#00009f 193px,#00009f 197px,#0000af 198px,#0000af 202px,#0000bf 203px,#0000bf 208px,#0000cf 209px,#0000cf 214px,#0000df 215px,#0000df 221px,#0000ef 222px,#0000ef 230px,#0000ff 231px,#0000ff"></i><i style="--g:#0000ff,#0000ff 11px,#0000ef 12px,#0000ef 24px,#0000df 25px,#0000df 32px,#0000cf 33px,#0000cf 38px,#0000bf 39px,#0000bf 44px,#0000af 45px,#0000af 50px,#00009f 51px,#00009f 55px,#00008f 56px,#00008f 65px,#00009f 66px,#00009f 70px,#0000af 71px,#0000af 75px,#0000bf 76px,#0000bf 80px,#0000cf 81px,#0000cf 86px,#0000df 87px,#0000df 93px,#0000ef 94px,#0000ef 100px,#0000ff 101px,#0000ff 112px,#0010ff 113px,#0010ff 136px,#0000ff 137px,#0000ff 147px,#0000ef 148px,#0000ef 155px,#0000df 156px,#0000df 161px,#0000cf 162px,#0000cf 167px,#0000bf 168px,#0000bf 172px,#0000af 173px,#0000af 178px,#00009f 179px,#00009f 183px,#00008f 184px,#00008f 193px,#00009f 194px,#00009f 198px,#0000af 199px,#0000af 203px,#0000bf 204px,#0000bf 209px,#0000cf 210px,#0000cf 216px,#0000df 217px,#0000df 224px,#0000ef 225px,#0000ef 236px,#0000ff 237px,#0000ff"></i><i style="--g:#0000ef,#0000ef 20px,#0000df 21px,#0000df 29px,#0000cf 30px,#0000cf 36px,#0000bf 37px,#0000bf 43px,#0000af 44px,#0000af 49px,#00009f 50px,#00009f 54px,#00008f 55px,#00008f 65px,#00009f 66px,#00009f 70px,#0000af 71px,#0000af 76px,#0000bf 77px,#0000bf 82px,#0000cf 83px,#0000cf 88px,#0000df 89px,#0000df 95px,#0000ef 96px,#0000ef 104px,#0000ff 105px,#0000ff 143px,#0000ef 144px,#0000ef 152px,#0000df 153px,#0000df 160px,#0000cf 161px,#0000cf 166px,#0000bf 167px,#0000bf 172px,#0000af 173px,#0000af 177px,#00009f 178px,#00009f 182px,#00008f 183px,#00008f 193px,#00009f 194px,#00009f 199px,#0000af 200px,#0000af 205px,#0000bf 206px,#0000bf 211px,#0000cf 212px,#0000cf 218px,#0000df 219px,#0000df 228px,#0000ef 229px,#0000ef"></i><i style="--g:#0000ef,#0000ef 14px,#0000df 15px,#0000df 26px,#0000cf 27px,#0000cf 35px,#0000bf 36px,#0000bf 42px,#0000af 43px,#0000af 48px,#00009f 49px,#00009f 54px,#00008f 55px,#00008f 65px,#00009f 66px,#00009f 71px,#0000af 72px,#0000af 77px,#0000bf 78px,#0000bf 83px,#0000cf 84px,#0000cf 90px,#0000df 91px,#0000df 98px,#0000ef 99px,#0000ef 109px,#0000ff 110px,#0000ff 139px,#0000ef 140px,#0000ef 150px,#0000df 151px,#0000df 158px,#0000cf 159px,#0000cf 165px,#0000bf 166px,#0000bf 171px,#0000af 172px,#0000af 177px,#00009f 178px,#00009f 182px,#00008f 183px,#00008f 194px,#00009f 195px,#00009f 200px,#0000af 201px,#0000af 206px,#0000bf 207px,#0000bf 213px,#0000cf 214px,#0000cf 221px,#0000df 222px,#0000df 233px,#0000ef 234px,#0000ef"></i><i style="--g:#0000df,#0000df 23px,#0000cf 24px,#0000cf 32px,#0000bf 33px,#0000bf 40px,#0000af 41px,#0000af 47px,#00009f 48px,#00009f 53px,#00008f 54px,#00008f 65px,#00009f 66px,#00009f 71px,#0000af 72px,#0000af 77px,#0000bf 78px,#0000bf 84px,#0000cf 85px,#0000cf 92px,#0000df 93px,#0000df 101px,#0000ef 102px,#0000ef 116px,#0000ff 117px,#0000ff 131px,#0000ef 132px,#0000ef 147px,#0000df 148px,#0000df 156px,#0000cf 157px,#0000cf 163px,#0000bf 164px,#0000bf 170px,#0000af 171px,#0000af 176px,#00009f 177px,#00009f 182px,#00008f 183px,#00008f 194px,#00009f 195px,#00009f 201px,#0000af 202px,#0000af 207px,#0000bf 208px,#0000bf 215px,#0000cf 216px,#0000cf 224px,#0000df 225px,#0000df"></i><i style="--g:#0000df,#0000df 19px,#0000cf 20px,#0000cf 30px,#0000bf 31px,#0000bf 39px,#0000af 40px,#0000af 46px,#00009f 47px,#00009f 53px,#00008f 54px,#00008f 65px,#00009f 66px,#00009f 72px,#0000af 73px,#0000af 78px,#0000bf 79px,#0000bf 85px,#0000cf 86px,#0000cf 94px,#0000df 95px,#0000df 104px,#0000ef 105px,#0000ef 143px,#0000df 144px,#0000df 154px,#0000cf 155px,#0000cf 162px,#0000bf 163px,#0000bf 169px,#0000af 170px,#0000af 176px,#00009f 177px,#00009f 182px,#00008f 183px,#00008f 195px,#00009f 196px,#00009f 202px,#0000af 203px,#0000af 209px,#0000bf 210px,#0000bf 217px,#0000cf 218px,#0000cf 229px,#0000df 230px,#0000df"></i><i style="--g:#0000df,#0000df 13px,#0000cf 14px,#0000cf 27px,#0000bf 28px,#0000bf 37px,#0000af 38px,#0000af 45px,#00009f 46px,#00009f 52px,#00008f 53px,#00008f 65px,#00009f 66px,#00009f 72px,#0000af 73px,#0000af 79px,#0000bf 80px,#0000bf 87px,#0000cf 88px,#0000cf 96px,#0000df 97px,#0000df 109px,#0000ef 110px,#0000ef 138px,#0000df 139px,#0000df 151px,#0000cf 152px,#0000cf 160px,#0000bf 161px,#0000bf 168px,#0000af 169px,#0000af 175px,#00009f 176px,#00009f 182px,#00008f 183px,#00008f 196px,#00009f 197px,#00009f 203px,#0000af 204px,#0000af 211px,#0000bf 212px,#0000bf 220px,#0000cf 221px,#0000cf 234px,#0000df 235px,#0000df"></i><i style="--g:#0000cf,#0000cf 24px,#0000bf 25px,#0000bf 35px,#0000af 36px,#0000af 44px,#00009f 45px,#00009f 51px,#00008f 52px,#00008f 66px,#00009f 67px,#00009f 73px,#0000af 74px,#0000af 80px,#0000bf 81px,#0000bf 89px,#0000cf 90px,#0000cf 99px,#0000df 100px,#0000df 117px,#0000ef 118px,#0000ef 130px,#0000df 131px,#0000df 148px,#0000cf 149px,#0000cf 159px,#0000bf 160px,#0000bf 167px,#0000af 168px,#0000af 175px,#00009f 176px,#00009f 182px,#00008f 183px,#00008f 196px,#00009f 197px,#00009f 204px,#0000af 205px,#0000af 212px,#0000bf 213px,#0000bf 223px,#0000cf 224px,#0000cf"></i><i style="--g:#0000cf,#0000cf 20px,#0000bf 21px,#0000bf 33px,#0000af 34px,#0000af 42px,#00009f 43px,#00009f 50px,#00008f 51px,#00008f 66px,#00009f 67px,#00009f 73px,#0000af 74px,#0000af 81px,#0000bf 82px,#0000bf 91px,#0000cf 92px,#0000cf 102px,#0000df 103px,#0000df 145px,#0000cf 146px,#0000cf 157px,#0000bf 158px,#0000bf 166px,#0000af 167px,#0000af 174px,#00009f 175px,#00009f 182px,#00008f 183px,#00008f 197px,#00009f 198px,#00009f 205px,#0000af 206px,#0000af 215px,#0000bf 216px,#0000bf 227px,#0000cf 228px,#0000cf"></i><i style="--g:#0000cf,#0000cf 15px,#0000bf 16px,#0000bf 30px,#0000af 31px,#0000af 41px,#00009f 42px,#00009f 50px,#00008f 51px,#00008f 66px,#00009f 67px,#00009f 74px,#0000af 75px,#0000af 83px,#0000bf 84px,#0000bf 93px,#0000cf 94px,#0000cf 106px,#0000df 107px,#0000df 141px,#0000cf 142px,#0000cf 155px,#0000bf 156px,#0000bf 165px,#0000af 166px,#0000af 173px,#00009f 174px,#00009f 182px,#00008f 183px,#00008f 198px,#00009f 199px,#00009f 207px,#0000af 208px,#0000af 217px,#0000bf 218px,#0000bf 232px,#0000cf 233px,#0000cf"></i><i style="--g:#0000cf,#0000cf 6px,#0000bf 7px,#0000bf 28px,#0000af 29px,#0000af 39px,#00009f 40px,#00009f 49px,#00008f 50px,#00008f 66px,#00009f 67px,#00009f 75px,#0000af 76px,#0000af 84px,#0000bf 85px,#0000bf 95px,#0000cf 96px,#0000cf 112px,#0000df 113px,#0000df 135px,#0000cf 136px,#0000cf 152px,#0000bf 153px,#0000bf 163px,#0000af 164px,#0000af 173px,#00009f 174px,#00009f 181px,#00008f 182px,#00008f 199px,#00009f 200px,#00009f 208px,#0000af 209px,#0000af 220px,#0000bf 221px,#0000bf 241px,#0000cf 242px,#0000cf"></i><i style="--g:#0000bf,#0000bf 25px,#0000af 26px,#0000af 38px,#00009f 39px,#00009f 48px,#00008f 49px,#00008f 66px,#00009f 67px,#00009f 75px,#0000af 76px,#0000af 85px,#0000bf 86px,#0000bf 98px,#0000cf 99px,#0000cf 150px,#0000bf 151px,#0000bf 162px,#0000af 163px,#0000af 172px,#00009f 173px,#00009f 181px,#00008f 182px,#00008f 199px,#00009f 200px,#00009f 210px,#0000af 211px,#0000af 223px,#0000bf 224px,#0000bf"></i><i style="--g:#0000bf,#0000bf 21px,#0000af 22px,#0000af 36px,#00009f 37px,#00009f 47px,#00008f 48px,#00008f 66px,#00009f 67px,#00009f 76px,#0000af 77px,#0000af 87px,#0000bf 88px,#0000bf 101px,#0000cf 102px,#0000cf 147px,#0000bf 148px,#0000bf 160px,#0000af 161px,#0000af 171px,#00009f 172px,#00009f 181px,#00008f 182px,#00008f 200px,#00009f 201px,#00009f 211px,#0000af 212px,#0000af 226px,#0000bf 227px,#0000bf"></i><i style="--g:#0000bf,#0000bf 16px,#0000af 17px,#0000af 34px,#00009f 35px,#00009f 46px,#00008f 47px,#00008f 67px,#00009f 68px,#00009f 77px,#0000af 78px,#0000af 89px,#0000bf 90px,#0000bf 104px,#0000cf 105px,#0000cf 143px,#0000bf 144px,#0000bf 159px,#0000af 160px,#0000af 170px,#00009f 171px,#00009f 181px,#00008f 182px,#00008f 201px,#00009f 202px,#00009f 213px,#0000af 214px,#0000af 231px,#0000bf 232px,#0000bf"></i><i style="--g:#0000bf,#0000bf 9px,#0000af 10px,#0000af 32px,#00009f 33px,#00009f 45px,#00008f 46px,#00008f 67px,#00009f 68px,#00009f 78px,#0000af 79px,#0000af 90px,#0000bf 91px,#0000bf 109px,#0000cf 110px,#0000cf 138px,#0000bf 139px,#0000bf 157px,#0000af 158px,#0000af 170px,#00009f 171px,#00009f 181px,#00008f 182px,#00008f 203px,#00009f 204px,#00009f 216px,#0000af 217px,#0000af 239px,#0000bf 240px,#0000bf"></i><i style="--g:#0000af,#0000af 29px,#00009f 30px,#00009f 44px,#00008f 45px,#00008f 67px,#00009f 68px,#00009f 79px,#0000af 80px,#0000af 93px,#0000bf 94px,#0000bf 117px,#0000cf 118px,#0000cf 130px,#0000bf 131px,#0000bf 155px,#0000af 156px,#0000af 169px,#00009f 170px,#00009f 180px,#00008f 181px,#00008f 204px,#00009f 205px,#00009f 218px,#0000af 219px,#0000af"></i><i style="--g:#0000af,#0000af 26px,#00009f 27px,#00009f 42px,#00008f 43px,#00008f 67px,#00009f 68px,#00009f 80px,#0000af 81px,#0000af 95px,#0000bf 96px,#0000bf 153px,#0000af 154px,#0000af 168px,#00009f 169px,#00009f 180px,#00008f 181px,#00008f 205px,#00009f 206px,#00009f 221px,#0000af 222px,#0000af"></i><i style="--g:#0000af,#0000af 23px,#00009f 24px,#00009f 41px,#00008f 42px,#00008f 68px,#00009f 69px,#00009f 81px,#0000af 82px,#0000af 97px,#0000bf 98px,#0000bf 150px,#0000af 151px,#0000af 166px,#00009f 167px,#00009f 180px,#00008f 181px,#00008f 206px,#00009f 207px,#00009f 224px,#0000af 225px,#0000af"></i><i style="--g:#0000af,#0000af 19px,#00009f 20px,#00009f 40px,#00008f 41px,#00008f 68px,#00009f 69px,#00009f 82px,#0000af 83px,#0000af 100px,#0000bf 101px,#0000bf 147px,#0000af 148px,#0000af 165px,#00009f 166px,#00009f 180px,#00008f 181px,#00008f 208px,#00009f 209px,#00009f 228px,#0000af 229px,#0000af"></i><i style="--g:#0000af,#0000af 13px,#00009f 14px,#00009f 38px,#00008f 39px,#00008f 68px,#00009f 69px,#00009f 83px,#0000af 84px,#0000af 104px,#0000bf 105px,#0000bf 143px,#0000af 144px,#0000af 164px,#00009f 165px,#00009f 179px,#00008f 180px,#00008f 209px,#00009f 210px,#00009f 234px,#0000af 235px,#0000af"></i><i style="--g:#00009f,#00009f 36px,#00008f 37px,#00008f 68px,#00009f 69px,#00009f 85px,#0000af 86px,#0000af 109px,#0000bf 110px,#0000bf 138px,#0000af 139px,#0000af 163px,#00009f 164px,#00009f 179px,#00008f 180px,#00008f 211px,#00009f 212px,#00009f"></i><i style="--g:#00009f,#00009f 34px,#00008f 35px,#00008f 69px,#00009f 70px,#00009f 86px,#0000af 87px,#0000af 117px,#0000bf 118px,#0000bf 131px,#0000af 132px,#0000af 161px,#00009f 162px,#00009f 179px,#00008f 180px,#00008f 213px,#00009f 214px,#00009f"></i><i style="--g:#00009f,#00009f 32px,#00008f 33px,#00008f 69px,#00009f 70px,#00009f 88px,#0000af 89px,#0000af 160px,#00009f 161px,#00009f 178px,#00008f 179px,#00008f 215px,#00009f 216px,#00009f"></i><i style="--g:#00009f,#00009f 30px,#00008f 31px,#00008f 69px,#00009f 70px,#00009f 90px,#0000af 91px,#0000af 158px,#00009f 159px,#00009f 178px,#00008f 179px,#00008f 218px,#00009f 219px,#00009f"></i><i style="--g:#00009f,#00009f 27px,#00008f 28px,#00008f 70px,#00009f 71px,#00009f 92px,#0000af 93px,#0000af 156px,#00009f 157px,#00009f 178px,#00008f 179px,#00008f 220px,#00009f 221px,#00009f"></i><i style="--g:#00009f,#00009f 24px,#00008f 25px,#00008f 70px,#00009f 71px,#00009f 94px,#0000af 95px,#0000af 154px,#00009f 155px,#00009f 177px,#00008f 178px,#00008f 224px,#00009f 225px,#00009f"></i><i style="--g:#00009f,#00009f 20px,#00008f 21px,#00008f 71px,#00009f 72px,#00009f 96px,#0000af 97px,#0000af 151px,#00009f 152px,#00009f 177px,#00008f 178px,#00008f 228px,#00009f 229px,#00009f"></i><i style="--g:#00009f,#00009f 15px,#00008f 16px,#00008f 71px,#00009f 72px,#00009f 99px,#0000af 100px,#0000af 148px,#00009f 149px,#00009f 176px,#00008f 177px,#00008f 233px,#00009f 234px,#00009f"></i><i style="--g:#00009f,#00009f 3px,#00008f 4px,#00008f 72px,#00009f 73px,#00009f 102px,#0000af 103px,#0000af 145px,#00009f 146px,#00009f 176px,#00008f 177px,#00008f 244px,#00009f"></i><i style="--g:#00008f,#00008f 72px,#00009f 73px,#00009f 107px,#0000af 108px,#0000af 141px,#00009f 142px,#00009f 175px,#00008f 176px,#00008f"></i><i style="--g:#00008f,#00008f 73px,#00009f 74px,#00009f 112px,#0000af 113px,#0000af 135px,#00009f 136px,#00009f 175px,#00008f 176px,#00008f"></i><i style="--g:#00008f,#00008f 73px,#00009f 74px,#00009f 174px,#00008f 175px,#00008f"></i><i style="--g:#00008f,#00008f 74px,#00009f 75px,#00009f 173px,#00008f 174px,#00008f"></i><i style="--g:#00008f,#00008f 75px,#00009f 76px,#00009f 173px,#00008f 174px,#00008f"></i><i style="--g:#00008f,#00008f 76px,#00009f 77px,#00009f 172px,#00008f 173px,#00008f"></i><i style="--g:#00008f,#00008f 76px,#00009f 77px,#00009f 171px,#00008f 172px,#00008f"></i><i style="--g:#00008f,#00008f 77px,#00009f 78px,#00009f 170px,#00008f 171px,#00008f"></i><i style="--g:#00008f,#00008f 78px,#00009f 79px,#00009f 169px,#00008f 170px,#00008f"></i><i style="--g:#00008f,#00008f 79px,#00009f 80px,#00009f 168px,#00008f 169px,#00008f"></i><i style="--g:#00008f,#00008f 80px,#00009f 81px,#00009f 167px,#00008f 168px,#00008f"></i><i style="--g:#00008f,#00008f 81px,#00009f 82px,#00009f 166px,#00008f 167px,#00008f"></i><i style="--g:#00008f,#00008f 82px,#00009f 83px,#00009f 165px,#00008f 166px,#00008f"></i><i style="--g:#00008f,#00008f 84px,#00009f 85px,#00009f 164px,#00008f 165px,#00008f"></i><i style="--g:#00008f,#00008f 85px,#00009f 86px,#00009f 162px,#00008f 163px,#00008f"></i><i style="--g:#00008f,#00008f 87px,#00009f 88px,#00009f 161px,#00008f 162px,#00008f"></i><i style="--g:#00008f,#00008f 88px,#00009f 89px,#00009f 159px,#00008f 160px,#00008f"></i><i style="--g:#00008f,#00008f 90px,#00009f 91px,#00009f 157px,#00008f 158px,#00008f"></i><i style="--g:#00008f,#00008f 92px,#00009f 93px,#00009f 155px,#00008f 156px,#00008f"></i><i style="--g:#00008f,#00008f 94px,#00009f 95px,#00009f 153px,#00008f 154px,#00008f"></i><i style="--g:#00008f,#00008f 97px,#00009f 98px,#00009f 151px,#00008f 152px,#00008f"></i><i style="--g:#00008f,#00008f 100px,#00009f 101px,#00009f 148px,#00008f 149px,#00008f"></i><i style="--g:#00008f,#00008f 103px,#00009f 104px,#00009f 144px,#00008f 145px,#00008f"></i><i style="--g:#00008f,#00008f 108px,#00009f 109px,#00009f 140px,#00008f 141px,#00008f"></i><i style="--g:#00008f,#00008f 114px,#00009f 115px,#00009f 133px,#00008f 134px,#00008f"></i><i style="--g:#00008f,#00008f;height:25px"></i></div>
<svg class="ov" width="675" height="588" viewBox="0 0 675 588"><g stroke="#fff" fill="none"><line x1="385" y1="421.40" x2="630" y2="421.40" stroke-width="1.90"/><line x1="385" y1="443.70" x2="630" y2="443.70" stroke-width="1.90"/><line x1="444.30" y1="421.40" x2="444.30" y2="443.70" stroke-width="2.10"/><line x1="566.80" y1="421.40" x2="566.80" y2="443.70" stroke-width="2.10"/></g><g stroke="#000" stroke-opacity="0.3" stroke-width="0.5" fill="none"><rect x="639.2" y="337.2" width="12.6" height="216.6"/><path d="M639.0 499.2h2M652.0 499.2h-2"/><path d="M639.0 445.1h2M652.0 445.1h-2"/><path d="M639.0 391.1h2M652.0 391.1h-2"/></g></svg>
<div class="cb" style="left:639px;top:337px;width:13px;height:217px;background:linear-gradient(0deg,#000087 0.000%,#000087 1.562%,#000097 1.562%,#000097 3.125%,#0000a7 3.125%,#0000a7 4.688%,#0000b7 4.688%,#0000b7 6.250%,#0000c7 6.250%,#0000c7 7.812%,#0000d7 7.812%,#0000d7 9.375%,#0000e7 9.375%,#0000e7 10.938%,#0000f7 10.938%,#0000f7 12.500%,#0008ff 12.500%,#0008ff 14.062%,#0018ff 14.062%,#0018ff 15.625%,#0028ff 15.625%,#0028ff 17.188%,#0038ff 17.188%,#0038ff 18.750%,#0048ff 18.750%,#0048ff 20.312%,#0058ff 20.312%,#0058ff 21.875%,#0068ff 21.875%,#0068ff 23.438%,#0078ff 23.438%,#0078ff 25.000%,#0087ff 25.000%,#0087ff 26.562%,#0097ff 26.562%,#0097ff 28.125%,#00a7ff 28.125%,#00a7ff 29.688%,#00b7ff 29.688%,#00b7ff 31.250%,#00c7ff 31.250%,#00c7ff 32.812%,#00d7ff 32.812%,#00d7ff 34.375%,#00e7ff 34.375%,#00e7ff 35.938%,#00f7ff 35.938%,#00f7ff 37.500%,#08fff7 37.500%,#08fff7 39.062%,#18ffe7 39.062%,#18ffe7 40.625%,#28ffd7 40.625%,#28ffd7 42.188%,#38ffc7 42.188%,#38ffc7 43.750%,#48ffb7 43.750%,#48ffb7 45.312%,#58ffa7 45.312%,#58ffa7 46.875%,#68ff97 46.875%,#68ff97 48.438%,#78ff87 48.438%,#78ff87 50.000%,#87ff78 50.000%,#87ff78 51.562%,#97ff68 51.562%,#97ff68 53.125%,#a7ff58 53.125%,#a7ff58 54.688%,#b7ff48 54.688%,#b7ff48 56.250%,#c7ff38 56.250%,#c7ff38 57.812%,#d7ff28 57.812%,#d7ff28 59.375%,#e7ff18 59.375%,#e7ff18 60.938%,#f7ff08 60.938%,#f7ff08 62.500%,#fff700 62.500%,#fff700 64.062%,#ffe700 64.062%,#ffe700 65.625%,#ffd700 65.625%,#ffd700 67.188%,#ffc700 67.188%,#ffc700 68.750%,#ffb700 68.750%,#ffb700 70.312%,#ffa700 70.312%,#ffa700 71.875%,#ff9700 71.875%,#ff9700 73.438%,#ff8700 73.438%,#ff8700 75.000%,#ff7800 75.000%,#ff7800 76.562%,#ff6800 76.562%,#ff6800 78.125%,#ff5800 78.125%,#ff5800 79.688%,#ff4800 79.688%,#ff4800 81.250%,#ff3800 81.250%,#ff3800 82.812%,#ff2800 82.812%,#ff2800 84.375%,#ff1800 84.375%,#ff1800 85.938%,#ff0800 85.938%,#ff0800 87.500%,#f70000 87.500%,#f70000 89.062%,#e70000 89.062%,#e70000 90.625%,#d70000 90.625%,#d70000 92.188%,#c70000 92.188%,#c70000 93.750%,#b70000 93.750%,#b70000 95.312%,#a70000 95.312%,#a70000 96.875%,#970000 96.875%,#970000 98.438%,#870000 98.438%,#870000 100.000%)"></div>
<div class="tk zr" style="left:342.5px;top:329.5px">1.5</div><div class="tk zr" style="left:342.5px;top:365.5px">1</div><div class="tk zr" style="left:342.5px;top:401.6px">0.5</div><div class="tk zr" style="left:342.5px;top:437.6px">0</div><div class="tk zr" style="left:342.5px;top:473.6px">-0.5</div><div class="tk zr" style="left:342.5px;top:509.7px">-1</div><div class="tk zr" style="left:342.5px;top:545.7px">-1.5</div><div class="tk xc" style="left:375.7px;top:555.5px">-0.4</div><div class="tk xc" style="left:430.2px;top:555.5px">-0.2</div><div class="tk xc" style="left:487.3px;top:555.5px">0</div><div class="tk xc" style="left:541.9px;top:555.5px">0.2</div><div class="tk xc" style="left:596.4px;top:555.5px">0.4</div><div class="tk cl" style="left:653.8px;top:329.9px">2</div><div class="tk cl" style="left:653.8px;top:383.9px">1.5</div><div class="tk cl" style="left:653.8px;top:438.0px">1</div><div class="tk cl" style="left:653.8px;top:492.1px">0.5</div><div class="tk cl" style="left:653.8px;top:546.1px">0</div><div class="ax" style="left:467.4px;top:570.1px;width:80px;text-align:center">X (<span class="mu">&mu;</span>m)</div>
<div class="nl" style="left:386.0px;top:417.9px;color:#000">n<sub>L</sub></div><div class="nl" style="left:480.5px;top:417.9px;color:#000">n<sub>H</sub></div><div class="nl" style="left:568.4px;top:417.9px;color:#000">n<sub>L</sub></div>
<div class="pl" style="left:339.4px;top:296.8px">(d)</div><div class="tt" style="left:443.8px;top:308.1px">|<i>E<sub>y</sub></i>| for only HCG</div>
</body></html>
